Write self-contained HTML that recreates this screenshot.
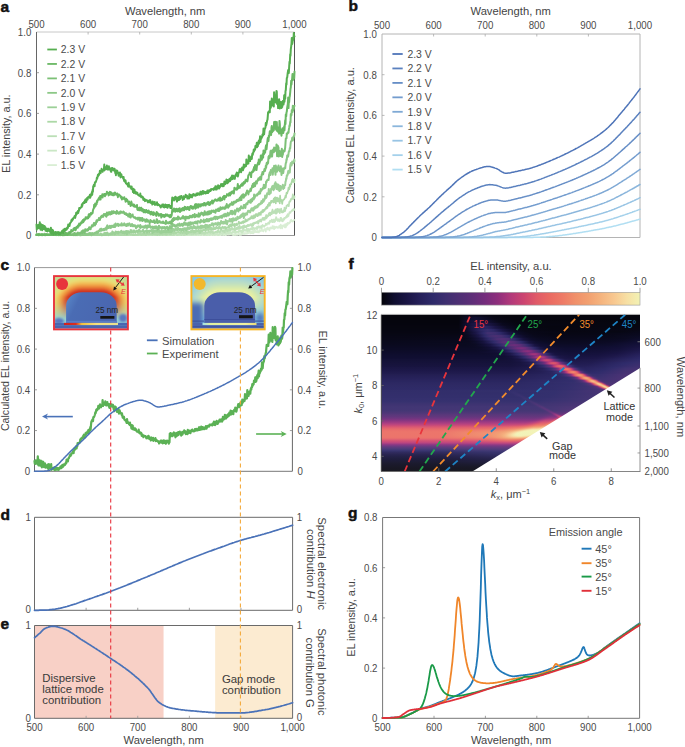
<!DOCTYPE html>
<html><head><meta charset="utf-8"><style>
html,body{margin:0;padding:0;background:#fff;}
svg{display:block;font-family:"Liberation Sans", sans-serif;}
</style></head><body>
<svg width="685" height="747" viewBox="0 0 685 747">
<rect width="685" height="747" fill="#fff"/>
<line x1="36.50" y1="32.00" x2="294.50" y2="32.00" stroke="#c8c8c8" stroke-width="1" />
<line x1="36.50" y1="235.50" x2="294.50" y2="235.50" stroke="#9a9a9a" stroke-width="1" />
<line x1="36.50" y1="32.00" x2="36.50" y2="235.50" stroke="#666" stroke-width="1" />
<line x1="294.50" y1="32.00" x2="294.50" y2="235.50" stroke="#555" stroke-width="1" />
<line x1="36.50" y1="194.80" x2="39.00" y2="194.80" stroke="#888" stroke-width="0.8" />
<line x1="36.50" y1="154.10" x2="39.00" y2="154.10" stroke="#888" stroke-width="0.8" />
<line x1="36.50" y1="113.40" x2="39.00" y2="113.40" stroke="#888" stroke-width="0.8" />
<line x1="36.50" y1="72.70" x2="39.00" y2="72.70" stroke="#888" stroke-width="0.8" />
<text x="31.30" y="238.99" font-size="9.7" text-anchor="end" fill="#4a4a4a" font-weight="normal" transform="translate(0 -23.55) scale(1 1.1)" >0</text>
<text x="31.30" y="198.29" font-size="9.7" text-anchor="end" fill="#4a4a4a" font-weight="normal" transform="translate(0 -19.48) scale(1 1.1)" >0.2</text>
<text x="31.30" y="157.59" font-size="9.7" text-anchor="end" fill="#4a4a4a" font-weight="normal" transform="translate(0 -15.41) scale(1 1.1)" >0.4</text>
<text x="31.30" y="116.89" font-size="9.7" text-anchor="end" fill="#4a4a4a" font-weight="normal" transform="translate(0 -11.34) scale(1 1.1)" >0.6</text>
<text x="31.30" y="76.19" font-size="9.7" text-anchor="end" fill="#4a4a4a" font-weight="normal" transform="translate(0 -7.27) scale(1 1.1)" >0.8</text>
<text x="31.30" y="35.49" font-size="9.7" text-anchor="end" fill="#4a4a4a" font-weight="normal" transform="translate(0 -3.20) scale(1 1.1)" >1.0</text>
<text x="36.50" y="27.49" font-size="9.7" text-anchor="middle" fill="#4a4a4a" font-weight="normal" transform="translate(0 -2.40) scale(1 1.1)" >500</text>
<text x="88.10" y="27.49" font-size="9.7" text-anchor="middle" fill="#4a4a4a" font-weight="normal" transform="translate(0 -2.40) scale(1 1.1)" >600</text>
<line x1="88.10" y1="32.00" x2="88.10" y2="34.50" stroke="#aaa" stroke-width="0.8" />
<text x="139.70" y="27.49" font-size="9.7" text-anchor="middle" fill="#4a4a4a" font-weight="normal" transform="translate(0 -2.40) scale(1 1.1)" >700</text>
<line x1="139.70" y1="32.00" x2="139.70" y2="34.50" stroke="#aaa" stroke-width="0.8" />
<text x="191.30" y="27.49" font-size="9.7" text-anchor="middle" fill="#4a4a4a" font-weight="normal" transform="translate(0 -2.40) scale(1 1.1)" >800</text>
<line x1="191.30" y1="32.00" x2="191.30" y2="34.50" stroke="#aaa" stroke-width="0.8" />
<text x="242.90" y="27.49" font-size="9.7" text-anchor="middle" fill="#4a4a4a" font-weight="normal" transform="translate(0 -2.40) scale(1 1.1)" >900</text>
<line x1="242.90" y1="32.00" x2="242.90" y2="34.50" stroke="#aaa" stroke-width="0.8" />
<text x="294.50" y="27.49" font-size="9.7" text-anchor="middle" fill="#4a4a4a" font-weight="normal" transform="translate(0 -2.40) scale(1 1.1)" >1,000</text>
<text x="165.20" y="15.03" font-size="11.2" text-anchor="middle" fill="#444444" font-weight="normal" >Wavelength, nm</text>
<text x="6.00" y="137.59" font-size="10.8" text-anchor="middle" fill="#444444" font-weight="normal" transform="rotate(-90 6.00 133.70)" >EL intensity, a.u.</text>
<text x="0.5" y="11.5" font-size="15.5" font-weight="bold" fill="#111" stroke="#111" stroke-width="0.5">a</text>
<path d="M36.5,233.4 36.8,235.1 37.2,234.1 37.5,235.1 37.8,235.0 38.2,234.7 38.5,235.1 38.8,235.1 39.2,235.0 39.5,233.7 39.8,235.1 40.2,234.8 40.5,235.1 40.8,234.8 41.2,233.7 41.5,234.4 41.8,235.1 42.2,235.1 42.5,235.1 42.8,235.1 43.2,235.1 43.5,234.0 43.8,235.1 44.2,233.7 44.5,235.1 44.8,235.1 45.2,235.1 45.5,235.1 45.8,235.1 46.2,235.1 46.5,235.1 46.8,235.1 47.2,235.1 47.5,234.7 47.8,235.0 48.2,235.1 48.5,234.7 48.8,235.1 49.2,235.1 49.5,235.1 49.9,235.1 50.2,234.5 50.5,235.1 50.9,235.1 51.2,235.1 51.5,235.1 51.9,235.1 52.2,235.1 52.5,234.0 52.9,235.1 53.2,235.1 53.5,235.1 53.9,235.1 54.2,235.1 54.5,235.0 54.9,235.1 55.2,234.4 55.5,235.1 55.9,235.1 56.2,235.1 56.5,235.1 56.9,234.9 57.2,233.5 57.5,235.1 57.9,234.3 58.2,234.8 58.5,235.1 58.9,235.1 59.2,235.1 59.5,235.1 59.9,235.1 60.2,235.1 60.5,235.1 60.9,234.8 61.2,235.1 61.5,235.1 61.9,233.5 62.2,234.8 62.5,235.1 62.9,235.0 63.2,235.1 63.5,235.1 63.9,234.9 64.2,235.1 64.5,235.1 64.9,235.1 65.2,234.5 65.5,235.1 65.9,235.1 66.2,235.1 66.5,235.1 66.9,235.1 67.2,235.1 67.5,235.1 67.9,235.1 68.2,235.1 68.5,235.1 68.9,234.1 69.2,235.1 69.5,235.1 69.9,235.1 70.2,234.4 70.5,235.1 70.9,235.1 71.2,235.1 71.5,234.7 71.9,235.1 72.2,235.1 72.5,235.1 72.9,235.1 73.2,235.1 73.5,235.1 73.9,235.1 74.2,235.1 74.5,235.1 74.9,235.1 75.2,234.4 75.6,233.9 75.9,235.1 76.2,235.1 76.6,234.8 76.9,235.1 77.2,235.1 77.6,235.1 77.9,234.9 78.2,235.1 78.6,235.1 78.9,235.0 79.2,235.1 79.6,235.1 79.9,235.1 80.2,235.1 80.6,235.1 80.9,235.1 81.2,235.1 81.6,235.1 81.9,235.1 82.2,234.5 82.6,235.1 82.9,235.1 83.2,234.7 83.6,235.1 83.9,235.1 84.2,234.4 84.6,235.1 84.9,235.1 85.2,235.0 85.6,235.1 85.9,235.0 86.2,235.1 86.6,235.1 86.9,234.9 87.2,235.1 87.6,235.0 87.9,235.1 88.2,235.1 88.6,235.1 88.9,235.1 89.2,234.8 89.6,235.1 89.9,235.1 90.2,235.1 90.6,234.9 90.9,235.1 91.2,235.1 91.6,235.1 91.9,235.1 92.2,234.3 92.6,234.1 92.9,235.0 93.2,235.1 93.6,235.1 93.9,234.8 94.2,235.1 94.6,235.1 94.9,234.1 95.2,235.1 95.6,235.1 95.9,235.1 96.2,235.1 96.6,235.1 96.9,235.1 97.2,235.1 97.6,235.1 97.9,235.1 98.2,234.9 98.6,235.1 98.9,235.1 99.2,235.1 99.6,235.1 99.9,235.1 100.2,234.1 100.6,234.5 100.9,235.0 101.3,235.1 101.6,235.1 101.9,233.7 102.3,235.1 102.6,235.1 102.9,234.5 103.3,234.2 103.6,234.8 103.9,234.2 104.3,235.1 104.6,234.2 104.9,235.1 105.3,234.9 105.6,235.1 105.9,235.0 106.3,235.1 106.6,235.0 106.9,235.1 107.3,235.1 107.6,235.1 107.9,234.9 108.3,235.1 108.6,235.1 108.9,235.1 109.3,234.4 109.6,235.1 109.9,235.1 110.3,234.4 110.6,235.1 110.9,235.1 111.3,235.1 111.6,235.1 111.9,235.1 112.3,234.7 112.6,234.9 112.9,234.4 113.3,235.1 113.6,235.1 113.9,235.1 114.3,234.3 114.6,235.0 114.9,233.5 115.3,233.9 115.6,235.1 115.9,234.7 116.3,234.7 116.6,234.6 116.9,235.1 117.3,235.1 117.6,235.1 117.9,234.5 118.3,235.1 118.6,235.1 118.9,235.1 119.3,235.1 119.6,235.1 119.9,235.1 120.3,235.1 120.6,234.7 120.9,235.1 121.3,235.1 121.6,235.1 121.9,235.1 122.3,235.1 122.6,235.1 122.9,235.1 123.3,235.1 123.6,233.7 123.9,235.1 124.3,234.4 124.6,235.1 124.9,235.0 125.3,235.1 125.6,235.1 125.9,234.8 126.3,235.1 126.6,234.4 127.0,235.1 127.3,235.1 127.6,235.1 128.0,234.7 128.3,235.0 128.6,235.1 129.0,235.1 129.3,235.1 129.6,235.1 130.0,235.1 130.3,235.1 130.6,234.7 131.0,235.1 131.3,235.1 131.6,235.1 132.0,235.1 132.3,235.1 132.6,235.0 133.0,235.1 133.3,235.1 133.6,235.1 134.0,234.4 134.3,235.1 134.6,234.3 135.0,235.0 135.3,235.1 135.6,234.4 136.0,235.1 136.3,234.8 136.6,235.1 137.0,235.1 137.3,235.1 137.6,235.1 138.0,234.7 138.3,235.0 138.6,235.1 139.0,235.1 139.3,235.1 139.6,235.1 140.0,235.1 140.3,235.1 140.6,235.1 141.0,235.1 141.3,235.1 141.6,234.5 142.0,235.1 142.3,235.1 142.6,234.4 143.0,234.6 143.3,235.1 143.6,235.1 144.0,235.1 144.3,235.1 144.6,235.1 145.0,235.1 145.3,235.1 145.6,235.1 146.0,234.3 146.3,234.8 146.6,235.1 147.0,235.1 147.3,234.9 147.6,235.1 148.0,235.1 148.3,235.1 148.6,235.1 149.0,235.1 149.3,235.1 149.6,234.0 150.0,235.1 150.3,235.1 150.6,235.1 151.0,235.1 151.3,235.0 151.6,234.5 152.0,235.1 152.3,234.8 152.7,234.8 153.0,235.1 153.3,235.1 153.7,235.1 154.0,235.1 154.3,235.1 154.7,235.1 155.0,234.5 155.3,235.1 155.7,235.1 156.0,235.1 156.3,235.1 156.7,235.1 157.0,235.1 157.3,235.1 157.7,235.1 158.0,235.1 158.3,235.1 158.7,235.1 159.0,235.1 159.3,235.1 159.7,235.1 160.0,235.1 160.3,235.1 160.7,235.1 161.0,235.1 161.3,235.1 161.7,235.1 162.0,235.1 162.3,234.9 162.7,235.1 163.0,235.1 163.3,235.1 163.7,235.1 164.0,233.9 164.3,235.1 164.7,235.1 165.0,235.1 165.3,235.0 165.7,234.9 166.0,234.9 166.3,234.9 166.7,235.1 167.0,235.1 167.3,235.1 167.7,235.1 168.0,235.1 168.3,234.1 168.7,235.1 169.0,234.3 169.3,235.1 169.7,235.0 170.0,235.1 170.3,234.4 170.7,234.8 171.0,235.1 171.3,234.3 171.7,235.1 172.0,235.1 172.3,235.1 172.7,235.1 173.0,235.1 173.3,235.1 173.7,235.1 174.0,235.1 174.3,235.1 174.7,234.1 175.0,235.1 175.3,235.1 175.7,235.1 176.0,233.7 176.3,235.1 176.7,235.1 177.0,235.1 177.3,235.1 177.7,235.1 178.0,234.8 178.3,235.1 178.7,235.1 179.0,235.1 179.4,235.1 179.7,235.1 180.0,235.1 180.4,235.1 180.7,234.7 181.0,234.3 181.4,234.8 181.7,235.1 182.0,235.1 182.4,234.7 182.7,235.1 183.0,235.1 183.4,235.1 183.7,235.1 184.0,235.1 184.4,235.1 184.7,235.1 185.0,235.1 185.4,235.1 185.7,235.1 186.0,233.5 186.4,235.1 186.7,234.6 187.0,235.1 187.4,234.5 187.7,235.1 188.0,235.1 188.4,235.1 188.7,235.1 189.0,235.1 189.4,235.1 189.7,235.1 190.0,234.3 190.4,234.6 190.7,234.8 191.0,235.1 191.4,235.1 191.7,235.1 192.0,235.1 192.4,235.1 192.7,235.1 193.0,234.6 193.4,234.7 193.7,235.1 194.0,235.1 194.4,234.5 194.7,235.1 195.0,235.1 195.4,235.1 195.7,235.1 196.0,235.1 196.4,235.1 196.7,235.1 197.0,235.1 197.4,235.1 197.7,235.1 198.0,234.9 198.4,234.8 198.7,234.8 199.0,235.1 199.4,235.1 199.7,235.1 200.0,235.1 200.4,234.1 200.7,235.1 201.0,235.1 201.4,235.1 201.7,235.1 202.0,235.1 202.4,235.1 202.7,235.1 203.0,234.0 203.4,234.8 203.7,234.2 204.0,235.1 204.4,234.9 204.7,233.9 205.1,234.4 205.4,235.1 205.7,235.1 206.1,235.1 206.4,234.8 206.7,235.1 207.1,235.1 207.4,234.8 207.7,235.1 208.1,235.1 208.4,235.1 208.7,234.3 209.1,235.1 209.4,234.9 209.7,235.1 210.1,234.9 210.4,234.8 210.7,235.1 211.1,235.1 211.4,235.1 211.7,235.1 212.1,235.1 212.4,234.9 212.7,235.1 213.1,235.0 213.4,235.1 213.7,235.1 214.1,235.1 214.4,234.8 214.7,234.6 215.1,234.1 215.4,235.1 215.7,235.1 216.1,235.1 216.4,234.3 216.7,234.7 217.1,235.1 217.4,234.7 217.7,234.9 218.1,234.8 218.4,234.9 218.7,235.1 219.1,235.1 219.4,233.7 219.7,235.1 220.1,234.5 220.4,235.1 220.7,235.1 221.1,235.1 221.4,234.5 221.7,234.6 222.1,234.4 222.4,234.2 222.7,235.0 223.1,235.1 223.4,235.1 223.7,234.9 224.1,234.5 224.4,234.4 224.7,234.2 225.1,235.1 225.4,234.8 225.7,235.1 226.1,234.9 226.4,233.8 226.7,235.0 227.1,233.9 227.4,233.2 227.7,233.1 228.1,234.4 228.4,234.6 228.7,234.1 229.1,234.2 229.4,234.4 229.7,234.5 230.1,234.1 230.4,233.9 230.8,234.1 231.1,234.3 231.4,233.9 231.8,233.8 232.1,234.0 232.4,234.6 232.8,235.0 233.1,234.3 233.4,235.1 233.8,234.8 234.1,234.7 234.4,233.8 234.8,235.0 235.1,235.1 235.4,233.8 235.8,233.8 236.1,235.0 236.4,234.0 236.8,234.2 237.1,234.7 237.4,234.8 237.8,234.5 238.1,233.9 238.4,233.8 238.8,233.1 239.1,233.8 239.4,234.5 239.8,235.0 240.1,234.5 240.4,234.0 240.8,234.1 241.1,235.0 241.4,232.4 241.8,232.7 242.1,233.4 242.4,234.0 242.8,234.2 243.1,232.8 243.4,233.6 243.8,232.8 244.1,233.1 244.4,234.0 244.8,233.2 245.1,233.1 245.4,233.3 245.8,233.1 246.1,233.8 246.4,233.1 246.8,233.1 247.1,232.7 247.4,233.5 247.8,231.9 248.1,232.2 248.4,233.2 248.8,232.3 249.1,232.6 249.4,232.5 249.8,231.5 250.1,232.5 250.4,233.4 250.8,231.3 251.1,232.7 251.4,232.1 251.8,233.2 252.1,231.5 252.4,232.7 252.8,233.1 253.1,233.4 253.4,232.4 253.8,230.8 254.1,232.6 254.4,231.6 254.8,231.8 255.1,230.5 255.4,230.9 255.8,232.1 256.1,232.2 256.5,232.2 256.8,232.0 257.1,230.9 257.5,231.1 257.8,232.3 258.1,231.7 258.5,231.3 258.8,232.5 259.1,230.9 259.5,230.1 259.8,231.7 260.1,230.2 260.5,230.9 260.8,231.0 261.1,230.6 261.5,230.7 261.8,229.4 262.1,230.9 262.5,230.0 262.8,230.3 263.1,230.5 263.5,231.4 263.8,229.8 264.1,230.0 264.5,229.1 264.8,229.6 265.1,229.4 265.5,229.5 265.8,231.6 266.1,228.6 266.5,228.6 266.8,229.0 267.1,228.7 267.5,227.5 267.8,229.6 268.1,228.1 268.5,228.7 268.8,228.3 269.1,228.4 269.5,230.3 269.8,228.3 270.1,227.6 270.5,227.9 270.8,227.4 271.1,228.5 271.5,228.2 271.8,228.3 272.1,228.5 272.5,226.1 272.8,227.2 273.1,227.5 273.5,226.4 273.8,228.4 274.1,229.1 274.5,226.6 274.8,228.3 275.1,226.9 275.5,227.3 275.8,227.9 276.1,227.4 276.5,226.9 276.8,226.7 277.1,227.0 277.5,227.2 277.8,228.0 278.1,227.9 278.5,227.6 278.8,227.4 279.1,226.2 279.5,226.7 279.8,227.6 280.1,225.3 280.5,228.3 280.8,224.6 281.1,227.0 281.5,227.3 281.8,227.2 282.2,228.4 282.5,225.7 282.8,226.8 283.2,226.2 283.5,225.2 283.8,225.9 284.2,225.5 284.5,225.9 284.8,227.3 285.2,224.2 285.5,225.9 285.8,227.4 286.2,225.2 286.5,225.9 286.8,223.7 287.2,225.1 287.5,222.8 287.8,224.4 288.2,223.1 288.5,223.4 288.8,223.4 289.2,223.5 289.5,222.3 289.8,222.8 290.2,222.6 290.5,220.3 290.8,220.3 291.2,219.7 291.5,220.8 291.8,221.0 292.2,221.7 292.5,221.4 292.8,221.0 293.2,221.3 293.5,220.0 293.8,220.1 294.2,220.1 294.5,219.9" fill="none" stroke="#d9eed4" stroke-width="1.7" stroke-linejoin="round" stroke-linecap="round" />
<path d="M36.5,235.1 36.8,235.1 37.2,235.1 37.5,234.2 37.8,235.1 38.2,235.1 38.5,235.1 38.8,234.4 39.2,235.1 39.5,235.1 39.8,234.3 40.2,234.6 40.5,235.1 40.8,235.1 41.2,235.1 41.5,235.1 41.8,235.1 42.2,235.1 42.5,234.6 42.8,235.1 43.2,235.1 43.5,235.1 43.8,235.1 44.2,235.1 44.5,235.0 44.8,235.1 45.2,235.1 45.5,234.8 45.8,235.1 46.2,235.1 46.5,235.1 46.8,235.1 47.2,235.1 47.5,235.1 47.8,235.1 48.2,234.8 48.5,234.2 48.8,235.1 49.2,235.1 49.5,235.1 49.9,235.1 50.2,235.1 50.5,235.1 50.9,235.1 51.2,235.1 51.5,234.9 51.9,233.3 52.2,235.1 52.5,235.1 52.9,235.0 53.2,234.2 53.5,235.1 53.9,235.1 54.2,235.1 54.5,235.1 54.9,235.1 55.2,235.1 55.5,235.1 55.9,233.7 56.2,235.0 56.5,235.1 56.9,235.1 57.2,235.1 57.5,235.1 57.9,235.1 58.2,235.1 58.5,234.3 58.9,234.5 59.2,235.1 59.5,235.1 59.9,235.1 60.2,235.1 60.5,235.1 60.9,235.1 61.2,235.1 61.5,234.8 61.9,235.1 62.2,235.0 62.5,235.1 62.9,235.1 63.2,235.1 63.5,234.4 63.9,235.1 64.2,234.9 64.5,235.1 64.9,234.8 65.2,235.1 65.5,235.1 65.9,235.1 66.2,235.1 66.5,235.1 66.9,234.6 67.2,235.1 67.5,235.1 67.9,235.1 68.2,234.8 68.5,235.1 68.9,235.1 69.2,235.1 69.5,234.5 69.9,234.7 70.2,235.1 70.5,235.1 70.9,235.1 71.2,235.1 71.5,235.1 71.9,235.1 72.2,235.1 72.5,235.1 72.9,234.8 73.2,235.1 73.5,235.1 73.9,235.1 74.2,235.1 74.5,235.0 74.9,234.9 75.2,234.6 75.6,235.1 75.9,235.1 76.2,234.8 76.6,235.1 76.9,235.1 77.2,235.1 77.6,235.1 77.9,235.1 78.2,235.1 78.6,235.1 78.9,235.1 79.2,235.1 79.6,235.1 79.9,235.1 80.2,234.9 80.6,235.1 80.9,235.1 81.2,234.4 81.6,235.1 81.9,234.8 82.2,235.1 82.6,235.1 82.9,235.1 83.2,234.8 83.6,235.1 83.9,235.1 84.2,235.1 84.6,234.8 84.9,234.4 85.2,235.1 85.6,235.1 85.9,235.1 86.2,234.9 86.6,235.1 86.9,234.0 87.2,235.1 87.6,235.1 87.9,235.1 88.2,235.1 88.6,235.0 88.9,235.1 89.2,235.1 89.6,235.1 89.9,234.8 90.2,234.7 90.6,235.0 90.9,235.1 91.2,235.1 91.6,234.7 91.9,234.5 92.2,235.1 92.6,235.1 92.9,234.2 93.2,235.1 93.6,235.1 93.9,233.9 94.2,235.1 94.6,235.1 94.9,235.1 95.2,235.1 95.6,235.1 95.9,234.1 96.2,235.1 96.6,233.8 96.9,235.1 97.2,235.1 97.6,235.1 97.9,235.1 98.2,235.1 98.6,234.2 98.9,235.1 99.2,235.1 99.6,235.1 99.9,235.1 100.2,235.1 100.6,234.1 100.9,235.1 101.3,234.6 101.6,235.1 101.9,235.1 102.3,235.1 102.6,235.0 102.9,235.1 103.3,234.7 103.6,234.9 103.9,235.1 104.3,235.1 104.6,235.1 104.9,235.1 105.3,235.1 105.6,235.1 105.9,235.1 106.3,235.1 106.6,235.1 106.9,235.1 107.3,235.1 107.6,233.9 107.9,235.1 108.3,234.4 108.6,235.1 108.9,235.1 109.3,235.1 109.6,235.1 109.9,235.1 110.3,235.1 110.6,235.1 110.9,235.1 111.3,235.1 111.6,235.1 111.9,235.1 112.3,235.1 112.6,235.1 112.9,235.1 113.3,235.1 113.6,234.6 113.9,235.1 114.3,234.3 114.6,235.1 114.9,235.1 115.3,235.1 115.6,235.1 115.9,235.1 116.3,235.1 116.6,235.1 116.9,234.6 117.3,235.1 117.6,235.1 117.9,235.1 118.3,234.6 118.6,235.1 118.9,235.1 119.3,234.5 119.6,235.1 119.9,235.1 120.3,235.1 120.6,234.7 120.9,233.9 121.3,234.4 121.6,235.1 121.9,235.1 122.3,235.1 122.6,235.1 122.9,234.4 123.3,235.1 123.6,235.1 123.9,235.1 124.3,235.1 124.6,235.1 124.9,235.1 125.3,235.1 125.6,235.1 125.9,235.1 126.3,235.1 126.6,235.1 127.0,234.8 127.3,233.9 127.6,234.7 128.0,235.1 128.3,235.1 128.6,234.7 129.0,235.1 129.3,235.1 129.6,234.7 130.0,235.1 130.3,234.8 130.6,235.1 131.0,234.9 131.3,235.1 131.6,235.1 132.0,235.1 132.3,235.0 132.6,235.1 133.0,235.1 133.3,235.1 133.6,234.5 134.0,235.1 134.3,235.1 134.6,234.9 135.0,235.1 135.3,235.1 135.6,235.1 136.0,235.1 136.3,235.1 136.6,234.8 137.0,235.1 137.3,235.1 137.6,234.7 138.0,234.0 138.3,235.1 138.6,235.1 139.0,235.1 139.3,235.0 139.6,235.1 140.0,235.1 140.3,235.1 140.6,235.1 141.0,235.1 141.3,235.1 141.6,235.1 142.0,235.1 142.3,235.1 142.6,235.1 143.0,235.1 143.3,235.1 143.6,235.1 144.0,235.0 144.3,234.5 144.6,235.1 145.0,235.1 145.3,234.5 145.6,234.9 146.0,235.1 146.3,235.1 146.6,235.1 147.0,234.2 147.3,235.1 147.6,235.1 148.0,235.1 148.3,234.5 148.6,234.7 149.0,234.7 149.3,234.7 149.6,235.1 150.0,235.1 150.3,235.1 150.6,235.1 151.0,235.1 151.3,235.1 151.6,235.1 152.0,234.7 152.3,235.1 152.7,235.1 153.0,234.3 153.3,235.1 153.7,235.1 154.0,235.1 154.3,235.1 154.7,234.2 155.0,235.1 155.3,235.1 155.7,234.6 156.0,234.0 156.3,235.1 156.7,235.1 157.0,235.1 157.3,235.1 157.7,234.9 158.0,235.1 158.3,235.1 158.7,235.1 159.0,235.1 159.3,234.9 159.7,235.1 160.0,235.1 160.3,234.9 160.7,235.1 161.0,235.1 161.3,235.1 161.7,235.0 162.0,235.1 162.3,235.1 162.7,235.1 163.0,235.1 163.3,235.1 163.7,235.1 164.0,234.5 164.3,235.1 164.7,235.1 165.0,235.1 165.3,234.2 165.7,235.1 166.0,235.1 166.3,235.1 166.7,234.8 167.0,235.1 167.3,234.6 167.7,235.1 168.0,235.1 168.3,235.1 168.7,235.1 169.0,235.1 169.3,235.1 169.7,235.1 170.0,234.4 170.3,235.1 170.7,234.9 171.0,235.1 171.3,234.8 171.7,234.6 172.0,235.1 172.3,234.8 172.7,235.1 173.0,234.3 173.3,235.1 173.7,235.1 174.0,235.1 174.3,235.1 174.7,235.0 175.0,234.9 175.3,235.0 175.7,233.3 176.0,234.7 176.3,235.1 176.7,235.1 177.0,234.7 177.3,235.1 177.7,235.1 178.0,234.3 178.3,235.1 178.7,235.1 179.0,235.1 179.4,235.0 179.7,234.9 180.0,235.0 180.4,235.0 180.7,235.1 181.0,235.1 181.4,234.9 181.7,235.1 182.0,234.4 182.4,235.1 182.7,235.1 183.0,234.8 183.4,234.9 183.7,235.0 184.0,235.1 184.4,235.1 184.7,235.1 185.0,235.1 185.4,234.8 185.7,234.0 186.0,235.1 186.4,235.1 186.7,233.4 187.0,235.1 187.4,234.0 187.7,234.4 188.0,234.3 188.4,235.1 188.7,234.9 189.0,234.7 189.4,235.1 189.7,234.0 190.0,235.1 190.4,235.1 190.7,235.1 191.0,235.1 191.4,234.4 191.7,235.1 192.0,234.6 192.4,235.1 192.7,233.7 193.0,235.1 193.4,234.2 193.7,234.8 194.0,234.9 194.4,234.5 194.7,234.8 195.0,234.3 195.4,233.5 195.7,235.1 196.0,235.1 196.4,234.1 196.7,235.1 197.0,233.6 197.4,233.9 197.7,233.8 198.0,233.9 198.4,234.8 198.7,234.5 199.0,234.9 199.4,233.8 199.7,232.6 200.0,234.3 200.4,234.8 200.7,234.3 201.0,235.1 201.4,234.6 201.7,233.7 202.0,234.4 202.4,234.2 202.7,233.7 203.0,233.8 203.4,234.1 203.7,234.4 204.0,233.5 204.4,234.9 204.7,234.5 205.1,233.8 205.4,233.8 205.7,233.5 206.1,235.1 206.4,235.0 206.7,234.0 207.1,235.1 207.4,233.6 207.7,233.8 208.1,233.7 208.4,234.7 208.7,234.1 209.1,234.4 209.4,235.1 209.7,234.6 210.1,233.5 210.4,234.2 210.7,234.5 211.1,234.1 211.4,233.0 211.7,234.2 212.1,233.9 212.4,233.6 212.7,235.1 213.1,234.5 213.4,234.3 213.7,233.5 214.1,234.1 214.4,234.0 214.7,234.7 215.1,234.8 215.4,232.9 215.7,233.7 216.1,232.8 216.4,234.4 216.7,233.6 217.1,233.1 217.4,233.9 217.7,233.7 218.1,234.7 218.4,235.1 218.7,234.4 219.1,234.8 219.4,234.6 219.7,233.6 220.1,233.8 220.4,232.8 220.7,232.6 221.1,232.9 221.4,233.2 221.7,233.6 222.1,232.9 222.4,234.3 222.7,234.0 223.1,232.6 223.4,233.5 223.7,232.6 224.1,232.9 224.4,233.0 224.7,232.6 225.1,233.1 225.4,233.6 225.7,233.3 226.1,232.5 226.4,233.8 226.7,231.9 227.1,233.0 227.4,232.6 227.7,232.3 228.1,232.0 228.4,233.5 228.7,232.7 229.1,233.5 229.4,232.5 229.7,232.4 230.1,232.4 230.4,232.6 230.8,232.9 231.1,232.6 231.4,234.0 231.8,232.4 232.1,232.3 232.4,231.9 232.8,231.7 233.1,232.3 233.4,232.1 233.8,232.1 234.1,231.7 234.4,232.2 234.8,230.9 235.1,231.1 235.4,232.7 235.8,232.4 236.1,232.6 236.4,232.0 236.8,232.2 237.1,231.6 237.4,231.6 237.8,231.9 238.1,232.2 238.4,232.1 238.8,230.6 239.1,231.7 239.4,231.1 239.8,231.7 240.1,230.2 240.4,231.6 240.8,231.8 241.1,231.7 241.4,230.9 241.8,231.9 242.1,232.6 242.4,230.1 242.8,229.6 243.1,229.6 243.4,231.2 243.8,230.2 244.1,230.1 244.4,229.8 244.8,230.6 245.1,230.7 245.4,230.1 245.8,230.7 246.1,231.1 246.4,229.8 246.8,228.5 247.1,230.4 247.4,230.1 247.8,231.3 248.1,228.8 248.4,229.0 248.8,230.4 249.1,229.8 249.4,230.9 249.8,229.0 250.1,229.5 250.4,228.5 250.8,228.9 251.1,228.6 251.4,229.5 251.8,229.1 252.1,227.6 252.4,229.7 252.8,229.8 253.1,227.5 253.4,228.6 253.8,227.9 254.1,228.1 254.4,228.0 254.8,229.2 255.1,228.6 255.4,228.3 255.8,228.4 256.1,227.7 256.5,227.8 256.8,229.1 257.1,226.7 257.5,228.8 257.8,226.9 258.1,227.5 258.5,226.8 258.8,226.1 259.1,227.7 259.5,227.0 259.8,226.9 260.1,228.0 260.5,227.9 260.8,226.4 261.1,226.0 261.5,226.6 261.8,228.1 262.1,226.0 262.5,225.0 262.8,226.0 263.1,226.0 263.5,225.9 263.8,225.6 264.1,226.9 264.5,225.8 264.8,225.7 265.1,225.7 265.5,225.1 265.8,223.7 266.1,224.2 266.5,224.1 266.8,224.9 267.1,223.5 267.5,223.5 267.8,223.7 268.1,222.8 268.5,223.0 268.8,222.3 269.1,224.0 269.5,222.9 269.8,221.5 270.1,220.5 270.5,221.7 270.8,221.9 271.1,221.8 271.5,221.2 271.8,219.6 272.1,221.1 272.5,222.1 272.8,221.9 273.1,221.2 273.5,219.6 273.8,221.3 274.1,222.2 274.5,220.2 274.8,221.1 275.1,221.6 275.5,218.6 275.8,219.3 276.1,217.2 276.5,218.0 276.8,219.0 277.1,220.3 277.5,219.5 277.8,221.0 278.1,219.3 278.5,219.2 278.8,220.5 279.1,220.4 279.5,221.3 279.8,220.1 280.1,220.2 280.5,217.9 280.8,220.6 281.1,217.9 281.5,220.8 281.8,220.6 282.2,220.6 282.5,219.8 282.8,221.4 283.2,218.7 283.5,218.7 283.8,219.9 284.2,219.4 284.5,217.9 284.8,218.8 285.2,217.7 285.5,217.9 285.8,217.2 286.2,217.6 286.5,216.6 286.8,215.4 287.2,215.5 287.5,216.8 287.8,214.1 288.2,215.5 288.5,216.1 288.8,214.3 289.2,213.8 289.5,212.1 289.8,212.5 290.2,212.9 290.5,212.7 290.8,211.7 291.2,211.2 291.5,210.8 291.8,210.5 292.2,210.5 292.5,209.6 292.8,210.8 293.2,210.6 293.5,209.6 293.8,208.7 294.2,210.0 294.5,209.8" fill="none" stroke="#cae7c5" stroke-width="1.7" stroke-linejoin="round" stroke-linecap="round" />
<path d="M36.5,234.9 36.8,235.1 37.2,235.1 37.5,235.1 37.8,234.8 38.2,235.1 38.5,234.7 38.8,235.1 39.2,235.1 39.5,235.1 39.8,235.1 40.2,235.1 40.5,235.0 40.8,235.1 41.2,234.9 41.5,235.1 41.8,235.1 42.2,235.1 42.5,235.1 42.8,235.1 43.2,235.1 43.5,234.9 43.8,235.1 44.2,235.1 44.5,235.1 44.8,234.9 45.2,235.1 45.5,235.1 45.8,235.1 46.2,234.8 46.5,235.1 46.8,235.1 47.2,233.5 47.5,235.1 47.8,235.1 48.2,235.1 48.5,235.1 48.8,235.1 49.2,235.1 49.5,235.1 49.9,235.1 50.2,235.1 50.5,234.9 50.9,235.1 51.2,235.1 51.5,235.1 51.9,235.1 52.2,235.1 52.5,235.1 52.9,235.1 53.2,235.1 53.5,235.1 53.9,234.8 54.2,235.0 54.5,235.1 54.9,234.3 55.2,235.0 55.5,235.1 55.9,235.1 56.2,234.9 56.5,235.1 56.9,235.1 57.2,235.1 57.5,234.5 57.9,235.1 58.2,234.8 58.5,235.1 58.9,235.1 59.2,235.1 59.5,234.8 59.9,235.1 60.2,234.8 60.5,234.7 60.9,235.1 61.2,235.1 61.5,235.1 61.9,235.1 62.2,233.8 62.5,235.1 62.9,235.1 63.2,235.1 63.5,235.1 63.9,235.1 64.2,235.1 64.5,234.8 64.9,235.1 65.2,235.1 65.5,234.3 65.9,235.1 66.2,235.1 66.5,234.4 66.9,235.1 67.2,235.1 67.5,235.1 67.9,235.1 68.2,235.1 68.5,235.1 68.9,235.1 69.2,235.1 69.5,235.1 69.9,235.0 70.2,234.8 70.5,235.1 70.9,234.5 71.2,235.1 71.5,235.1 71.9,235.1 72.2,234.3 72.5,235.1 72.9,235.1 73.2,235.1 73.5,235.1 73.9,235.1 74.2,235.1 74.5,235.0 74.9,235.1 75.2,234.3 75.6,235.1 75.9,234.9 76.2,235.1 76.6,234.8 76.9,235.1 77.2,234.5 77.6,234.9 77.9,234.9 78.2,234.6 78.6,235.1 78.9,235.1 79.2,235.1 79.6,235.1 79.9,235.1 80.2,235.1 80.6,234.5 80.9,235.1 81.2,235.1 81.6,235.1 81.9,235.1 82.2,235.1 82.6,235.1 82.9,235.1 83.2,235.1 83.6,235.1 83.9,234.7 84.2,235.1 84.6,235.1 84.9,235.1 85.2,235.1 85.6,234.9 85.9,235.1 86.2,235.1 86.6,235.1 86.9,234.4 87.2,235.1 87.6,235.1 87.9,235.1 88.2,235.1 88.6,235.1 88.9,235.1 89.2,235.1 89.6,235.1 89.9,234.0 90.2,235.1 90.6,235.0 90.9,235.1 91.2,235.1 91.6,235.1 91.9,234.5 92.2,235.1 92.6,234.9 92.9,235.1 93.2,235.0 93.6,234.9 93.9,235.1 94.2,235.1 94.6,235.1 94.9,235.1 95.2,235.1 95.6,235.1 95.9,234.8 96.2,235.1 96.6,235.1 96.9,235.1 97.2,234.7 97.6,234.2 97.9,233.5 98.2,235.1 98.6,234.2 98.9,235.1 99.2,235.1 99.6,235.1 99.9,235.1 100.2,235.1 100.6,235.1 100.9,235.1 101.3,235.1 101.6,235.1 101.9,234.9 102.3,234.7 102.6,235.1 102.9,235.1 103.3,235.1 103.6,235.1 103.9,235.1 104.3,234.6 104.6,235.1 104.9,235.1 105.3,235.1 105.6,234.6 105.9,233.5 106.3,235.1 106.6,235.1 106.9,235.1 107.3,235.0 107.6,235.1 107.9,235.1 108.3,234.7 108.6,235.1 108.9,235.1 109.3,235.1 109.6,234.6 109.9,234.6 110.3,235.1 110.6,235.1 110.9,235.1 111.3,235.1 111.6,235.1 111.9,235.1 112.3,235.1 112.6,233.9 112.9,235.1 113.3,235.1 113.6,235.1 113.9,234.4 114.3,235.1 114.6,234.8 114.9,234.9 115.3,235.1 115.6,234.3 115.9,235.1 116.3,234.6 116.6,234.4 116.9,235.1 117.3,235.1 117.6,235.1 117.9,233.8 118.3,235.1 118.6,235.1 118.9,234.3 119.3,235.1 119.6,234.0 119.9,235.1 120.3,235.1 120.6,235.1 120.9,235.1 121.3,234.7 121.6,234.8 121.9,235.1 122.3,235.1 122.6,235.1 122.9,234.8 123.3,235.1 123.6,235.1 123.9,235.1 124.3,235.0 124.6,235.1 124.9,235.1 125.3,235.1 125.6,234.3 125.9,235.1 126.3,235.1 126.6,234.9 127.0,235.1 127.3,235.1 127.6,235.1 128.0,235.1 128.3,235.1 128.6,235.1 129.0,235.1 129.3,235.1 129.6,234.9 130.0,234.8 130.3,235.1 130.6,235.1 131.0,235.1 131.3,234.7 131.6,235.1 132.0,235.1 132.3,234.7 132.6,235.1 133.0,235.1 133.3,234.9 133.6,235.1 134.0,234.8 134.3,235.1 134.6,235.1 135.0,235.1 135.3,234.7 135.6,235.1 136.0,234.8 136.3,235.1 136.6,235.1 137.0,235.1 137.3,235.1 137.6,235.1 138.0,235.1 138.3,234.8 138.6,235.1 139.0,234.4 139.3,233.8 139.6,235.1 140.0,234.5 140.3,235.1 140.6,234.8 141.0,235.1 141.3,235.1 141.6,234.8 142.0,235.1 142.3,235.0 142.6,235.1 143.0,235.1 143.3,234.6 143.6,235.1 144.0,235.0 144.3,235.1 144.6,234.6 145.0,233.6 145.3,235.1 145.6,235.1 146.0,234.8 146.3,235.1 146.6,234.5 147.0,235.0 147.3,235.1 147.6,234.4 148.0,235.1 148.3,233.3 148.6,234.4 149.0,235.0 149.3,234.9 149.6,235.1 150.0,235.1 150.3,235.1 150.6,234.9 151.0,235.0 151.3,235.1 151.6,235.1 152.0,235.1 152.3,235.1 152.7,234.9 153.0,235.1 153.3,235.1 153.7,235.1 154.0,235.1 154.3,235.1 154.7,235.1 155.0,235.1 155.3,234.8 155.7,235.1 156.0,235.1 156.3,235.1 156.7,234.6 157.0,235.1 157.3,235.1 157.7,234.7 158.0,235.1 158.3,235.1 158.7,235.1 159.0,234.8 159.3,235.0 159.7,235.1 160.0,235.1 160.3,235.1 160.7,235.1 161.0,234.9 161.3,234.8 161.7,235.1 162.0,234.6 162.3,235.1 162.7,235.1 163.0,235.1 163.3,235.1 163.7,234.6 164.0,235.1 164.3,235.1 164.7,233.5 165.0,234.4 165.3,234.7 165.7,234.1 166.0,235.1 166.3,235.1 166.7,235.1 167.0,235.0 167.3,232.8 167.7,233.8 168.0,235.1 168.3,233.9 168.7,234.2 169.0,233.9 169.3,235.1 169.7,234.8 170.0,235.1 170.3,234.8 170.7,234.2 171.0,235.0 171.3,234.9 171.7,234.2 172.0,234.9 172.3,235.1 172.7,234.1 173.0,235.1 173.3,233.7 173.7,235.1 174.0,235.0 174.3,235.1 174.7,233.6 175.0,233.6 175.3,234.3 175.7,234.2 176.0,233.5 176.3,234.4 176.7,235.1 177.0,235.1 177.3,234.9 177.7,235.1 178.0,234.7 178.3,234.8 178.7,234.1 179.0,234.5 179.4,233.5 179.7,234.9 180.0,234.3 180.4,233.8 180.7,234.5 181.0,234.2 181.4,235.1 181.7,234.2 182.0,234.5 182.4,233.5 182.7,234.3 183.0,234.0 183.4,233.0 183.7,235.1 184.0,234.0 184.4,235.0 184.7,234.4 185.0,234.2 185.4,234.7 185.7,233.5 186.0,234.5 186.4,234.2 186.7,233.9 187.0,234.0 187.4,233.7 187.7,234.4 188.0,233.0 188.4,233.5 188.7,233.4 189.0,233.5 189.4,233.9 189.7,233.7 190.0,233.4 190.4,232.9 190.7,233.2 191.0,233.9 191.4,233.3 191.7,234.4 192.0,233.4 192.4,233.8 192.7,233.6 193.0,233.6 193.4,234.2 193.7,233.9 194.0,233.7 194.4,233.4 194.7,233.2 195.0,233.6 195.4,233.9 195.7,232.6 196.0,234.2 196.4,231.7 196.7,232.4 197.0,233.0 197.4,233.5 197.7,233.3 198.0,233.6 198.4,232.3 198.7,232.6 199.0,233.4 199.4,233.1 199.7,233.1 200.0,233.3 200.4,232.8 200.7,233.2 201.0,232.3 201.4,232.7 201.7,233.6 202.0,232.7 202.4,231.8 202.7,232.7 203.0,233.0 203.4,233.6 203.7,233.1 204.0,232.3 204.4,232.5 204.7,233.8 205.1,232.3 205.4,233.6 205.7,232.6 206.1,232.6 206.4,232.5 206.7,232.6 207.1,233.0 207.4,232.9 207.7,232.2 208.1,232.5 208.4,231.6 208.7,232.4 209.1,231.7 209.4,232.2 209.7,232.5 210.1,231.1 210.4,233.0 210.7,232.7 211.1,231.6 211.4,231.3 211.7,231.9 212.1,232.3 212.4,232.2 212.7,231.2 213.1,233.3 213.4,233.3 213.7,232.4 214.1,232.8 214.4,232.3 214.7,232.1 215.1,232.3 215.4,231.8 215.7,231.9 216.1,232.1 216.4,231.9 216.7,231.8 217.1,232.1 217.4,230.7 217.7,231.2 218.1,232.2 218.4,230.3 218.7,231.0 219.1,231.8 219.4,231.4 219.7,232.3 220.1,231.8 220.4,231.8 220.7,230.8 221.1,229.6 221.4,230.6 221.7,230.8 222.1,231.0 222.4,230.4 222.7,230.4 223.1,231.6 223.4,231.5 223.7,231.1 224.1,230.2 224.4,230.8 224.7,232.5 225.1,230.3 225.4,229.4 225.7,230.2 226.1,230.9 226.4,230.0 226.7,229.7 227.1,230.1 227.4,230.4 227.7,231.3 228.1,229.2 228.4,230.7 228.7,229.3 229.1,230.6 229.4,230.8 229.7,228.1 230.1,231.0 230.4,229.4 230.8,230.1 231.1,228.5 231.4,229.7 231.8,229.4 232.1,227.9 232.4,229.7 232.8,229.4 233.1,228.9 233.4,230.0 233.8,228.8 234.1,229.6 234.4,228.2 234.8,228.9 235.1,230.2 235.4,229.4 235.8,229.6 236.1,227.8 236.4,229.4 236.8,227.8 237.1,229.1 237.4,228.4 237.8,228.3 238.1,226.9 238.4,228.9 238.8,228.3 239.1,228.9 239.4,225.2 239.8,227.9 240.1,227.4 240.4,228.2 240.8,227.2 241.1,227.2 241.4,227.9 241.8,226.9 242.1,227.6 242.4,228.1 242.8,226.0 243.1,226.4 243.4,227.0 243.8,228.2 244.1,225.3 244.4,227.0 244.8,227.2 245.1,226.7 245.4,226.1 245.8,226.9 246.1,227.4 246.4,226.0 246.8,225.7 247.1,226.5 247.4,225.8 247.8,224.9 248.1,225.4 248.4,226.0 248.8,225.0 249.1,226.0 249.4,225.1 249.8,224.9 250.1,224.8 250.4,224.2 250.8,225.2 251.1,224.2 251.4,225.8 251.8,224.2 252.1,226.2 252.4,224.4 252.8,223.3 253.1,225.6 253.4,223.9 253.8,223.0 254.1,223.6 254.4,223.8 254.8,222.5 255.1,223.1 255.4,222.9 255.8,223.2 256.1,222.1 256.5,222.0 256.8,222.5 257.1,221.6 257.5,222.1 257.8,221.1 258.1,223.6 258.5,222.9 258.8,221.9 259.1,220.4 259.5,220.2 259.8,221.1 260.1,221.2 260.5,219.6 260.8,220.7 261.1,221.6 261.5,220.6 261.8,219.4 262.1,219.6 262.5,218.2 262.8,219.6 263.1,217.9 263.5,219.9 263.8,218.7 264.1,218.9 264.5,217.6 264.8,219.9 265.1,217.4 265.5,217.9 265.8,217.0 266.1,215.2 266.5,218.4 266.8,215.4 267.1,216.5 267.5,216.9 267.8,215.4 268.1,216.3 268.5,215.8 268.8,213.4 269.1,213.8 269.5,213.9 269.8,212.7 270.1,215.5 270.5,213.5 270.8,214.4 271.1,212.4 271.5,212.2 271.8,214.1 272.1,211.1 272.5,209.6 272.8,213.0 273.1,211.1 273.5,211.4 273.8,213.1 274.1,211.4 274.5,211.9 274.8,212.8 275.1,210.4 275.5,209.5 275.8,213.7 276.1,213.5 276.5,211.3 276.8,213.3 277.1,208.9 277.5,211.7 277.8,209.2 278.1,211.9 278.5,211.4 278.8,210.8 279.1,209.1 279.5,210.1 279.8,213.2 280.1,211.6 280.5,211.6 280.8,211.2 281.1,208.5 281.5,210.5 281.8,212.3 282.2,212.0 282.5,211.4 282.8,212.4 283.2,211.5 283.5,211.8 283.8,210.0 284.2,211.4 284.5,207.6 284.8,210.0 285.2,211.0 285.5,208.6 285.8,208.2 286.2,208.3 286.5,205.6 286.8,206.4 287.2,205.1 287.5,204.9 287.8,204.6 288.2,205.2 288.5,204.9 288.8,206.2 289.2,202.2 289.5,201.5 289.8,202.0 290.2,200.7 290.5,201.1 290.8,199.1 291.2,199.4 291.5,199.5 291.8,198.6 292.2,197.8 292.5,197.4 292.8,194.3 293.2,199.3 293.5,195.9 293.8,196.0 294.2,198.4 294.5,196.3" fill="none" stroke="#bbdfb6" stroke-width="1.7" stroke-linejoin="round" stroke-linecap="round" />
<path d="M36.5,235.1 36.8,234.6 37.2,234.1 37.5,235.1 37.8,235.1 38.2,234.7 38.5,235.1 38.8,234.9 39.2,234.4 39.5,235.1 39.8,234.7 40.2,235.1 40.5,234.8 40.8,235.1 41.2,235.1 41.5,235.1 41.8,235.1 42.2,235.1 42.5,235.1 42.8,235.1 43.2,235.1 43.5,235.1 43.8,234.9 44.2,235.1 44.5,235.1 44.8,235.1 45.2,234.8 45.5,235.1 45.8,235.1 46.2,235.1 46.5,235.1 46.8,234.8 47.2,235.1 47.5,235.1 47.8,235.1 48.2,235.1 48.5,234.5 48.8,235.1 49.2,235.1 49.5,235.1 49.9,234.9 50.2,235.0 50.5,235.1 50.9,235.1 51.2,234.0 51.5,235.1 51.9,235.1 52.2,235.1 52.5,235.1 52.9,235.1 53.2,235.1 53.5,235.1 53.9,235.1 54.2,235.1 54.5,233.8 54.9,235.1 55.2,234.8 55.5,235.1 55.9,235.1 56.2,235.1 56.5,235.1 56.9,235.1 57.2,235.1 57.5,235.1 57.9,235.1 58.2,234.8 58.5,235.1 58.9,235.1 59.2,235.1 59.5,235.1 59.9,234.8 60.2,234.4 60.5,235.1 60.9,234.9 61.2,234.1 61.5,235.0 61.9,235.1 62.2,234.6 62.5,235.1 62.9,235.1 63.2,235.1 63.5,235.1 63.9,235.1 64.2,235.1 64.5,235.1 64.9,235.1 65.2,234.4 65.5,234.2 65.9,235.1 66.2,235.1 66.5,235.1 66.9,235.1 67.2,235.1 67.5,235.1 67.9,235.1 68.2,235.1 68.5,235.1 68.9,235.1 69.2,233.8 69.5,234.5 69.9,235.1 70.2,235.1 70.5,235.1 70.9,234.9 71.2,235.1 71.5,235.1 71.9,235.1 72.2,235.1 72.5,235.1 72.9,235.0 73.2,234.9 73.5,235.1 73.9,235.1 74.2,235.1 74.5,235.1 74.9,235.1 75.2,234.9 75.6,235.1 75.9,235.1 76.2,234.7 76.6,235.1 76.9,235.1 77.2,234.0 77.6,234.7 77.9,235.1 78.2,234.5 78.6,235.1 78.9,235.1 79.2,235.1 79.6,234.7 79.9,235.1 80.2,235.1 80.6,234.0 80.9,235.0 81.2,235.1 81.6,235.1 81.9,235.1 82.2,234.9 82.6,235.1 82.9,235.1 83.2,234.7 83.6,235.1 83.9,234.8 84.2,235.1 84.6,235.1 84.9,235.1 85.2,234.6 85.6,235.1 85.9,235.1 86.2,235.1 86.6,235.1 86.9,235.1 87.2,235.1 87.6,235.1 87.9,235.1 88.2,235.1 88.6,234.2 88.9,235.1 89.2,235.1 89.6,233.4 89.9,234.8 90.2,235.1 90.6,235.1 90.9,235.1 91.2,234.9 91.6,235.1 91.9,235.1 92.2,234.2 92.6,235.1 92.9,235.1 93.2,235.1 93.6,234.7 93.9,234.7 94.2,234.3 94.6,235.1 94.9,235.1 95.2,235.1 95.6,235.1 95.9,235.1 96.2,234.2 96.6,235.1 96.9,235.1 97.2,235.1 97.6,235.1 97.9,235.1 98.2,235.1 98.6,235.1 98.9,235.1 99.2,235.1 99.6,234.7 99.9,235.1 100.2,235.1 100.6,235.1 100.9,234.0 101.3,234.2 101.6,235.1 101.9,235.1 102.3,235.1 102.6,234.7 102.9,235.1 103.3,235.1 103.6,235.1 103.9,235.1 104.3,235.1 104.6,235.1 104.9,235.0 105.3,235.1 105.6,235.1 105.9,235.1 106.3,235.1 106.6,234.9 106.9,235.1 107.3,235.1 107.6,234.1 107.9,234.3 108.3,235.1 108.6,234.5 108.9,235.1 109.3,235.1 109.6,235.0 109.9,235.0 110.3,234.9 110.6,235.1 110.9,234.6 111.3,235.1 111.6,235.1 111.9,233.3 112.3,234.5 112.6,235.1 112.9,235.0 113.3,235.1 113.6,235.1 113.9,235.1 114.3,235.1 114.6,235.1 114.9,234.7 115.3,233.5 115.6,234.8 115.9,234.9 116.3,235.1 116.6,234.1 116.9,235.0 117.3,233.9 117.6,235.0 117.9,233.8 118.3,235.1 118.6,235.1 118.9,235.1 119.3,235.1 119.6,234.8 119.9,234.9 120.3,235.1 120.6,235.1 120.9,235.1 121.3,234.6 121.6,235.1 121.9,234.5 122.3,234.5 122.6,234.8 122.9,235.1 123.3,233.5 123.6,234.6 123.9,235.1 124.3,234.6 124.6,235.1 124.9,234.7 125.3,235.1 125.6,233.2 125.9,234.9 126.3,234.4 126.6,235.1 127.0,234.1 127.3,233.6 127.6,234.4 128.0,235.1 128.3,234.4 128.6,234.7 129.0,233.9 129.3,234.3 129.6,234.3 130.0,234.6 130.3,234.7 130.6,234.5 131.0,233.5 131.3,234.5 131.6,234.0 132.0,234.8 132.3,234.7 132.6,235.1 133.0,234.6 133.3,235.0 133.6,235.1 134.0,235.1 134.3,235.1 134.6,234.8 135.0,234.8 135.3,233.6 135.6,234.4 136.0,234.9 136.3,234.8 136.6,234.8 137.0,234.8 137.3,234.1 137.6,234.9 138.0,234.3 138.3,233.7 138.6,234.8 139.0,234.4 139.3,233.2 139.6,234.0 140.0,234.6 140.3,233.9 140.6,234.5 141.0,234.9 141.3,233.7 141.6,235.0 142.0,234.8 142.3,234.4 142.6,233.7 143.0,233.8 143.3,234.7 143.6,234.3 144.0,234.5 144.3,233.6 144.6,234.0 145.0,234.7 145.3,233.6 145.6,235.1 146.0,234.5 146.3,235.1 146.6,233.5 147.0,234.3 147.3,233.7 147.6,232.2 148.0,233.9 148.3,233.9 148.6,234.5 149.0,233.9 149.3,234.4 149.6,233.7 150.0,233.7 150.3,233.9 150.6,234.2 151.0,234.2 151.3,234.1 151.6,234.2 152.0,233.7 152.3,234.6 152.7,234.3 153.0,233.8 153.3,232.8 153.7,233.8 154.0,234.2 154.3,234.2 154.7,233.0 155.0,234.5 155.3,234.5 155.7,234.1 156.0,234.6 156.3,234.3 156.7,233.7 157.0,234.2 157.3,235.1 157.7,233.7 158.0,233.3 158.3,234.3 158.7,232.6 159.0,233.7 159.3,233.7 159.7,234.8 160.0,232.1 160.3,232.4 160.7,232.9 161.0,232.6 161.3,234.3 161.7,234.2 162.0,233.5 162.3,233.8 162.7,234.6 163.0,233.6 163.3,233.1 163.7,233.9 164.0,232.7 164.3,233.5 164.7,234.0 165.0,234.3 165.3,234.5 165.7,233.1 166.0,234.7 166.3,233.2 166.7,233.2 167.0,234.6 167.3,233.2 167.7,233.5 168.0,232.3 168.3,233.2 168.7,233.6 169.0,233.1 169.3,232.5 169.7,234.1 170.0,234.0 170.3,232.8 170.7,231.9 171.0,234.4 171.3,232.3 171.7,233.0 172.0,232.2 172.3,232.3 172.7,233.1 173.0,233.2 173.3,231.1 173.7,233.7 174.0,232.6 174.3,231.6 174.7,232.7 175.0,232.1 175.3,232.6 175.7,233.1 176.0,232.1 176.3,232.5 176.7,233.0 177.0,232.0 177.3,232.7 177.7,232.3 178.0,232.8 178.3,231.3 178.7,231.7 179.0,232.2 179.4,232.5 179.7,232.5 180.0,232.5 180.4,233.0 180.7,231.2 181.0,232.9 181.4,231.6 181.7,231.6 182.0,232.4 182.4,232.3 182.7,233.1 183.0,232.3 183.4,232.6 183.7,231.4 184.0,232.6 184.4,232.5 184.7,231.5 185.0,233.3 185.4,232.5 185.7,231.1 186.0,232.1 186.4,231.3 186.7,234.1 187.0,232.4 187.4,232.0 187.7,232.9 188.0,231.1 188.4,232.9 188.7,232.2 189.0,231.5 189.4,231.6 189.7,231.9 190.0,232.4 190.4,231.5 190.7,232.2 191.0,230.5 191.4,231.8 191.7,232.3 192.0,230.7 192.4,230.1 192.7,231.1 193.0,231.8 193.4,232.5 193.7,231.8 194.0,230.6 194.4,230.8 194.7,232.6 195.0,231.0 195.4,232.4 195.7,230.7 196.0,229.8 196.4,231.3 196.7,230.2 197.0,231.4 197.4,231.1 197.7,230.3 198.0,230.2 198.4,231.2 198.7,229.8 199.0,230.8 199.4,233.1 199.7,230.3 200.0,230.2 200.4,232.8 200.7,230.7 201.0,229.9 201.4,230.3 201.7,231.0 202.0,231.1 202.4,230.3 202.7,230.5 203.0,229.7 203.4,230.0 203.7,229.0 204.0,230.5 204.4,229.7 204.7,229.6 205.1,229.9 205.4,229.3 205.7,231.1 206.1,230.1 206.4,228.3 206.7,229.3 207.1,229.6 207.4,228.8 207.7,229.7 208.1,230.4 208.4,229.4 208.7,228.8 209.1,229.7 209.4,228.2 209.7,229.2 210.1,229.3 210.4,229.7 210.7,227.6 211.1,227.4 211.4,230.0 211.7,229.1 212.1,229.6 212.4,228.1 212.7,229.0 213.1,228.1 213.4,228.9 213.7,229.5 214.1,227.5 214.4,228.6 214.7,228.8 215.1,229.3 215.4,228.3 215.7,227.6 216.1,228.7 216.4,226.6 216.7,227.0 217.1,228.1 217.4,227.7 217.7,228.4 218.1,227.7 218.4,228.9 218.7,228.8 219.1,226.1 219.4,227.7 219.7,227.2 220.1,228.4 220.4,227.4 220.7,227.8 221.1,229.3 221.4,227.8 221.7,227.5 222.1,227.6 222.4,226.5 222.7,226.9 223.1,228.4 223.4,227.8 223.7,227.3 224.1,227.1 224.4,227.1 224.7,228.1 225.1,226.8 225.4,227.2 225.7,228.6 226.1,228.6 226.4,228.0 226.7,227.4 227.1,227.7 227.4,227.3 227.7,227.6 228.1,226.8 228.4,225.9 228.7,225.9 229.1,227.5 229.4,225.4 229.7,224.8 230.1,226.5 230.4,224.3 230.8,225.7 231.1,226.6 231.4,224.3 231.8,225.6 232.1,225.8 232.4,223.7 232.8,224.0 233.1,225.4 233.4,225.6 233.8,224.9 234.1,224.7 234.4,224.0 234.8,226.8 235.1,224.3 235.4,224.3 235.8,224.7 236.1,224.1 236.4,223.6 236.8,225.4 237.1,225.1 237.4,224.0 237.8,224.0 238.1,223.8 238.4,223.3 238.8,221.7 239.1,223.7 239.4,223.1 239.8,222.4 240.1,223.4 240.4,223.3 240.8,222.6 241.1,222.4 241.4,223.3 241.8,222.0 242.1,222.0 242.4,222.0 242.8,221.3 243.1,223.2 243.4,221.2 243.8,222.2 244.1,221.7 244.4,221.8 244.8,222.3 245.1,220.9 245.4,219.4 245.8,220.8 246.1,219.7 246.4,221.3 246.8,221.1 247.1,220.4 247.4,220.7 247.8,220.7 248.1,219.2 248.4,219.3 248.8,218.8 249.1,219.3 249.4,219.4 249.8,219.4 250.1,217.9 250.4,218.8 250.8,217.4 251.1,217.4 251.4,216.2 251.8,218.3 252.1,216.5 252.4,218.5 252.8,216.1 253.1,216.5 253.4,215.8 253.8,218.4 254.1,215.1 254.4,216.6 254.8,216.4 255.1,217.5 255.4,216.6 255.8,214.5 256.1,213.9 256.5,214.8 256.8,215.7 257.1,214.3 257.5,216.2 257.8,214.8 258.1,215.0 258.5,213.1 258.8,215.5 259.1,214.2 259.5,213.2 259.8,212.8 260.1,214.4 260.5,213.5 260.8,214.8 261.1,211.7 261.5,212.8 261.8,212.5 262.1,212.4 262.5,210.1 262.8,211.4 263.1,212.0 263.5,209.8 263.8,209.9 264.1,210.3 264.5,210.9 264.8,209.6 265.1,208.8 265.5,209.1 265.8,208.7 266.1,207.3 266.5,208.7 266.8,206.6 267.1,207.3 267.5,207.8 267.8,205.0 268.1,204.6 268.5,205.9 268.8,205.5 269.1,202.8 269.5,203.6 269.8,205.6 270.1,204.1 270.5,202.2 270.8,203.1 271.1,200.8 271.5,202.4 271.8,200.8 272.1,201.3 272.5,200.6 272.8,200.7 273.1,200.7 273.5,202.5 273.8,198.6 274.1,201.1 274.5,202.0 274.8,197.5 275.1,201.0 275.5,197.4 275.8,203.4 276.1,199.1 276.5,199.6 276.8,200.9 277.1,197.7 277.5,201.4 277.8,199.5 278.1,200.6 278.5,198.4 278.8,201.6 279.1,199.6 279.5,199.9 279.8,203.4 280.1,195.7 280.5,200.3 280.8,200.1 281.1,199.7 281.5,201.4 281.8,201.6 282.2,203.8 282.5,201.4 282.8,200.6 283.2,199.6 283.5,199.9 283.8,199.5 284.2,199.3 284.5,198.7 284.8,198.0 285.2,197.4 285.5,195.6 285.8,197.5 286.2,195.2 286.5,192.9 286.8,193.1 287.2,193.5 287.5,192.1 287.8,191.4 288.2,190.5 288.5,187.6 288.8,187.7 289.2,189.4 289.5,187.8 289.8,184.7 290.2,186.7 290.5,184.1 290.8,184.4 291.2,184.3 291.5,182.5 291.8,181.6 292.2,179.7 292.5,182.0 292.8,178.9 293.2,180.6 293.5,180.3 293.8,181.2 294.2,182.5 294.5,179.6" fill="none" stroke="#acd8a6" stroke-width="1.7" stroke-linejoin="round" stroke-linecap="round" />
<path d="M36.5,235.1 36.8,235.1 37.2,235.1 37.5,235.1 37.8,235.1 38.2,235.1 38.5,233.9 38.8,235.1 39.2,235.1 39.5,235.1 39.8,234.8 40.2,235.1 40.5,235.1 40.8,234.9 41.2,235.0 41.5,235.1 41.8,234.2 42.2,235.1 42.5,234.8 42.8,235.1 43.2,234.3 43.5,235.1 43.8,235.1 44.2,235.1 44.5,234.5 44.8,235.1 45.2,234.9 45.5,234.4 45.8,235.1 46.2,234.5 46.5,234.7 46.8,235.1 47.2,235.1 47.5,235.1 47.8,234.9 48.2,235.1 48.5,235.0 48.8,234.5 49.2,235.1 49.5,235.1 49.9,235.1 50.2,235.1 50.5,235.1 50.9,235.1 51.2,235.1 51.5,235.1 51.9,235.1 52.2,235.1 52.5,235.1 52.9,233.7 53.2,234.5 53.5,234.6 53.9,235.1 54.2,235.1 54.5,235.1 54.9,235.1 55.2,235.1 55.5,235.1 55.9,235.1 56.2,234.0 56.5,235.1 56.9,235.1 57.2,235.1 57.5,234.4 57.9,235.1 58.2,235.1 58.5,235.1 58.9,235.1 59.2,235.1 59.5,233.9 59.9,235.1 60.2,235.0 60.5,235.1 60.9,235.1 61.2,235.1 61.5,234.3 61.9,235.1 62.2,235.0 62.5,235.1 62.9,234.3 63.2,234.9 63.5,234.9 63.9,235.1 64.2,235.1 64.5,235.1 64.9,235.1 65.2,235.1 65.5,234.8 65.9,235.1 66.2,235.1 66.5,235.1 66.9,235.1 67.2,235.1 67.5,234.7 67.9,235.1 68.2,235.0 68.5,235.1 68.9,235.1 69.2,235.1 69.5,235.1 69.9,235.0 70.2,235.1 70.5,235.1 70.9,235.1 71.2,235.1 71.5,235.1 71.9,235.1 72.2,235.1 72.5,235.1 72.9,235.1 73.2,234.8 73.5,235.1 73.9,235.1 74.2,235.1 74.5,235.1 74.9,235.1 75.2,235.1 75.6,234.3 75.9,235.1 76.2,234.5 76.6,234.6 76.9,235.1 77.2,235.1 77.6,235.0 77.9,235.1 78.2,235.1 78.6,234.9 78.9,235.1 79.2,235.1 79.6,235.0 79.9,235.1 80.2,235.1 80.6,234.4 80.9,234.5 81.2,235.1 81.6,234.7 81.9,235.1 82.2,235.1 82.6,234.8 82.9,234.1 83.2,234.8 83.6,235.1 83.9,235.0 84.2,235.1 84.6,235.0 84.9,235.1 85.2,235.1 85.6,235.1 85.9,235.1 86.2,235.1 86.6,235.0 86.9,235.1 87.2,235.1 87.6,235.1 87.9,234.5 88.2,235.1 88.6,235.1 88.9,233.8 89.2,235.1 89.6,235.0 89.9,234.7 90.2,235.1 90.6,235.1 90.9,234.4 91.2,235.1 91.6,234.8 91.9,235.1 92.2,234.1 92.6,235.1 92.9,235.1 93.2,235.1 93.6,235.1 93.9,235.1 94.2,235.1 94.6,235.1 94.9,234.8 95.2,235.1 95.6,235.1 95.9,235.1 96.2,235.1 96.6,235.1 96.9,235.1 97.2,235.1 97.6,234.8 97.9,234.5 98.2,234.1 98.6,234.8 98.9,235.1 99.2,235.1 99.6,235.1 99.9,235.1 100.2,234.4 100.6,233.5 100.9,234.8 101.3,234.5 101.6,235.1 101.9,234.7 102.3,235.1 102.6,234.5 102.9,235.1 103.3,235.1 103.6,235.1 103.9,234.9 104.3,233.0 104.6,233.9 104.9,235.1 105.3,234.5 105.6,234.6 105.9,232.8 106.3,235.1 106.6,233.7 106.9,233.6 107.3,232.6 107.6,232.8 107.9,234.1 108.3,235.1 108.6,234.7 108.9,234.4 109.3,234.0 109.6,234.3 109.9,234.7 110.3,233.3 110.6,233.6 110.9,233.9 111.3,234.0 111.6,234.0 111.9,234.3 112.3,231.6 112.6,233.7 112.9,233.8 113.3,232.2 113.6,233.5 113.9,233.0 114.3,233.9 114.6,233.4 114.9,234.4 115.3,232.7 115.6,231.5 115.9,232.8 116.3,232.6 116.6,232.0 116.9,231.9 117.3,233.4 117.6,233.3 117.9,232.9 118.3,231.7 118.6,233.4 118.9,232.9 119.3,232.7 119.6,232.4 119.9,232.2 120.3,232.6 120.6,231.4 120.9,232.8 121.3,230.7 121.6,232.0 121.9,231.6 122.3,233.0 122.6,231.8 122.9,233.0 123.3,233.1 123.6,231.4 123.9,232.0 124.3,232.8 124.6,233.4 124.9,231.4 125.3,231.9 125.6,231.3 125.9,231.1 126.3,231.0 126.6,233.5 127.0,234.2 127.3,231.3 127.6,233.2 128.0,230.9 128.3,231.4 128.6,231.7 129.0,231.7 129.3,232.9 129.6,231.7 130.0,231.8 130.3,231.3 130.6,230.1 131.0,232.0 131.3,231.1 131.6,230.2 132.0,232.1 132.3,232.2 132.6,232.1 133.0,232.4 133.3,232.8 133.6,231.0 134.0,230.4 134.3,231.0 134.6,231.9 135.0,231.9 135.3,231.3 135.6,232.0 136.0,231.6 136.3,231.8 136.6,230.7 137.0,230.9 137.3,231.3 137.6,232.3 138.0,231.8 138.3,230.8 138.6,230.0 139.0,231.8 139.3,229.4 139.6,231.7 140.0,231.7 140.3,231.1 140.6,231.9 141.0,231.3 141.3,231.3 141.6,231.7 142.0,231.6 142.3,230.9 142.6,230.4 143.0,229.6 143.3,231.2 143.6,232.4 144.0,231.7 144.3,232.6 144.6,231.3 145.0,231.9 145.3,231.1 145.6,231.5 146.0,231.3 146.3,231.6 146.6,230.2 147.0,232.7 147.3,230.5 147.6,230.5 148.0,230.9 148.3,231.1 148.6,231.0 149.0,231.7 149.3,232.2 149.6,230.7 150.0,230.8 150.3,230.6 150.6,231.4 151.0,230.5 151.3,230.9 151.6,229.9 152.0,231.3 152.3,233.0 152.7,232.2 153.0,231.1 153.3,232.4 153.7,230.8 154.0,231.9 154.3,231.3 154.7,231.1 155.0,232.0 155.3,231.1 155.7,230.5 156.0,231.8 156.3,231.6 156.7,231.9 157.0,230.9 157.3,230.7 157.7,231.9 158.0,231.7 158.3,230.8 158.7,231.4 159.0,230.1 159.3,231.5 159.7,231.9 160.0,232.4 160.3,232.0 160.7,232.8 161.0,231.3 161.3,230.2 161.7,232.7 162.0,232.5 162.3,232.4 162.7,231.6 163.0,232.2 163.3,230.8 163.7,230.7 164.0,232.0 164.3,231.6 164.7,232.0 165.0,230.9 165.3,230.0 165.7,232.2 166.0,231.8 166.3,232.2 166.7,231.0 167.0,231.0 167.3,232.0 167.7,231.5 168.0,229.6 168.3,229.7 168.7,232.0 169.0,231.3 169.3,231.6 169.7,230.9 170.0,232.1 170.3,230.8 170.7,230.4 171.0,230.2 171.3,232.3 171.7,229.7 172.0,230.7 172.3,231.0 172.7,229.0 173.0,229.1 173.3,229.8 173.7,229.1 174.0,229.2 174.3,229.5 174.7,230.6 175.0,230.0 175.3,229.7 175.7,228.7 176.0,228.4 176.3,229.7 176.7,230.0 177.0,230.1 177.3,228.8 177.7,230.0 178.0,227.7 178.3,229.2 178.7,229.2 179.0,228.8 179.4,229.3 179.7,230.0 180.0,229.2 180.4,228.9 180.7,229.6 181.0,229.3 181.4,229.1 181.7,230.5 182.0,229.7 182.4,229.1 182.7,229.9 183.0,228.5 183.4,228.5 183.7,230.6 184.0,229.3 184.4,228.4 184.7,229.0 185.0,228.3 185.4,228.2 185.7,229.9 186.0,228.4 186.4,229.3 186.7,230.4 187.0,228.1 187.4,229.1 187.7,228.5 188.0,227.9 188.4,227.6 188.7,228.5 189.0,229.0 189.4,228.8 189.7,227.3 190.0,228.4 190.4,226.7 190.7,226.8 191.0,228.6 191.4,226.5 191.7,228.4 192.0,228.0 192.4,227.9 192.7,228.6 193.0,227.7 193.4,227.2 193.7,225.8 194.0,226.5 194.4,228.0 194.7,227.3 195.0,226.6 195.4,227.6 195.7,228.1 196.0,227.5 196.4,228.2 196.7,227.2 197.0,227.7 197.4,226.2 197.7,227.3 198.0,228.1 198.4,226.5 198.7,227.2 199.0,227.7 199.4,226.7 199.7,227.5 200.0,228.2 200.4,227.8 200.7,225.9 201.0,225.5 201.4,227.0 201.7,226.3 202.0,228.0 202.4,225.8 202.7,226.6 203.0,226.0 203.4,226.6 203.7,226.4 204.0,227.6 204.4,225.9 204.7,226.6 205.1,225.9 205.4,224.7 205.7,228.1 206.1,225.1 206.4,225.6 206.7,225.6 207.1,225.1 207.4,226.1 207.7,227.3 208.1,226.2 208.4,225.9 208.7,227.5 209.1,225.1 209.4,225.0 209.7,226.4 210.1,225.3 210.4,225.3 210.7,225.2 211.1,225.2 211.4,224.3 211.7,224.9 212.1,223.3 212.4,224.7 212.7,223.8 213.1,223.6 213.4,226.0 213.7,224.4 214.1,224.2 214.4,224.0 214.7,224.0 215.1,223.3 215.4,223.5 215.7,224.4 216.1,223.1 216.4,224.2 216.7,223.7 217.1,224.4 217.4,225.0 217.7,224.8 218.1,222.5 218.4,223.0 218.7,224.2 219.1,222.9 219.4,224.3 219.7,224.1 220.1,224.8 220.4,223.6 220.7,222.7 221.1,221.0 221.4,223.3 221.7,222.7 222.1,222.5 222.4,222.0 222.7,223.3 223.1,223.6 223.4,221.8 223.7,223.5 224.1,221.9 224.4,222.7 224.7,222.1 225.1,221.7 225.4,223.5 225.7,220.0 226.1,223.0 226.4,222.7 226.7,221.1 227.1,224.3 227.4,222.2 227.7,221.1 228.1,221.5 228.4,221.2 228.7,221.3 229.1,221.2 229.4,221.2 229.7,219.0 230.1,220.1 230.4,221.5 230.8,220.7 231.1,219.6 231.4,219.0 231.8,221.3 232.1,220.1 232.4,222.1 232.8,220.4 233.1,218.2 233.4,219.0 233.8,219.8 234.1,220.4 234.4,219.3 234.8,219.1 235.1,218.8 235.4,218.2 235.8,218.6 236.1,220.3 236.4,219.1 236.8,218.8 237.1,219.3 237.4,216.8 237.8,219.0 238.1,217.4 238.4,217.3 238.8,217.3 239.1,217.4 239.4,218.0 239.8,216.9 240.1,216.1 240.4,217.7 240.8,215.3 241.1,217.0 241.4,215.4 241.8,216.3 242.1,214.3 242.4,214.2 242.8,214.0 243.1,213.4 243.4,215.5 243.8,218.1 244.1,216.4 244.4,215.9 244.8,213.7 245.1,213.5 245.4,215.2 245.8,213.4 246.1,214.3 246.4,214.2 246.8,213.2 247.1,214.6 247.4,212.3 247.8,212.2 248.1,210.8 248.4,211.4 248.8,211.7 249.1,210.7 249.4,211.8 249.8,211.2 250.1,212.4 250.4,211.6 250.8,210.7 251.1,209.4 251.4,208.6 251.8,208.3 252.1,210.2 252.4,209.5 252.8,210.2 253.1,210.7 253.4,207.8 253.8,210.0 254.1,207.5 254.4,208.6 254.8,208.0 255.1,206.4 255.4,208.2 255.8,206.4 256.1,207.7 256.5,206.6 256.8,206.4 257.1,205.9 257.5,207.2 257.8,205.8 258.1,204.9 258.5,205.9 258.8,204.1 259.1,204.0 259.5,204.3 259.8,204.5 260.1,203.5 260.5,204.2 260.8,202.7 261.1,202.7 261.5,201.1 261.8,202.3 262.1,203.1 262.5,201.2 262.8,201.7 263.1,199.2 263.5,201.7 263.8,201.0 264.1,200.1 264.5,199.7 264.8,198.8 265.1,195.6 265.5,198.3 265.8,196.0 266.1,197.9 266.5,197.3 266.8,196.1 267.1,193.3 267.5,194.4 267.8,193.5 268.1,194.2 268.5,193.0 268.8,189.0 269.1,193.5 269.5,194.3 269.8,191.1 270.1,191.9 270.5,192.1 270.8,193.0 271.1,188.5 271.5,188.9 271.8,189.1 272.1,186.7 272.5,186.0 272.8,187.5 273.1,185.8 273.5,190.2 273.8,186.4 274.1,189.2 274.5,187.1 274.8,183.6 275.1,186.8 275.5,182.3 275.8,183.6 276.1,184.5 276.5,188.9 276.8,186.1 277.1,185.2 277.5,184.3 277.8,186.4 278.1,189.6 278.5,184.7 278.8,190.0 279.1,188.4 279.5,191.1 279.8,187.2 280.1,185.9 280.5,186.0 280.8,189.9 281.1,187.2 281.5,187.7 281.8,187.2 282.2,186.5 282.5,187.1 282.8,184.8 283.2,189.0 283.5,186.2 283.8,186.2 284.2,188.1 284.5,185.4 284.8,185.1 285.2,185.1 285.5,181.6 285.8,181.2 286.2,178.2 286.5,178.9 286.8,175.3 287.2,175.9 287.5,175.2 287.8,173.4 288.2,171.1 288.5,173.5 288.8,172.4 289.2,171.8 289.5,170.3 289.8,172.4 290.2,165.9 290.5,164.2 290.8,163.1 291.2,163.9 291.5,165.5 291.8,163.8 292.2,161.5 292.5,162.0 292.8,163.4 293.2,161.5 293.5,162.9 293.8,162.2 294.2,159.5 294.5,161.1" fill="none" stroke="#9cd097" stroke-width="2.0" stroke-linejoin="round" stroke-linecap="round" />
<path d="M36.5,234.7 36.8,235.1 37.2,235.0 37.5,235.1 37.8,234.7 38.2,235.1 38.5,235.1 38.8,235.1 39.2,235.1 39.5,234.9 39.8,235.1 40.2,235.1 40.5,235.1 40.8,235.0 41.2,235.1 41.5,234.1 41.8,235.1 42.2,235.1 42.5,235.1 42.8,235.1 43.2,235.1 43.5,235.1 43.8,235.1 44.2,234.4 44.5,235.1 44.8,235.1 45.2,235.1 45.5,235.1 45.8,235.1 46.2,234.2 46.5,234.4 46.8,235.1 47.2,235.1 47.5,235.1 47.8,235.1 48.2,235.1 48.5,235.1 48.8,235.1 49.2,235.0 49.5,235.1 49.9,234.7 50.2,235.1 50.5,235.1 50.9,235.1 51.2,235.1 51.5,235.1 51.9,235.0 52.2,234.3 52.5,235.1 52.9,235.1 53.2,235.0 53.5,235.1 53.9,235.1 54.2,235.1 54.5,235.1 54.9,235.0 55.2,235.1 55.5,235.1 55.9,234.5 56.2,235.1 56.5,234.8 56.9,235.1 57.2,235.1 57.5,234.0 57.9,235.1 58.2,235.1 58.5,235.1 58.9,234.8 59.2,235.1 59.5,235.1 59.9,235.1 60.2,233.7 60.5,234.7 60.9,235.1 61.2,235.1 61.5,235.1 61.9,235.1 62.2,235.1 62.5,234.2 62.9,235.1 63.2,235.1 63.5,235.1 63.9,234.4 64.2,235.1 64.5,235.1 64.9,235.1 65.2,235.1 65.5,235.1 65.9,235.1 66.2,235.1 66.5,235.1 66.9,234.3 67.2,235.1 67.5,235.1 67.9,235.1 68.2,235.1 68.5,235.1 68.9,234.9 69.2,235.1 69.5,235.1 69.9,235.1 70.2,235.0 70.5,235.1 70.9,235.1 71.2,234.6 71.5,235.1 71.9,235.1 72.2,235.1 72.5,234.6 72.9,235.1 73.2,235.1 73.5,235.1 73.9,234.2 74.2,235.1 74.5,234.3 74.9,234.5 75.2,235.1 75.6,235.1 75.9,235.1 76.2,235.1 76.6,234.4 76.9,234.3 77.2,234.7 77.6,234.4 77.9,235.1 78.2,234.6 78.6,235.1 78.9,235.1 79.2,235.1 79.6,234.3 79.9,235.1 80.2,234.6 80.6,235.1 80.9,234.9 81.2,234.5 81.6,235.0 81.9,234.9 82.2,234.9 82.6,235.0 82.9,235.1 83.2,235.1 83.6,234.1 83.9,234.9 84.2,234.8 84.6,234.6 84.9,235.1 85.2,235.1 85.6,235.1 85.9,233.4 86.2,234.8 86.6,234.1 86.9,235.1 87.2,234.8 87.6,234.4 87.9,234.8 88.2,233.6 88.6,234.6 88.9,234.4 89.2,233.4 89.6,233.0 89.9,233.9 90.2,234.4 90.6,234.2 90.9,233.1 91.2,234.7 91.6,234.6 91.9,234.5 92.2,233.0 92.6,233.3 92.9,234.2 93.2,233.8 93.6,233.2 93.9,233.5 94.2,233.8 94.6,233.5 94.9,232.9 95.2,233.1 95.6,232.5 95.9,232.7 96.2,232.8 96.6,231.8 96.9,231.6 97.2,233.3 97.6,231.5 97.9,231.9 98.2,232.2 98.6,230.7 98.9,230.9 99.2,230.5 99.6,231.2 99.9,229.3 100.2,230.1 100.6,230.8 100.9,228.8 101.3,230.8 101.6,228.8 101.9,230.1 102.3,230.2 102.6,230.2 102.9,230.3 103.3,230.1 103.6,228.9 103.9,229.2 104.3,230.3 104.6,228.7 104.9,229.9 105.3,228.2 105.6,228.8 105.9,228.5 106.3,227.3 106.6,229.7 106.9,226.2 107.3,225.4 107.6,226.9 107.9,227.2 108.3,228.0 108.6,226.5 108.9,227.4 109.3,227.4 109.6,227.7 109.9,225.8 110.3,226.1 110.6,227.9 110.9,226.7 111.3,227.6 111.6,225.7 111.9,227.1 112.3,226.3 112.6,225.7 112.9,226.2 113.3,227.0 113.6,226.3 113.9,226.9 114.3,224.6 114.6,224.9 114.9,227.1 115.3,226.5 115.6,223.6 115.9,224.8 116.3,225.6 116.6,224.5 116.9,224.9 117.3,224.5 117.6,225.4 117.9,223.7 118.3,224.8 118.6,226.0 118.9,224.9 119.3,225.1 119.6,224.5 119.9,224.5 120.3,224.7 120.6,225.4 120.9,224.5 121.3,225.2 121.6,223.3 121.9,225.6 122.3,224.9 122.6,225.1 122.9,225.5 123.3,224.3 123.6,224.4 123.9,224.5 124.3,223.4 124.6,225.2 124.9,224.4 125.3,224.7 125.6,224.6 125.9,225.9 126.3,225.9 126.6,224.2 127.0,225.9 127.3,224.0 127.6,223.7 128.0,225.5 128.3,224.8 128.6,224.9 129.0,223.8 129.3,223.3 129.6,224.5 130.0,224.5 130.3,224.2 130.6,226.0 131.0,225.3 131.3,224.6 131.6,225.7 132.0,224.0 132.3,226.2 132.6,225.6 133.0,225.4 133.3,225.0 133.6,226.3 134.0,225.9 134.3,225.3 134.6,225.6 135.0,225.2 135.3,226.4 135.6,226.7 136.0,228.2 136.3,227.0 136.6,226.4 137.0,227.3 137.3,226.4 137.6,225.4 138.0,226.6 138.3,225.4 138.6,225.6 139.0,226.2 139.3,225.7 139.6,225.6 140.0,227.5 140.3,225.1 140.6,227.9 141.0,226.2 141.3,227.0 141.6,226.9 142.0,226.3 142.3,226.9 142.6,226.7 143.0,226.6 143.3,227.4 143.6,226.5 144.0,227.6 144.3,226.2 144.6,227.7 145.0,226.5 145.3,227.2 145.6,225.6 146.0,227.6 146.3,225.8 146.6,227.1 147.0,228.1 147.3,225.7 147.6,226.1 148.0,225.5 148.3,227.3 148.6,226.2 149.0,225.7 149.3,226.8 149.6,224.6 150.0,227.1 150.3,226.1 150.6,227.7 151.0,227.6 151.3,227.3 151.6,227.1 152.0,226.8 152.3,226.6 152.7,228.8 153.0,227.0 153.3,227.5 153.7,228.6 154.0,227.7 154.3,226.6 154.7,226.8 155.0,228.5 155.3,227.8 155.7,227.7 156.0,226.3 156.3,227.6 156.7,228.1 157.0,227.5 157.3,229.5 157.7,227.5 158.0,226.8 158.3,227.3 158.7,229.1 159.0,225.7 159.3,227.2 159.7,227.8 160.0,227.8 160.3,227.1 160.7,227.8 161.0,227.9 161.3,227.3 161.7,228.6 162.0,227.2 162.3,228.6 162.7,227.5 163.0,227.0 163.3,227.4 163.7,227.2 164.0,228.1 164.3,228.5 164.7,227.0 165.0,228.0 165.3,228.5 165.7,228.3 166.0,228.4 166.3,227.3 166.7,227.4 167.0,226.7 167.3,228.7 167.7,227.8 168.0,227.9 168.3,229.5 168.7,227.9 169.0,227.3 169.3,228.5 169.7,228.8 170.0,225.9 170.3,228.8 170.7,226.5 171.0,227.5 171.3,227.4 171.7,228.1 172.0,226.4 172.3,224.3 172.7,223.9 173.0,226.1 173.3,224.4 173.7,225.4 174.0,224.7 174.3,225.5 174.7,225.9 175.0,226.6 175.3,226.7 175.7,225.3 176.0,225.4 176.3,226.1 176.7,226.5 177.0,225.8 177.3,224.7 177.7,224.3 178.0,224.2 178.3,224.9 178.7,224.3 179.0,225.9 179.4,223.6 179.7,224.8 180.0,225.5 180.4,225.6 180.7,225.7 181.0,225.0 181.4,224.0 181.7,225.2 182.0,223.8 182.4,224.4 182.7,225.9 183.0,225.4 183.4,225.2 183.7,224.8 184.0,222.8 184.4,222.3 184.7,224.0 185.0,224.0 185.4,224.8 185.7,223.2 186.0,224.8 186.4,224.5 186.7,223.9 187.0,223.2 187.4,223.7 187.7,225.8 188.0,223.5 188.4,224.1 188.7,223.4 189.0,222.5 189.4,224.9 189.7,223.4 190.0,222.7 190.4,224.7 190.7,222.3 191.0,222.8 191.4,223.0 191.7,223.9 192.0,222.8 192.4,222.5 192.7,223.7 193.0,223.5 193.4,223.7 193.7,222.7 194.0,222.6 194.4,222.0 194.7,222.4 195.0,223.0 195.4,222.6 195.7,223.3 196.0,221.6 196.4,223.2 196.7,223.1 197.0,222.2 197.4,223.8 197.7,221.8 198.0,221.0 198.4,221.5 198.7,221.4 199.0,221.5 199.4,221.8 199.7,221.8 200.0,222.7 200.4,221.3 200.7,220.8 201.0,219.9 201.4,221.8 201.7,221.0 202.0,220.9 202.4,221.5 202.7,221.5 203.0,221.4 203.4,221.2 203.7,219.6 204.0,222.3 204.4,221.8 204.7,222.0 205.1,220.4 205.4,220.1 205.7,221.4 206.1,219.7 206.4,221.3 206.7,219.0 207.1,220.2 207.4,219.3 207.7,221.3 208.1,219.2 208.4,219.8 208.7,220.4 209.1,221.2 209.4,219.0 209.7,219.0 210.1,219.9 210.4,218.6 210.7,218.5 211.1,218.3 211.4,220.1 211.7,218.5 212.1,218.9 212.4,219.6 212.7,218.8 213.1,219.3 213.4,217.7 213.7,218.8 214.1,218.2 214.4,217.7 214.7,216.7 215.1,217.7 215.4,219.3 215.7,216.8 216.1,217.8 216.4,216.9 216.7,217.8 217.1,218.1 217.4,219.0 217.7,217.5 218.1,216.8 218.4,218.0 218.7,217.9 219.1,217.9 219.4,217.3 219.7,217.0 220.1,216.3 220.4,217.2 220.7,216.6 221.1,217.7 221.4,215.7 221.7,216.5 222.1,217.7 222.4,217.2 222.7,216.4 223.1,215.1 223.4,215.9 223.7,214.4 224.1,215.4 224.4,216.5 224.7,216.2 225.1,213.8 225.4,216.0 225.7,215.9 226.1,215.9 226.4,216.2 226.7,214.1 227.1,213.9 227.4,215.6 227.7,212.8 228.1,213.4 228.4,214.5 228.7,215.4 229.1,214.3 229.4,214.2 229.7,213.0 230.1,213.9 230.4,212.5 230.8,210.9 231.1,213.8 231.4,213.5 231.8,211.6 232.1,210.9 232.4,214.3 232.8,212.9 233.1,213.8 233.4,211.7 233.8,211.8 234.1,212.5 234.4,211.4 234.8,210.3 235.1,214.4 235.4,212.7 235.8,211.8 236.1,210.8 236.4,210.2 236.8,210.2 237.1,208.5 237.4,210.0 237.8,210.7 238.1,210.5 238.4,211.6 238.8,209.5 239.1,208.6 239.4,210.1 239.8,207.9 240.1,209.9 240.4,207.7 240.8,208.4 241.1,206.2 241.4,207.5 241.8,207.3 242.1,207.8 242.4,208.3 242.8,207.6 243.1,207.7 243.4,208.1 243.8,205.0 244.1,205.0 244.4,205.2 244.8,205.0 245.1,206.8 245.4,208.0 245.8,204.3 246.1,204.0 246.4,203.7 246.8,203.2 247.1,203.1 247.4,204.3 247.8,202.5 248.1,202.3 248.4,201.0 248.8,201.7 249.1,201.8 249.4,201.6 249.8,202.4 250.1,201.6 250.4,199.9 250.8,202.8 251.1,201.3 251.4,199.2 251.8,200.5 252.1,201.3 252.4,198.6 252.8,198.1 253.1,198.0 253.4,197.8 253.8,199.5 254.1,194.5 254.4,198.1 254.8,197.7 255.1,195.8 255.4,195.5 255.8,195.8 256.1,195.3 256.5,194.5 256.8,194.5 257.1,195.5 257.5,194.1 257.8,193.5 258.1,193.2 258.5,193.3 258.8,194.1 259.1,192.0 259.5,191.4 259.8,191.5 260.1,193.5 260.5,190.8 260.8,189.0 261.1,189.9 261.5,190.6 261.8,189.3 262.1,189.4 262.5,189.3 262.8,187.7 263.1,187.6 263.5,188.4 263.8,184.7 264.1,185.2 264.5,188.2 264.8,185.6 265.1,184.9 265.5,187.7 265.8,185.3 266.1,181.6 266.5,182.4 266.8,180.9 267.1,180.4 267.5,179.8 267.8,179.8 268.1,180.1 268.5,180.1 268.8,177.9 269.1,174.6 269.5,173.6 269.8,172.3 270.1,174.3 270.5,175.0 270.8,170.1 271.1,170.4 271.5,171.0 271.8,170.7 272.1,172.2 272.5,168.2 272.8,174.7 273.1,171.2 273.5,168.6 273.8,169.8 274.1,165.7 274.5,168.4 274.8,171.1 275.1,171.2 275.5,174.7 275.8,165.6 276.1,168.4 276.5,166.9 276.8,171.8 277.1,171.4 277.5,167.4 277.8,170.3 278.1,169.3 278.5,165.4 278.8,168.4 279.1,168.6 279.5,169.3 279.8,171.3 280.1,168.9 280.5,170.5 280.8,166.2 281.1,170.1 281.5,175.0 281.8,172.2 282.2,173.2 282.5,168.6 282.8,171.3 283.2,173.0 283.5,171.0 283.8,168.2 284.2,168.2 284.5,168.6 284.8,167.4 285.2,168.3 285.5,165.2 285.8,163.1 286.2,162.5 286.5,159.2 286.8,160.0 287.2,155.4 287.5,157.2 287.8,156.7 288.2,156.1 288.5,153.8 288.8,151.6 289.2,150.7 289.5,151.1 289.8,148.1 290.2,148.4 290.5,144.9 290.8,142.0 291.2,141.0 291.5,140.8 291.8,140.3 292.2,137.8 292.5,137.8 292.8,140.5 293.2,138.6 293.5,137.0 293.8,135.9 294.2,136.1 294.5,133.4" fill="none" stroke="#8cc887" stroke-width="2.0" stroke-linejoin="round" stroke-linecap="round" />
<path d="M36.5,235.1 36.8,234.0 37.2,234.8 37.5,235.1 37.8,235.1 38.2,234.9 38.5,235.1 38.8,234.7 39.2,235.1 39.5,234.0 39.8,234.2 40.2,235.1 40.5,235.1 40.8,235.1 41.2,235.1 41.5,234.8 41.8,235.1 42.2,235.1 42.5,235.0 42.8,234.5 43.2,235.1 43.5,235.1 43.8,235.1 44.2,234.7 44.5,233.8 44.8,235.0 45.2,235.1 45.5,235.1 45.8,235.1 46.2,235.1 46.5,234.9 46.8,234.1 47.2,234.4 47.5,235.1 47.8,235.1 48.2,235.1 48.5,235.1 48.8,235.1 49.2,235.1 49.5,235.1 49.9,235.1 50.2,235.1 50.5,235.1 50.9,235.1 51.2,234.9 51.5,235.1 51.9,234.8 52.2,235.1 52.5,235.1 52.9,235.1 53.2,235.1 53.5,235.1 53.9,235.1 54.2,235.1 54.5,235.1 54.9,235.1 55.2,235.1 55.5,235.1 55.9,234.8 56.2,235.1 56.5,235.1 56.9,234.2 57.2,235.0 57.5,235.1 57.9,235.1 58.2,234.9 58.5,235.1 58.9,234.7 59.2,235.1 59.5,235.1 59.9,235.1 60.2,235.1 60.5,235.1 60.9,235.1 61.2,235.1 61.5,235.1 61.9,235.1 62.2,235.1 62.5,235.1 62.9,235.1 63.2,234.5 63.5,234.6 63.9,235.1 64.2,234.8 64.5,235.1 64.9,235.1 65.2,235.1 65.5,235.1 65.9,234.4 66.2,235.0 66.5,235.1 66.9,235.1 67.2,234.5 67.5,235.1 67.9,235.1 68.2,234.9 68.5,235.1 68.9,234.9 69.2,235.1 69.5,235.1 69.9,234.9 70.2,235.1 70.5,235.1 70.9,235.1 71.2,234.4 71.5,235.1 71.9,235.1 72.2,234.6 72.5,234.2 72.9,234.8 73.2,235.1 73.5,234.1 73.9,234.9 74.2,233.0 74.5,233.5 74.9,233.0 75.2,235.1 75.6,234.6 75.9,234.4 76.2,235.1 76.6,234.4 76.9,233.2 77.2,234.6 77.6,234.0 77.9,232.6 78.2,233.4 78.6,233.1 78.9,233.4 79.2,233.8 79.6,233.5 79.9,232.9 80.2,233.4 80.6,232.8 80.9,233.0 81.2,232.6 81.6,231.2 81.9,231.8 82.2,233.2 82.6,232.2 82.9,230.4 83.2,230.3 83.6,232.5 83.9,231.1 84.2,231.2 84.6,233.1 84.9,230.7 85.2,229.2 85.6,231.2 85.9,230.7 86.2,229.5 86.6,230.5 86.9,230.3 87.2,229.5 87.6,230.7 87.9,229.0 88.2,230.3 88.6,229.0 88.9,228.2 89.2,227.3 89.6,229.1 89.9,228.0 90.2,227.8 90.6,229.3 90.9,227.7 91.2,227.2 91.6,226.7 91.9,225.3 92.2,226.6 92.6,226.5 92.9,226.3 93.2,224.9 93.6,224.2 93.9,222.9 94.2,224.9 94.6,223.6 94.9,225.4 95.2,224.4 95.6,222.4 95.9,224.1 96.2,221.5 96.6,220.3 96.9,221.9 97.2,221.4 97.6,220.3 97.9,220.5 98.2,219.7 98.6,219.9 98.9,218.1 99.2,218.3 99.6,218.3 99.9,220.0 100.2,218.3 100.6,217.3 100.9,216.5 101.3,217.5 101.6,216.1 101.9,215.7 102.3,216.9 102.6,215.4 102.9,216.1 103.3,216.8 103.6,215.6 103.9,214.1 104.3,214.8 104.6,215.0 104.9,214.0 105.3,214.0 105.6,214.3 105.9,216.2 106.3,216.7 106.6,215.7 106.9,212.4 107.3,213.2 107.6,215.2 107.9,212.8 108.3,214.8 108.6,213.2 108.9,212.4 109.3,213.3 109.6,212.3 109.9,212.1 110.3,214.5 110.6,212.9 110.9,212.3 111.3,213.2 111.6,214.0 111.9,211.2 112.3,212.3 112.6,213.1 112.9,213.4 113.3,212.5 113.6,211.3 113.9,212.9 114.3,211.9 114.6,212.1 114.9,212.6 115.3,212.3 115.6,212.3 115.9,213.3 116.3,213.7 116.6,211.7 116.9,210.9 117.3,211.8 117.6,213.2 117.9,212.3 118.3,212.9 118.6,213.7 118.9,213.4 119.3,213.0 119.6,211.9 119.9,213.6 120.3,211.5 120.6,212.6 120.9,211.5 121.3,211.8 121.6,212.6 121.9,212.8 122.3,212.7 122.6,212.8 122.9,212.5 123.3,211.5 123.6,212.8 123.9,212.0 124.3,212.7 124.6,214.1 124.9,213.4 125.3,213.4 125.6,213.3 125.9,214.6 126.3,213.4 126.6,215.1 127.0,214.8 127.3,214.2 127.6,214.8 128.0,215.9 128.3,216.4 128.6,215.8 129.0,216.1 129.3,213.6 129.6,216.7 130.0,217.1 130.3,213.9 130.6,217.6 131.0,216.7 131.3,215.8 131.6,216.3 132.0,216.2 132.3,215.1 132.6,214.5 133.0,216.6 133.3,216.6 133.6,217.3 134.0,217.6 134.3,217.6 134.6,217.2 135.0,217.9 135.3,217.3 135.6,218.1 136.0,218.8 136.3,218.3 136.6,218.3 137.0,218.6 137.3,218.7 137.6,217.9 138.0,219.7 138.3,217.8 138.6,219.2 139.0,218.9 139.3,217.8 139.6,218.1 140.0,220.7 140.3,218.8 140.6,218.0 141.0,220.2 141.3,219.8 141.6,218.3 142.0,220.7 142.3,218.1 142.6,220.9 143.0,220.4 143.3,220.3 143.6,220.3 144.0,219.3 144.3,219.7 144.6,220.0 145.0,220.0 145.3,221.7 145.6,220.9 146.0,219.5 146.3,221.5 146.6,219.3 147.0,220.8 147.3,221.6 147.6,220.1 148.0,220.2 148.3,221.5 148.6,221.4 149.0,221.8 149.3,221.6 149.6,223.1 150.0,221.8 150.3,220.1 150.6,221.7 151.0,221.0 151.3,220.7 151.6,221.3 152.0,221.9 152.3,222.0 152.7,222.0 153.0,221.3 153.3,222.0 153.7,221.0 154.0,220.2 154.3,221.3 154.7,223.0 155.0,221.5 155.3,222.1 155.7,222.3 156.0,222.6 156.3,222.2 156.7,219.3 157.0,219.4 157.3,220.6 157.7,223.0 158.0,222.1 158.3,221.3 158.7,222.6 159.0,221.8 159.3,221.4 159.7,221.1 160.0,222.1 160.3,222.2 160.7,222.7 161.0,222.8 161.3,222.5 161.7,222.7 162.0,222.0 162.3,222.4 162.7,222.9 163.0,221.5 163.3,223.0 163.7,222.3 164.0,222.4 164.3,223.3 164.7,222.8 165.0,222.7 165.3,223.4 165.7,224.0 166.0,220.7 166.3,223.5 166.7,223.2 167.0,223.1 167.3,222.9 167.7,222.2 168.0,222.2 168.3,223.4 168.7,222.6 169.0,222.3 169.3,223.1 169.7,221.9 170.0,222.7 170.3,222.1 170.7,223.7 171.0,221.3 171.3,222.9 171.7,223.6 172.0,220.1 172.3,219.9 172.7,218.9 173.0,221.2 173.3,220.0 173.7,218.1 174.0,217.9 174.3,220.0 174.7,218.8 175.0,218.7 175.3,219.1 175.7,219.3 176.0,218.1 176.3,219.0 176.7,218.5 177.0,218.0 177.3,219.5 177.7,219.4 178.0,216.5 178.3,219.4 178.7,217.4 179.0,217.3 179.4,218.3 179.7,218.6 180.0,218.3 180.4,218.9 180.7,218.2 181.0,218.3 181.4,218.6 181.7,218.4 182.0,217.2 182.4,217.9 182.7,218.1 183.0,216.1 183.4,217.8 183.7,217.2 184.0,218.5 184.4,218.6 184.7,217.2 185.0,216.7 185.4,220.2 185.7,216.9 186.0,216.7 186.4,217.4 186.7,216.7 187.0,218.2 187.4,216.9 187.7,218.2 188.0,217.3 188.4,217.4 188.7,216.9 189.0,218.2 189.4,216.7 189.7,216.5 190.0,215.7 190.4,217.3 190.7,216.2 191.0,217.2 191.4,216.1 191.7,217.1 192.0,217.4 192.4,216.9 192.7,214.9 193.0,214.9 193.4,216.1 193.7,216.0 194.0,215.7 194.4,217.3 194.7,214.1 195.0,216.7 195.4,216.9 195.7,215.8 196.0,216.5 196.4,215.2 196.7,214.9 197.0,215.7 197.4,215.2 197.7,215.8 198.0,216.7 198.4,216.3 198.7,213.2 199.0,215.0 199.4,216.6 199.7,215.8 200.0,215.5 200.4,213.9 200.7,214.5 201.0,213.1 201.4,212.6 201.7,213.7 202.0,213.7 202.4,213.0 202.7,214.5 203.0,214.2 203.4,215.5 203.7,213.1 204.0,214.6 204.4,213.4 204.7,211.3 205.1,214.8 205.4,213.9 205.7,214.3 206.1,214.3 206.4,212.5 206.7,214.6 207.1,212.7 207.4,212.8 207.7,211.8 208.1,214.4 208.4,213.8 208.7,211.6 209.1,214.2 209.4,212.2 209.7,211.2 210.1,213.7 210.4,213.1 210.7,211.2 211.1,213.2 211.4,211.0 211.7,210.6 212.1,211.6 212.4,211.6 212.7,211.5 213.1,212.0 213.4,210.5 213.7,210.5 214.1,211.1 214.4,210.7 214.7,212.2 215.1,211.7 215.4,212.8 215.7,211.2 216.1,209.6 216.4,210.1 216.7,210.8 217.1,210.6 217.4,210.5 217.7,208.9 218.1,211.0 218.4,208.5 218.7,209.1 219.1,211.0 219.4,208.8 219.7,208.5 220.1,209.6 220.4,207.2 220.7,209.7 221.1,209.2 221.4,208.4 221.7,208.0 222.1,208.6 222.4,207.4 222.7,208.8 223.1,207.5 223.4,208.0 223.7,207.7 224.1,208.6 224.4,207.6 224.7,208.9 225.1,208.7 225.4,207.2 225.7,206.1 226.1,207.8 226.4,206.1 226.7,204.1 227.1,205.7 227.4,205.5 227.7,206.1 228.1,207.8 228.4,206.1 228.7,205.4 229.1,206.5 229.4,204.9 229.7,205.7 230.1,203.9 230.4,204.5 230.8,204.2 231.1,203.8 231.4,204.2 231.8,202.2 232.1,204.9 232.4,204.4 232.8,203.4 233.1,203.0 233.4,204.4 233.8,201.7 234.1,202.8 234.4,201.7 234.8,202.8 235.1,202.5 235.4,201.5 235.8,202.0 236.1,202.1 236.4,200.8 236.8,200.1 237.1,200.9 237.4,200.0 237.8,201.1 238.1,199.6 238.4,200.7 238.8,199.2 239.1,200.5 239.4,198.8 239.8,197.8 240.1,198.5 240.4,200.2 240.8,196.5 241.1,198.6 241.4,200.1 241.8,195.3 242.1,197.8 242.4,196.1 242.8,196.3 243.1,194.2 243.4,194.2 243.8,197.7 244.1,195.0 244.4,196.4 244.8,195.0 245.1,194.8 245.4,194.5 245.8,195.4 246.1,193.0 246.4,192.4 246.8,192.1 247.1,190.5 247.4,192.6 247.8,193.1 248.1,191.6 248.4,194.4 248.8,191.3 249.1,192.1 249.4,191.6 249.8,191.5 250.1,191.0 250.4,188.9 250.8,190.9 251.1,189.7 251.4,188.0 251.8,188.1 252.1,185.7 252.4,186.9 252.8,184.1 253.1,185.1 253.4,187.1 253.8,185.6 254.1,183.0 254.4,186.3 254.8,185.4 255.1,186.1 255.4,183.5 255.8,181.8 256.1,181.2 256.5,182.5 256.8,183.6 257.1,181.1 257.5,181.2 257.8,179.6 258.1,179.9 258.5,178.2 258.8,180.1 259.1,178.9 259.5,178.7 259.8,178.7 260.1,177.0 260.5,179.5 260.8,178.8 261.1,179.6 261.5,175.7 261.8,174.2 262.1,174.2 262.5,172.0 262.8,173.5 263.1,174.4 263.5,172.0 263.8,171.6 264.1,171.0 264.5,169.0 264.8,171.1 265.1,170.3 265.5,168.5 265.8,165.8 266.1,168.0 266.5,163.9 266.8,162.8 267.1,164.5 267.5,163.8 267.8,161.9 268.1,163.3 268.5,156.8 268.8,158.3 269.1,155.7 269.5,158.2 269.8,155.8 270.1,155.7 270.5,151.1 270.8,156.4 271.1,150.6 271.5,152.8 271.8,152.6 272.1,156.5 272.5,152.0 272.8,152.4 273.1,149.4 273.5,152.1 273.8,152.3 274.1,147.6 274.5,149.4 274.8,151.3 275.1,149.1 275.5,147.9 275.8,150.0 276.1,149.6 276.5,144.4 276.8,149.5 277.1,156.3 277.5,146.9 277.8,145.7 278.1,146.8 278.5,147.4 278.8,156.5 279.1,153.3 279.5,150.9 279.8,151.2 280.1,152.3 280.5,156.0 280.8,154.9 281.1,154.4 281.5,151.5 281.8,148.8 282.2,157.0 282.5,153.1 282.8,154.9 283.2,150.6 283.5,151.6 283.8,150.7 284.2,150.8 284.5,151.4 284.8,150.0 285.2,147.3 285.5,142.9 285.8,138.6 286.2,138.1 286.5,138.4 286.8,133.4 287.2,134.2 287.5,133.5 287.8,132.2 288.2,132.9 288.5,132.7 288.8,130.0 289.2,127.7 289.5,125.3 289.8,126.0 290.2,121.8 290.5,122.5 290.8,114.0 291.2,115.6 291.5,114.8 291.8,110.0 292.2,110.6 292.5,112.1 292.8,105.7 293.2,110.5 293.5,107.3 293.8,109.1 294.2,106.0 294.5,105.9" fill="none" stroke="#7cc076" stroke-width="2.0" stroke-linejoin="round" stroke-linecap="round" />
<path d="M36.5,235.1 36.8,235.1 37.2,235.1 37.5,235.0 37.8,235.1 38.2,235.1 38.5,234.3 38.8,234.7 39.2,235.0 39.5,235.0 39.8,235.1 40.2,234.8 40.5,235.1 40.8,235.1 41.2,235.1 41.5,235.1 41.8,235.1 42.2,234.3 42.5,235.1 42.8,235.1 43.2,235.1 43.5,234.9 43.8,235.1 44.2,235.1 44.5,235.1 44.8,235.1 45.2,235.1 45.5,234.5 45.8,234.4 46.2,235.0 46.5,235.1 46.8,235.1 47.2,235.1 47.5,235.1 47.8,235.1 48.2,234.6 48.5,235.1 48.8,235.1 49.2,235.0 49.5,235.1 49.9,235.1 50.2,233.8 50.5,234.5 50.9,234.4 51.2,235.1 51.5,235.1 51.9,235.1 52.2,235.1 52.5,234.9 52.9,234.9 53.2,234.5 53.5,234.0 53.9,235.1 54.2,235.1 54.5,235.1 54.9,235.1 55.2,235.1 55.5,235.1 55.9,235.1 56.2,235.1 56.5,235.1 56.9,235.1 57.2,234.5 57.5,235.1 57.9,235.1 58.2,235.1 58.5,235.1 58.9,235.1 59.2,235.1 59.5,235.1 59.9,235.0 60.2,234.4 60.5,235.1 60.9,234.2 61.2,235.1 61.5,235.1 61.9,235.1 62.2,235.1 62.5,234.5 62.9,235.1 63.2,234.3 63.5,234.8 63.9,234.6 64.2,233.7 64.5,234.6 64.9,235.1 65.2,235.1 65.5,233.6 65.9,232.8 66.2,234.2 66.5,234.5 66.9,234.9 67.2,233.3 67.5,234.9 67.9,234.4 68.2,233.2 68.5,233.1 68.9,233.2 69.2,232.0 69.5,233.5 69.9,233.3 70.2,232.5 70.5,232.0 70.9,232.1 71.2,230.1 71.5,231.8 71.9,230.7 72.2,231.4 72.5,230.4 72.9,230.8 73.2,230.5 73.5,228.7 73.9,229.9 74.2,228.1 74.5,229.7 74.9,229.3 75.2,227.7 75.6,230.3 75.9,229.4 76.2,227.8 76.6,227.1 76.9,226.7 77.2,227.2 77.6,227.8 77.9,225.6 78.2,225.6 78.6,226.6 78.9,225.2 79.2,223.5 79.6,224.5 79.9,225.3 80.2,224.3 80.6,223.9 80.9,223.0 81.2,222.2 81.6,223.4 81.9,222.8 82.2,221.0 82.6,220.9 82.9,220.0 83.2,222.2 83.6,221.4 83.9,219.3 84.2,220.7 84.6,219.3 84.9,219.3 85.2,219.6 85.6,217.3 85.9,218.3 86.2,218.5 86.6,217.8 86.9,217.2 87.2,218.6 87.6,217.6 87.9,217.7 88.2,218.2 88.6,215.0 88.9,214.3 89.2,214.2 89.6,216.7 89.9,214.3 90.2,213.7 90.6,214.6 90.9,212.9 91.2,214.5 91.6,214.1 91.9,213.5 92.2,213.1 92.6,213.0 92.9,210.7 93.2,209.6 93.6,208.5 93.9,208.2 94.2,204.7 94.6,207.4 94.9,205.4 95.2,203.4 95.6,206.0 95.9,205.1 96.2,204.0 96.6,204.4 96.9,201.1 97.2,202.3 97.6,200.1 97.9,200.1 98.2,200.1 98.6,198.5 98.9,199.4 99.2,197.4 99.6,199.6 99.9,198.6 100.2,195.9 100.6,199.4 100.9,196.1 101.3,196.9 101.6,196.8 101.9,196.8 102.3,194.3 102.6,197.4 102.9,194.5 103.3,194.7 103.6,195.6 103.9,195.1 104.3,194.0 104.6,195.3 104.9,196.3 105.3,194.0 105.6,195.2 105.9,194.6 106.3,193.9 106.6,193.0 106.9,191.7 107.3,193.3 107.6,193.5 107.9,192.6 108.3,193.1 108.6,195.4 108.9,194.1 109.3,194.8 109.6,192.5 109.9,191.8 110.3,192.8 110.6,194.5 110.9,192.3 111.3,194.4 111.6,193.0 111.9,194.8 112.3,195.0 112.6,195.1 112.9,193.5 113.3,194.4 113.6,193.2 113.9,195.3 114.3,193.3 114.6,194.6 114.9,192.6 115.3,192.9 115.6,194.5 115.9,194.2 116.3,194.1 116.6,194.0 116.9,195.0 117.3,193.5 117.6,195.5 117.9,197.2 118.3,194.8 118.6,195.4 118.9,194.4 119.3,194.8 119.6,195.5 119.9,195.7 120.3,195.8 120.6,196.9 120.9,197.7 121.3,197.4 121.6,196.8 121.9,199.5 122.3,197.6 122.6,198.5 122.9,197.7 123.3,198.8 123.6,198.0 123.9,198.6 124.3,197.2 124.6,199.3 124.9,199.4 125.3,199.4 125.6,201.7 125.9,201.2 126.3,198.7 126.6,200.0 127.0,200.7 127.3,199.9 127.6,201.5 128.0,201.9 128.3,202.2 128.6,204.0 129.0,201.4 129.3,202.8 129.6,202.9 130.0,203.4 130.3,204.0 130.6,205.9 131.0,203.6 131.3,201.6 131.6,203.1 132.0,204.7 132.3,205.5 132.6,204.8 133.0,204.6 133.3,205.3 133.6,204.5 134.0,206.6 134.3,204.7 134.6,205.9 135.0,206.8 135.3,206.7 135.6,206.3 136.0,206.1 136.3,207.0 136.6,206.7 137.0,205.0 137.3,209.3 137.6,209.9 138.0,207.9 138.3,209.2 138.6,208.2 139.0,210.2 139.3,208.6 139.6,207.6 140.0,207.9 140.3,210.3 140.6,209.6 141.0,208.6 141.3,207.8 141.6,210.7 142.0,210.8 142.3,208.9 142.6,210.5 143.0,211.3 143.3,209.4 143.6,212.2 144.0,211.4 144.3,209.9 144.6,211.6 145.0,210.3 145.3,212.4 145.6,210.6 146.0,211.0 146.3,210.0 146.6,211.9 147.0,212.2 147.3,212.0 147.6,211.0 148.0,212.9 148.3,212.4 148.6,210.5 149.0,211.7 149.3,211.9 149.6,213.1 150.0,211.9 150.3,214.0 150.6,214.4 151.0,213.9 151.3,211.7 151.6,213.0 152.0,214.1 152.3,213.7 152.7,213.0 153.0,212.3 153.3,215.1 153.7,212.3 154.0,212.8 154.3,214.4 154.7,214.2 155.0,213.5 155.3,214.3 155.7,213.9 156.0,215.1 156.3,215.9 156.7,212.0 157.0,214.2 157.3,214.2 157.7,214.0 158.0,213.3 158.3,213.8 158.7,215.7 159.0,214.9 159.3,214.8 159.7,214.2 160.0,215.5 160.3,214.7 160.7,214.9 161.0,213.9 161.3,217.6 161.7,215.2 162.0,215.0 162.3,214.7 162.7,215.4 163.0,216.2 163.3,214.9 163.7,215.2 164.0,216.4 164.3,216.9 164.7,215.1 165.0,216.5 165.3,215.1 165.7,214.4 166.0,215.6 166.3,215.6 166.7,215.7 167.0,214.6 167.3,214.6 167.7,215.8 168.0,215.2 168.3,215.9 168.7,216.4 169.0,215.2 169.3,216.0 169.7,216.7 170.0,217.3 170.3,214.9 170.7,216.8 171.0,216.9 171.3,216.1 171.7,215.1 172.0,212.2 172.3,209.8 172.7,210.0 173.0,211.6 173.3,211.5 173.7,210.5 174.0,208.4 174.3,210.5 174.7,209.2 175.0,209.3 175.3,211.8 175.7,210.1 176.0,209.1 176.3,210.6 176.7,208.8 177.0,211.1 177.3,211.4 177.7,210.3 178.0,209.2 178.3,210.2 178.7,208.8 179.0,211.3 179.4,210.3 179.7,208.3 180.0,212.0 180.4,209.2 180.7,210.4 181.0,210.2 181.4,209.7 181.7,210.8 182.0,208.4 182.4,208.6 182.7,208.0 183.0,209.0 183.4,210.0 183.7,208.4 184.0,210.3 184.4,209.8 184.7,206.8 185.0,207.7 185.4,208.3 185.7,207.2 186.0,208.9 186.4,208.0 186.7,209.4 187.0,208.8 187.4,208.3 187.7,206.9 188.0,209.0 188.4,207.2 188.7,208.2 189.0,209.9 189.4,210.0 189.7,208.7 190.0,206.8 190.4,207.6 190.7,205.9 191.0,207.5 191.4,206.2 191.7,207.3 192.0,208.4 192.4,206.7 192.7,208.1 193.0,208.7 193.4,207.9 193.7,207.5 194.0,206.8 194.4,206.1 194.7,206.2 195.0,204.6 195.4,208.7 195.7,206.8 196.0,203.9 196.4,206.8 196.7,207.7 197.0,207.1 197.4,207.2 197.7,206.6 198.0,204.2 198.4,207.4 198.7,206.6 199.0,204.3 199.4,205.4 199.7,205.3 200.0,205.9 200.4,204.4 200.7,206.4 201.0,204.2 201.4,205.0 201.7,205.3 202.0,205.5 202.4,203.9 202.7,204.4 203.0,205.1 203.4,204.5 203.7,205.6 204.0,203.1 204.4,202.9 204.7,203.0 205.1,203.8 205.4,203.5 205.7,205.4 206.1,204.2 206.4,204.0 206.7,203.8 207.1,202.8 207.4,203.9 207.7,204.1 208.1,201.9 208.4,203.4 208.7,203.7 209.1,205.1 209.4,204.3 209.7,202.9 210.1,202.3 210.4,204.4 210.7,202.4 211.1,201.9 211.4,202.7 211.7,202.0 212.1,200.4 212.4,202.6 212.7,203.5 213.1,202.0 213.4,202.4 213.7,201.4 214.1,200.5 214.4,200.2 214.7,200.7 215.1,199.4 215.4,200.4 215.7,199.5 216.1,200.1 216.4,200.1 216.7,200.8 217.1,200.1 217.4,200.7 217.7,200.2 218.1,199.7 218.4,198.4 218.7,199.8 219.1,198.7 219.4,200.6 219.7,199.4 220.1,197.5 220.4,198.4 220.7,200.7 221.1,198.6 221.4,198.6 221.7,199.6 222.1,200.0 222.4,199.0 222.7,199.0 223.1,196.8 223.4,196.8 223.7,196.5 224.1,195.9 224.4,199.4 224.7,197.1 225.1,196.2 225.4,197.2 225.7,196.9 226.1,197.0 226.4,195.7 226.7,195.7 227.1,194.1 227.4,194.8 227.7,194.8 228.1,194.9 228.4,195.6 228.7,194.3 229.1,193.3 229.4,193.5 229.7,195.1 230.1,195.4 230.4,192.6 230.8,193.0 231.1,192.7 231.4,193.8 231.8,191.7 232.1,191.5 232.4,192.4 232.8,191.2 233.1,192.8 233.4,191.5 233.8,193.6 234.1,191.3 234.4,187.8 234.8,189.6 235.1,188.2 235.4,189.3 235.8,189.4 236.1,189.2 236.4,189.7 236.8,188.0 237.1,189.6 237.4,188.3 237.8,184.1 238.1,187.2 238.4,188.2 238.8,186.0 239.1,186.5 239.4,187.0 239.8,187.8 240.1,186.3 240.4,186.4 240.8,185.4 241.1,184.7 241.4,184.5 241.8,185.8 242.1,183.6 242.4,183.4 242.8,185.5 243.1,182.9 243.4,183.0 243.8,182.1 244.1,183.7 244.4,182.3 244.8,181.9 245.1,182.8 245.4,180.2 245.8,180.9 246.1,179.6 246.4,181.0 246.8,181.1 247.1,180.4 247.4,181.4 247.8,179.1 248.1,177.1 248.4,175.2 248.8,175.1 249.1,174.5 249.4,174.0 249.8,172.4 250.1,174.6 250.4,173.1 250.8,173.1 251.1,177.1 251.4,172.8 251.8,172.5 252.1,171.5 252.4,172.4 252.8,172.2 253.1,171.4 253.4,169.1 253.8,169.0 254.1,167.0 254.4,170.6 254.8,166.6 255.1,164.9 255.4,168.6 255.8,166.7 256.1,168.7 256.5,170.1 256.8,167.5 257.1,164.9 257.5,164.1 257.8,164.6 258.1,162.5 258.5,162.5 258.8,159.6 259.1,164.2 259.5,162.9 259.8,161.9 260.1,161.4 260.5,160.6 260.8,155.5 261.1,159.3 261.5,157.1 261.8,159.8 262.1,158.0 262.5,154.9 262.8,153.9 263.1,157.6 263.5,150.6 263.8,152.7 264.1,154.0 264.5,151.0 264.8,152.1 265.1,152.7 265.5,148.8 265.8,146.7 266.1,145.2 266.5,149.3 266.8,146.7 267.1,144.0 267.5,140.1 267.8,138.1 268.1,140.3 268.5,140.9 268.8,135.8 269.1,137.1 269.5,133.9 269.8,131.3 270.1,131.4 270.5,134.8 270.8,134.7 271.1,134.9 271.5,127.7 271.8,125.9 272.1,132.3 272.5,130.2 272.8,131.3 273.1,128.2 273.5,130.5 273.8,130.3 274.1,122.1 274.5,123.1 274.8,126.4 275.1,121.8 275.5,128.6 275.8,124.1 276.1,129.8 276.5,129.0 276.8,122.0 277.1,131.0 277.5,128.0 277.8,131.3 278.1,131.9 278.5,127.3 278.8,127.5 279.1,133.6 279.5,120.9 279.8,123.9 280.1,133.0 280.5,129.3 280.8,130.8 281.1,133.6 281.5,135.7 281.8,131.8 282.2,132.2 282.5,128.2 282.8,130.6 283.2,133.1 283.5,131.7 283.8,129.4 284.2,126.3 284.5,130.3 284.8,125.1 285.2,120.3 285.5,124.0 285.8,114.5 286.2,116.3 286.5,112.5 286.8,111.6 287.2,107.7 287.5,105.7 287.8,104.1 288.2,97.4 288.5,108.1 288.8,101.9 289.2,102.1 289.5,97.5 289.8,96.2 290.2,92.3 290.5,88.7 290.8,87.2 291.2,80.7 291.5,84.5 291.8,80.6 292.2,78.3 292.5,74.0 292.8,80.1 293.2,79.2 293.5,74.1 293.8,74.8 294.2,78.4 294.5,71.6" fill="none" stroke="#6ab864" stroke-width="2.0" stroke-linejoin="round" stroke-linecap="round" />
<path d="M36.5,224.5 36.8,229.7 37.2,226.7 37.5,226.2 37.8,226.9 38.2,225.0 38.5,226.9 38.8,228.3 39.2,227.6 39.5,224.6 39.8,222.3 40.2,227.5 40.5,229.7 40.8,224.7 41.2,224.4 41.5,228.1 41.8,227.4 42.2,230.2 42.5,229.3 42.8,224.9 43.2,226.5 43.5,227.8 43.8,229.1 44.2,228.3 44.5,225.9 44.8,229.1 45.2,226.9 45.5,230.6 45.8,230.6 46.2,230.9 46.5,230.5 46.8,228.4 47.2,230.4 47.5,231.4 47.8,230.7 48.2,230.1 48.5,228.8 48.8,230.8 49.2,230.9 49.5,229.6 49.9,230.6 50.2,232.1 50.5,232.4 50.9,227.7 51.2,232.0 51.5,233.7 51.9,232.0 52.2,230.3 52.5,229.8 52.9,230.3 53.2,231.3 53.5,234.6 53.9,232.9 54.2,233.1 54.5,232.6 54.9,232.6 55.2,232.0 55.5,233.0 55.9,234.1 56.2,232.4 56.5,232.2 56.9,233.2 57.2,232.6 57.5,233.3 57.9,232.3 58.2,232.0 58.5,232.2 58.9,234.3 59.2,232.4 59.5,232.4 59.9,232.9 60.2,233.9 60.5,233.5 60.9,232.6 61.2,232.8 61.5,232.8 61.9,231.9 62.2,230.7 62.5,230.9 62.9,232.4 63.2,232.9 63.5,229.5 63.9,229.8 64.2,231.0 64.5,231.8 64.9,228.7 65.2,230.4 65.5,230.2 65.9,229.2 66.2,228.5 66.5,229.8 66.9,229.0 67.2,227.5 67.5,227.3 67.9,227.9 68.2,224.5 68.5,224.9 68.9,224.8 69.2,224.4 69.5,226.1 69.9,223.8 70.2,223.0 70.5,222.7 70.9,222.1 71.2,221.3 71.5,220.0 71.9,219.9 72.2,220.7 72.5,218.8 72.9,219.6 73.2,218.5 73.5,217.9 73.9,217.7 74.2,217.3 74.5,216.4 74.9,215.8 75.2,217.9 75.6,215.2 75.9,215.4 76.2,212.7 76.6,213.5 76.9,213.9 77.2,212.2 77.6,212.0 77.9,211.0 78.2,213.1 78.6,210.9 78.9,211.0 79.2,208.0 79.6,208.2 79.9,208.7 80.2,208.0 80.6,207.5 80.9,207.4 81.2,207.4 81.6,207.2 81.9,204.2 82.2,206.0 82.6,204.0 82.9,203.1 83.2,202.9 83.6,203.1 83.9,202.0 84.2,202.9 84.6,202.9 84.9,200.4 85.2,200.3 85.6,199.4 85.9,200.3 86.2,202.1 86.6,200.1 86.9,200.0 87.2,197.8 87.6,199.5 87.9,197.2 88.2,197.6 88.6,197.2 88.9,196.9 89.2,196.2 89.6,197.8 89.9,194.8 90.2,197.7 90.6,196.3 90.9,195.9 91.2,193.9 91.6,195.3 91.9,191.9 92.2,194.6 92.6,189.9 92.9,191.8 93.2,186.2 93.6,186.2 93.9,184.8 94.2,186.2 94.6,186.3 94.9,182.6 95.2,182.1 95.6,182.4 95.9,181.7 96.2,180.7 96.6,179.5 96.9,177.7 97.2,178.5 97.6,176.8 97.9,174.8 98.2,176.0 98.6,174.1 98.9,175.1 99.2,173.6 99.6,173.4 99.9,170.8 100.2,172.5 100.6,173.2 100.9,170.8 101.3,171.7 101.6,168.8 101.9,169.9 102.3,171.0 102.6,171.8 102.9,170.0 103.3,170.2 103.6,169.9 103.9,169.4 104.3,164.5 104.6,170.4 104.9,168.8 105.3,167.8 105.6,167.2 105.9,169.0 106.3,168.3 106.6,169.0 106.9,165.6 107.3,169.4 107.6,168.1 107.9,169.6 108.3,167.4 108.6,169.5 108.9,166.3 109.3,169.4 109.6,168.8 109.9,168.8 110.3,168.4 110.6,169.8 110.9,171.6 111.3,171.8 111.6,169.6 111.9,167.9 112.3,168.0 112.6,169.1 112.9,168.5 113.3,170.1 113.6,170.5 113.9,169.7 114.3,168.7 114.6,168.9 114.9,170.5 115.3,173.2 115.6,172.4 115.9,175.2 116.3,170.5 116.6,172.3 116.9,170.6 117.3,170.8 117.6,173.2 117.9,172.3 118.3,173.5 118.6,175.7 118.9,173.3 119.3,173.9 119.6,174.1 119.9,172.4 120.3,176.3 120.6,177.4 120.9,174.4 121.3,174.3 121.6,175.5 121.9,176.5 122.3,176.7 122.6,177.1 122.9,177.7 123.3,178.7 123.6,177.1 123.9,179.9 124.3,181.3 124.6,180.0 124.9,181.4 125.3,182.1 125.6,180.6 125.9,183.3 126.3,183.5 126.6,183.5 127.0,184.3 127.3,184.1 127.6,184.4 128.0,186.0 128.3,186.6 128.6,182.7 129.0,185.4 129.3,186.5 129.6,185.8 130.0,186.5 130.3,187.0 130.6,187.9 131.0,188.1 131.3,188.7 131.6,186.5 132.0,189.2 132.3,188.6 132.6,188.9 133.0,192.1 133.3,188.8 133.6,190.2 134.0,193.0 134.3,189.4 134.6,190.4 135.0,191.5 135.3,192.9 135.6,193.5 136.0,193.0 136.3,193.6 136.6,192.2 137.0,193.0 137.3,192.7 137.6,194.0 138.0,194.7 138.3,195.1 138.6,195.4 139.0,195.6 139.3,195.3 139.6,195.7 140.0,196.2 140.3,193.6 140.6,196.5 141.0,196.5 141.3,197.3 141.6,196.2 142.0,196.5 142.3,197.6 142.6,196.8 143.0,197.4 143.3,199.8 143.6,199.9 144.0,199.8 144.3,198.8 144.6,200.0 145.0,201.1 145.3,200.2 145.6,199.7 146.0,200.0 146.3,199.9 146.6,200.4 147.0,200.2 147.3,200.8 147.6,201.6 148.0,202.4 148.3,201.1 148.6,200.7 149.0,202.0 149.3,202.1 149.6,200.8 150.0,200.0 150.3,200.4 150.6,202.7 151.0,203.0 151.3,202.6 151.6,202.3 152.0,202.2 152.3,204.6 152.7,201.4 153.0,202.0 153.3,203.5 153.7,202.5 154.0,203.9 154.3,203.4 154.7,201.9 155.0,204.9 155.3,204.2 155.7,204.3 156.0,204.2 156.3,203.7 156.7,204.2 157.0,202.3 157.3,205.2 157.7,203.6 158.0,204.9 158.3,204.2 158.7,204.8 159.0,205.1 159.3,205.5 159.7,205.3 160.0,206.2 160.3,205.8 160.7,207.6 161.0,205.7 161.3,206.4 161.7,205.8 162.0,206.5 162.3,204.6 162.7,206.0 163.0,206.0 163.3,204.6 163.7,207.0 164.0,205.9 164.3,207.5 164.7,207.0 165.0,207.0 165.3,204.4 165.7,207.0 166.0,205.6 166.3,205.8 166.7,205.0 167.0,206.7 167.3,207.8 167.7,207.7 168.0,205.0 168.3,205.9 168.7,205.0 169.0,204.9 169.3,206.2 169.7,206.6 170.0,206.0 170.3,207.9 170.7,206.9 171.0,206.6 171.3,205.7 171.7,208.3 172.0,200.7 172.3,197.4 172.7,198.0 173.0,199.1 173.3,199.2 173.7,198.6 174.0,200.4 174.3,199.5 174.7,197.4 175.0,197.4 175.3,196.7 175.7,197.9 176.0,197.1 176.3,200.0 176.7,199.9 177.0,201.6 177.3,199.9 177.7,200.3 178.0,197.5 178.3,197.3 178.7,199.7 179.0,199.9 179.4,196.9 179.7,196.5 180.0,199.3 180.4,197.6 180.7,196.2 181.0,197.4 181.4,196.0 181.7,197.6 182.0,197.4 182.4,198.0 182.7,199.9 183.0,198.1 183.4,198.6 183.7,196.2 184.0,198.9 184.4,197.4 184.7,197.2 185.0,196.5 185.4,197.0 185.7,194.7 186.0,196.4 186.4,196.7 186.7,196.7 187.0,195.7 187.4,198.5 187.7,197.6 188.0,196.6 188.4,197.5 188.7,196.4 189.0,198.6 189.4,194.2 189.7,196.0 190.0,196.1 190.4,197.3 190.7,195.2 191.0,194.9 191.4,196.5 191.7,195.9 192.0,197.4 192.4,195.4 192.7,195.5 193.0,194.3 193.4,194.9 193.7,194.0 194.0,195.5 194.4,195.0 194.7,195.3 195.0,195.0 195.4,195.7 195.7,195.0 196.0,195.5 196.4,193.5 196.7,194.2 197.0,194.3 197.4,194.9 197.7,193.2 198.0,194.1 198.4,193.6 198.7,194.6 199.0,193.6 199.4,194.7 199.7,194.6 200.0,194.4 200.4,191.7 200.7,193.4 201.0,191.7 201.4,194.4 201.7,192.8 202.0,193.8 202.4,192.7 202.7,191.1 203.0,191.1 203.4,193.7 203.7,191.8 204.0,191.5 204.4,192.6 204.7,192.8 205.1,193.3 205.4,191.9 205.7,193.6 206.1,192.2 206.4,191.7 206.7,192.6 207.1,193.0 207.4,190.6 207.7,191.6 208.1,193.1 208.4,191.4 208.7,190.6 209.1,191.7 209.4,190.3 209.7,190.5 210.1,190.1 210.4,190.9 210.7,190.9 211.1,189.0 211.4,189.8 211.7,189.4 212.1,189.1 212.4,189.3 212.7,189.1 213.1,189.0 213.4,189.2 213.7,189.9 214.1,188.1 214.4,188.6 214.7,189.1 215.1,187.6 215.4,186.2 215.7,189.4 216.1,187.9 216.4,186.5 216.7,189.5 217.1,187.7 217.4,187.7 217.7,188.1 218.1,185.3 218.4,186.1 218.7,187.1 219.1,188.5 219.4,186.5 219.7,187.5 220.1,185.7 220.4,186.5 220.7,185.6 221.1,184.0 221.4,184.7 221.7,185.8 222.1,185.4 222.4,186.2 222.7,184.0 223.1,185.8 223.4,185.2 223.7,186.1 224.1,184.0 224.4,181.6 224.7,184.3 225.1,184.1 225.4,184.0 225.7,183.0 226.1,182.4 226.4,179.6 226.7,180.9 227.1,181.9 227.4,183.3 227.7,180.1 228.1,180.9 228.4,182.2 228.7,180.6 229.1,180.7 229.4,179.0 229.7,179.7 230.1,181.0 230.4,179.3 230.8,177.5 231.1,178.7 231.4,179.5 231.8,179.4 232.1,175.4 232.4,176.6 232.8,179.1 233.1,176.9 233.4,175.7 233.8,176.0 234.1,177.5 234.4,176.7 234.8,178.9 235.1,176.3 235.4,176.0 235.8,174.3 236.1,175.5 236.4,175.6 236.8,172.4 237.1,172.9 237.4,174.7 237.8,176.5 238.1,175.7 238.4,173.2 238.8,172.7 239.1,172.5 239.4,170.7 239.8,169.1 240.1,170.1 240.4,170.5 240.8,170.1 241.1,172.2 241.4,168.4 241.8,169.7 242.1,167.6 242.4,170.3 242.8,168.6 243.1,170.2 243.4,167.9 243.8,164.5 244.1,167.7 244.4,166.9 244.8,166.5 245.1,164.9 245.4,166.4 245.8,165.2 246.1,166.0 246.4,159.4 246.8,164.0 247.1,162.9 247.4,163.9 247.8,161.5 248.1,161.5 248.4,163.5 248.8,155.5 249.1,160.1 249.4,159.6 249.8,157.2 250.1,161.1 250.4,157.6 250.8,158.8 251.1,157.3 251.4,156.4 251.8,159.0 252.1,155.4 252.4,153.5 252.8,154.9 253.1,152.5 253.4,152.6 253.8,149.4 254.1,151.3 254.4,149.9 254.8,149.7 255.1,149.7 255.4,145.9 255.8,147.4 256.1,146.9 256.5,145.7 256.8,142.8 257.1,147.2 257.5,142.8 257.8,146.3 258.1,144.2 258.5,142.2 258.8,140.7 259.1,143.6 259.5,139.5 259.8,139.8 260.1,136.2 260.5,141.9 260.8,138.0 261.1,139.1 261.5,138.2 261.8,136.8 262.1,137.0 262.5,134.4 262.8,134.3 263.1,135.5 263.5,128.5 263.8,131.8 264.1,134.3 264.5,130.4 264.8,128.8 265.1,128.4 265.5,127.2 265.8,123.0 266.1,125.5 266.5,123.9 266.8,122.6 267.1,120.7 267.5,119.7 267.8,116.2 268.1,112.2 268.5,112.9 268.8,111.4 269.1,111.8 269.5,110.7 269.8,112.2 270.1,101.4 270.5,106.6 270.8,107.8 271.1,103.8 271.5,104.0 271.8,98.5 272.1,100.6 272.5,105.6 272.8,103.0 273.1,104.1 273.5,100.9 273.8,106.5 274.1,92.3 274.5,97.7 274.8,98.3 275.1,97.7 275.5,95.9 275.8,102.5 276.1,97.9 276.5,90.9 276.8,91.9 277.1,103.9 277.5,101.3 277.8,100.8 278.1,108.1 278.5,103.0 278.8,100.9 279.1,99.2 279.5,102.6 279.8,108.4 280.1,104.6 280.5,107.4 280.8,101.9 281.1,102.9 281.5,107.9 281.8,102.0 282.2,107.0 282.5,104.7 282.8,101.0 283.2,102.7 283.5,104.6 283.8,102.7 284.2,95.2 284.5,101.6 284.8,97.8 285.2,98.6 285.5,91.1 285.8,90.1 286.2,83.3 286.5,84.6 286.8,78.1 287.2,77.5 287.5,74.8 287.8,72.5 288.2,69.9 288.5,72.3 288.8,73.0 289.2,66.3 289.5,61.7 289.8,63.5 290.2,54.2 290.5,55.8 290.8,49.3 291.2,46.3 291.5,43.5 291.8,37.9 292.2,44.0 292.5,42.4 292.8,40.1 293.2,37.3 293.5,39.8 293.8,33.0 294.2,36.4 294.5,36.5" fill="none" stroke="#56ae50" stroke-width="2.0" stroke-linejoin="round" stroke-linecap="round" />
<line x1="47.30" y1="49.50" x2="56.90" y2="49.50" stroke="#56ae50" stroke-width="1.8" />
<text x="60.80" y="53.24" font-size="10.4" text-anchor="start" fill="#4a4a4a" font-weight="normal" >2.3 V</text>
<line x1="47.30" y1="63.95" x2="56.90" y2="63.95" stroke="#6ab864" stroke-width="1.8" />
<text x="60.80" y="67.69" font-size="10.4" text-anchor="start" fill="#4a4a4a" font-weight="normal" >2.2 V</text>
<line x1="47.30" y1="78.40" x2="56.90" y2="78.40" stroke="#7cc076" stroke-width="1.8" />
<text x="60.80" y="82.14" font-size="10.4" text-anchor="start" fill="#4a4a4a" font-weight="normal" >2.1 V</text>
<line x1="47.30" y1="92.85" x2="56.90" y2="92.85" stroke="#8cc887" stroke-width="1.8" />
<text x="60.80" y="96.59" font-size="10.4" text-anchor="start" fill="#4a4a4a" font-weight="normal" >2.0 V</text>
<line x1="47.30" y1="107.30" x2="56.90" y2="107.30" stroke="#9cd097" stroke-width="1.8" />
<text x="60.80" y="111.04" font-size="10.4" text-anchor="start" fill="#4a4a4a" font-weight="normal" >1.9 V</text>
<line x1="47.30" y1="121.75" x2="56.90" y2="121.75" stroke="#acd8a6" stroke-width="1.8" />
<text x="60.80" y="125.49" font-size="10.4" text-anchor="start" fill="#4a4a4a" font-weight="normal" >1.8 V</text>
<line x1="47.30" y1="136.20" x2="56.90" y2="136.20" stroke="#bbdfb6" stroke-width="1.8" />
<text x="60.80" y="139.94" font-size="10.4" text-anchor="start" fill="#4a4a4a" font-weight="normal" >1.7 V</text>
<line x1="47.30" y1="150.65" x2="56.90" y2="150.65" stroke="#cae7c5" stroke-width="1.8" />
<text x="60.80" y="154.39" font-size="10.4" text-anchor="start" fill="#4a4a4a" font-weight="normal" >1.6 V</text>
<line x1="47.30" y1="165.10" x2="56.90" y2="165.10" stroke="#d9eed4" stroke-width="1.8" />
<text x="60.80" y="168.84" font-size="10.4" text-anchor="start" fill="#4a4a4a" font-weight="normal" >1.5 V</text>
<line x1="382.00" y1="34.00" x2="640.00" y2="34.00" stroke="#b4b4b4" stroke-width="1" />
<line x1="382.00" y1="237.50" x2="640.00" y2="237.50" stroke="#b4b4b4" stroke-width="1" />
<line x1="382.00" y1="34.00" x2="382.00" y2="237.50" stroke="#b4b4b4" stroke-width="1" />
<line x1="640.00" y1="34.00" x2="640.00" y2="237.50" stroke="#b4b4b4" stroke-width="1" />
<line x1="382.00" y1="196.80" x2="384.50" y2="196.80" stroke="#aaa" stroke-width="0.8" />
<line x1="382.00" y1="156.10" x2="384.50" y2="156.10" stroke="#aaa" stroke-width="0.8" />
<line x1="382.00" y1="115.40" x2="384.50" y2="115.40" stroke="#aaa" stroke-width="0.8" />
<line x1="382.00" y1="74.70" x2="384.50" y2="74.70" stroke="#aaa" stroke-width="0.8" />
<text x="376.80" y="240.99" font-size="9.7" text-anchor="end" fill="#4a4a4a" font-weight="normal" transform="translate(0 -23.75) scale(1 1.1)" >0</text>
<text x="376.80" y="200.29" font-size="9.7" text-anchor="end" fill="#4a4a4a" font-weight="normal" transform="translate(0 -19.68) scale(1 1.1)" >0.2</text>
<text x="376.80" y="159.59" font-size="9.7" text-anchor="end" fill="#4a4a4a" font-weight="normal" transform="translate(0 -15.61) scale(1 1.1)" >0.4</text>
<text x="376.80" y="118.89" font-size="9.7" text-anchor="end" fill="#4a4a4a" font-weight="normal" transform="translate(0 -11.54) scale(1 1.1)" >0.6</text>
<text x="376.80" y="78.19" font-size="9.7" text-anchor="end" fill="#4a4a4a" font-weight="normal" transform="translate(0 -7.47) scale(1 1.1)" >0.8</text>
<text x="376.80" y="37.49" font-size="9.7" text-anchor="end" fill="#4a4a4a" font-weight="normal" transform="translate(0 -3.40) scale(1 1.1)" >1.0</text>
<text x="382.00" y="28.99" font-size="9.7" text-anchor="middle" fill="#4a4a4a" font-weight="normal" transform="translate(0 -2.55) scale(1 1.1)" >500</text>
<text x="433.60" y="28.99" font-size="9.7" text-anchor="middle" fill="#4a4a4a" font-weight="normal" transform="translate(0 -2.55) scale(1 1.1)" >600</text>
<line x1="433.60" y1="34.00" x2="433.60" y2="36.50" stroke="#aaa" stroke-width="0.8" />
<text x="485.20" y="28.99" font-size="9.7" text-anchor="middle" fill="#4a4a4a" font-weight="normal" transform="translate(0 -2.55) scale(1 1.1)" >700</text>
<line x1="485.20" y1="34.00" x2="485.20" y2="36.50" stroke="#aaa" stroke-width="0.8" />
<text x="536.80" y="28.99" font-size="9.7" text-anchor="middle" fill="#4a4a4a" font-weight="normal" transform="translate(0 -2.55) scale(1 1.1)" >800</text>
<line x1="536.80" y1="34.00" x2="536.80" y2="36.50" stroke="#aaa" stroke-width="0.8" />
<text x="588.40" y="28.99" font-size="9.7" text-anchor="middle" fill="#4a4a4a" font-weight="normal" transform="translate(0 -2.55) scale(1 1.1)" >900</text>
<line x1="588.40" y1="34.00" x2="588.40" y2="36.50" stroke="#aaa" stroke-width="0.8" />
<text x="640.00" y="28.99" font-size="9.7" text-anchor="middle" fill="#4a4a4a" font-weight="normal" transform="translate(0 -2.55) scale(1 1.1)" >1,000</text>
<text x="510.70" y="15.03" font-size="11.2" text-anchor="middle" fill="#444444" font-weight="normal" >Wavelength, nm</text>
<text x="349.60" y="139.20" font-size="11.1" text-anchor="middle" fill="#444444" font-weight="normal" transform="rotate(-90 349.60 135.20)" >Calculated EL intensity, a.u.</text>
<text x="348.5" y="10.8" font-size="15.5" font-weight="bold" fill="#111" stroke="#111" stroke-width="0.5">b</text>
<path d="M382.0,237.5 382.9,237.5 383.7,237.5 384.6,237.5 385.5,237.5 386.3,237.5 387.2,237.5 388.0,237.5 388.9,237.5 389.8,237.5 390.6,237.5 391.5,237.5 392.4,237.5 393.2,237.5 394.1,237.5 394.9,237.5 395.8,237.5 396.7,237.5 397.5,237.5 398.4,237.5 399.3,237.5 400.1,237.5 401.0,237.5 401.8,237.5 402.7,237.5 403.6,237.5 404.4,237.5 405.3,237.5 406.2,237.5 407.0,237.5 407.9,237.5 408.7,237.5 409.6,237.5 410.5,237.5 411.3,237.5 412.2,237.5 413.1,237.5 413.9,237.5 414.8,237.5 415.7,237.5 416.5,237.5 417.4,237.5 418.2,237.5 419.1,237.5 420.0,237.5 420.8,237.5 421.7,237.5 422.6,237.5 423.4,237.5 424.3,237.5 425.1,237.5 426.0,237.5 426.9,237.5 427.7,237.5 428.6,237.5 429.5,237.5 430.3,237.5 431.2,237.5 432.0,237.5 432.9,237.5 433.8,237.5 434.6,237.5 435.5,237.5 436.4,237.5 437.2,237.5 438.1,237.5 438.9,237.5 439.8,237.5 440.7,237.5 441.5,237.5 442.4,237.5 443.3,237.5 444.1,237.5 445.0,237.5 445.9,237.5 446.7,237.5 447.6,237.5 448.4,237.5 449.3,237.5 450.2,237.5 451.0,237.5 451.9,237.5 452.8,237.5 453.6,237.5 454.5,237.5 455.3,237.5 456.2,237.5 457.1,237.5 457.9,237.5 458.8,237.5 459.7,237.5 460.5,237.5 461.4,237.5 462.2,237.5 463.1,237.5 464.0,237.5 464.8,237.5 465.7,237.5 466.6,237.5 467.4,237.5 468.3,237.5 469.2,237.5 470.0,237.5 470.9,237.5 471.7,237.5 472.6,237.5 473.5,237.5 474.3,237.5 475.2,237.5 476.1,237.5 476.9,237.5 477.8,237.5 478.6,237.5 479.5,237.5 480.4,237.5 481.2,237.5 482.1,237.5 483.0,237.5 483.8,237.5 484.7,237.5 485.5,237.5 486.4,237.5 487.3,237.5 488.1,237.5 489.0,237.5 489.9,237.5 490.7,237.5 491.6,237.5 492.4,237.5 493.3,237.5 494.2,237.5 495.0,237.5 495.9,237.5 496.8,237.5 497.6,237.5 498.5,237.5 499.4,237.5 500.2,237.5 501.1,237.5 501.9,237.5 502.8,237.5 503.7,237.5 504.5,237.5 505.4,237.5 506.3,237.5 507.1,237.5 508.0,237.5 508.8,237.5 509.7,237.5 510.6,237.5 511.4,237.5 512.3,237.5 513.2,237.5 514.0,237.5 514.9,237.5 515.7,237.5 516.6,237.5 517.5,237.5 518.3,237.5 519.2,237.5 520.1,237.5 520.9,237.5 521.8,237.5 522.6,237.5 523.5,237.5 524.4,237.5 525.2,237.4 526.1,237.4 527.0,237.4 527.8,237.4 528.7,237.4 529.6,237.4 530.4,237.4 531.3,237.4 532.1,237.4 533.0,237.4 533.9,237.3 534.7,237.3 535.6,237.3 536.5,237.3 537.3,237.3 538.2,237.2 539.0,237.2 539.9,237.2 540.8,237.1 541.6,237.1 542.5,237.1 543.4,237.0 544.2,237.0 545.1,236.9 545.9,236.9 546.8,236.8 547.7,236.8 548.5,236.7 549.4,236.6 550.3,236.6 551.1,236.5 552.0,236.4 552.8,236.3 553.7,236.3 554.6,236.2 555.4,236.1 556.3,236.0 557.2,235.9 558.0,235.8 558.9,235.7 559.8,235.6 560.6,235.5 561.5,235.4 562.3,235.3 563.2,235.1 564.1,235.0 564.9,234.9 565.8,234.8 566.7,234.7 567.5,234.5 568.4,234.4 569.2,234.3 570.1,234.2 571.0,234.0 571.8,233.9 572.7,233.8 573.6,233.6 574.4,233.5 575.3,233.4 576.1,233.2 577.0,233.1 577.9,233.0 578.7,232.8 579.6,232.7 580.5,232.5 581.3,232.4 582.2,232.2 583.1,232.1 583.9,232.0 584.8,231.8 585.6,231.7 586.5,231.5 587.4,231.4 588.2,231.2 589.1,231.1 590.0,230.9 590.8,230.8 591.7,230.6 592.5,230.5 593.4,230.3 594.3,230.1 595.1,230.0 596.0,229.8 596.9,229.7 597.7,229.5 598.6,229.4 599.4,229.2 600.3,229.0 601.2,228.9 602.0,228.7 602.9,228.5 603.8,228.4 604.6,228.2 605.5,228.0 606.3,227.8 607.2,227.6 608.1,227.5 608.9,227.3 609.8,227.1 610.7,226.9 611.5,226.7 612.4,226.5 613.3,226.3 614.1,226.1 615.0,225.9 615.8,225.7 616.7,225.4 617.6,225.2 618.4,225.0 619.3,224.8 620.2,224.6 621.0,224.3 621.9,224.1 622.7,223.9 623.6,223.7 624.5,223.4 625.3,223.2 626.2,223.0 627.1,222.8 627.9,222.5 628.8,222.3 629.6,222.1 630.5,221.8 631.4,221.6 632.2,221.3 633.1,221.1 634.0,220.9 634.8,220.6 635.7,220.4 636.5,220.1 637.4,219.9 638.3,219.6 639.1,219.4 640.0,219.1" fill="none" stroke="#b0def2" stroke-width="1.5" stroke-linejoin="round" stroke-linecap="round" />
<path d="M382.0,237.5 382.9,237.5 383.7,237.5 384.6,237.5 385.5,237.5 386.3,237.5 387.2,237.5 388.0,237.5 388.9,237.5 389.8,237.5 390.6,237.5 391.5,237.5 392.4,237.5 393.2,237.5 394.1,237.5 394.9,237.5 395.8,237.5 396.7,237.5 397.5,237.5 398.4,237.5 399.3,237.5 400.1,237.5 401.0,237.5 401.8,237.5 402.7,237.5 403.6,237.5 404.4,237.5 405.3,237.5 406.2,237.5 407.0,237.5 407.9,237.5 408.7,237.5 409.6,237.5 410.5,237.5 411.3,237.5 412.2,237.5 413.1,237.5 413.9,237.5 414.8,237.5 415.7,237.5 416.5,237.5 417.4,237.5 418.2,237.5 419.1,237.5 420.0,237.5 420.8,237.5 421.7,237.5 422.6,237.5 423.4,237.5 424.3,237.5 425.1,237.5 426.0,237.5 426.9,237.5 427.7,237.5 428.6,237.5 429.5,237.5 430.3,237.5 431.2,237.5 432.0,237.5 432.9,237.5 433.8,237.5 434.6,237.5 435.5,237.5 436.4,237.5 437.2,237.5 438.1,237.5 438.9,237.5 439.8,237.5 440.7,237.5 441.5,237.5 442.4,237.5 443.3,237.5 444.1,237.5 445.0,237.5 445.9,237.5 446.7,237.5 447.6,237.5 448.4,237.5 449.3,237.5 450.2,237.5 451.0,237.5 451.9,237.5 452.8,237.5 453.6,237.5 454.5,237.5 455.3,237.5 456.2,237.5 457.1,237.5 457.9,237.5 458.8,237.5 459.7,237.5 460.5,237.5 461.4,237.5 462.2,237.5 463.1,237.5 464.0,237.5 464.8,237.5 465.7,237.5 466.6,237.5 467.4,237.5 468.3,237.5 469.2,237.5 470.0,237.5 470.9,237.5 471.7,237.5 472.6,237.5 473.5,237.5 474.3,237.5 475.2,237.5 476.1,237.5 476.9,237.5 477.8,237.5 478.6,237.5 479.5,237.5 480.4,237.5 481.2,237.5 482.1,237.5 483.0,237.5 483.8,237.5 484.7,237.5 485.5,237.5 486.4,237.5 487.3,237.5 488.1,237.5 489.0,237.5 489.9,237.5 490.7,237.5 491.6,237.5 492.4,237.5 493.3,237.5 494.2,237.5 495.0,237.5 495.9,237.5 496.8,237.5 497.6,237.5 498.5,237.5 499.4,237.5 500.2,237.4 501.1,237.4 501.9,237.4 502.8,237.4 503.7,237.4 504.5,237.4 505.4,237.4 506.3,237.4 507.1,237.4 508.0,237.3 508.8,237.3 509.7,237.3 510.6,237.3 511.4,237.3 512.3,237.2 513.2,237.2 514.0,237.2 514.9,237.1 515.7,237.1 516.6,237.0 517.5,237.0 518.3,236.9 519.2,236.9 520.1,236.8 520.9,236.8 521.8,236.7 522.6,236.6 523.5,236.5 524.4,236.4 525.2,236.4 526.1,236.3 527.0,236.2 527.8,236.1 528.7,236.0 529.6,235.9 530.4,235.7 531.3,235.6 532.1,235.5 533.0,235.4 533.9,235.3 534.7,235.1 535.6,235.0 536.5,234.8 537.3,234.7 538.2,234.6 539.0,234.4 539.9,234.3 540.8,234.1 541.6,234.0 542.5,233.8 543.4,233.7 544.2,233.5 545.1,233.4 545.9,233.2 546.8,233.0 547.7,232.9 548.5,232.7 549.4,232.6 550.3,232.4 551.1,232.2 552.0,232.1 552.8,231.9 553.7,231.7 554.6,231.6 555.4,231.4 556.3,231.3 557.2,231.1 558.0,230.9 558.9,230.8 559.8,230.6 560.6,230.4 561.5,230.3 562.3,230.1 563.2,229.9 564.1,229.8 564.9,229.6 565.8,229.4 566.7,229.2 567.5,229.1 568.4,228.9 569.2,228.7 570.1,228.6 571.0,228.4 571.8,228.2 572.7,228.1 573.6,227.9 574.4,227.7 575.3,227.5 576.1,227.4 577.0,227.2 577.9,227.0 578.7,226.8 579.6,226.6 580.5,226.5 581.3,226.3 582.2,226.1 583.1,225.9 583.9,225.7 584.8,225.6 585.6,225.4 586.5,225.2 587.4,225.0 588.2,224.8 589.1,224.6 590.0,224.5 590.8,224.3 591.7,224.1 592.5,223.9 593.4,223.7 594.3,223.5 595.1,223.3 596.0,223.1 596.9,222.9 597.7,222.7 598.6,222.5 599.4,222.3 600.3,222.1 601.2,221.9 602.0,221.7 602.9,221.5 603.8,221.3 604.6,221.0 605.5,220.8 606.3,220.6 607.2,220.4 608.1,220.1 608.9,219.9 609.8,219.6 610.7,219.4 611.5,219.1 612.4,218.9 613.3,218.6 614.1,218.3 615.0,218.0 615.8,217.8 616.7,217.5 617.6,217.2 618.4,216.9 619.3,216.6 620.2,216.3 621.0,216.0 621.9,215.8 622.7,215.5 623.6,215.2 624.5,214.9 625.3,214.6 626.2,214.3 627.1,214.0 627.9,213.7 628.8,213.4 629.6,213.1 630.5,212.8 631.4,212.5 632.2,212.2 633.1,211.8 634.0,211.5 634.8,211.2 635.7,210.9 636.5,210.6 637.4,210.2 638.3,209.9 639.1,209.6 640.0,209.3" fill="none" stroke="#a4d1eb" stroke-width="1.5" stroke-linejoin="round" stroke-linecap="round" />
<path d="M382.0,237.5 382.9,237.5 383.7,237.5 384.6,237.5 385.5,237.5 386.3,237.5 387.2,237.5 388.0,237.5 388.9,237.5 389.8,237.5 390.6,237.5 391.5,237.5 392.4,237.5 393.2,237.5 394.1,237.5 394.9,237.5 395.8,237.5 396.7,237.5 397.5,237.5 398.4,237.5 399.3,237.5 400.1,237.5 401.0,237.5 401.8,237.5 402.7,237.5 403.6,237.5 404.4,237.5 405.3,237.5 406.2,237.5 407.0,237.5 407.9,237.5 408.7,237.5 409.6,237.5 410.5,237.5 411.3,237.5 412.2,237.5 413.1,237.5 413.9,237.5 414.8,237.5 415.7,237.5 416.5,237.5 417.4,237.5 418.2,237.5 419.1,237.5 420.0,237.5 420.8,237.5 421.7,237.5 422.6,237.5 423.4,237.5 424.3,237.5 425.1,237.5 426.0,237.5 426.9,237.5 427.7,237.5 428.6,237.5 429.5,237.5 430.3,237.5 431.2,237.5 432.0,237.5 432.9,237.5 433.8,237.5 434.6,237.5 435.5,237.5 436.4,237.5 437.2,237.5 438.1,237.5 438.9,237.5 439.8,237.5 440.7,237.5 441.5,237.5 442.4,237.5 443.3,237.5 444.1,237.5 445.0,237.5 445.9,237.5 446.7,237.5 447.6,237.5 448.4,237.5 449.3,237.5 450.2,237.5 451.0,237.5 451.9,237.5 452.8,237.5 453.6,237.5 454.5,237.5 455.3,237.5 456.2,237.5 457.1,237.5 457.9,237.5 458.8,237.5 459.7,237.5 460.5,237.5 461.4,237.5 462.2,237.5 463.1,237.5 464.0,237.5 464.8,237.5 465.7,237.5 466.6,237.5 467.4,237.5 468.3,237.5 469.2,237.5 470.0,237.5 470.9,237.5 471.7,237.5 472.6,237.5 473.5,237.5 474.3,237.5 475.2,237.5 476.1,237.5 476.9,237.4 477.8,237.4 478.6,237.4 479.5,237.4 480.4,237.4 481.2,237.4 482.1,237.4 483.0,237.4 483.8,237.3 484.7,237.3 485.5,237.3 486.4,237.3 487.3,237.2 488.1,237.2 489.0,237.2 489.9,237.1 490.7,237.1 491.6,237.0 492.4,237.0 493.3,236.9 494.2,236.9 495.0,236.8 495.9,236.7 496.8,236.6 497.6,236.5 498.5,236.5 499.4,236.4 500.2,236.3 501.1,236.2 501.9,236.1 502.8,236.0 503.7,235.8 504.5,235.7 505.4,235.6 506.3,235.5 507.1,235.3 508.0,235.2 508.8,235.0 509.7,234.9 510.6,234.7 511.4,234.5 512.3,234.4 513.2,234.2 514.0,234.0 514.9,233.9 515.7,233.7 516.6,233.5 517.5,233.3 518.3,233.2 519.2,233.0 520.1,232.8 520.9,232.6 521.8,232.5 522.6,232.3 523.5,232.1 524.4,231.9 525.2,231.8 526.1,231.6 527.0,231.4 527.8,231.2 528.7,231.0 529.6,230.8 530.4,230.7 531.3,230.5 532.1,230.3 533.0,230.1 533.9,229.9 534.7,229.7 535.6,229.5 536.5,229.4 537.3,229.2 538.2,229.0 539.0,228.8 539.9,228.6 540.8,228.4 541.6,228.2 542.5,228.0 543.4,227.8 544.2,227.6 545.1,227.4 545.9,227.2 546.8,227.0 547.7,226.8 548.5,226.6 549.4,226.4 550.3,226.2 551.1,226.0 552.0,225.8 552.8,225.6 553.7,225.4 554.6,225.2 555.4,225.0 556.3,224.8 557.2,224.6 558.0,224.4 558.9,224.3 559.8,224.1 560.6,223.9 561.5,223.7 562.3,223.5 563.2,223.3 564.1,223.1 564.9,222.9 565.8,222.7 566.7,222.5 567.5,222.3 568.4,222.1 569.2,221.9 570.1,221.7 571.0,221.5 571.8,221.3 572.7,221.0 573.6,220.8 574.4,220.6 575.3,220.4 576.1,220.2 577.0,220.0 577.9,219.8 578.7,219.6 579.6,219.4 580.5,219.2 581.3,218.9 582.2,218.7 583.1,218.5 583.9,218.3 584.8,218.1 585.6,217.8 586.5,217.6 587.4,217.4 588.2,217.2 589.1,217.0 590.0,216.7 590.8,216.5 591.7,216.3 592.5,216.1 593.4,215.8 594.3,215.6 595.1,215.4 596.0,215.1 596.9,214.9 597.7,214.6 598.6,214.4 599.4,214.1 600.3,213.9 601.2,213.6 602.0,213.4 602.9,213.1 603.8,212.8 604.6,212.6 605.5,212.3 606.3,212.0 607.2,211.7 608.1,211.4 608.9,211.1 609.8,210.8 610.7,210.5 611.5,210.2 612.4,209.8 613.3,209.5 614.1,209.2 615.0,208.8 615.8,208.5 616.7,208.1 617.6,207.7 618.4,207.4 619.3,207.0 620.2,206.7 621.0,206.3 621.9,205.9 622.7,205.6 623.6,205.2 624.5,204.8 625.3,204.4 626.2,204.1 627.1,203.7 627.9,203.3 628.8,202.9 629.6,202.6 630.5,202.2 631.4,201.8 632.2,201.4 633.1,201.0 634.0,200.6 634.8,200.2 635.7,199.8 636.5,199.4 637.4,199.0 638.3,198.6 639.1,198.2 640.0,197.7" fill="none" stroke="#98c4e4" stroke-width="1.5" stroke-linejoin="round" stroke-linecap="round" />
<path d="M382.0,237.5 382.9,237.5 383.7,237.5 384.6,237.5 385.5,237.5 386.3,237.5 387.2,237.5 388.0,237.5 388.9,237.5 389.8,237.5 390.6,237.5 391.5,237.5 392.4,237.5 393.2,237.5 394.1,237.5 394.9,237.5 395.8,237.5 396.7,237.5 397.5,237.5 398.4,237.5 399.3,237.5 400.1,237.5 401.0,237.5 401.8,237.5 402.7,237.5 403.6,237.5 404.4,237.5 405.3,237.5 406.2,237.5 407.0,237.5 407.9,237.5 408.7,237.5 409.6,237.5 410.5,237.5 411.3,237.5 412.2,237.5 413.1,237.5 413.9,237.5 414.8,237.5 415.7,237.5 416.5,237.5 417.4,237.5 418.2,237.5 419.1,237.5 420.0,237.5 420.8,237.5 421.7,237.5 422.6,237.5 423.4,237.5 424.3,237.5 425.1,237.5 426.0,237.5 426.9,237.5 427.7,237.5 428.6,237.5 429.5,237.5 430.3,237.5 431.2,237.5 432.0,237.5 432.9,237.5 433.8,237.5 434.6,237.5 435.5,237.5 436.4,237.5 437.2,237.5 438.1,237.5 438.9,237.5 439.8,237.5 440.7,237.5 441.5,237.5 442.4,237.5 443.3,237.5 444.1,237.5 445.0,237.5 445.9,237.5 446.7,237.5 447.6,237.5 448.4,237.5 449.3,237.5 450.2,237.5 451.0,237.5 451.9,237.5 452.8,237.5 453.6,237.5 454.5,237.5 455.3,237.5 456.2,237.5 457.1,237.5 457.9,237.4 458.8,237.4 459.7,237.4 460.5,237.4 461.4,237.4 462.2,237.4 463.1,237.4 464.0,237.3 464.8,237.3 465.7,237.3 466.6,237.2 467.4,237.2 468.3,237.2 469.2,237.1 470.0,237.0 470.9,237.0 471.7,236.9 472.6,236.8 473.5,236.7 474.3,236.6 475.2,236.5 476.1,236.4 476.9,236.3 477.8,236.1 478.6,236.0 479.5,235.8 480.4,235.6 481.2,235.4 482.1,235.2 483.0,235.0 483.8,234.8 484.7,234.6 485.5,234.4 486.4,234.1 487.3,233.9 488.1,233.6 489.0,233.4 489.9,233.2 490.7,232.9 491.6,232.7 492.4,232.5 493.3,232.3 494.2,232.1 495.0,231.8 495.9,231.6 496.8,231.4 497.6,231.2 498.5,231.1 499.4,230.9 500.2,230.7 501.1,230.6 501.9,230.4 502.8,230.3 503.7,230.1 504.5,229.9 505.4,229.8 506.3,229.6 507.1,229.4 508.0,229.2 508.8,229.0 509.7,228.8 510.6,228.6 511.4,228.4 512.3,228.2 513.2,227.9 514.0,227.7 514.9,227.5 515.7,227.3 516.6,227.1 517.5,226.9 518.3,226.7 519.2,226.5 520.1,226.3 520.9,226.1 521.8,225.9 522.6,225.7 523.5,225.5 524.4,225.3 525.2,225.1 526.1,224.9 527.0,224.7 527.8,224.5 528.7,224.3 529.6,224.1 530.4,223.9 531.3,223.7 532.1,223.5 533.0,223.3 533.9,223.1 534.7,222.8 535.6,222.6 536.5,222.4 537.3,222.2 538.2,222.0 539.0,221.7 539.9,221.5 540.8,221.3 541.6,221.1 542.5,220.9 543.4,220.6 544.2,220.4 545.1,220.2 545.9,219.9 546.8,219.7 547.7,219.5 548.5,219.3 549.4,219.0 550.3,218.8 551.1,218.6 552.0,218.3 552.8,218.1 553.7,217.9 554.6,217.7 555.4,217.4 556.3,217.2 557.2,217.0 558.0,216.7 558.9,216.5 559.8,216.3 560.6,216.1 561.5,215.8 562.3,215.6 563.2,215.4 564.1,215.1 564.9,214.9 565.8,214.7 566.7,214.4 567.5,214.2 568.4,214.0 569.2,213.7 570.1,213.5 571.0,213.3 571.8,213.0 572.7,212.8 573.6,212.5 574.4,212.3 575.3,212.1 576.1,211.8 577.0,211.6 577.9,211.3 578.7,211.1 579.6,210.8 580.5,210.6 581.3,210.3 582.2,210.1 583.1,209.8 583.9,209.5 584.8,209.3 585.6,209.0 586.5,208.8 587.4,208.5 588.2,208.2 589.1,208.0 590.0,207.7 590.8,207.4 591.7,207.2 592.5,206.9 593.4,206.6 594.3,206.4 595.1,206.1 596.0,205.8 596.9,205.5 597.7,205.2 598.6,204.9 599.4,204.6 600.3,204.3 601.2,204.0 602.0,203.7 602.9,203.4 603.8,203.1 604.6,202.7 605.5,202.4 606.3,202.1 607.2,201.7 608.1,201.3 608.9,201.0 609.8,200.6 610.7,200.2 611.5,199.8 612.4,199.4 613.3,199.0 614.1,198.6 615.0,198.1 615.8,197.7 616.7,197.2 617.6,196.8 618.4,196.4 619.3,195.9 620.2,195.5 621.0,195.0 621.9,194.5 622.7,194.1 623.6,193.6 624.5,193.2 625.3,192.7 626.2,192.3 627.1,191.8 627.9,191.3 628.8,190.9 629.6,190.4 630.5,189.9 631.4,189.4 632.2,189.0 633.1,188.5 634.0,188.0 634.8,187.5 635.7,187.0 636.5,186.5 637.4,186.0 638.3,185.5 639.1,185.0 640.0,184.5" fill="none" stroke="#8bb6dc" stroke-width="1.5" stroke-linejoin="round" stroke-linecap="round" />
<path d="M382.0,237.5 382.9,237.5 383.7,237.5 384.6,237.5 385.5,237.5 386.3,237.5 387.2,237.5 388.0,237.5 388.9,237.5 389.8,237.5 390.6,237.5 391.5,237.5 392.4,237.5 393.2,237.5 394.1,237.5 394.9,237.5 395.8,237.5 396.7,237.5 397.5,237.5 398.4,237.5 399.3,237.5 400.1,237.5 401.0,237.5 401.8,237.5 402.7,237.5 403.6,237.5 404.4,237.5 405.3,237.5 406.2,237.5 407.0,237.5 407.9,237.5 408.7,237.5 409.6,237.5 410.5,237.5 411.3,237.5 412.2,237.5 413.1,237.5 413.9,237.5 414.8,237.5 415.7,237.5 416.5,237.5 417.4,237.5 418.2,237.5 419.1,237.5 420.0,237.5 420.8,237.5 421.7,237.5 422.6,237.5 423.4,237.5 424.3,237.5 425.1,237.5 426.0,237.5 426.9,237.5 427.7,237.5 428.6,237.5 429.5,237.5 430.3,237.5 431.2,237.5 432.0,237.5 432.9,237.5 433.8,237.5 434.6,237.5 435.5,237.5 436.4,237.5 437.2,237.5 438.1,237.5 438.9,237.5 439.8,237.5 440.7,237.4 441.5,237.4 442.4,237.4 443.3,237.4 444.1,237.4 445.0,237.4 445.9,237.3 446.7,237.3 447.6,237.3 448.4,237.2 449.3,237.2 450.2,237.1 451.0,237.1 451.9,237.0 452.8,236.9 453.6,236.8 454.5,236.7 455.3,236.6 456.2,236.5 457.1,236.3 457.9,236.1 458.8,235.9 459.7,235.7 460.5,235.5 461.4,235.3 462.2,235.0 463.1,234.8 464.0,234.5 464.8,234.2 465.7,233.8 466.6,233.5 467.4,233.2 468.3,232.8 469.2,232.5 470.0,232.1 470.9,231.8 471.7,231.4 472.6,231.1 473.5,230.7 474.3,230.3 475.2,230.0 476.1,229.6 476.9,229.3 477.8,228.9 478.6,228.6 479.5,228.2 480.4,227.8 481.2,227.5 482.1,227.2 483.0,226.8 483.8,226.5 484.7,226.2 485.5,225.9 486.4,225.6 487.3,225.3 488.1,225.0 489.0,224.7 489.9,224.5 490.7,224.2 491.6,224.0 492.4,223.8 493.3,223.6 494.2,223.4 495.0,223.3 495.9,223.1 496.8,222.9 497.6,222.8 498.5,222.7 499.4,222.6 500.2,222.5 501.1,222.4 501.9,222.3 502.8,222.3 503.7,222.2 504.5,222.0 505.4,221.9 506.3,221.7 507.1,221.5 508.0,221.3 508.8,221.1 509.7,220.9 510.6,220.7 511.4,220.5 512.3,220.3 513.2,220.1 514.0,219.8 514.9,219.6 515.7,219.4 516.6,219.2 517.5,219.0 518.3,218.8 519.2,218.6 520.1,218.4 520.9,218.1 521.8,217.9 522.6,217.7 523.5,217.5 524.4,217.3 525.2,217.1 526.1,216.9 527.0,216.7 527.8,216.4 528.7,216.2 529.6,216.0 530.4,215.8 531.3,215.5 532.1,215.3 533.0,215.1 533.9,214.9 534.7,214.6 535.6,214.4 536.5,214.1 537.3,213.9 538.2,213.6 539.0,213.4 539.9,213.1 540.8,212.9 541.6,212.6 542.5,212.4 543.4,212.1 544.2,211.9 545.1,211.6 545.9,211.4 546.8,211.1 547.7,210.8 548.5,210.6 549.4,210.3 550.3,210.1 551.1,209.8 552.0,209.6 552.8,209.3 553.7,209.0 554.6,208.8 555.4,208.5 556.3,208.3 557.2,208.0 558.0,207.7 558.9,207.5 559.8,207.2 560.6,207.0 561.5,206.7 562.3,206.4 563.2,206.2 564.1,205.9 564.9,205.6 565.8,205.4 566.7,205.1 567.5,204.8 568.4,204.6 569.2,204.3 570.1,204.0 571.0,203.8 571.8,203.5 572.7,203.2 573.6,202.9 574.4,202.6 575.3,202.4 576.1,202.1 577.0,201.8 577.9,201.5 578.7,201.2 579.6,200.9 580.5,200.6 581.3,200.3 582.2,200.0 583.1,199.7 583.9,199.4 584.8,199.1 585.6,198.8 586.5,198.5 587.4,198.2 588.2,197.9 589.1,197.6 590.0,197.3 590.8,197.0 591.7,196.7 592.5,196.4 593.4,196.0 594.3,195.7 595.1,195.4 596.0,195.1 596.9,194.7 597.7,194.4 598.6,194.0 599.4,193.7 600.3,193.3 601.2,193.0 602.0,192.6 602.9,192.2 603.8,191.8 604.6,191.4 605.5,191.0 606.3,190.6 607.2,190.2 608.1,189.8 608.9,189.3 609.8,188.9 610.7,188.4 611.5,187.9 612.4,187.4 613.3,186.9 614.1,186.4 615.0,185.9 615.8,185.4 616.7,184.8 617.6,184.3 618.4,183.7 619.3,183.2 620.2,182.6 621.0,182.1 621.9,181.5 622.7,181.0 623.6,180.4 624.5,179.9 625.3,179.3 626.2,178.8 627.1,178.2 627.9,177.7 628.8,177.1 629.6,176.5 630.5,176.0 631.4,175.4 632.2,174.8 633.1,174.2 634.0,173.6 634.8,173.0 635.7,172.4 636.5,171.8 637.4,171.2 638.3,170.6 639.1,170.0 640.0,169.4" fill="none" stroke="#7fa9d5" stroke-width="1.5" stroke-linejoin="round" stroke-linecap="round" />
<path d="M382.0,237.5 382.9,237.5 383.7,237.5 384.6,237.5 385.5,237.5 386.3,237.5 387.2,237.5 388.0,237.5 388.9,237.5 389.8,237.5 390.6,237.5 391.5,237.5 392.4,237.5 393.2,237.5 394.1,237.5 394.9,237.5 395.8,237.5 396.7,237.5 397.5,237.5 398.4,237.5 399.3,237.5 400.1,237.5 401.0,237.5 401.8,237.5 402.7,237.5 403.6,237.5 404.4,237.5 405.3,237.5 406.2,237.5 407.0,237.5 407.9,237.5 408.7,237.5 409.6,237.5 410.5,237.5 411.3,237.5 412.2,237.5 413.1,237.5 413.9,237.5 414.8,237.5 415.7,237.5 416.5,237.5 417.4,237.5 418.2,237.5 419.1,237.5 420.0,237.5 420.8,237.5 421.7,237.5 422.6,237.5 423.4,237.5 424.3,237.5 425.1,237.4 426.0,237.4 426.9,237.4 427.7,237.4 428.6,237.4 429.5,237.4 430.3,237.3 431.2,237.3 432.0,237.3 432.9,237.2 433.8,237.1 434.6,237.1 435.5,237.0 436.4,236.9 437.2,236.8 438.1,236.7 438.9,236.5 439.8,236.3 440.7,236.2 441.5,235.9 442.4,235.7 443.3,235.4 444.1,235.1 445.0,234.8 445.9,234.5 446.7,234.1 447.6,233.8 448.4,233.4 449.3,232.9 450.2,232.5 451.0,232.1 451.9,231.6 452.8,231.1 453.6,230.6 454.5,230.1 455.3,229.6 456.2,229.1 457.1,228.6 457.9,228.1 458.8,227.6 459.7,227.1 460.5,226.6 461.4,226.1 462.2,225.6 463.1,225.1 464.0,224.6 464.8,224.1 465.7,223.6 466.6,223.1 467.4,222.7 468.3,222.2 469.2,221.8 470.0,221.3 470.9,220.9 471.7,220.5 472.6,220.1 473.5,219.6 474.3,219.3 475.2,218.9 476.1,218.5 476.9,218.1 477.8,217.7 478.6,217.3 479.5,217.0 480.4,216.6 481.2,216.3 482.1,215.9 483.0,215.6 483.8,215.3 484.7,214.9 485.5,214.7 486.4,214.4 487.3,214.1 488.1,213.8 489.0,213.6 489.9,213.4 490.7,213.2 491.6,213.1 492.4,213.0 493.3,212.8 494.2,212.7 495.0,212.6 495.9,212.5 496.8,212.5 497.6,212.4 498.5,212.4 499.4,212.5 500.2,212.5 501.1,212.5 501.9,212.5 502.8,212.6 503.7,212.5 504.5,212.5 505.4,212.4 506.3,212.2 507.1,212.1 508.0,211.9 508.8,211.7 509.7,211.5 510.6,211.3 511.4,211.1 512.3,210.9 513.2,210.6 514.0,210.4 514.9,210.2 515.7,210.0 516.6,209.8 517.5,209.5 518.3,209.3 519.2,209.1 520.1,208.9 520.9,208.7 521.8,208.5 522.6,208.3 523.5,208.0 524.4,207.8 525.2,207.6 526.1,207.4 527.0,207.2 527.8,206.9 528.7,206.7 529.6,206.5 530.4,206.2 531.3,206.0 532.1,205.7 533.0,205.5 533.9,205.2 534.7,205.0 535.6,204.7 536.5,204.5 537.3,204.2 538.2,203.9 539.0,203.7 539.9,203.4 540.8,203.1 541.6,202.8 542.5,202.6 543.4,202.3 544.2,202.0 545.1,201.7 545.9,201.4 546.8,201.1 547.7,200.8 548.5,200.6 549.4,200.3 550.3,200.0 551.1,199.7 552.0,199.4 552.8,199.1 553.7,198.8 554.6,198.5 555.4,198.3 556.3,198.0 557.2,197.7 558.0,197.4 558.9,197.1 559.8,196.8 560.6,196.5 561.5,196.2 562.3,195.9 563.2,195.6 564.1,195.3 564.9,195.0 565.8,194.7 566.7,194.4 567.5,194.1 568.4,193.8 569.2,193.5 570.1,193.2 571.0,192.9 571.8,192.6 572.7,192.2 573.6,191.9 574.4,191.6 575.3,191.3 576.1,190.9 577.0,190.6 577.9,190.3 578.7,190.0 579.6,189.6 580.5,189.3 581.3,189.0 582.2,188.6 583.1,188.3 583.9,187.9 584.8,187.6 585.6,187.2 586.5,186.9 587.4,186.5 588.2,186.2 589.1,185.8 590.0,185.5 590.8,185.1 591.7,184.8 592.5,184.4 593.4,184.0 594.3,183.6 595.1,183.3 596.0,182.9 596.9,182.5 597.7,182.1 598.6,181.7 599.4,181.3 600.3,180.8 601.2,180.4 602.0,180.0 602.9,179.5 603.8,179.1 604.6,178.6 605.5,178.2 606.3,177.7 607.2,177.2 608.1,176.7 608.9,176.2 609.8,175.6 610.7,175.0 611.5,174.5 612.4,173.9 613.3,173.3 614.1,172.7 615.0,172.0 615.8,171.4 616.7,170.8 617.6,170.1 618.4,169.5 619.3,168.8 620.2,168.2 621.0,167.5 621.9,166.9 622.7,166.2 623.6,165.5 624.5,164.9 625.3,164.2 626.2,163.6 627.1,162.9 627.9,162.2 628.8,161.6 629.6,160.9 630.5,160.2 631.4,159.5 632.2,158.8 633.1,158.1 634.0,157.4 634.8,156.7 635.7,156.0 636.5,155.3 637.4,154.5 638.3,153.8 639.1,153.1 640.0,152.3" fill="none" stroke="#739cce" stroke-width="1.5" stroke-linejoin="round" stroke-linecap="round" />
<path d="M382.0,237.5 382.9,237.5 383.7,237.5 384.6,237.5 385.5,237.5 386.3,237.5 387.2,237.5 388.0,237.5 388.9,237.5 389.8,237.5 390.6,237.5 391.5,237.5 392.4,237.5 393.2,237.5 394.1,237.5 394.9,237.5 395.8,237.5 396.7,237.5 397.5,237.5 398.4,237.5 399.3,237.5 400.1,237.5 401.0,237.5 401.8,237.5 402.7,237.5 403.6,237.5 404.4,237.5 405.3,237.5 406.2,237.5 407.0,237.5 407.9,237.5 408.7,237.5 409.6,237.5 410.5,237.4 411.3,237.4 412.2,237.4 413.1,237.4 413.9,237.4 414.8,237.4 415.7,237.3 416.5,237.3 417.4,237.2 418.2,237.2 419.1,237.1 420.0,237.0 420.8,236.9 421.7,236.8 422.6,236.7 423.4,236.5 424.3,236.4 425.1,236.1 426.0,235.9 426.9,235.6 427.7,235.3 428.6,235.0 429.5,234.6 430.3,234.2 431.2,233.8 432.0,233.3 432.9,232.8 433.8,232.3 434.6,231.8 435.5,231.2 436.4,230.6 437.2,230.0 438.1,229.4 438.9,228.8 439.8,228.2 440.7,227.6 441.5,226.9 442.4,226.3 443.3,225.7 444.1,225.0 445.0,224.4 445.9,223.8 446.7,223.2 447.6,222.5 448.4,221.9 449.3,221.3 450.2,220.7 451.0,220.0 451.9,219.4 452.8,218.8 453.6,218.1 454.5,217.5 455.3,216.8 456.2,216.2 457.1,215.6 457.9,215.0 458.8,214.4 459.7,213.8 460.5,213.3 461.4,212.7 462.2,212.2 463.1,211.6 464.0,211.1 464.8,210.6 465.7,210.0 466.6,209.5 467.4,209.0 468.3,208.6 469.2,208.1 470.0,207.6 470.9,207.2 471.7,206.8 472.6,206.3 473.5,205.9 474.3,205.6 475.2,205.2 476.1,204.8 476.9,204.4 477.8,204.1 478.6,203.7 479.5,203.3 480.4,203.0 481.2,202.6 482.1,202.3 483.0,202.0 483.8,201.7 484.7,201.4 485.5,201.2 486.4,200.9 487.3,200.7 488.1,200.5 489.0,200.3 489.9,200.2 490.7,200.1 491.6,200.1 492.4,200.0 493.3,200.0 494.2,200.0 495.0,200.0 495.9,200.0 496.8,200.1 497.6,200.1 498.5,200.3 499.4,200.4 500.2,200.6 501.1,200.8 501.9,200.9 502.8,201.1 503.7,201.2 504.5,201.2 505.4,201.2 506.3,201.1 507.1,200.9 508.0,200.8 508.8,200.6 509.7,200.4 510.6,200.2 511.4,200.0 512.3,199.8 513.2,199.6 514.0,199.4 514.9,199.1 515.7,198.9 516.6,198.7 517.5,198.5 518.3,198.3 519.2,198.1 520.1,197.9 520.9,197.7 521.8,197.5 522.6,197.2 523.5,197.0 524.4,196.8 525.2,196.6 526.1,196.4 527.0,196.1 527.8,195.9 528.7,195.7 529.6,195.4 530.4,195.2 531.3,194.9 532.1,194.7 533.0,194.4 533.9,194.1 534.7,193.9 535.6,193.6 536.5,193.3 537.3,193.0 538.2,192.7 539.0,192.5 539.9,192.2 540.8,191.9 541.6,191.6 542.5,191.3 543.4,191.0 544.2,190.6 545.1,190.3 545.9,190.0 546.8,189.7 547.7,189.4 548.5,189.1 549.4,188.8 550.3,188.5 551.1,188.1 552.0,187.8 552.8,187.5 553.7,187.2 554.6,186.9 555.4,186.6 556.3,186.2 557.2,185.9 558.0,185.6 558.9,185.3 559.8,184.9 560.6,184.6 561.5,184.3 562.3,183.9 563.2,183.6 564.1,183.3 564.9,182.9 565.8,182.6 566.7,182.3 567.5,181.9 568.4,181.6 569.2,181.2 570.1,180.9 571.0,180.5 571.8,180.2 572.7,179.8 573.6,179.5 574.4,179.1 575.3,178.7 576.1,178.4 577.0,178.0 577.9,177.6 578.7,177.2 579.6,176.9 580.5,176.5 581.3,176.1 582.2,175.7 583.1,175.3 583.9,174.9 584.8,174.5 585.6,174.1 586.5,173.7 587.4,173.4 588.2,172.9 589.1,172.5 590.0,172.1 590.8,171.7 591.7,171.3 592.5,170.9 593.4,170.5 594.3,170.0 595.1,169.6 596.0,169.1 596.9,168.7 597.7,168.2 598.6,167.8 599.4,167.3 600.3,166.8 601.2,166.3 602.0,165.8 602.9,165.3 603.8,164.8 604.6,164.3 605.5,163.7 606.3,163.2 607.2,162.6 608.1,162.0 608.9,161.4 609.8,160.7 610.7,160.1 611.5,159.4 612.4,158.7 613.3,158.0 614.1,157.3 615.0,156.5 615.8,155.8 616.7,155.0 617.6,154.3 618.4,153.5 619.3,152.7 620.2,152.0 621.0,151.2 621.9,150.4 622.7,149.6 623.6,148.9 624.5,148.1 625.3,147.3 626.2,146.5 627.1,145.8 627.9,145.0 628.8,144.2 629.6,143.4 630.5,142.6 631.4,141.8 632.2,140.9 633.1,140.1 634.0,139.3 634.8,138.4 635.7,137.6 636.5,136.7 637.4,135.9 638.3,135.0 639.1,134.2 640.0,133.3" fill="none" stroke="#668ec6" stroke-width="1.5" stroke-linejoin="round" stroke-linecap="round" />
<path d="M382.0,237.5 382.9,237.5 383.7,237.5 384.6,237.5 385.5,237.5 386.3,237.5 387.2,237.5 388.0,237.5 388.9,237.5 389.8,237.5 390.6,237.5 391.5,237.5 392.4,237.5 393.2,237.5 394.1,237.5 394.9,237.5 395.8,237.5 396.7,237.5 397.5,237.5 398.4,237.4 399.3,237.4 400.1,237.4 401.0,237.4 401.8,237.3 402.7,237.3 403.6,237.2 404.4,237.2 405.3,237.1 406.2,237.0 407.0,236.9 407.9,236.7 408.7,236.6 409.6,236.4 410.5,236.1 411.3,235.9 412.2,235.6 413.1,235.2 413.9,234.8 414.8,234.4 415.7,233.9 416.5,233.4 417.4,232.9 418.2,232.3 419.1,231.6 420.0,231.0 420.8,230.3 421.7,229.7 422.6,229.0 423.4,228.3 424.3,227.6 425.1,226.9 426.0,226.2 426.9,225.4 427.7,224.7 428.6,224.0 429.5,223.3 430.3,222.5 431.2,221.8 432.0,221.0 432.9,220.2 433.8,219.4 434.6,218.7 435.5,217.9 436.4,217.1 437.2,216.4 438.1,215.6 438.9,214.8 439.8,214.1 440.7,213.3 441.5,212.6 442.4,211.8 443.3,211.1 444.1,210.4 445.0,209.6 445.9,208.9 446.7,208.2 447.6,207.6 448.4,206.9 449.3,206.2 450.2,205.5 451.0,204.8 451.9,204.0 452.8,203.3 453.6,202.6 454.5,201.8 455.3,201.1 456.2,200.4 457.1,199.7 457.9,199.0 458.8,198.3 459.7,197.7 460.5,197.2 461.4,196.6 462.2,196.0 463.1,195.4 464.0,194.8 464.8,194.3 465.7,193.7 466.6,193.2 467.4,192.7 468.3,192.2 469.2,191.7 470.0,191.3 470.9,190.8 471.7,190.4 472.6,190.0 473.5,189.6 474.3,189.3 475.2,188.9 476.1,188.5 476.9,188.2 477.8,187.8 478.6,187.5 479.5,187.2 480.4,186.8 481.2,186.5 482.1,186.2 483.0,185.9 483.8,185.7 484.7,185.4 485.5,185.2 486.4,185.0 487.3,184.9 488.1,184.8 489.0,184.7 489.9,184.6 490.7,184.7 491.6,184.7 492.4,184.8 493.3,184.9 494.2,185.1 495.0,185.2 495.9,185.3 496.8,185.5 497.6,185.8 498.5,186.1 499.4,186.4 500.2,186.8 501.1,187.1 501.9,187.4 502.8,187.7 503.7,187.9 504.5,188.1 505.4,188.2 506.3,188.1 507.1,188.0 508.0,187.9 508.8,187.8 509.7,187.6 510.6,187.4 511.4,187.2 512.3,187.0 513.2,186.8 514.0,186.6 514.9,186.4 515.7,186.2 516.6,185.9 517.5,185.7 518.3,185.6 519.2,185.4 520.1,185.2 520.9,185.0 521.8,184.8 522.6,184.6 523.5,184.4 524.4,184.1 525.2,183.9 526.1,183.7 527.0,183.5 527.8,183.3 528.7,183.0 529.6,182.8 530.4,182.5 531.3,182.3 532.1,182.0 533.0,181.7 533.9,181.5 534.7,181.2 535.6,180.9 536.5,180.6 537.3,180.3 538.2,180.0 539.0,179.7 539.9,179.4 540.8,179.1 541.6,178.8 542.5,178.4 543.4,178.1 544.2,177.8 545.1,177.4 545.9,177.1 546.8,176.8 547.7,176.4 548.5,176.1 549.4,175.8 550.3,175.4 551.1,175.1 552.0,174.7 552.8,174.4 553.7,174.1 554.6,173.7 555.4,173.4 556.3,173.0 557.2,172.7 558.0,172.3 558.9,171.9 559.8,171.6 560.6,171.2 561.5,170.9 562.3,170.5 563.2,170.1 564.1,169.7 564.9,169.4 565.8,169.0 566.7,168.6 567.5,168.2 568.4,167.9 569.2,167.5 570.1,167.1 571.0,166.7 571.8,166.3 572.7,165.9 573.6,165.5 574.4,165.1 575.3,164.7 576.1,164.2 577.0,163.8 577.9,163.4 578.7,163.0 579.6,162.6 580.5,162.1 581.3,161.7 582.2,161.3 583.1,160.8 583.9,160.4 584.8,159.9 585.6,159.5 586.5,159.1 587.4,158.6 588.2,158.1 589.1,157.7 590.0,157.2 590.8,156.8 591.7,156.3 592.5,155.8 593.4,155.3 594.3,154.8 595.1,154.3 596.0,153.8 596.9,153.3 597.7,152.8 598.6,152.3 599.4,151.7 600.3,151.2 601.2,150.6 602.0,150.0 602.9,149.5 603.8,148.9 604.6,148.2 605.5,147.6 606.3,147.0 607.2,146.3 608.1,145.6 608.9,144.9 609.8,144.2 610.7,143.4 611.5,142.6 612.4,141.8 613.3,141.0 614.1,140.1 615.0,139.3 615.8,138.4 616.7,137.5 617.6,136.6 618.4,135.7 619.3,134.9 620.2,133.9 621.0,133.0 621.9,132.1 622.7,131.2 623.6,130.3 624.5,129.4 625.3,128.5 626.2,127.6 627.1,126.7 627.9,125.8 628.8,124.9 629.6,123.9 630.5,123.0 631.4,122.1 632.2,121.1 633.1,120.1 634.0,119.2 634.8,118.2 635.7,117.2 636.5,116.2 637.4,115.2 638.3,114.2 639.1,113.2 640.0,112.2" fill="none" stroke="#5a81bf" stroke-width="1.5" stroke-linejoin="round" stroke-linecap="round" />
<path d="M382.0,237.5 382.9,237.5 383.7,237.5 384.6,237.5 385.5,237.5 386.3,237.5 387.2,237.5 388.0,237.5 388.9,237.5 389.8,237.5 390.6,237.5 391.5,237.4 392.4,237.3 393.2,237.2 394.1,237.1 394.9,237.0 395.8,236.8 396.7,236.6 397.5,236.2 398.4,235.8 399.3,235.3 400.1,234.7 401.0,234.2 401.8,233.5 402.7,232.9 403.6,232.3 404.4,231.6 405.3,230.8 406.2,230.0 407.0,229.1 407.9,228.2 408.7,227.3 409.6,226.3 410.5,225.4 411.3,224.5 412.2,223.6 413.1,222.7 413.9,221.9 414.8,221.0 415.7,220.1 416.5,219.2 417.4,218.4 418.2,217.5 419.1,216.7 420.0,215.8 420.8,215.0 421.7,214.2 422.6,213.4 423.4,212.6 424.3,211.9 425.1,211.1 426.0,210.3 426.9,209.6 427.7,208.8 428.6,208.0 429.5,207.2 430.3,206.4 431.2,205.5 432.0,204.7 432.9,203.8 433.8,202.9 434.6,202.0 435.5,201.2 436.4,200.3 437.2,199.4 438.1,198.6 438.9,197.7 439.8,196.9 440.7,196.1 441.5,195.2 442.4,194.4 443.3,193.6 444.1,192.8 445.0,192.0 445.9,191.2 446.7,190.4 447.6,189.7 448.4,188.9 449.3,188.2 450.2,187.4 451.0,186.6 451.9,185.8 452.8,184.9 453.6,184.1 454.5,183.2 455.3,182.4 456.2,181.6 457.1,180.8 457.9,180.1 458.8,179.4 459.7,178.8 460.5,178.1 461.4,177.5 462.2,176.9 463.1,176.3 464.0,175.7 464.8,175.1 465.7,174.5 466.6,174.0 467.4,173.5 468.3,173.0 469.2,172.5 470.0,172.0 470.9,171.6 471.7,171.2 472.6,170.8 473.5,170.5 474.3,170.1 475.2,169.8 476.1,169.5 476.9,169.2 477.8,168.9 478.6,168.6 479.5,168.3 480.4,168.0 481.2,167.7 482.1,167.5 483.0,167.2 483.8,167.0 484.7,166.8 485.5,166.7 486.4,166.6 487.3,166.5 488.1,166.5 489.0,166.5 489.9,166.6 490.7,166.8 491.6,167.0 492.4,167.2 493.3,167.5 494.2,167.8 495.0,168.1 495.9,168.4 496.8,168.7 497.6,169.2 498.5,169.7 499.4,170.2 500.2,170.8 501.1,171.3 501.9,171.9 502.8,172.3 503.7,172.7 504.5,173.0 505.4,173.2 506.3,173.2 507.1,173.2 508.0,173.1 508.8,173.0 509.7,172.9 510.6,172.7 511.4,172.5 512.3,172.3 513.2,172.2 514.0,172.0 514.9,171.8 515.7,171.6 516.6,171.4 517.5,171.2 518.3,171.0 519.2,170.8 520.1,170.7 520.9,170.5 521.8,170.3 522.6,170.1 523.5,169.9 524.4,169.7 525.2,169.5 526.1,169.3 527.0,169.1 527.8,168.9 528.7,168.7 529.6,168.4 530.4,168.2 531.3,167.9 532.1,167.7 533.0,167.4 533.9,167.1 534.7,166.9 535.6,166.6 536.5,166.3 537.3,166.0 538.2,165.6 539.0,165.3 539.9,165.0 540.8,164.7 541.6,164.3 542.5,164.0 543.4,163.7 544.2,163.3 545.1,163.0 545.9,162.6 546.8,162.2 547.7,161.9 548.5,161.5 549.4,161.2 550.3,160.8 551.1,160.4 552.0,160.1 552.8,159.7 553.7,159.3 554.6,159.0 555.4,158.6 556.3,158.2 557.2,157.8 558.0,157.4 558.9,157.1 559.8,156.7 560.6,156.3 561.5,155.9 562.3,155.5 563.2,155.1 564.1,154.7 564.9,154.2 565.8,153.8 566.7,153.4 567.5,153.0 568.4,152.6 569.2,152.1 570.1,151.7 571.0,151.2 571.8,150.8 572.7,150.4 573.6,149.9 574.4,149.5 575.3,149.0 576.1,148.5 577.0,148.1 577.9,147.6 578.7,147.1 579.6,146.7 580.5,146.2 581.3,145.7 582.2,145.2 583.1,144.7 583.9,144.2 584.8,143.7 585.6,143.2 586.5,142.7 587.4,142.2 588.2,141.7 589.1,141.2 590.0,140.7 590.8,140.2 591.7,139.6 592.5,139.1 593.4,138.6 594.3,138.0 595.1,137.4 596.0,136.9 596.9,136.3 597.7,135.7 598.6,135.1 599.4,134.5 600.3,133.9 601.2,133.2 602.0,132.6 602.9,131.9 603.8,131.2 604.6,130.5 605.5,129.8 606.3,129.1 607.2,128.3 608.1,127.5 608.9,126.7 609.8,125.8 610.7,124.9 611.5,124.0 612.4,123.1 613.3,122.2 614.1,121.2 615.0,120.2 615.8,119.2 616.7,118.2 617.6,117.2 618.4,116.1 619.3,115.1 620.2,114.1 621.0,113.0 621.9,112.0 622.7,110.9 623.6,109.9 624.5,108.9 625.3,107.8 626.2,106.8 627.1,105.7 627.9,104.7 628.8,103.6 629.6,102.5 630.5,101.4 631.4,100.3 632.2,99.2 633.1,98.1 634.0,97.0 634.8,95.9 635.7,94.7 636.5,93.6 637.4,92.4 638.3,91.3 639.1,90.1 640.0,88.9" fill="none" stroke="#4e74b8" stroke-width="1.5" stroke-linejoin="round" stroke-linecap="round" />
<line x1="392.40" y1="54.00" x2="402.70" y2="54.00" stroke="#4e74b8" stroke-width="1.8" />
<text x="407.40" y="57.74" font-size="10.4" text-anchor="start" fill="#4a4a4a" font-weight="normal" >2.3 V</text>
<line x1="392.40" y1="68.45" x2="402.70" y2="68.45" stroke="#5a81bf" stroke-width="1.8" />
<text x="407.40" y="72.19" font-size="10.4" text-anchor="start" fill="#4a4a4a" font-weight="normal" >2.2 V</text>
<line x1="392.40" y1="82.90" x2="402.70" y2="82.90" stroke="#668ec6" stroke-width="1.8" />
<text x="407.40" y="86.64" font-size="10.4" text-anchor="start" fill="#4a4a4a" font-weight="normal" >2.1 V</text>
<line x1="392.40" y1="97.35" x2="402.70" y2="97.35" stroke="#739cce" stroke-width="1.8" />
<text x="407.40" y="101.09" font-size="10.4" text-anchor="start" fill="#4a4a4a" font-weight="normal" >2.0 V</text>
<line x1="392.40" y1="111.80" x2="402.70" y2="111.80" stroke="#7fa9d5" stroke-width="1.8" />
<text x="407.40" y="115.54" font-size="10.4" text-anchor="start" fill="#4a4a4a" font-weight="normal" >1.9 V</text>
<line x1="392.40" y1="126.25" x2="402.70" y2="126.25" stroke="#8bb6dc" stroke-width="1.8" />
<text x="407.40" y="129.99" font-size="10.4" text-anchor="start" fill="#4a4a4a" font-weight="normal" >1.8 V</text>
<line x1="392.40" y1="140.70" x2="402.70" y2="140.70" stroke="#98c4e4" stroke-width="1.8" />
<text x="407.40" y="144.44" font-size="10.4" text-anchor="start" fill="#4a4a4a" font-weight="normal" >1.7 V</text>
<line x1="392.40" y1="155.15" x2="402.70" y2="155.15" stroke="#a4d1eb" stroke-width="1.8" />
<text x="407.40" y="158.89" font-size="10.4" text-anchor="start" fill="#4a4a4a" font-weight="normal" >1.6 V</text>
<line x1="392.40" y1="169.60" x2="402.70" y2="169.60" stroke="#b0def2" stroke-width="1.8" />
<text x="407.40" y="173.34" font-size="10.4" text-anchor="start" fill="#4a4a4a" font-weight="normal" >1.5 V</text>
<rect x="34.5" y="625.5" width="129.05" height="92.80" fill="#f8d0c6"/>
<rect x="215.17" y="625.5" width="77.43" height="92.80" fill="#fcebd1"/>
<line x1="34.50" y1="625.50" x2="292.60" y2="625.50" stroke="#6a6a6a" stroke-width="1" />
<line x1="34.50" y1="718.30" x2="292.60" y2="718.30" stroke="#6a6a6a" stroke-width="1" />
<line x1="34.50" y1="625.50" x2="34.50" y2="718.30" stroke="#6a6a6a" stroke-width="1" />
<line x1="292.60" y1="625.50" x2="292.60" y2="718.30" stroke="#6a6a6a" stroke-width="1" />
<line x1="86.12" y1="718.30" x2="86.12" y2="715.80" stroke="#999" stroke-width="0.8" />
<line x1="137.74" y1="718.30" x2="137.74" y2="715.80" stroke="#999" stroke-width="0.8" />
<line x1="189.36" y1="718.30" x2="189.36" y2="715.80" stroke="#999" stroke-width="0.8" />
<line x1="240.98" y1="718.30" x2="240.98" y2="715.80" stroke="#999" stroke-width="0.8" />
<text x="34.50" y="730.79" font-size="9.7" text-anchor="middle" fill="#4a4a4a" font-weight="normal" transform="translate(0 -72.73) scale(1 1.1)" >500</text>
<text x="86.12" y="730.79" font-size="9.7" text-anchor="middle" fill="#4a4a4a" font-weight="normal" transform="translate(0 -72.73) scale(1 1.1)" >600</text>
<text x="137.74" y="730.79" font-size="9.7" text-anchor="middle" fill="#4a4a4a" font-weight="normal" transform="translate(0 -72.73) scale(1 1.1)" >700</text>
<text x="189.36" y="730.79" font-size="9.7" text-anchor="middle" fill="#4a4a4a" font-weight="normal" transform="translate(0 -72.73) scale(1 1.1)" >800</text>
<text x="240.98" y="730.79" font-size="9.7" text-anchor="middle" fill="#4a4a4a" font-weight="normal" transform="translate(0 -72.73) scale(1 1.1)" >900</text>
<text x="292.60" y="730.79" font-size="9.7" text-anchor="middle" fill="#4a4a4a" font-weight="normal" transform="translate(0 -72.73) scale(1 1.1)" >1,000</text>
<text x="163.70" y="744.33" font-size="11.2" text-anchor="middle" fill="#444444" font-weight="normal" >Wavelength, nm</text>
<text x="31.00" y="628.99" font-size="9.7" text-anchor="end" fill="#4a4a4a" font-weight="normal" transform="translate(0 -62.55) scale(1 1.1)" >1</text>
<text x="31.00" y="721.79" font-size="9.7" text-anchor="end" fill="#4a4a4a" font-weight="normal" transform="translate(0 -71.83) scale(1 1.1)" >0</text>
<text x="296.80" y="628.99" font-size="9.7" text-anchor="start" fill="#4a4a4a" font-weight="normal" transform="translate(0 -62.55) scale(1 1.1)" >1</text>
<text x="296.80" y="720.79" font-size="9.7" text-anchor="start" fill="#4a4a4a" font-weight="normal" transform="translate(0 -71.73) scale(1 1.1)" >0</text>
<text x="322.40" y="675.97" font-size="11.3" text-anchor="middle" fill="#444444" font-weight="normal" transform="rotate(90 322.40 671.90)" >Spectral photonic</text>
<text x="310.00" y="676.77" font-size="11.3" text-anchor="middle" fill="#444444" font-weight="normal" transform="rotate(90 310.00 672.70)" >contribution G</text>
<text x="0.5" y="628.6999999999999" font-size="15.5" font-weight="bold" fill="#111" stroke="#111" stroke-width="0.5">e</text>
<text x="42.30" y="681.70" font-size="11.4" text-anchor="start" fill="#3a3a3a" font-weight="normal" >Dispersive</text>
<text x="42.30" y="692.90" font-size="11.4" text-anchor="start" fill="#3a3a3a" font-weight="normal" >lattice mode</text>
<text x="42.30" y="704.10" font-size="11.4" text-anchor="start" fill="#3a3a3a" font-weight="normal" >contribution</text>
<text x="221.90" y="682.90" font-size="11.4" text-anchor="start" fill="#3a3a3a" font-weight="normal" >Gap mode</text>
<text x="221.90" y="693.50" font-size="11.4" text-anchor="start" fill="#3a3a3a" font-weight="normal" >contribution</text>
<path d="M34.5,637.8 35.5,636.9 36.6,636.0 37.6,635.1 38.6,634.2 39.7,633.3 40.7,632.3 41.8,631.2 42.8,630.2 43.8,629.2 44.9,628.5 45.9,628.1 46.9,627.6 48.0,627.3 49.0,626.9 50.0,626.6 51.1,626.4 52.1,626.3 53.2,626.2 54.2,626.3 55.2,626.4 56.3,626.6 57.3,626.8 58.3,627.1 59.4,627.4 60.4,627.7 61.5,628.0 62.5,628.3 63.5,628.7 64.6,629.1 65.6,629.5 66.6,630.0 67.7,630.5 68.7,631.1 69.7,631.7 70.8,632.4 71.8,633.0 72.9,633.7 73.9,634.4 74.9,635.1 76.0,635.8 77.0,636.5 78.0,637.2 79.1,638.0 80.1,638.7 81.1,639.4 82.2,640.0 83.2,640.7 84.3,641.3 85.3,642.0 86.3,642.6 87.4,643.3 88.4,643.9 89.4,644.6 90.5,645.2 91.5,645.9 92.5,646.6 93.6,647.2 94.6,647.9 95.7,648.6 96.7,649.2 97.7,649.9 98.8,650.6 99.8,651.2 100.8,651.9 101.9,652.6 102.9,653.3 103.9,654.0 105.0,654.6 106.0,655.3 107.1,656.0 108.1,656.7 109.1,657.4 110.2,658.1 111.2,658.8 112.2,659.5 113.3,660.2 114.3,660.8 115.4,661.5 116.4,662.2 117.4,662.9 118.5,663.6 119.5,664.3 120.5,665.0 121.6,665.7 122.6,666.5 123.6,667.2 124.7,667.9 125.7,668.7 126.8,669.5 127.8,670.2 128.8,671.0 129.9,671.9 130.9,672.7 131.9,673.5 133.0,674.4 134.0,675.2 135.0,676.1 136.1,677.0 137.1,677.8 138.2,678.7 139.2,679.7 140.2,680.6 141.3,681.6 142.3,682.5 143.3,683.5 144.4,684.5 145.4,685.6 146.4,686.6 147.5,687.7 148.5,688.8 149.6,690.1 150.6,691.5 151.6,693.0 152.7,694.5 153.7,696.0 154.7,697.5 155.8,698.9 156.8,700.2 157.8,701.4 158.9,702.3 159.9,703.0 161.0,703.7 162.0,704.4 163.0,704.9 164.1,705.5 165.1,706.0 166.1,706.5 167.2,706.9 168.2,707.3 169.3,707.6 170.3,707.9 171.3,708.1 172.4,708.3 173.4,708.5 174.4,708.7 175.5,708.9 176.5,709.1 177.5,709.2 178.6,709.4 179.6,709.5 180.7,709.7 181.7,709.8 182.7,709.9 183.8,710.0 184.8,710.2 185.8,710.3 186.9,710.4 187.9,710.5 188.9,710.6 190.0,710.7 191.0,710.8 192.1,710.8 193.1,710.9 194.1,711.0 195.2,711.1 196.2,711.2 197.2,711.3 198.3,711.4 199.3,711.5 200.3,711.6 201.4,711.7 202.4,711.8 203.5,711.9 204.5,711.9 205.5,712.0 206.6,712.1 207.6,712.2 208.6,712.3 209.7,712.3 210.7,712.4 211.7,712.5 212.8,712.6 213.8,712.6 214.9,712.7 215.9,712.7 216.9,712.8 218.0,712.8 219.0,712.8 220.0,712.9 221.1,712.9 222.1,712.9 223.2,712.9 224.2,712.9 225.2,712.9 226.3,712.9 227.3,712.9 228.3,712.9 229.4,712.9 230.4,712.9 231.4,712.9 232.5,712.9 233.5,712.9 234.6,712.9 235.6,712.9 236.6,712.9 237.7,712.9 238.7,712.9 239.7,712.9 240.8,712.9 241.8,712.9 242.8,712.9 243.9,712.8 244.9,712.8 246.0,712.7 247.0,712.6 248.0,712.5 249.1,712.4 250.1,712.2 251.1,712.1 252.2,711.9 253.2,711.8 254.2,711.6 255.3,711.4 256.3,711.3 257.4,711.1 258.4,710.9 259.4,710.7 260.5,710.6 261.5,710.4 262.5,710.2 263.6,710.0 264.6,709.9 265.6,709.7 266.7,709.5 267.7,709.3 268.8,709.1 269.8,708.8 270.8,708.6 271.9,708.4 272.9,708.2 273.9,707.9 275.0,707.7 276.0,707.4 277.1,707.2 278.1,706.9 279.1,706.6 280.2,706.4 281.2,706.1 282.2,705.8 283.3,705.5 284.3,705.2 285.3,704.9 286.4,704.6 287.4,704.3 288.5,704.0 289.5,703.7 290.5,703.4 291.6,703.0 292.6,702.7" fill="none" stroke="#4a72b8" stroke-width="1.7" stroke-linejoin="round" stroke-linecap="round" />
<line x1="34.50" y1="267.60" x2="292.40" y2="267.60" stroke="#999" stroke-width="1" />
<line x1="34.50" y1="471.30" x2="292.40" y2="471.30" stroke="#777" stroke-width="1" />
<line x1="34.50" y1="267.60" x2="34.50" y2="471.30" stroke="#666" stroke-width="1" />
<line x1="292.40" y1="267.60" x2="292.40" y2="471.30" stroke="#666" stroke-width="1" />
<line x1="34.50" y1="430.56" x2="37.00" y2="430.56" stroke="#888" stroke-width="0.8" />
<line x1="289.90" y1="430.56" x2="292.40" y2="430.56" stroke="#888" stroke-width="0.8" />
<line x1="34.50" y1="389.82" x2="37.00" y2="389.82" stroke="#888" stroke-width="0.8" />
<line x1="289.90" y1="389.82" x2="292.40" y2="389.82" stroke="#888" stroke-width="0.8" />
<line x1="34.50" y1="349.08" x2="37.00" y2="349.08" stroke="#888" stroke-width="0.8" />
<line x1="289.90" y1="349.08" x2="292.40" y2="349.08" stroke="#888" stroke-width="0.8" />
<line x1="34.50" y1="308.34" x2="37.00" y2="308.34" stroke="#888" stroke-width="0.8" />
<line x1="289.90" y1="308.34" x2="292.40" y2="308.34" stroke="#888" stroke-width="0.8" />
<text x="30.20" y="474.79" font-size="9.7" text-anchor="end" fill="#4a4a4a" font-weight="normal" transform="translate(0 -47.13) scale(1 1.1)" >0</text>
<text x="297.60" y="474.79" font-size="9.7" text-anchor="start" fill="#4a4a4a" font-weight="normal" transform="translate(0 -47.13) scale(1 1.1)" >0</text>
<text x="30.20" y="434.05" font-size="9.7" text-anchor="end" fill="#4a4a4a" font-weight="normal" transform="translate(0 -43.06) scale(1 1.1)" >0.2</text>
<text x="297.60" y="434.05" font-size="9.7" text-anchor="start" fill="#4a4a4a" font-weight="normal" transform="translate(0 -43.06) scale(1 1.1)" >0.2</text>
<text x="30.20" y="393.31" font-size="9.7" text-anchor="end" fill="#4a4a4a" font-weight="normal" transform="translate(0 -38.98) scale(1 1.1)" >0.4</text>
<text x="297.60" y="393.31" font-size="9.7" text-anchor="start" fill="#4a4a4a" font-weight="normal" transform="translate(0 -38.98) scale(1 1.1)" >0.4</text>
<text x="30.20" y="352.57" font-size="9.7" text-anchor="end" fill="#4a4a4a" font-weight="normal" transform="translate(0 -34.91) scale(1 1.1)" >0.6</text>
<text x="297.60" y="352.57" font-size="9.7" text-anchor="start" fill="#4a4a4a" font-weight="normal" transform="translate(0 -34.91) scale(1 1.1)" >0.6</text>
<text x="30.20" y="311.83" font-size="9.7" text-anchor="end" fill="#4a4a4a" font-weight="normal" transform="translate(0 -30.83) scale(1 1.1)" >0.8</text>
<text x="297.60" y="311.83" font-size="9.7" text-anchor="start" fill="#4a4a4a" font-weight="normal" transform="translate(0 -30.83) scale(1 1.1)" >0.8</text>
<text x="30.20" y="271.09" font-size="9.7" text-anchor="end" fill="#4a4a4a" font-weight="normal" transform="translate(0 -26.76) scale(1 1.1)" >1.0</text>
<text x="297.60" y="271.09" font-size="9.7" text-anchor="start" fill="#4a4a4a" font-weight="normal" transform="translate(0 -26.76) scale(1 1.1)" >1.0</text>
<text x="5.00" y="369.82" font-size="10.6" text-anchor="middle" fill="#444444" font-weight="normal" transform="rotate(-90 5.00 366.00)" >Calculated EL intensity, a.u.</text>
<text x="323.00" y="373.69" font-size="10.8" text-anchor="middle" fill="#444444" font-weight="normal" transform="rotate(90 323.00 369.80)" >EL intensity, a.u.</text>
<text x="0.5" y="269.5" font-size="15.5" font-weight="bold" fill="#111" stroke="#111" stroke-width="0.5">c</text>
<path d="M34.5,461.2 34.8,463.5 35.2,463.8 35.5,463.3 35.8,460.4 36.2,462.3 36.5,462.1 36.8,462.8 37.2,464.0 37.5,462.2 37.8,456.3 38.2,463.9 38.5,465.4 38.8,459.6 39.2,462.1 39.5,463.8 39.8,462.8 40.2,465.6 40.5,464.6 40.8,460.6 41.2,463.8 41.5,461.1 41.8,467.3 42.2,463.6 42.5,461.8 42.9,464.6 43.2,461.8 43.5,466.6 43.9,467.0 44.2,467.2 44.5,466.9 44.9,463.4 45.2,466.4 45.5,466.2 45.9,467.7 46.2,465.7 46.5,465.6 46.9,466.0 47.2,465.9 47.5,464.5 47.9,468.4 48.2,466.0 48.5,469.1 48.9,464.1 49.2,467.6 49.5,468.1 49.9,467.9 50.2,467.7 50.5,465.3 50.9,467.9 51.2,464.2 51.5,469.8 51.9,469.0 52.2,469.1 52.5,468.7 52.9,468.9 53.2,467.8 53.5,468.3 53.9,469.5 54.2,468.9 54.5,467.4 54.9,470.1 55.2,467.5 55.5,468.9 55.9,469.5 56.2,467.8 56.5,468.3 56.9,468.2 57.2,469.7 57.6,468.5 57.9,467.9 58.2,468.8 58.6,469.9 58.9,469.0 59.2,468.2 59.6,468.6 59.9,468.3 60.2,467.2 60.6,466.3 60.9,466.3 61.2,468.1 61.6,467.8 61.9,465.3 62.2,465.6 62.6,466.4 62.9,466.9 63.2,464.6 63.6,465.8 63.9,465.4 64.2,464.5 64.6,464.2 64.9,465.0 65.2,464.3 65.6,463.1 65.9,462.4 66.2,463.4 66.6,459.7 66.9,460.0 67.2,460.2 67.6,459.6 67.9,461.4 68.2,459.1 68.6,458.1 68.9,458.0 69.2,457.2 69.6,456.5 69.9,455.2 70.2,455.0 70.6,455.9 70.9,454.0 71.2,454.8 71.6,453.7 71.9,453.1 72.2,452.9 72.6,452.5 72.9,451.6 73.3,451.0 73.6,453.1 73.9,450.4 74.3,450.6 74.6,447.9 74.9,448.7 75.3,449.0 75.6,447.4 75.9,447.1 76.3,446.2 76.6,448.3 76.9,446.1 77.3,446.2 77.6,443.2 77.9,443.4 78.3,443.8 78.6,443.2 78.9,442.7 79.3,442.6 79.6,442.6 79.9,442.4 80.3,439.4 80.6,441.2 80.9,439.2 81.3,438.3 81.6,438.2 81.9,438.4 82.3,437.3 82.6,438.2 82.9,438.2 83.3,435.7 83.6,435.7 83.9,434.7 84.3,435.6 84.6,437.5 84.9,435.5 85.3,435.4 85.6,433.1 85.9,434.9 86.3,432.5 86.6,433.0 86.9,432.6 87.3,432.3 87.6,431.5 88.0,433.1 88.3,430.1 88.6,433.0 89.0,431.6 89.3,431.2 89.6,429.1 90.0,430.5 90.3,427.1 90.6,429.9 91.0,425.1 91.3,422.1 91.6,421.1 92.0,421.1 92.3,419.7 92.6,421.0 93.0,421.1 93.3,417.4 93.6,416.9 94.0,417.1 94.3,416.4 94.6,415.5 95.0,414.2 95.3,412.4 95.6,413.3 96.0,411.6 96.3,409.6 96.6,410.8 97.0,409.0 97.3,410.1 97.6,408.5 98.0,408.5 98.3,405.9 98.6,407.7 99.0,408.5 99.3,406.2 99.6,407.1 100.0,404.3 100.3,405.4 100.6,406.5 101.0,407.3 101.3,405.5 101.6,405.7 102.0,405.4 102.3,405.0 102.6,400.1 103.0,406.0 103.3,404.4 103.7,403.4 104.0,402.8 104.3,404.6 104.7,404.0 105.0,404.7 105.3,401.3 105.7,405.1 106.0,403.8 106.3,405.3 106.7,403.2 107.0,405.3 107.3,402.0 107.7,405.2 108.0,404.6 108.3,404.7 108.7,404.2 109.0,405.7 109.3,407.5 109.7,407.8 110.0,405.6 110.3,403.8 110.7,404.0 111.0,405.1 111.3,404.5 111.7,406.1 112.0,406.5 112.3,405.7 112.7,404.7 113.0,404.9 113.3,406.5 113.7,409.3 114.0,408.4 114.3,411.2 114.7,406.6 115.0,408.4 115.3,406.7 115.7,406.9 116.0,409.3 116.3,408.3 116.7,409.6 117.0,411.8 117.3,409.4 117.7,410.0 118.0,410.2 118.4,408.6 118.7,412.4 119.0,413.6 119.4,410.6 119.7,410.5 120.0,411.7 120.4,412.8 120.7,412.9 121.0,413.4 121.4,414.0 121.7,415.0 122.0,413.4 122.4,416.2 122.7,417.6 123.0,416.3 123.4,417.7 123.7,418.4 124.0,416.9 124.4,419.6 124.7,419.8 125.0,419.8 125.4,420.6 125.7,420.4 126.0,420.8 126.4,422.3 126.7,422.9 127.0,419.0 127.4,421.7 127.7,422.8 128.0,422.0 128.4,422.8 128.7,423.2 129.0,424.1 129.4,424.4 129.7,424.9 130.0,422.7 130.4,425.4 130.7,424.8 131.0,425.1 131.4,428.3 131.7,425.0 132.0,426.4 132.4,429.2 132.7,425.6 133.0,426.6 133.4,427.7 133.7,429.1 134.1,429.7 134.4,429.1 134.7,429.8 135.1,428.4 135.4,429.1 135.7,428.9 136.1,430.2 136.4,430.9 136.7,431.3 137.1,431.6 137.4,431.7 137.7,431.4 138.1,431.8 138.4,432.3 138.7,429.7 139.1,432.6 139.4,432.5 139.7,433.4 140.1,432.2 140.4,432.6 140.7,433.7 141.1,432.8 141.4,433.5 141.7,435.8 142.1,436.0 142.4,435.8 142.7,434.8 143.1,436.0 143.4,437.1 143.7,436.2 144.1,435.8 144.4,436.0 144.7,435.9 145.1,436.4 145.4,436.2 145.7,436.8 146.1,437.6 146.4,438.3 146.7,437.1 147.1,436.6 147.4,438.0 147.7,438.1 148.1,436.8 148.4,435.9 148.8,436.3 149.1,438.6 149.4,438.9 149.8,438.5 150.1,438.2 150.4,438.1 150.8,440.5 151.1,437.4 151.4,437.9 151.8,439.4 152.1,438.5 152.4,439.8 152.8,439.3 153.1,437.8 153.4,440.8 153.8,440.1 154.1,440.2 154.4,440.1 154.8,439.6 155.1,440.1 155.4,438.2 155.8,441.2 156.1,439.5 156.4,440.8 156.8,440.1 157.1,440.8 157.4,441.0 157.8,441.4 158.1,441.2 158.4,442.1 158.8,441.7 159.1,443.5 159.4,441.6 159.8,442.3 160.1,441.7 160.4,442.4 160.8,440.5 161.1,441.8 161.4,441.9 161.8,440.5 162.1,442.9 162.4,441.8 162.8,443.3 163.1,442.9 163.4,442.9 163.8,440.3 164.1,442.9 164.5,441.4 164.8,441.7 165.1,440.8 165.5,442.5 165.8,443.6 166.1,443.5 166.5,440.8 166.8,441.7 167.1,440.8 167.5,440.7 167.8,442.0 168.1,442.3 168.5,441.7 168.8,443.6 169.1,442.6 169.5,442.3 169.8,433.6 170.1,436.4 170.5,436.5 170.8,433.1 171.1,433.8 171.5,434.9 171.8,434.9 172.1,434.4 172.5,436.1 172.8,435.2 173.1,433.2 173.5,433.1 173.8,432.4 174.1,433.6 174.5,432.8 174.8,435.7 175.1,435.6 175.5,437.3 175.8,435.6 176.1,436.0 176.5,433.2 176.8,433.0 177.1,435.4 177.5,435.6 177.8,432.6 178.1,432.2 178.5,435.0 178.8,433.3 179.2,431.9 179.5,433.1 179.8,431.6 180.2,433.3 180.5,433.0 180.8,433.7 181.2,435.6 181.5,433.8 181.8,434.2 182.2,431.9 182.5,434.6 182.8,433.1 183.2,432.8 183.5,432.2 183.8,432.7 184.2,430.4 184.5,432.1 184.8,432.4 185.2,432.3 185.5,431.4 185.8,434.2 186.2,433.2 186.5,432.3 186.8,433.1 187.2,432.0 187.5,434.2 187.8,429.8 188.2,431.6 188.5,431.8 188.8,433.0 189.2,430.8 189.5,430.6 189.8,432.1 190.2,431.6 190.5,433.1 190.8,431.1 191.2,431.2 191.5,430.0 191.8,430.5 192.2,429.6 192.5,431.1 192.8,430.6 193.2,431.0 193.5,430.7 193.9,431.3 194.2,430.6 194.5,431.1 194.9,429.1 195.2,429.8 195.5,430.0 195.9,430.5 196.2,428.8 196.5,429.8 196.9,429.2 197.2,430.3 197.5,429.2 197.9,430.3 198.2,430.2 198.5,430.0 198.9,427.3 199.2,429.0 199.5,427.3 199.9,430.0 200.2,428.4 200.5,429.4 200.9,428.3 201.2,426.6 201.5,426.7 201.9,429.3 202.2,427.3 202.5,427.1 202.9,428.2 203.2,428.4 203.5,428.8 203.9,427.5 204.2,429.2 204.5,427.8 204.9,427.3 205.2,428.1 205.5,428.6 205.9,426.2 206.2,427.2 206.5,428.7 206.9,427.0 207.2,426.2 207.5,427.2 207.9,425.9 208.2,426.0 208.5,425.7 208.9,426.4 209.2,426.5 209.6,424.5 209.9,425.3 210.2,425.0 210.6,424.6 210.9,424.8 211.2,424.6 211.6,424.6 211.9,424.8 212.2,425.4 212.6,423.6 212.9,424.1 213.2,424.6 213.6,423.1 213.9,421.7 214.2,425.0 214.6,423.4 214.9,422.0 215.2,425.1 215.6,423.2 215.9,423.2 216.2,423.6 216.6,420.8 216.9,421.6 217.2,422.5 217.6,424.0 217.9,421.9 218.2,423.0 218.6,421.2 218.9,422.0 219.2,421.1 219.6,419.5 219.9,420.1 220.2,421.2 220.6,420.9 220.9,421.6 221.2,419.4 221.6,421.3 221.9,420.6 222.2,421.5 222.6,419.4 222.9,416.9 223.2,419.7 223.6,419.5 223.9,419.3 224.3,418.3 224.6,417.8 224.9,414.9 225.3,416.2 225.6,417.3 225.9,418.6 226.3,415.4 226.6,416.2 226.9,417.5 227.3,416.0 227.6,416.0 227.9,414.4 228.3,415.0 228.6,416.3 228.9,414.6 229.3,412.7 229.6,414.0 229.9,414.8 230.3,414.7 230.6,410.6 230.9,411.8 231.3,414.4 231.6,412.2 231.9,411.0 232.3,411.3 232.6,412.7 232.9,412.0 233.3,414.1 233.6,411.6 233.9,411.2 234.3,409.5 234.6,410.7 234.9,410.8 235.3,407.5 235.6,408.1 235.9,409.9 236.3,411.7 236.6,410.9 236.9,408.3 237.3,407.8 237.6,407.6 237.9,405.8 238.3,404.1 238.6,405.2 238.9,405.5 239.3,405.2 239.6,407.2 240.0,403.4 240.3,404.7 240.6,402.6 241.0,405.3 241.3,403.6 241.6,405.2 242.0,402.9 242.3,399.5 242.6,402.7 243.0,401.8 243.3,401.4 243.6,399.8 244.0,401.3 244.3,400.1 244.6,400.9 245.0,394.2 245.3,398.8 245.6,397.7 246.0,398.7 246.3,396.3 246.6,396.3 247.0,398.3 247.3,390.2 247.6,394.9 248.0,394.3 248.3,391.9 248.6,395.8 249.0,392.3 249.3,393.5 249.6,392.0 250.0,391.1 250.3,393.7 250.6,390.0 251.0,388.2 251.3,389.6 251.6,387.1 252.0,387.3 252.3,384.0 252.6,385.9 253.0,384.6 253.3,384.3 253.6,384.4 254.0,380.6 254.3,382.0 254.7,381.6 255.0,380.3 255.3,377.4 255.7,381.9 256.0,377.4 256.3,381.0 256.7,378.8 257.0,376.7 257.3,375.2 257.7,378.2 258.0,374.0 258.3,374.2 258.7,370.6 259.0,376.3 259.3,372.4 259.7,373.4 260.0,372.5 260.3,371.1 260.7,371.2 261.0,368.6 261.3,368.4 261.7,369.6 262.0,362.3 262.3,365.6 262.7,368.2 263.0,364.1 263.3,362.4 263.7,361.9 264.0,360.7 264.3,356.2 264.7,358.5 265.0,356.7 265.3,355.2 265.7,353.2 266.0,352.3 266.3,348.8 266.7,344.8 267.0,346.0 267.3,344.6 267.7,345.2 268.0,344.2 268.3,346.0 268.7,334.7 269.0,340.6 269.3,342.3 269.7,338.2 270.0,338.5 270.4,332.8 270.7,335.1 271.0,340.6 271.4,338.0 271.7,339.3 272.0,336.1 272.4,341.9 272.7,327.2 273.0,332.9 273.4,333.6 273.7,333.0 274.0,331.3 274.4,338.1 274.7,333.7 275.0,326.9 275.4,328.1 275.7,340.1 276.0,337.6 276.4,337.3 276.7,344.3 277.0,339.5 277.4,337.7 277.7,336.4 278.0,339.9 278.4,345.5 278.7,341.8 279.0,344.3 279.4,338.7 279.7,339.1 280.0,343.3 280.4,337.4 280.7,341.9 281.0,339.5 281.4,335.6 281.7,337.0 282.0,338.7 282.4,336.4 282.7,327.6 283.0,332.2 283.4,327.3 283.7,327.5 284.0,319.9 284.4,319.3 284.7,313.3 285.1,315.5 285.4,309.7 285.7,309.3 286.1,306.8 286.4,304.5 286.7,301.8 287.1,303.9 287.4,304.1 287.7,296.5 288.1,290.8 288.4,292.1 288.7,282.4 289.1,284.6 289.4,278.9 289.7,277.3 290.1,276.1 290.4,271.3 290.7,277.7 291.1,276.3 291.4,274.3 291.7,271.7 292.1,274.6 292.4,268.1" fill="none" stroke="#5bb155" stroke-width="2.2" stroke-linejoin="round" stroke-linecap="round" />
<path d="M34.5,471.3 35.4,471.3 36.2,471.3 37.1,471.3 38.0,471.3 38.8,471.3 39.7,471.3 40.5,471.3 41.4,471.3 42.3,471.3 43.1,471.3 44.0,471.2 44.9,471.1 45.7,471.0 46.6,470.9 47.4,470.8 48.3,470.6 49.2,470.4 50.0,470.0 50.9,469.6 51.8,469.1 52.6,468.5 53.5,468.0 54.3,467.3 55.2,466.7 56.1,466.1 56.9,465.4 57.8,464.6 58.7,463.8 59.5,462.9 60.4,462.0 61.2,461.0 62.1,460.1 63.0,459.2 63.8,458.3 64.7,457.4 65.6,456.5 66.4,455.6 67.3,454.8 68.1,453.9 69.0,453.0 69.9,452.1 70.7,451.3 71.6,450.4 72.5,449.6 73.3,448.8 74.2,448.0 75.0,447.2 75.9,446.4 76.8,445.6 77.6,444.9 78.5,444.1 79.4,443.3 80.2,442.6 81.1,441.8 81.9,441.0 82.8,440.1 83.7,439.3 84.5,438.4 85.4,437.6 86.3,436.7 87.1,435.8 88.0,434.9 88.8,434.1 89.7,433.2 90.6,432.3 91.4,431.5 92.3,430.7 93.2,429.8 94.0,429.0 94.9,428.1 95.7,427.3 96.6,426.5 97.5,425.7 98.3,424.9 99.2,424.2 100.1,423.4 100.9,422.7 101.8,421.9 102.6,421.1 103.5,420.3 104.4,419.5 105.2,418.7 106.1,417.8 107.0,417.0 107.8,416.2 108.7,415.4 109.5,414.6 110.4,413.8 111.3,413.1 112.1,412.5 113.0,411.9 113.9,411.2 114.7,410.6 115.6,410.0 116.4,409.4 117.3,408.8 118.2,408.3 119.0,407.7 119.9,407.2 120.8,406.7 121.6,406.2 122.5,405.8 123.3,405.3 124.2,404.9 125.1,404.5 125.9,404.2 126.8,403.9 127.7,403.6 128.5,403.2 129.4,402.9 130.2,402.6 131.1,402.3 132.0,402.0 132.8,401.7 133.7,401.4 134.6,401.2 135.4,401.0 136.3,400.7 137.1,400.6 138.0,400.4 138.9,400.3 139.7,400.2 140.6,400.2 141.5,400.2 142.3,400.3 143.2,400.5 144.0,400.7 144.9,400.9 145.8,401.2 146.6,401.5 147.5,401.8 148.4,402.1 149.2,402.5 150.1,402.9 150.9,403.4 151.8,403.9 152.7,404.5 153.5,405.1 154.4,405.6 155.3,406.1 156.1,406.5 157.0,406.7 157.8,406.9 158.7,406.9 159.6,406.9 160.4,406.8 161.3,406.7 162.2,406.6 163.0,406.4 163.9,406.3 164.7,406.1 165.6,405.9 166.5,405.7 167.3,405.5 168.2,405.3 169.1,405.1 169.9,404.9 170.8,404.7 171.6,404.6 172.5,404.4 173.4,404.2 174.2,404.0 175.1,403.8 176.0,403.7 176.8,403.5 177.7,403.3 178.5,403.1 179.4,402.8 180.3,402.6 181.1,402.4 182.0,402.2 182.9,401.9 183.7,401.7 184.6,401.4 185.4,401.1 186.3,400.9 187.2,400.6 188.0,400.3 188.9,400.0 189.8,399.7 190.6,399.4 191.5,399.1 192.3,398.7 193.2,398.4 194.1,398.1 194.9,397.7 195.8,397.4 196.7,397.0 197.5,396.7 198.4,396.3 199.2,396.0 200.1,395.6 201.0,395.3 201.8,394.9 202.7,394.5 203.6,394.2 204.4,393.8 205.3,393.4 206.1,393.1 207.0,392.7 207.9,392.3 208.7,391.9 209.6,391.6 210.5,391.2 211.3,390.8 212.2,390.4 213.0,390.0 213.9,389.6 214.8,389.2 215.6,388.8 216.5,388.4 217.4,388.0 218.2,387.5 219.1,387.1 219.9,386.7 220.8,386.3 221.7,385.8 222.5,385.4 223.4,385.0 224.3,384.5 225.1,384.1 226.0,383.6 226.8,383.2 227.7,382.7 228.6,382.3 229.4,381.8 230.3,381.3 231.2,380.9 232.0,380.4 232.9,379.9 233.7,379.4 234.6,378.9 235.5,378.4 236.3,377.9 237.2,377.4 238.1,376.9 238.9,376.4 239.8,375.9 240.6,375.4 241.5,374.9 242.4,374.4 243.2,373.9 244.1,373.3 245.0,372.8 245.8,372.3 246.7,371.7 247.5,371.1 248.4,370.6 249.3,370.0 250.1,369.4 251.0,368.8 251.9,368.2 252.7,367.6 253.6,366.9 254.4,366.3 255.3,365.6 256.2,364.9 257.0,364.2 257.9,363.5 258.8,362.8 259.6,362.0 260.5,361.2 261.3,360.4 262.2,359.5 263.1,358.6 263.9,357.7 264.8,356.8 265.7,355.8 266.5,354.9 267.4,353.9 268.2,352.9 269.1,351.9 270.0,350.9 270.8,349.8 271.7,348.8 272.6,347.7 273.4,346.7 274.3,345.6 275.1,344.6 276.0,343.6 276.9,342.5 277.7,341.5 278.6,340.4 279.5,339.4 280.3,338.3 281.2,337.3 282.0,336.2 282.9,335.1 283.8,334.0 284.6,332.9 285.5,331.8 286.4,330.7 287.2,329.5 288.1,328.4 288.9,327.2 289.8,326.1 290.7,324.9 291.5,323.8 292.4,322.6" fill="none" stroke="#4a72b8" stroke-width="1.5" stroke-linejoin="round" stroke-linecap="round" />
<line x1="146.90" y1="340.30" x2="157.60" y2="340.30" stroke="#4a72b8" stroke-width="1.8" />
<text x="162.10" y="344.63" font-size="11.2" text-anchor="start" fill="#4a4a4a" font-weight="normal" >Simulation</text>
<line x1="146.90" y1="353.50" x2="157.60" y2="353.50" stroke="#5bb155" stroke-width="1.8" />
<text x="162.10" y="357.83" font-size="11.2" text-anchor="start" fill="#4a4a4a" font-weight="normal" >Experiment</text>
<line x1="72.80" y1="416.60" x2="45.60" y2="416.60" stroke="#4a72b8" stroke-width="1.6" />
<path d="M42.0,416.6 L48.0,413.6 L46.2,416.6 L48.0,419.6 Z" fill="#4a72b8"/>
<line x1="256.10" y1="434.00" x2="283.10" y2="434.00" stroke="#5bb155" stroke-width="1.6" />
<path d="M286.7,434.0 L280.7,431.0 L282.5,434.0 L280.7,437.0 Z" fill="#5bb155"/>
<line x1="34.50" y1="517.30" x2="292.60" y2="517.30" stroke="#6a6a6a" stroke-width="1" />
<line x1="34.50" y1="610.30" x2="292.60" y2="610.30" stroke="#6a6a6a" stroke-width="1" />
<line x1="34.50" y1="517.30" x2="34.50" y2="610.30" stroke="#6a6a6a" stroke-width="1" />
<line x1="292.60" y1="517.30" x2="292.60" y2="610.30" stroke="#6a6a6a" stroke-width="1" />
<line x1="86.12" y1="610.30" x2="86.12" y2="607.80" stroke="#888" stroke-width="0.8" />
<line x1="137.74" y1="610.30" x2="137.74" y2="607.80" stroke="#888" stroke-width="0.8" />
<line x1="189.36" y1="610.30" x2="189.36" y2="607.80" stroke="#888" stroke-width="0.8" />
<line x1="240.98" y1="610.30" x2="240.98" y2="607.80" stroke="#888" stroke-width="0.8" />
<text x="31.00" y="520.79" font-size="9.7" text-anchor="end" fill="#4a4a4a" font-weight="normal" transform="translate(0 -51.73) scale(1 1.1)" >1</text>
<text x="31.00" y="612.79" font-size="9.7" text-anchor="end" fill="#4a4a4a" font-weight="normal" transform="translate(0 -60.93) scale(1 1.1)" >0</text>
<text x="296.80" y="520.79" font-size="9.7" text-anchor="start" fill="#4a4a4a" font-weight="normal" transform="translate(0 -51.73) scale(1 1.1)" >1</text>
<text x="296.80" y="612.79" font-size="9.7" text-anchor="start" fill="#4a4a4a" font-weight="normal" transform="translate(0 -60.93) scale(1 1.1)" >0</text>
<text x="322.30" y="567.87" font-size="11.3" text-anchor="middle" fill="#444444" font-weight="normal" transform="rotate(90 322.30 563.80)" >Spectral electronic</text>
<text x="310.60" y="567.87" font-size="11.3" text-anchor="middle" fill="#444444" font-weight="normal" transform="rotate(90 310.60 563.80)" >contribution <tspan font-style="italic">H</tspan></text>
<text x="0.5" y="520.0999999999999" font-size="15.5" font-weight="bold" fill="#111" stroke="#111" stroke-width="0.5">d</text>
<path d="M34.5,610.3 35.8,610.3 37.1,610.3 38.4,610.3 39.7,610.2 41.0,610.2 42.3,610.2 43.6,610.2 44.9,610.1 46.2,610.1 47.5,610.0 48.8,609.9 50.1,609.7 51.4,609.6 52.7,609.4 54.0,609.3 55.3,609.1 56.5,608.8 57.8,608.6 59.1,608.3 60.4,608.1 61.7,607.8 63.0,607.5 64.3,607.2 65.6,606.8 66.9,606.5 68.2,606.1 69.5,605.7 70.8,605.3 72.1,604.9 73.4,604.5 74.7,604.1 76.0,603.7 77.3,603.2 78.6,602.8 79.9,602.3 81.2,601.8 82.5,601.4 83.8,600.9 85.1,600.4 86.4,600.0 87.7,599.5 89.0,599.1 90.3,598.6 91.6,598.2 92.9,597.7 94.2,597.3 95.5,596.8 96.8,596.4 98.1,595.9 99.3,595.5 100.6,595.0 101.9,594.6 103.2,594.1 104.5,593.6 105.8,593.2 107.1,592.7 108.4,592.2 109.7,591.8 111.0,591.3 112.3,590.8 113.6,590.3 114.9,589.8 116.2,589.3 117.5,588.8 118.8,588.3 120.1,587.8 121.4,587.2 122.7,586.7 124.0,586.2 125.3,585.7 126.6,585.2 127.9,584.6 129.2,584.1 130.5,583.6 131.8,583.1 133.1,582.5 134.4,582.0 135.7,581.5 137.0,580.9 138.3,580.4 139.6,579.9 140.9,579.3 142.1,578.8 143.4,578.3 144.7,577.7 146.0,577.2 147.3,576.7 148.6,576.1 149.9,575.6 151.2,575.0 152.5,574.5 153.8,574.0 155.1,573.4 156.4,572.8 157.7,572.3 159.0,571.7 160.3,571.2 161.6,570.6 162.9,570.1 164.2,569.5 165.5,569.0 166.8,568.4 168.1,567.8 169.4,567.3 170.7,566.7 172.0,566.2 173.3,565.6 174.6,565.1 175.9,564.5 177.2,564.0 178.5,563.4 179.8,562.9 181.1,562.4 182.4,561.8 183.7,561.3 185.0,560.8 186.2,560.3 187.5,559.7 188.8,559.2 190.1,558.7 191.4,558.2 192.7,557.7 194.0,557.2 195.3,556.7 196.6,556.2 197.9,555.7 199.2,555.2 200.5,554.7 201.8,554.2 203.1,553.8 204.4,553.3 205.7,552.8 207.0,552.3 208.3,551.8 209.6,551.3 210.9,550.9 212.2,550.4 213.5,549.9 214.8,549.4 216.1,549.0 217.4,548.5 218.7,548.0 220.0,547.6 221.3,547.1 222.6,546.6 223.9,546.2 225.2,545.7 226.5,545.2 227.8,544.8 229.0,544.3 230.3,543.8 231.6,543.4 232.9,542.9 234.2,542.5 235.5,542.0 236.8,541.6 238.1,541.2 239.4,540.8 240.7,540.4 242.0,540.0 243.3,539.6 244.6,539.2 245.9,538.9 247.2,538.5 248.5,538.2 249.8,537.8 251.1,537.5 252.4,537.1 253.7,536.8 255.0,536.5 256.3,536.1 257.6,535.8 258.9,535.4 260.2,535.1 261.5,534.7 262.8,534.3 264.1,534.0 265.4,533.6 266.7,533.2 268.0,532.8 269.3,532.5 270.6,532.1 271.8,531.7 273.1,531.3 274.4,530.9 275.7,530.5 277.0,530.1 278.3,529.7 279.6,529.3 280.9,528.9 282.2,528.5 283.5,528.1 284.8,527.7 286.1,527.3 287.4,526.9 288.7,526.5 290.0,526.0 291.3,525.6 292.6,525.2" fill="none" stroke="#4a72b8" stroke-width="1.7" stroke-linejoin="round" stroke-linecap="round" />
<line x1="110.70" y1="267.60" x2="110.70" y2="718.30" stroke="#e8323c" stroke-width="1.1" stroke-dasharray="4 3"/>
<line x1="240.40" y1="267.60" x2="240.40" y2="718.30" stroke="#f4a93a" stroke-width="1.1" stroke-dasharray="4 3"/>
<defs><clipPath id="cr"><rect x="54.5" y="276.5" width="73" height="52"/></clipPath><linearGradient id="bgr" x1="0" y1="275" x2="0" y2="330" gradientUnits="userSpaceOnUse"><stop offset="0" stop-color="#c6dc92"/><stop offset="0.5" stop-color="#cadf92"/><stop offset="0.78" stop-color="#9cd4cc"/><stop offset="1" stop-color="#78c4e6"/></linearGradient><linearGradient id="fadem" x1="0" y1="275" x2="0" y2="330" gradientUnits="userSpaceOnUse"><stop offset="0" stop-color="#fff"/><stop offset="0.4" stop-color="#fff"/><stop offset="0.8" stop-color="#000"/></linearGradient><mask id="mfade" maskUnits="userSpaceOnUse" x="40" y="260" width="240" height="80"><rect x="40" y="260" width="240" height="80" fill="url(#fadem)"/></mask><filter id="bl3" filterUnits="userSpaceOnUse" x="40" y="260" width="240" height="80"><feGaussianBlur stdDeviation="2.6"/></filter><filter id="bl2" filterUnits="userSpaceOnUse" x="40" y="260" width="240" height="80"><feGaussianBlur stdDeviation="1.8"/></filter><filter id="bl12" filterUnits="userSpaceOnUse" x="40" y="260" width="240" height="80"><feGaussianBlur stdDeviation="1.3"/></filter><filter id="bl1" filterUnits="userSpaceOnUse" x="40" y="260" width="240" height="80"><feGaussianBlur stdDeviation="1.0"/></filter><linearGradient id="gapr" x1="0" y1="0" x2="1" y2="0"><stop offset="0" stop-color="#d02020"/><stop offset="0.22" stop-color="#d83020"/><stop offset="0.33" stop-color="#f0c040"/><stop offset="0.6" stop-color="#f4e080"/><stop offset="1" stop-color="#e8e090"/></linearGradient><linearGradient id="domer" x1="0" y1="0" x2="1" y2="0.3"><stop offset="0" stop-color="#5c8ccc"/><stop offset="0.3" stop-color="#4a6cb4"/><stop offset="1" stop-color="#4a66b0"/></linearGradient></defs>
<g clip-path="url(#cr)">
<rect x="53" y="275" width="76" height="55" fill="url(#bgr)"/>
<g mask="url(#mfade)"><g filter="url(#bl2)"><path d="M66.10,322.90 V306.00 A16.0,13.7 0 0 1 82.10,292.30 H100.70 A16.0,13.7 0 0 1 116.70,306.00 V322.90" fill="none" stroke="#cce090" stroke-width="40.0" stroke-linejoin="round"/><path d="M66.10,322.90 V306.00 A16.0,13.7 0 0 1 82.10,292.30 H100.70 A16.0,13.7 0 0 1 116.70,306.00 V322.90" fill="none" stroke="#d6e288" stroke-width="35.0" stroke-linejoin="round"/><path d="M66.10,322.90 V306.00 A16.0,13.7 0 0 1 82.10,292.30 H100.70 A16.0,13.7 0 0 1 116.70,306.00 V322.90" fill="none" stroke="#e2e27e" stroke-width="30.0" stroke-linejoin="round"/><path d="M66.10,322.90 V306.00 A16.0,13.7 0 0 1 82.10,292.30 H100.70 A16.0,13.7 0 0 1 116.70,306.00 V322.90" fill="none" stroke="#ecd870" stroke-width="25.0" stroke-linejoin="round"/><path d="M66.10,322.90 V306.00 A16.0,13.7 0 0 1 82.10,292.30 H100.70 A16.0,13.7 0 0 1 116.70,306.00 V322.90" fill="none" stroke="#f2c45c" stroke-width="21.0" stroke-linejoin="round"/><path d="M66.10,322.90 V306.00 A16.0,13.7 0 0 1 82.10,292.30 H100.70 A16.0,13.7 0 0 1 116.70,306.00 V322.90" fill="none" stroke="#f2a848" stroke-width="17.0" stroke-linejoin="round"/><path d="M66.10,322.90 V306.00 A16.0,13.7 0 0 1 82.10,292.30 H100.70 A16.0,13.7 0 0 1 116.70,306.00 V322.90" fill="none" stroke="#ec8a3a" stroke-width="13.0" stroke-linejoin="round"/><path d="M66.10,322.90 V306.00 A16.0,13.7 0 0 1 82.10,292.30 H100.70 A16.0,13.7 0 0 1 116.70,306.00 V322.90" fill="none" stroke="#e4622e" stroke-width="9.0" stroke-linejoin="round"/><path d="M66.10,322.90 V306.00 A16.0,13.7 0 0 1 82.10,292.30 H100.70 A16.0,13.7 0 0 1 116.70,306.00 V322.90" fill="none" stroke="#d83c26" stroke-width="5.6" stroke-linejoin="round"/><path d="M66.10,322.90 V306.00 A16.0,13.7 0 0 1 82.10,292.30 H100.70 A16.0,13.7 0 0 1 116.70,306.00 V322.90" fill="none" stroke="#c82a20" stroke-width="3.0" stroke-linejoin="round"/></g></g>
<g filter="url(#bl1)"><ellipse cx="59" cy="321" rx="5" ry="3" fill="#5a78c0"/><ellipse cx="123" cy="318" rx="4" ry="4" fill="#5a78c0"/></g>
<path d="M66.10,322.90 V306.00 A16.0,13.7 0 0 1 82.10,292.30 H100.70 A16.0,13.7 0 0 1 116.70,306.00 V322.90 Z" fill="url(#domer)"/>
<rect x="66" y="320.8" width="51" height="2.1" fill="#5a7cc4"/>
<rect x="53" y="322.9" width="76" height="2.3" fill="#4a66b0"/>
<rect x="64" y="322.9" width="54" height="2.3" fill="url(#gapr)"/>
<rect x="53" y="325.2" width="76" height="5" fill="#4a64ae"/>
</g>
<rect x="54.0" y="276.09999999999997" width="73.90" height="53.30" fill="none" stroke="#e8343c" stroke-width="1.9"/>
<circle cx="62.1" cy="283.9" r="6.0" fill="#e8343c"/>
<line x1="123.60" y1="277.00" x2="115.49" y2="287.55" stroke="#111" stroke-width="0.95"/>
<path d="M113.30,290.40 L113.99,286.39 L117.00,288.70 Z" fill="#111"/>
<line x1="118.37" y1="281.28" x2="121.93" y2="283.82" stroke="#e8343c" stroke-width="1.2"/>
<path d="M115.60,279.30 L117.09,283.07 L119.65,279.49 Z" fill="#e8343c"/>
<path d="M124.70,285.80 L120.65,285.61 L123.21,282.03 Z" fill="#e8343c"/>
<text x="121.0" y="293.6" font-size="7.2" fill="#e8343c" font-style="italic">E</text>
<text x="106.8" y="313.4" font-size="8.2" fill="#222" text-anchor="middle">25 nm</text>
<rect x="100.3" y="316.0" width="14.1" height="2.7" fill="#151515"/>
<defs><clipPath id="co"><rect x="192" y="276.5" width="72.2" height="52"/></clipPath><linearGradient id="bgo" x1="0" y1="275" x2="0" y2="330" gradientUnits="userSpaceOnUse"><stop offset="0" stop-color="#86c8e6"/><stop offset="1" stop-color="#7cc4e8"/></linearGradient><linearGradient id="gapo" x1="0" y1="0" x2="1" y2="0"><stop offset="0" stop-color="#a0e0e8"/><stop offset="0.15" stop-color="#e0f0a0"/><stop offset="0.8" stop-color="#f0f0a0"/><stop offset="1" stop-color="#e8d878"/></linearGradient></defs>
<g clip-path="url(#co)">
<rect x="190" y="275" width="77" height="55" fill="url(#bgo)"/>
<g mask="url(#mfade)"><g filter="url(#bl2)"><path d="M204.30,322.90 V306.00 A16.0,13.7 0 0 1 220.30,292.30 H239.10 A16.0,13.7 0 0 1 255.10,306.00 V322.90" fill="none" stroke="#88c8e4" stroke-width="44.0" stroke-linejoin="round"/><path d="M204.30,322.90 V306.00 A16.0,13.7 0 0 1 220.30,292.30 H239.10 A16.0,13.7 0 0 1 255.10,306.00 V322.90" fill="none" stroke="#94cede" stroke-width="38.0" stroke-linejoin="round"/><path d="M204.30,322.90 V306.00 A16.0,13.7 0 0 1 220.30,292.30 H239.10 A16.0,13.7 0 0 1 255.10,306.00 V322.90" fill="none" stroke="#a2d4d6" stroke-width="32.0" stroke-linejoin="round"/><path d="M204.30,322.90 V306.00 A16.0,13.7 0 0 1 220.30,292.30 H239.10 A16.0,13.7 0 0 1 255.10,306.00 V322.90" fill="none" stroke="#b2dacc" stroke-width="26.0" stroke-linejoin="round"/><path d="M204.30,322.90 V306.00 A16.0,13.7 0 0 1 220.30,292.30 H239.10 A16.0,13.7 0 0 1 255.10,306.00 V322.90" fill="none" stroke="#c0e0c0" stroke-width="20.0" stroke-linejoin="round"/><path d="M204.30,322.90 V306.00 A16.0,13.7 0 0 1 220.30,292.30 H239.10 A16.0,13.7 0 0 1 255.10,306.00 V322.90" fill="none" stroke="#d0e6b0" stroke-width="14.0" stroke-linejoin="round"/><path d="M204.30,322.90 V306.00 A16.0,13.7 0 0 1 220.30,292.30 H239.10 A16.0,13.7 0 0 1 255.10,306.00 V322.90" fill="none" stroke="#dcecaa" stroke-width="9.0" stroke-linejoin="round"/><path d="M204.30,322.90 V306.00 A16.0,13.7 0 0 1 220.30,292.30 H239.10 A16.0,13.7 0 0 1 255.10,306.00 V322.90" fill="none" stroke="#eaf0a2" stroke-width="5.0" stroke-linejoin="round"/></g></g>
<g filter="url(#bl3)"><rect x="186" y="303" width="17" height="26" fill="#4c6cb4"/><ellipse cx="260" cy="318" rx="4" ry="5" fill="#4c6cb4"/></g>
<path d="M204.30,322.90 V306.00 A16.0,13.7 0 0 1 220.30,292.30 H239.10 A16.0,13.7 0 0 1 255.10,306.00 V322.90 Z" fill="#4a5eaa"/>
<rect x="204.3" y="319.0" width="50.8" height="0.8" fill="#3a4c98"/>
<rect x="190" y="320.6" width="14" height="1" fill="#3a4c98"/><rect x="255" y="320.6" width="12" height="1" fill="#3a4c98"/>
<rect x="190" y="322.9" width="77" height="2.3" fill="#4a62ac"/>
<rect x="202.5" y="322.9" width="54" height="2.3" fill="url(#gapo)"/>
<rect x="190" y="325.2" width="77" height="5" fill="#4a60ac"/>
<rect x="190" y="326.4" width="77" height="0.7" fill="#3a4c98"/>
</g>
<rect x="191.4" y="276.09999999999997" width="73.30" height="53.30" fill="none" stroke="#f6b424" stroke-width="1.9"/>
<circle cx="199.7" cy="283.9" r="6.0" fill="#f2b82c"/>
<line x1="263.50" y1="277.40" x2="251.11" y2="286.39" stroke="#111" stroke-width="0.95"/>
<path d="M248.20,288.50 L250.00,284.85 L252.23,287.92 Z" fill="#111"/>
<line x1="255.42" y1="280.37" x2="258.58" y2="284.03" stroke="#e8343c" stroke-width="1.2"/>
<path d="M253.20,277.80 L253.76,281.81 L257.09,278.94 Z" fill="#e8343c"/>
<path d="M260.80,286.60 L256.91,285.46 L260.24,282.59 Z" fill="#e8343c"/>
<text x="259.8" y="294.2" font-size="7.2" fill="#e8343c" font-style="italic">E</text>
<text x="245.2" y="313.2" font-size="8.2" fill="#222" text-anchor="middle">25 nm</text>
<rect x="239.0" y="315.2" width="13.8" height="3.1" fill="#151515"/>
<line x1="382.60" y1="517.50" x2="639.60" y2="517.50" stroke="#777" stroke-width="1" />
<line x1="382.60" y1="718.30" x2="639.60" y2="718.30" stroke="#777" stroke-width="1" />
<line x1="382.60" y1="517.50" x2="382.60" y2="718.30" stroke="#777" stroke-width="1" />
<line x1="639.60" y1="517.50" x2="639.60" y2="718.30" stroke="#777" stroke-width="1" />
<line x1="382.60" y1="668.10" x2="385.10" y2="668.10" stroke="#888" stroke-width="0.8" />
<line x1="382.60" y1="617.90" x2="385.10" y2="617.90" stroke="#888" stroke-width="0.8" />
<line x1="382.60" y1="567.70" x2="385.10" y2="567.70" stroke="#888" stroke-width="0.8" />
<line x1="434.00" y1="718.30" x2="434.00" y2="715.80" stroke="#888" stroke-width="0.8" />
<line x1="485.40" y1="718.30" x2="485.40" y2="715.80" stroke="#888" stroke-width="0.8" />
<line x1="536.80" y1="718.30" x2="536.80" y2="715.80" stroke="#888" stroke-width="0.8" />
<line x1="588.20" y1="718.30" x2="588.20" y2="715.80" stroke="#888" stroke-width="0.8" />
<text x="377.50" y="721.79" font-size="9.7" text-anchor="end" fill="#4a4a4a" font-weight="normal" transform="translate(0 -71.83) scale(1 1.1)" >0</text>
<text x="377.50" y="671.59" font-size="9.7" text-anchor="end" fill="#4a4a4a" font-weight="normal" transform="translate(0 -66.81) scale(1 1.1)" >0.2</text>
<text x="377.50" y="621.39" font-size="9.7" text-anchor="end" fill="#4a4a4a" font-weight="normal" transform="translate(0 -61.79) scale(1 1.1)" >0.4</text>
<text x="377.50" y="571.19" font-size="9.7" text-anchor="end" fill="#4a4a4a" font-weight="normal" transform="translate(0 -56.77) scale(1 1.1)" >0.6</text>
<text x="377.50" y="520.99" font-size="9.7" text-anchor="end" fill="#4a4a4a" font-weight="normal" transform="translate(0 -51.75) scale(1 1.1)" >0.8</text>
<text x="382.60" y="730.89" font-size="9.7" text-anchor="middle" fill="#4a4a4a" font-weight="normal" transform="translate(0 -72.74) scale(1 1.1)" >500</text>
<text x="434.00" y="730.89" font-size="9.7" text-anchor="middle" fill="#4a4a4a" font-weight="normal" transform="translate(0 -72.74) scale(1 1.1)" >600</text>
<text x="485.40" y="730.89" font-size="9.7" text-anchor="middle" fill="#4a4a4a" font-weight="normal" transform="translate(0 -72.74) scale(1 1.1)" >700</text>
<text x="536.80" y="730.89" font-size="9.7" text-anchor="middle" fill="#4a4a4a" font-weight="normal" transform="translate(0 -72.74) scale(1 1.1)" >800</text>
<text x="588.20" y="730.89" font-size="9.7" text-anchor="middle" fill="#4a4a4a" font-weight="normal" transform="translate(0 -72.74) scale(1 1.1)" >900</text>
<text x="639.60" y="730.89" font-size="9.7" text-anchor="middle" fill="#4a4a4a" font-weight="normal" transform="translate(0 -72.74) scale(1 1.1)" >1,000</text>
<text x="511.10" y="743.53" font-size="11.2" text-anchor="middle" fill="#444444" font-weight="normal" >Wavelength, nm</text>
<text x="351.00" y="621.39" font-size="10.8" text-anchor="middle" fill="#444444" font-weight="normal" transform="rotate(-90 351.00 617.50)" >EL intensity, a.u.</text>
<text x="348.0" y="517.8" font-size="15.5" font-weight="bold" fill="#111" stroke="#111" stroke-width="0.5">g</text>
<path d="M382.6,717.9 383.0,717.9 383.3,717.9 383.7,717.9 384.1,717.9 384.4,717.9 384.8,717.9 385.2,717.9 385.5,717.9 385.9,717.9 386.3,717.9 386.6,717.8 387.0,717.8 387.4,717.8 387.7,717.8 388.1,717.8 388.5,717.8 388.9,717.8 389.2,717.8 389.6,717.8 390.0,717.8 390.3,717.7 390.7,717.7 391.1,717.7 391.4,717.7 391.8,717.7 392.2,717.7 392.5,717.7 392.9,717.7 393.3,717.7 393.6,717.6 394.0,717.6 394.4,717.6 394.7,717.6 395.1,717.6 395.5,717.6 395.8,717.6 396.2,717.6 396.6,717.6 396.9,717.6 397.3,717.5 397.7,717.5 398.0,717.5 398.4,717.5 398.8,717.5 399.1,717.5 399.5,717.5 399.9,717.4 400.2,717.4 400.6,717.4 401.0,717.4 401.4,717.3 401.7,717.3 402.1,717.2 402.5,717.1 402.8,717.0 403.2,716.9 403.6,716.8 403.9,716.7 404.3,716.5 404.7,716.4 405.0,716.3 405.4,716.1 405.8,716.0 406.1,715.8 406.5,715.6 406.9,715.5 407.2,715.3 407.6,715.1 408.0,714.9 408.3,714.8 408.7,714.6 409.1,714.4 409.4,714.2 409.8,714.0 410.2,713.9 410.5,713.7 410.9,713.5 411.3,713.4 411.6,713.2 412.0,713.0 412.4,712.9 412.7,712.7 413.1,712.5 413.5,712.3 413.9,712.1 414.2,711.9 414.6,711.7 415.0,711.5 415.3,711.3 415.7,711.1 416.1,710.9 416.4,710.7 416.8,710.5 417.2,710.4 417.5,710.2 417.9,710.0 418.3,709.8 418.6,709.6 419.0,709.5 419.4,709.3 419.7,709.1 420.1,709.0 420.5,708.9 420.8,708.7 421.2,708.6 421.6,708.5 421.9,708.4 422.3,708.2 422.7,708.1 423.0,708.0 423.4,707.9 423.8,707.8 424.1,707.7 424.5,707.6 424.9,707.5 425.2,707.4 425.6,707.3 426.0,707.2 426.4,707.1 426.7,707.0 427.1,706.9 427.5,706.8 427.8,706.7 428.2,706.6 428.6,706.5 428.9,706.4 429.3,706.2 429.7,706.1 430.0,706.0 430.4,705.9 430.8,705.7 431.1,705.6 431.5,705.5 431.9,705.3 432.2,705.2 432.6,705.1 433.0,704.9 433.3,704.8 433.7,704.6 434.1,704.5 434.4,704.3 434.8,704.2 435.2,704.0 435.5,703.9 435.9,703.7 436.3,703.5 436.6,703.4 437.0,703.2 437.4,703.1 437.8,702.9 438.1,702.8 438.5,702.6 438.9,702.5 439.2,702.3 439.6,702.2 440.0,702.1 440.3,701.9 440.7,701.8 441.1,701.6 441.4,701.5 441.8,701.4 442.2,701.2 442.5,701.1 442.9,700.9 443.3,700.8 443.6,700.7 444.0,700.5 444.4,700.4 444.7,700.3 445.1,700.1 445.5,700.0 445.8,699.9 446.2,699.7 446.6,699.6 446.9,699.4 447.3,699.3 447.7,699.2 448.0,699.0 448.4,698.9 448.8,698.7 449.1,698.6 449.5,698.5 449.9,698.3 450.3,698.2 450.6,698.0 451.0,697.9 451.4,697.7 451.7,697.6 452.1,697.5 452.5,697.3 452.8,697.2 453.2,697.0 453.6,696.8 453.9,696.7 454.3,696.5 454.7,696.4 455.0,696.2 455.4,696.1 455.8,695.9 456.1,695.7 456.5,695.6 456.9,695.4 457.2,695.2 457.6,695.0 458.0,694.9 458.3,694.7 458.7,694.5 459.1,694.3 459.4,694.1 459.8,693.9 460.2,693.7 460.5,693.5 460.9,693.3 461.3,693.1 461.6,692.9 462.0,692.7 462.4,692.4 462.8,692.2 463.1,692.0 463.5,691.7 463.9,691.5 464.2,691.2 464.6,691.0 465.0,690.7 465.3,690.4 465.7,690.1 466.1,689.8 466.4,689.5 466.8,689.2 467.2,688.9 467.5,688.5 467.9,688.1 468.3,687.8 468.6,687.4 469.0,687.0 469.4,686.5 469.7,686.1 470.1,685.6 470.5,685.0 470.8,684.5 471.2,683.9 471.6,683.2 471.9,682.5 472.3,681.8 472.7,680.9 473.0,680.0 473.4,679.0 473.8,677.9 474.1,676.7 474.5,675.3 474.9,673.8 475.3,672.1 475.6,670.2 476.0,668.1 476.4,665.7 476.7,663.0 477.1,659.9 477.5,656.4 477.8,652.4 478.2,647.7 478.6,642.3 478.9,636.0 479.3,628.8 479.7,620.4 480.0,610.8 480.4,599.9 480.8,588.1 481.1,575.7 481.5,563.7 481.9,553.5 482.2,546.6 482.6,544.2 483.0,545.2 483.3,548.6 483.7,553.8 484.1,560.5 484.4,568.1 484.8,576.1 485.2,584.1 485.5,591.9 485.9,599.2 486.3,606.0 486.7,612.3 487.0,617.9 487.4,623.0 487.8,627.5 488.1,631.6 488.5,635.3 488.9,638.6 489.2,641.6 489.6,644.2 490.0,646.7 490.3,648.9 490.7,650.9 491.1,652.8 491.4,654.4 491.8,655.9 492.2,657.3 492.5,658.5 492.9,659.6 493.3,660.7 493.6,661.6 494.0,662.5 494.4,663.3 494.7,664.1 495.1,664.8 495.5,665.5 495.8,666.1 496.2,666.6 496.6,667.2 496.9,667.6 497.3,668.1 497.7,668.5 498.0,669.0 498.4,669.3 498.8,669.7 499.2,670.0 499.5,670.4 499.9,670.7 500.3,671.0 500.6,671.2 501.0,671.5 501.4,671.8 501.7,672.0 502.1,672.2 502.5,672.4 502.8,672.6 503.2,672.8 503.6,673.0 503.9,673.2 504.3,673.4 504.7,673.6 505.0,673.8 505.4,674.0 505.8,674.1 506.1,674.3 506.5,674.5 506.9,674.6 507.2,674.8 507.6,675.0 508.0,675.1 508.3,675.3 508.7,675.4 509.1,675.5 509.4,675.6 509.8,675.7 510.2,675.9 510.5,675.9 510.9,676.0 511.3,676.1 511.7,676.2 512.0,676.2 512.4,676.3 512.8,676.3 513.1,676.3 513.5,676.3 513.9,676.3 514.2,676.3 514.6,676.3 515.0,676.2 515.3,676.2 515.7,676.2 516.1,676.1 516.4,676.1 516.8,676.0 517.2,676.0 517.5,675.9 517.9,675.9 518.3,675.8 518.6,675.8 519.0,675.7 519.4,675.7 519.7,675.6 520.1,675.6 520.5,675.5 520.8,675.5 521.2,675.5 521.6,675.4 521.9,675.4 522.3,675.3 522.7,675.3 523.0,675.3 523.4,675.2 523.8,675.2 524.2,675.1 524.5,675.1 524.9,675.0 525.3,675.0 525.6,674.9 526.0,674.9 526.4,674.9 526.7,674.8 527.1,674.8 527.5,674.7 527.8,674.7 528.2,674.6 528.6,674.6 528.9,674.5 529.3,674.5 529.7,674.4 530.0,674.3 530.4,674.3 530.8,674.2 531.1,674.2 531.5,674.1 531.9,674.1 532.2,674.0 532.6,673.9 533.0,673.9 533.3,673.8 533.7,673.7 534.1,673.7 534.4,673.6 534.8,673.5 535.2,673.5 535.5,673.4 535.9,673.3 536.3,673.2 536.7,673.1 537.0,673.1 537.4,673.0 537.8,672.9 538.1,672.8 538.5,672.7 538.9,672.6 539.2,672.5 539.6,672.4 540.0,672.3 540.3,672.2 540.7,672.1 541.1,672.0 541.4,671.9 541.8,671.8 542.2,671.7 542.5,671.6 542.9,671.5 543.3,671.3 543.6,671.2 544.0,671.1 544.4,671.0 544.7,670.8 545.1,670.7 545.5,670.6 545.8,670.5 546.2,670.3 546.6,670.2 546.9,670.1 547.3,670.0 547.7,669.8 548.1,669.7 548.4,669.6 548.8,669.4 549.2,669.3 549.5,669.1 549.9,669.0 550.3,668.9 550.6,668.7 551.0,668.6 551.4,668.4 551.7,668.3 552.1,668.2 552.5,668.0 552.8,667.9 553.2,667.7 553.6,667.6 553.9,667.5 554.3,667.3 554.7,667.2 555.0,667.0 555.4,666.9 555.8,666.8 556.1,666.6 556.5,666.5 556.9,666.3 557.2,666.2 557.6,666.1 558.0,665.9 558.3,665.8 558.7,665.6 559.1,665.5 559.4,665.4 559.8,665.2 560.2,665.1 560.6,665.0 560.9,664.8 561.3,664.7 561.7,664.6 562.0,664.4 562.4,664.3 562.8,664.2 563.1,664.0 563.5,663.9 563.9,663.7 564.2,663.6 564.6,663.5 565.0,663.3 565.3,663.2 565.7,663.0 566.1,662.9 566.4,662.7 566.8,662.6 567.2,662.5 567.5,662.3 567.9,662.2 568.3,662.0 568.6,661.9 569.0,661.7 569.4,661.5 569.7,661.4 570.1,661.2 570.5,661.1 570.8,660.9 571.2,660.8 571.6,660.6 571.9,660.4 572.3,660.3 572.7,660.1 573.1,659.9 573.4,659.7 573.8,659.6 574.2,659.4 574.5,659.2 574.9,659.0 575.3,658.8 575.6,658.6 576.0,658.3 576.4,658.1 576.7,657.8 577.1,657.6 577.5,657.3 577.8,656.9 578.2,656.6 578.6,656.2 578.9,655.7 579.3,655.3 579.7,654.7 580.0,654.1 580.4,653.4 580.8,652.6 581.1,651.8 581.5,650.9 581.9,649.9 582.2,649.0 582.6,648.2 583.0,647.5 583.3,647.1 583.7,647.0 584.1,647.5 584.4,648.5 584.8,649.7 585.2,650.9 585.6,652.0 585.9,652.8 586.3,653.5 586.7,654.1 587.0,654.5 587.4,654.8 587.8,655.1 588.1,655.2 588.5,655.3 588.9,655.4 589.2,655.5 589.6,655.5 590.0,655.5 590.3,655.5 590.7,655.4 591.1,655.4 591.4,655.3 591.8,655.2 592.2,655.1 592.5,655.0 592.9,654.9 593.3,654.8 593.6,654.7 594.0,654.5 594.4,654.4 594.7,654.2 595.1,654.1 595.5,653.9 595.8,653.8 596.2,653.6 596.6,653.4 597.0,653.3 597.3,653.1 597.7,652.9 598.1,652.7 598.4,652.5 598.8,652.3 599.2,652.1 599.5,651.9 599.9,651.6 600.3,651.4 600.6,651.1 601.0,650.8 601.4,650.5 601.7,650.2 602.1,649.9 602.5,649.6 602.8,649.2 603.2,648.9 603.6,648.6 603.9,648.3 604.3,648.0 604.7,647.8 605.0,647.5 605.4,647.2 605.8,646.9 606.1,646.7 606.5,646.4 606.9,646.1 607.2,645.9 607.6,645.6 608.0,645.3 608.3,645.1 608.7,644.8 609.1,644.5 609.5,644.3 609.8,644.0 610.2,643.7 610.6,643.5 610.9,643.2 611.3,642.9 611.7,642.7 612.0,642.4 612.4,642.2 612.8,641.9 613.1,641.7 613.5,641.4 613.9,641.1 614.2,640.9 614.6,640.6 615.0,640.4 615.3,640.1 615.7,639.9 616.1,639.6 616.4,639.3 616.8,639.1 617.2,638.8 617.5,638.6 617.9,638.3 618.3,638.1 618.6,637.8 619.0,637.6 619.4,637.3 619.7,637.1 620.1,636.8 620.5,636.5 620.8,636.3 621.2,636.0 621.6,635.8 622.0,635.5 622.3,635.3 622.7,635.0 623.1,634.8 623.4,634.5 623.8,634.2 624.2,634.0 624.5,633.7 624.9,633.5 625.3,633.2 625.6,633.0 626.0,632.7 626.4,632.4 626.7,632.2 627.1,631.9 627.5,631.7 627.8,631.4 628.2,631.2 628.6,630.9 628.9,630.7 629.3,630.4 629.7,630.1 630.0,629.9 630.4,629.6 630.8,629.4 631.1,629.1 631.5,628.9 631.9,628.6 632.2,628.4 632.6,628.1 633.0,627.9 633.3,627.6 633.7,627.4 634.1,627.1 634.5,626.8 634.8,626.6 635.2,626.3 635.6,626.1 635.9,625.8 636.3,625.6 636.7,625.3 637.0,625.1 637.4,624.8 637.8,624.6 638.1,624.3 638.5,624.1 638.9,623.8 639.2,623.6 639.6,623.3" fill="none" stroke="#1f78b8" stroke-width="1.8" stroke-linejoin="round" stroke-linecap="round" />
<path d="M382.6,718.0 383.0,718.0 383.3,718.0 383.7,718.0 384.1,718.0 384.4,718.0 384.8,718.0 385.2,718.0 385.5,718.0 385.9,718.0 386.3,718.0 386.6,718.0 387.0,718.0 387.4,717.9 387.7,717.9 388.1,717.9 388.5,717.9 388.9,717.9 389.2,717.9 389.6,717.9 390.0,717.9 390.3,717.9 390.7,717.9 391.1,717.8 391.4,717.8 391.8,717.8 392.2,717.8 392.5,717.8 392.9,717.8 393.3,717.8 393.6,717.8 394.0,717.8 394.4,717.8 394.7,717.7 395.1,717.7 395.5,717.7 395.8,717.7 396.2,717.7 396.6,717.7 396.9,717.7 397.3,717.7 397.7,717.7 398.0,717.7 398.4,717.6 398.8,717.6 399.1,717.6 399.5,717.6 399.9,717.6 400.2,717.6 400.6,717.5 401.0,717.5 401.4,717.5 401.7,717.4 402.1,717.3 402.5,717.3 402.8,717.2 403.2,717.1 403.6,717.0 403.9,716.8 404.3,716.7 404.7,716.6 405.0,716.4 405.4,716.3 405.8,716.1 406.1,716.0 406.5,715.8 406.9,715.6 407.2,715.5 407.6,715.3 408.0,715.1 408.3,714.9 408.7,714.8 409.1,714.6 409.4,714.4 409.8,714.2 410.2,714.1 410.5,713.9 410.9,713.7 411.3,713.6 411.6,713.4 412.0,713.3 412.4,713.1 412.7,712.9 413.1,712.7 413.5,712.5 413.9,712.3 414.2,712.1 414.6,711.9 415.0,711.7 415.3,711.5 415.7,711.3 416.1,711.1 416.4,711.0 416.8,710.8 417.2,710.6 417.5,710.4 417.9,710.2 418.3,710.0 418.6,709.9 419.0,709.7 419.4,709.5 419.7,709.4 420.1,709.3 420.5,709.1 420.8,709.0 421.2,708.9 421.6,708.8 421.9,708.7 422.3,708.6 422.7,708.5 423.0,708.4 423.4,708.3 423.8,708.2 424.1,708.1 424.5,708.0 424.9,707.9 425.2,707.8 425.6,707.7 426.0,707.7 426.4,707.6 426.7,707.5 427.1,707.4 427.5,707.3 427.8,707.2 428.2,707.1 428.6,707.0 428.9,706.9 429.3,706.8 429.7,706.7 430.0,706.6 430.4,706.5 430.8,706.4 431.1,706.3 431.5,706.2 431.9,706.0 432.2,705.9 432.6,705.8 433.0,705.7 433.3,705.5 433.7,705.4 434.1,705.3 434.4,705.1 434.8,705.0 435.2,704.9 435.5,704.7 435.9,704.6 436.3,704.5 436.6,704.3 437.0,704.2 437.4,704.1 437.8,703.9 438.1,703.8 438.5,703.7 438.9,703.5 439.2,703.4 439.6,703.3 440.0,703.1 440.3,703.0 440.7,702.9 441.1,702.7 441.4,702.6 441.8,702.5 442.2,702.3 442.5,702.2 442.9,702.0 443.3,701.8 443.6,701.6 444.0,701.4 444.4,701.2 444.7,700.9 445.1,700.6 445.5,700.1 445.8,699.6 446.2,699.0 446.6,698.2 446.9,697.2 447.3,696.0 447.7,694.5 448.0,692.9 448.4,691.0 448.8,688.9 449.1,686.6 449.5,684.2 449.9,681.6 450.3,679.0 450.6,676.3 451.0,673.5 451.4,670.5 451.7,667.5 452.1,664.3 452.5,660.8 452.8,657.2 453.2,653.3 453.6,649.2 453.9,644.8 454.3,640.1 454.7,635.1 455.0,630.0 455.4,624.7 455.8,619.4 456.1,614.2 456.5,609.4 456.9,605.1 457.2,601.5 457.6,599.0 458.0,597.6 458.3,597.4 458.7,598.1 459.1,599.5 459.4,601.7 459.8,604.5 460.2,607.8 460.5,611.5 460.9,615.4 461.3,619.4 461.6,623.4 462.0,627.4 462.4,631.3 462.8,635.1 463.1,638.7 463.5,642.1 463.9,645.2 464.2,648.2 464.6,651.0 465.0,653.5 465.3,655.9 465.7,658.1 466.1,660.1 466.4,662.0 466.8,663.7 467.2,665.3 467.5,666.7 467.9,668.0 468.3,669.3 468.6,670.4 469.0,671.4 469.4,672.4 469.7,673.3 470.1,674.1 470.5,674.8 470.8,675.5 471.2,676.1 471.6,676.7 471.9,677.3 472.3,677.8 472.7,678.2 473.0,678.6 473.4,679.0 473.8,679.4 474.1,679.7 474.5,680.0 474.9,680.3 475.3,680.5 475.6,680.8 476.0,681.0 476.4,681.2 476.7,681.4 477.1,681.6 477.5,681.7 477.8,681.9 478.2,682.0 478.6,682.1 478.9,682.2 479.3,682.3 479.7,682.4 480.0,682.5 480.4,682.6 480.8,682.7 481.1,682.8 481.5,682.8 481.9,682.9 482.2,682.9 482.6,683.0 483.0,683.0 483.3,683.1 483.7,683.1 484.1,683.2 484.4,683.2 484.8,683.2 485.2,683.2 485.5,683.2 485.9,683.3 486.3,683.3 486.7,683.3 487.0,683.3 487.4,683.3 487.8,683.3 488.1,683.3 488.5,683.3 488.9,683.3 489.2,683.3 489.6,683.3 490.0,683.2 490.3,683.2 490.7,683.2 491.1,683.2 491.4,683.2 491.8,683.1 492.2,683.1 492.5,683.1 492.9,683.0 493.3,683.0 493.6,683.0 494.0,682.9 494.4,682.9 494.7,682.8 495.1,682.8 495.5,682.7 495.8,682.7 496.2,682.6 496.6,682.6 496.9,682.5 497.3,682.4 497.7,682.4 498.0,682.3 498.4,682.2 498.8,682.2 499.2,682.1 499.5,682.0 499.9,681.9 500.3,681.9 500.6,681.8 501.0,681.7 501.4,681.6 501.7,681.5 502.1,681.4 502.5,681.4 502.8,681.3 503.2,681.2 503.6,681.1 503.9,681.0 504.3,680.9 504.7,680.8 505.0,680.7 505.4,680.7 505.8,680.6 506.1,680.5 506.5,680.4 506.9,680.3 507.2,680.2 507.6,680.1 508.0,680.1 508.3,680.0 508.7,679.9 509.1,679.8 509.4,679.7 509.8,679.6 510.2,679.6 510.5,679.5 510.9,679.4 511.3,679.3 511.7,679.3 512.0,679.2 512.4,679.1 512.8,679.1 513.1,679.0 513.5,678.9 513.9,678.9 514.2,678.8 514.6,678.7 515.0,678.7 515.3,678.6 515.7,678.6 516.1,678.5 516.4,678.4 516.8,678.4 517.2,678.3 517.5,678.3 517.9,678.2 518.3,678.2 518.6,678.1 519.0,678.1 519.4,678.0 519.7,677.9 520.1,677.9 520.5,677.8 520.8,677.8 521.2,677.7 521.6,677.7 521.9,677.6 522.3,677.6 522.7,677.5 523.0,677.5 523.4,677.4 523.8,677.4 524.2,677.3 524.5,677.2 524.9,677.2 525.3,677.1 525.6,677.1 526.0,677.0 526.4,677.0 526.7,676.9 527.1,676.9 527.5,676.8 527.8,676.7 528.2,676.7 528.6,676.6 528.9,676.6 529.3,676.5 529.7,676.4 530.0,676.4 530.4,676.3 530.8,676.3 531.1,676.2 531.5,676.1 531.9,676.1 532.2,676.0 532.6,675.9 533.0,675.8 533.3,675.8 533.7,675.7 534.1,675.6 534.4,675.5 534.8,675.5 535.2,675.4 535.5,675.3 535.9,675.2 536.3,675.1 536.7,675.1 537.0,675.0 537.4,674.9 537.8,674.8 538.1,674.7 538.5,674.6 538.9,674.5 539.2,674.4 539.6,674.3 540.0,674.2 540.3,674.0 540.7,673.9 541.1,673.8 541.4,673.7 541.8,673.6 542.2,673.4 542.5,673.3 542.9,673.2 543.3,673.1 543.6,672.9 544.0,672.8 544.4,672.7 544.7,672.5 545.1,672.4 545.5,672.2 545.8,672.1 546.2,671.9 546.6,671.8 546.9,671.7 547.3,671.5 547.7,671.3 548.1,671.2 548.4,671.0 548.8,670.8 549.2,670.7 549.5,670.5 549.9,670.3 550.3,670.1 550.6,669.9 551.0,669.6 551.4,669.4 551.7,669.1 552.1,668.7 552.5,668.4 552.8,668.0 553.2,667.5 553.6,667.0 553.9,666.4 554.3,665.8 554.7,665.2 555.0,664.6 555.4,664.2 555.8,663.9 556.1,663.9 556.5,664.0 556.9,664.2 557.2,664.5 557.6,664.8 558.0,665.1 558.3,665.4 558.7,665.7 559.1,665.9 559.4,666.1 559.8,666.2 560.2,666.3 560.6,666.4 560.9,666.5 561.3,666.5 561.7,666.5 562.0,666.5 562.4,666.5 562.8,666.5 563.1,666.4 563.5,666.4 563.9,666.3 564.2,666.3 564.6,666.2 565.0,666.1 565.3,666.1 565.7,666.0 566.1,665.9 566.4,665.8 566.8,665.8 567.2,665.7 567.5,665.6 567.9,665.5 568.3,665.4 568.6,665.3 569.0,665.2 569.4,665.1 569.7,665.0 570.1,664.9 570.5,664.9 570.8,664.8 571.2,664.7 571.6,664.6 571.9,664.5 572.3,664.4 572.7,664.3 573.1,664.2 573.4,664.0 573.8,663.9 574.2,663.8 574.5,663.7 574.9,663.6 575.3,663.5 575.6,663.4 576.0,663.3 576.4,663.2 576.7,663.1 577.1,663.0 577.5,662.8 577.8,662.7 578.2,662.6 578.6,662.5 578.9,662.4 579.3,662.3 579.7,662.1 580.0,662.0 580.4,661.9 580.8,661.8 581.1,661.6 581.5,661.5 581.9,661.4 582.2,661.2 582.6,661.1 583.0,661.0 583.3,660.8 583.7,660.7 584.1,660.5 584.4,660.4 584.8,660.3 585.2,660.1 585.6,660.0 585.9,659.8 586.3,659.7 586.7,659.5 587.0,659.3 587.4,659.2 587.8,659.0 588.1,658.9 588.5,658.7 588.9,658.5 589.2,658.3 589.6,658.2 590.0,658.0 590.3,657.8 590.7,657.6 591.1,657.4 591.4,657.1 591.8,656.9 592.2,656.7 592.5,656.5 592.9,656.3 593.3,656.0 593.6,655.8 594.0,655.6 594.4,655.3 594.7,655.1 595.1,654.8 595.5,654.6 595.8,654.3 596.2,654.1 596.6,653.8 597.0,653.6 597.3,653.3 597.7,653.0 598.1,652.8 598.4,652.5 598.8,652.2 599.2,652.0 599.5,651.7 599.9,651.5 600.3,651.2 600.6,650.9 601.0,650.7 601.4,650.4 601.7,650.1 602.1,649.9 602.5,649.6 602.8,649.4 603.2,649.1 603.6,648.8 603.9,648.6 604.3,648.3 604.7,648.1 605.0,647.8 605.4,647.6 605.8,647.3 606.1,647.1 606.5,646.8 606.9,646.6 607.2,646.3 607.6,646.1 608.0,645.8 608.3,645.6 608.7,645.3 609.1,645.1 609.5,644.8 609.8,644.5 610.2,644.3 610.6,644.0 610.9,643.8 611.3,643.5 611.7,643.3 612.0,643.0 612.4,642.7 612.8,642.5 613.1,642.2 613.5,642.0 613.9,641.7 614.2,641.4 614.6,641.2 615.0,640.9 615.3,640.7 615.7,640.4 616.1,640.2 616.4,639.9 616.8,639.6 617.2,639.4 617.5,639.1 617.9,638.9 618.3,638.6 618.6,638.3 619.0,638.1 619.4,637.8 619.7,637.6 620.1,637.3 620.5,637.0 620.8,636.8 621.2,636.5 621.6,636.3 622.0,636.0 622.3,635.8 622.7,635.5 623.1,635.3 623.4,635.0 623.8,634.8 624.2,634.5 624.5,634.3 624.9,634.0 625.3,633.7 625.6,633.5 626.0,633.2 626.4,633.0 626.7,632.7 627.1,632.5 627.5,632.2 627.8,632.0 628.2,631.7 628.6,631.5 628.9,631.2 629.3,631.0 629.7,630.7 630.0,630.5 630.4,630.2 630.8,630.0 631.1,629.7 631.5,629.5 631.9,629.2 632.2,629.0 632.6,628.8 633.0,628.5 633.3,628.3 633.7,628.0 634.1,627.8 634.5,627.5 634.8,627.3 635.2,627.0 635.6,626.8 635.9,626.5 636.3,626.3 636.7,626.0 637.0,625.8 637.4,625.5 637.8,625.3 638.1,625.1 638.5,624.8 638.9,624.6 639.2,624.3 639.6,624.1" fill="none" stroke="#f0862a" stroke-width="1.8" stroke-linejoin="round" stroke-linecap="round" />
<path d="M382.6,718.0 383.0,718.0 383.3,718.0 383.7,718.0 384.1,718.0 384.4,718.0 384.8,718.0 385.2,718.0 385.5,718.0 385.9,718.0 386.3,718.0 386.6,718.0 387.0,718.0 387.4,717.9 387.7,717.9 388.1,717.9 388.5,717.9 388.9,717.9 389.2,717.9 389.6,717.9 390.0,717.9 390.3,717.9 390.7,717.9 391.1,717.8 391.4,717.8 391.8,717.8 392.2,717.8 392.5,717.8 392.9,717.8 393.3,717.8 393.6,717.8 394.0,717.8 394.4,717.8 394.7,717.8 395.1,717.7 395.5,717.7 395.8,717.7 396.2,717.7 396.6,717.7 396.9,717.7 397.3,717.7 397.7,717.7 398.0,717.7 398.4,717.6 398.8,717.6 399.1,717.6 399.5,717.6 399.9,717.6 400.2,717.6 400.6,717.5 401.0,717.5 401.4,717.5 401.7,717.4 402.1,717.3 402.5,717.3 402.8,717.2 403.2,717.1 403.6,717.0 403.9,716.8 404.3,716.7 404.7,716.6 405.0,716.4 405.4,716.3 405.8,716.1 406.1,716.0 406.5,715.8 406.9,715.6 407.2,715.5 407.6,715.3 408.0,715.1 408.3,714.9 408.7,714.8 409.1,714.6 409.4,714.4 409.8,714.2 410.2,714.1 410.5,713.9 410.9,713.7 411.3,713.6 411.6,713.4 412.0,713.2 412.4,713.1 412.7,712.9 413.1,712.7 413.5,712.5 413.9,712.3 414.2,712.1 414.6,711.9 415.0,711.7 415.3,711.5 415.7,711.3 416.1,711.0 416.4,710.8 416.8,710.6 417.2,710.4 417.5,710.2 417.9,710.0 418.3,709.7 418.6,709.5 419.0,709.3 419.4,709.0 419.7,708.7 420.1,708.4 420.5,708.1 420.8,707.6 421.2,707.2 421.6,706.6 421.9,706.0 422.3,705.3 422.7,704.5 423.0,703.7 423.4,702.7 423.8,701.7 424.1,700.6 424.5,699.4 424.9,698.2 425.2,696.8 425.6,695.4 426.0,694.0 426.4,692.4 426.7,690.8 427.1,689.0 427.5,687.1 427.8,685.2 428.2,683.1 428.6,680.9 428.9,678.6 429.3,676.3 429.7,674.0 430.0,671.8 430.4,669.8 430.8,668.0 431.1,666.6 431.5,665.6 431.9,665.1 432.2,665.0 432.6,665.2 433.0,665.6 433.3,666.1 433.7,666.9 434.1,667.8 434.4,668.8 434.8,669.9 435.2,671.1 435.5,672.3 435.9,673.6 436.3,674.9 436.6,676.2 437.0,677.4 437.4,678.6 437.8,679.8 438.1,680.9 438.5,682.0 438.9,683.0 439.2,684.0 439.6,684.9 440.0,685.8 440.3,686.6 440.7,687.4 441.1,688.1 441.4,688.7 441.8,689.3 442.2,689.9 442.5,690.4 442.9,690.9 443.3,691.4 443.6,691.8 444.0,692.2 444.4,692.5 444.7,692.9 445.1,693.2 445.5,693.5 445.8,693.7 446.2,694.0 446.6,694.2 446.9,694.4 447.3,694.6 447.7,694.8 448.0,694.9 448.4,695.1 448.8,695.2 449.1,695.4 449.5,695.5 449.9,695.6 450.3,695.7 450.6,695.7 451.0,695.8 451.4,695.9 451.7,695.9 452.1,696.0 452.5,696.0 452.8,696.1 453.2,696.1 453.6,696.1 453.9,696.1 454.3,696.1 454.7,696.1 455.0,696.1 455.4,696.1 455.8,696.1 456.1,696.1 456.5,696.1 456.9,696.1 457.2,696.0 457.6,696.0 458.0,696.0 458.3,695.9 458.7,695.9 459.1,695.9 459.4,695.8 459.8,695.8 460.2,695.7 460.5,695.6 460.9,695.6 461.3,695.5 461.6,695.5 462.0,695.4 462.4,695.3 462.8,695.3 463.1,695.2 463.5,695.1 463.9,695.1 464.2,695.0 464.6,694.9 465.0,694.8 465.3,694.8 465.7,694.7 466.1,694.6 466.4,694.5 466.8,694.5 467.2,694.4 467.5,694.3 467.9,694.2 468.3,694.1 468.6,694.0 469.0,693.9 469.4,693.9 469.7,693.8 470.1,693.7 470.5,693.6 470.8,693.5 471.2,693.4 471.6,693.3 471.9,693.2 472.3,693.1 472.7,693.0 473.0,692.9 473.4,692.8 473.8,692.8 474.1,692.7 474.5,692.6 474.9,692.5 475.3,692.4 475.6,692.3 476.0,692.2 476.4,692.1 476.7,692.0 477.1,691.9 477.5,691.8 477.8,691.7 478.2,691.6 478.6,691.5 478.9,691.4 479.3,691.3 479.7,691.2 480.0,691.1 480.4,691.0 480.8,690.8 481.1,690.7 481.5,690.6 481.9,690.5 482.2,690.4 482.6,690.3 483.0,690.2 483.3,690.1 483.7,690.0 484.1,689.9 484.4,689.8 484.8,689.7 485.2,689.6 485.5,689.5 485.9,689.4 486.3,689.3 486.7,689.2 487.0,689.1 487.4,688.9 487.8,688.8 488.1,688.7 488.5,688.6 488.9,688.5 489.2,688.4 489.6,688.3 490.0,688.2 490.3,688.1 490.7,688.0 491.1,687.9 491.4,687.8 491.8,687.6 492.2,687.5 492.5,687.4 492.9,687.3 493.3,687.2 493.6,687.1 494.0,687.0 494.4,686.9 494.7,686.8 495.1,686.7 495.5,686.5 495.8,686.4 496.2,686.3 496.6,686.2 496.9,686.1 497.3,686.0 497.7,685.9 498.0,685.8 498.4,685.7 498.8,685.5 499.2,685.4 499.5,685.3 499.9,685.2 500.3,685.1 500.6,685.0 501.0,684.9 501.4,684.8 501.7,684.7 502.1,684.5 502.5,684.4 502.8,684.3 503.2,684.2 503.6,684.1 503.9,684.0 504.3,683.9 504.7,683.7 505.0,683.6 505.4,683.5 505.8,683.4 506.1,683.3 506.5,683.2 506.9,683.1 507.2,682.9 507.6,682.8 508.0,682.7 508.3,682.6 508.7,682.5 509.1,682.4 509.4,682.3 509.8,682.1 510.2,682.0 510.5,681.9 510.9,681.8 511.3,681.7 511.7,681.6 512.0,681.4 512.4,681.3 512.8,681.2 513.1,681.1 513.5,681.0 513.9,680.9 514.2,680.7 514.6,680.6 515.0,680.5 515.3,680.4 515.7,680.3 516.1,680.2 516.4,680.1 516.8,679.9 517.2,679.8 517.5,679.7 517.9,679.6 518.3,679.5 518.6,679.3 519.0,679.2 519.4,679.1 519.7,679.0 520.1,678.8 520.5,678.7 520.8,678.6 521.2,678.4 521.6,678.3 521.9,678.1 522.3,677.9 522.7,677.7 523.0,677.5 523.4,677.3 523.8,677.1 524.2,677.0 524.5,676.8 524.9,676.7 525.3,676.7 525.6,676.6 526.0,676.6 526.4,676.7 526.7,676.7 527.1,676.7 527.5,676.7 527.8,676.7 528.2,676.8 528.6,676.8 528.9,676.8 529.3,676.8 529.7,676.8 530.0,676.9 530.4,676.9 530.8,676.9 531.1,676.9 531.5,676.9 531.9,676.9 532.2,676.9 532.6,676.9 533.0,676.8 533.3,676.8 533.7,676.7 534.1,676.6 534.4,676.5 534.8,676.4 535.2,676.3 535.5,676.2 535.9,676.2 536.3,676.1 536.7,676.0 537.0,675.9 537.4,675.8 537.8,675.7 538.1,675.6 538.5,675.5 538.9,675.4 539.2,675.3 539.6,675.3 540.0,675.2 540.3,675.1 540.7,675.0 541.1,674.9 541.4,674.7 541.8,674.6 542.2,674.5 542.5,674.4 542.9,674.3 543.3,674.2 543.6,674.1 544.0,674.0 544.4,673.9 544.7,673.8 545.1,673.6 545.5,673.5 545.8,673.4 546.2,673.3 546.6,673.2 546.9,673.0 547.3,672.9 547.7,672.8 548.1,672.7 548.4,672.6 548.8,672.4 549.2,672.3 549.5,672.2 549.9,672.1 550.3,671.9 550.6,671.8 551.0,671.7 551.4,671.6 551.7,671.4 552.1,671.3 552.5,671.2 552.8,671.0 553.2,670.9 553.6,670.8 553.9,670.7 554.3,670.5 554.7,670.4 555.0,670.3 555.4,670.1 555.8,670.0 556.1,669.9 556.5,669.8 556.9,669.6 557.2,669.5 557.6,669.4 558.0,669.2 558.3,669.1 558.7,669.0 559.1,668.9 559.4,668.7 559.8,668.6 560.2,668.5 560.6,668.4 560.9,668.2 561.3,668.1 561.7,668.0 562.0,667.9 562.4,667.8 562.8,667.6 563.1,667.5 563.5,667.4 563.9,667.3 564.2,667.2 564.6,667.1 565.0,666.9 565.3,666.8 565.7,666.7 566.1,666.6 566.4,666.5 566.8,666.4 567.2,666.3 567.5,666.2 567.9,666.0 568.3,665.9 568.6,665.8 569.0,665.7 569.4,665.6 569.7,665.5 570.1,665.4 570.5,665.3 570.8,665.2 571.2,665.0 571.6,664.9 571.9,664.8 572.3,664.7 572.7,664.6 573.1,664.5 573.4,664.4 573.8,664.3 574.2,664.2 574.5,664.0 574.9,663.9 575.3,663.8 575.6,663.7 576.0,663.6 576.4,663.5 576.7,663.3 577.1,663.2 577.5,663.1 577.8,663.0 578.2,662.9 578.6,662.7 578.9,662.6 579.3,662.5 579.7,662.4 580.0,662.2 580.4,662.1 580.8,662.0 581.1,661.8 581.5,661.7 581.9,661.6 582.2,661.4 582.6,661.3 583.0,661.2 583.3,661.0 583.7,660.9 584.1,660.7 584.4,660.6 584.8,660.4 585.2,660.3 585.6,660.1 585.9,660.0 586.3,659.8 586.7,659.7 587.0,659.5 587.4,659.3 587.8,659.2 588.1,659.0 588.5,658.8 588.9,658.7 589.2,658.5 589.6,658.3 590.0,658.1 590.3,657.9 590.7,657.7 591.1,657.5 591.4,657.3 591.8,657.1 592.2,656.8 592.5,656.6 592.9,656.4 593.3,656.1 593.6,655.9 594.0,655.7 594.4,655.4 594.7,655.2 595.1,654.9 595.5,654.7 595.8,654.4 596.2,654.2 596.6,653.9 597.0,653.7 597.3,653.4 597.7,653.1 598.1,652.9 598.4,652.6 598.8,652.4 599.2,652.1 599.5,651.8 599.9,651.6 600.3,651.3 600.6,651.0 601.0,650.8 601.4,650.5 601.7,650.2 602.1,650.0 602.5,649.7 602.8,649.5 603.2,649.2 603.6,648.9 603.9,648.7 604.3,648.4 604.7,648.2 605.0,647.9 605.4,647.7 605.8,647.4 606.1,647.2 606.5,646.9 606.9,646.7 607.2,646.4 607.6,646.2 608.0,645.9 608.3,645.7 608.7,645.4 609.1,645.2 609.5,644.9 609.8,644.6 610.2,644.4 610.6,644.1 610.9,643.9 611.3,643.6 611.7,643.3 612.0,643.1 612.4,642.8 612.8,642.6 613.1,642.3 613.5,642.0 613.9,641.8 614.2,641.5 614.6,641.3 615.0,641.0 615.3,640.7 615.7,640.5 616.1,640.2 616.4,640.0 616.8,639.7 617.2,639.4 617.5,639.2 617.9,638.9 618.3,638.7 618.6,638.4 619.0,638.2 619.4,637.9 619.7,637.6 620.1,637.4 620.5,637.1 620.8,636.9 621.2,636.6 621.6,636.3 622.0,636.1 622.3,635.8 622.7,635.6 623.1,635.3 623.4,635.1 623.8,634.8 624.2,634.6 624.5,634.3 624.9,634.1 625.3,633.8 625.6,633.6 626.0,633.3 626.4,633.1 626.7,632.8 627.1,632.6 627.5,632.3 627.8,632.1 628.2,631.8 628.6,631.6 628.9,631.3 629.3,631.1 629.7,630.8 630.0,630.6 630.4,630.3 630.8,630.1 631.1,629.8 631.5,629.6 631.9,629.3 632.2,629.1 632.6,628.8 633.0,628.6 633.3,628.3 633.7,628.1 634.1,627.8 634.5,627.6 634.8,627.3 635.2,627.1 635.6,626.8 635.9,626.6 636.3,626.3 636.7,626.1 637.0,625.8 637.4,625.6 637.8,625.4 638.1,625.1 638.5,624.9 638.9,624.6 639.2,624.4 639.6,624.1" fill="none" stroke="#1a9a48" stroke-width="1.8" stroke-linejoin="round" stroke-linecap="round" />
<path d="M382.6,718.0 383.0,718.0 383.3,718.0 383.7,718.0 384.1,718.0 384.4,718.0 384.8,718.0 385.2,718.0 385.5,718.0 385.9,718.0 386.3,718.0 386.6,718.0 387.0,717.9 387.4,717.9 387.7,717.9 388.1,717.9 388.5,717.9 388.9,717.9 389.2,717.8 389.6,717.8 390.0,717.8 390.3,717.8 390.7,717.8 391.1,717.8 391.4,717.7 391.8,717.7 392.2,717.7 392.5,717.7 392.9,717.7 393.3,717.6 393.6,717.6 394.0,717.6 394.4,717.5 394.7,717.5 395.1,717.5 395.5,717.4 395.8,717.4 396.2,717.4 396.6,717.3 396.9,717.3 397.3,717.2 397.7,717.2 398.0,717.1 398.4,717.1 398.8,717.0 399.1,716.9 399.5,716.7 399.9,716.6 400.2,716.3 400.6,716.1 401.0,715.9 401.4,715.6 401.7,715.3 402.1,715.0 402.5,714.8 402.8,714.5 403.2,714.2 403.6,713.9 403.9,713.7 404.3,713.5 404.7,713.2 405.0,713.0 405.4,712.8 405.8,712.5 406.1,712.2 406.5,712.0 406.9,711.8 407.2,711.5 407.6,711.3 408.0,711.1 408.3,710.9 408.7,710.7 409.1,710.5 409.4,710.4 409.8,710.3 410.2,710.2 410.5,710.1 410.9,710.0 411.3,710.0 411.6,709.9 412.0,709.8 412.4,709.8 412.7,709.7 413.1,709.7 413.5,709.6 413.9,709.6 414.2,709.5 414.6,709.5 415.0,709.4 415.3,709.4 415.7,709.3 416.1,709.3 416.4,709.2 416.8,709.2 417.2,709.2 417.5,709.1 417.9,709.1 418.3,709.0 418.6,709.0 419.0,709.0 419.4,708.9 419.7,708.9 420.1,708.9 420.5,708.8 420.8,708.8 421.2,708.7 421.6,708.7 421.9,708.6 422.3,708.6 422.7,708.5 423.0,708.4 423.4,708.4 423.8,708.3 424.1,708.3 424.5,708.2 424.9,708.1 425.2,708.1 425.6,708.0 426.0,707.9 426.4,707.9 426.7,707.8 427.1,707.7 427.5,707.6 427.8,707.6 428.2,707.5 428.6,707.4 428.9,707.3 429.3,707.2 429.7,707.1 430.0,707.1 430.4,707.0 430.8,706.9 431.1,706.8 431.5,706.7 431.9,706.5 432.2,706.4 432.6,706.3 433.0,706.2 433.3,706.0 433.7,705.9 434.1,705.8 434.4,705.6 434.8,705.5 435.2,705.4 435.5,705.2 435.9,705.1 436.3,704.9 436.6,704.8 437.0,704.7 437.4,704.5 437.8,704.4 438.1,704.3 438.5,704.1 438.9,704.0 439.2,703.9 439.6,703.8 440.0,703.6 440.3,703.5 440.7,703.4 441.1,703.3 441.4,703.2 441.8,703.1 442.2,703.0 442.5,702.9 442.9,702.8 443.3,702.7 443.6,702.6 444.0,702.5 444.4,702.4 444.7,702.3 445.1,702.2 445.5,702.1 445.8,702.0 446.2,701.9 446.6,701.8 446.9,701.7 447.3,701.6 447.7,701.5 448.0,701.4 448.4,701.3 448.8,701.3 449.1,701.2 449.5,701.1 449.9,701.0 450.3,700.9 450.6,700.8 451.0,700.7 451.4,700.6 451.7,700.5 452.1,700.4 452.5,700.3 452.8,700.2 453.2,700.1 453.6,700.0 453.9,699.9 454.3,699.8 454.7,699.7 455.0,699.6 455.4,699.5 455.8,699.4 456.1,699.3 456.5,699.2 456.9,699.1 457.2,699.0 457.6,698.9 458.0,698.8 458.3,698.7 458.7,698.6 459.1,698.5 459.4,698.4 459.8,698.3 460.2,698.2 460.5,698.1 460.9,697.9 461.3,697.8 461.6,697.7 462.0,697.6 462.4,697.5 462.8,697.4 463.1,697.3 463.5,697.1 463.9,697.0 464.2,696.9 464.6,696.8 465.0,696.7 465.3,696.5 465.7,696.4 466.1,696.3 466.4,696.2 466.8,696.1 467.2,696.0 467.5,695.8 467.9,695.7 468.3,695.6 468.6,695.5 469.0,695.3 469.4,695.2 469.7,695.1 470.1,695.0 470.5,694.9 470.8,694.7 471.2,694.6 471.6,694.5 471.9,694.4 472.3,694.2 472.7,694.1 473.0,694.0 473.4,693.9 473.8,693.8 474.1,693.6 474.5,693.5 474.9,693.4 475.3,693.3 475.6,693.1 476.0,693.0 476.4,692.9 476.7,692.8 477.1,692.7 477.5,692.5 477.8,692.4 478.2,692.3 478.6,692.2 478.9,692.0 479.3,691.9 479.7,691.8 480.0,691.7 480.4,691.5 480.8,691.4 481.1,691.3 481.5,691.2 481.9,691.0 482.2,690.9 482.6,690.8 483.0,690.7 483.3,690.5 483.7,690.4 484.1,690.3 484.4,690.2 484.8,690.0 485.2,689.9 485.5,689.8 485.9,689.7 486.3,689.5 486.7,689.4 487.0,689.3 487.4,689.2 487.8,689.1 488.1,689.0 488.5,688.8 488.9,688.7 489.2,688.6 489.6,688.5 490.0,688.4 490.3,688.3 490.7,688.1 491.1,688.0 491.4,687.9 491.8,687.8 492.2,687.7 492.5,687.6 492.9,687.5 493.3,687.4 493.6,687.2 494.0,687.1 494.4,687.0 494.7,686.9 495.1,686.8 495.5,686.7 495.8,686.6 496.2,686.5 496.6,686.4 496.9,686.3 497.3,686.2 497.7,686.2 498.0,686.1 498.4,686.0 498.8,685.9 499.2,685.8 499.5,685.7 499.9,685.6 500.3,685.5 500.6,685.4 501.0,685.3 501.4,685.3 501.7,685.2 502.1,685.1 502.5,685.0 502.8,684.9 503.2,684.8 503.6,684.8 503.9,684.7 504.3,684.6 504.7,684.5 505.0,684.4 505.4,684.3 505.8,684.3 506.1,684.2 506.5,684.1 506.9,684.0 507.2,683.9 507.6,683.8 508.0,683.8 508.3,683.7 508.7,683.6 509.1,683.5 509.4,683.4 509.8,683.3 510.2,683.3 510.5,683.2 510.9,683.1 511.3,683.0 511.7,682.9 512.0,682.8 512.4,682.7 512.8,682.6 513.1,682.5 513.5,682.5 513.9,682.4 514.2,682.3 514.6,682.2 515.0,682.1 515.3,682.0 515.7,681.9 516.1,681.8 516.4,681.8 516.8,681.7 517.2,681.6 517.5,681.5 517.9,681.4 518.3,681.3 518.6,681.2 519.0,681.1 519.4,681.0 519.7,681.0 520.1,680.9 520.5,680.8 520.8,680.7 521.2,680.6 521.6,680.5 521.9,680.4 522.3,680.3 522.7,680.3 523.0,680.2 523.4,680.1 523.8,680.0 524.2,679.9 524.5,679.8 524.9,679.7 525.3,679.6 525.6,679.5 526.0,679.4 526.4,679.4 526.7,679.3 527.1,679.2 527.5,679.1 527.8,679.0 528.2,678.9 528.6,678.8 528.9,678.7 529.3,678.6 529.7,678.5 530.0,678.4 530.4,678.3 530.8,678.2 531.1,678.1 531.5,678.1 531.9,678.0 532.2,677.9 532.6,677.8 533.0,677.7 533.3,677.6 533.7,677.5 534.1,677.4 534.4,677.3 534.8,677.2 535.2,677.1 535.5,677.0 535.9,676.9 536.3,676.8 536.7,676.7 537.0,676.6 537.4,676.5 537.8,676.4 538.1,676.3 538.5,676.2 538.9,676.1 539.2,675.9 539.6,675.8 540.0,675.7 540.3,675.6 540.7,675.5 541.1,675.4 541.4,675.3 541.8,675.2 542.2,675.1 542.5,675.0 542.9,674.9 543.3,674.8 543.6,674.6 544.0,674.5 544.4,674.4 544.7,674.3 545.1,674.2 545.5,674.1 545.8,674.0 546.2,673.8 546.6,673.7 546.9,673.6 547.3,673.5 547.7,673.4 548.1,673.3 548.4,673.2 548.8,673.0 549.2,672.9 549.5,672.8 549.9,672.7 550.3,672.6 550.6,672.4 551.0,672.3 551.4,672.2 551.7,672.1 552.1,672.0 552.5,671.9 552.8,671.7 553.2,671.6 553.6,671.5 553.9,671.4 554.3,671.3 554.7,671.1 555.0,671.0 555.4,670.9 555.8,670.8 556.1,670.7 556.5,670.5 556.9,670.4 557.2,670.3 557.6,670.2 558.0,670.1 558.3,669.9 558.7,669.8 559.1,669.7 559.4,669.6 559.8,669.5 560.2,669.4 560.6,669.2 560.9,669.1 561.3,669.0 561.7,668.9 562.0,668.8 562.4,668.6 562.8,668.5 563.1,668.4 563.5,668.3 563.9,668.2 564.2,668.1 564.6,668.0 565.0,667.8 565.3,667.7 565.7,667.6 566.1,667.5 566.4,667.4 566.8,667.3 567.2,667.2 567.5,667.1 567.9,667.0 568.3,666.9 568.6,666.8 569.0,666.7 569.4,666.5 569.7,666.4 570.1,666.3 570.5,666.2 570.8,666.1 571.2,666.0 571.6,665.9 571.9,665.8 572.3,665.7 572.7,665.6 573.1,665.5 573.4,665.4 573.8,665.3 574.2,665.1 574.5,665.0 574.9,664.9 575.3,664.8 575.6,664.7 576.0,664.6 576.4,664.5 576.7,664.4 577.1,664.2 577.5,664.1 577.8,664.0 578.2,663.9 578.6,663.8 578.9,663.6 579.3,663.5 579.7,663.4 580.0,663.3 580.4,663.1 580.8,663.0 581.1,662.9 581.5,662.8 581.9,662.6 582.2,662.5 582.6,662.4 583.0,662.2 583.3,662.1 583.7,661.9 584.1,661.8 584.4,661.7 584.8,661.5 585.2,661.4 585.6,661.2 585.9,661.1 586.3,660.9 586.7,660.7 587.0,660.6 587.4,660.4 587.8,660.3 588.1,660.1 588.5,659.9 588.9,659.8 589.2,659.6 589.6,659.4 590.0,659.2 590.3,659.0 590.7,658.8 591.1,658.6 591.4,658.4 591.8,658.1 592.2,657.9 592.5,657.7 592.9,657.5 593.3,657.2 593.6,657.0 594.0,656.7 594.4,656.5 594.7,656.3 595.1,656.0 595.5,655.7 595.8,655.5 596.2,655.2 596.6,655.0 597.0,654.7 597.3,654.4 597.7,654.2 598.1,653.9 598.4,653.6 598.8,653.4 599.2,653.1 599.5,652.8 599.9,652.6 600.3,652.3 600.6,652.0 601.0,651.7 601.4,651.5 601.7,651.2 602.1,650.9 602.5,650.7 602.8,650.4 603.2,650.1 603.6,649.9 603.9,649.6 604.3,649.4 604.7,649.1 605.0,648.9 605.4,648.6 605.8,648.4 606.1,648.1 606.5,647.8 606.9,647.6 607.2,647.3 607.6,647.1 608.0,646.8 608.3,646.6 608.7,646.3 609.1,646.0 609.5,645.8 609.8,645.5 610.2,645.3 610.6,645.0 610.9,644.7 611.3,644.5 611.7,644.2 612.0,643.9 612.4,643.7 612.8,643.4 613.1,643.2 613.5,642.9 613.9,642.6 614.2,642.4 614.6,642.1 615.0,641.8 615.3,641.6 615.7,641.3 616.1,641.1 616.4,640.8 616.8,640.5 617.2,640.3 617.5,640.0 617.9,639.7 618.3,639.5 618.6,639.2 619.0,639.0 619.4,638.7 619.7,638.4 620.1,638.2 620.5,637.9 620.8,637.7 621.2,637.4 621.6,637.2 622.0,636.9 622.3,636.6 622.7,636.4 623.1,636.1 623.4,635.9 623.8,635.6 624.2,635.4 624.5,635.1 624.9,634.9 625.3,634.6 625.6,634.4 626.0,634.1 626.4,633.9 626.7,633.6 627.1,633.4 627.5,633.1 627.8,632.9 628.2,632.7 628.6,632.4 628.9,632.2 629.3,631.9 629.7,631.7 630.0,631.4 630.4,631.2 630.8,630.9 631.1,630.7 631.5,630.4 631.9,630.2 632.2,630.0 632.6,629.7 633.0,629.5 633.3,629.2 633.7,629.0 634.1,628.8 634.5,628.5 634.8,628.3 635.2,628.0 635.6,627.8 635.9,627.6 636.3,627.3 636.7,627.1 637.0,626.8 637.4,626.6 637.8,626.4 638.1,626.1 638.5,625.9 638.9,625.7 639.2,625.4 639.6,625.2" fill="none" stroke="#e0303a" stroke-width="1.8" stroke-linejoin="round" stroke-linecap="round" />
<text x="585.60" y="536.12" font-size="10.9" text-anchor="middle" fill="#4a4a4a" font-weight="normal" >Emission angle</text>
<line x1="581.60" y1="548.70" x2="591.50" y2="548.70" stroke="#1f78b8" stroke-width="1.9" />
<text x="595.30" y="552.62" font-size="10.9" text-anchor="start" fill="#4a4a4a" font-weight="normal" >45°</text>
<line x1="581.60" y1="563.20" x2="591.50" y2="563.20" stroke="#f0862a" stroke-width="1.9" />
<text x="595.30" y="567.12" font-size="10.9" text-anchor="start" fill="#4a4a4a" font-weight="normal" >35°</text>
<line x1="581.60" y1="576.60" x2="591.50" y2="576.60" stroke="#1a9a48" stroke-width="1.9" />
<text x="595.30" y="580.52" font-size="10.9" text-anchor="start" fill="#4a4a4a" font-weight="normal" >25°</text>
<line x1="581.60" y1="590.80" x2="591.50" y2="590.80" stroke="#e0303a" stroke-width="1.9" />
<text x="595.30" y="594.72" font-size="10.9" text-anchor="start" fill="#4a4a4a" font-weight="normal" >15°</text>
<defs><linearGradient id="h0"><stop offset="0.001" stop-color="#05050c"/><stop offset="0.299" stop-color="#05050c"/><stop offset="0.322" stop-color="#09081a"/><stop offset="0.353" stop-color="#0b0a21"/><stop offset="0.425" stop-color="#060612"/><stop offset="0.486" stop-color="#05050d"/><stop offset="0.999" stop-color="#05050c"/></linearGradient><linearGradient id="h1"><stop offset="0.001" stop-color="#05050c"/><stop offset="0.299" stop-color="#05050c"/><stop offset="0.322" stop-color="#080818"/><stop offset="0.355" stop-color="#0a0a1f"/><stop offset="0.430" stop-color="#060612"/><stop offset="0.506" stop-color="#05050d"/><stop offset="0.999" stop-color="#05050d"/></linearGradient><linearGradient id="h2"><stop offset="0.001" stop-color="#05050c"/><stop offset="0.299" stop-color="#05050c"/><stop offset="0.339" stop-color="#0d0c29"/><stop offset="0.361" stop-color="#0f0e2f"/><stop offset="0.380" stop-color="#0e0d2b"/><stop offset="0.432" stop-color="#070715"/><stop offset="0.486" stop-color="#05050e"/><stop offset="0.999" stop-color="#05050d"/></linearGradient><linearGradient id="h3"><stop offset="0.001" stop-color="#05050c"/><stop offset="0.299" stop-color="#05050c"/><stop offset="0.339" stop-color="#0e0d2c"/><stop offset="0.361" stop-color="#100e31"/><stop offset="0.378" stop-color="#0f0e2f"/><stop offset="0.434" stop-color="#080716"/><stop offset="0.492" stop-color="#06050f"/><stop offset="0.999" stop-color="#05050d"/></linearGradient><linearGradient id="h4"><stop offset="0.001" stop-color="#05050d"/><stop offset="0.299" stop-color="#05050d"/><stop offset="0.339" stop-color="#0d0c28"/><stop offset="0.363" stop-color="#0f0e2e"/><stop offset="0.438" stop-color="#080716"/><stop offset="0.512" stop-color="#05050e"/><stop offset="0.999" stop-color="#05050d"/></linearGradient><linearGradient id="h5"><stop offset="0.001" stop-color="#05050d"/><stop offset="0.299" stop-color="#05050d"/><stop offset="0.336" stop-color="#0f0e30"/><stop offset="0.372" stop-color="#15123b"/><stop offset="0.411" stop-color="#0f0e31"/><stop offset="0.432" stop-color="#0b0a20"/><stop offset="0.452" stop-color="#080818"/><stop offset="0.508" stop-color="#06060f"/><stop offset="0.999" stop-color="#05050e"/></linearGradient><linearGradient id="h6"><stop offset="0.001" stop-color="#05050d"/><stop offset="0.299" stop-color="#05050d"/><stop offset="0.332" stop-color="#0f0e30"/><stop offset="0.353" stop-color="#15123b"/><stop offset="0.372" stop-color="#16133e"/><stop offset="0.411" stop-color="#110f33"/><stop offset="0.454" stop-color="#080819"/><stop offset="0.514" stop-color="#060610"/><stop offset="0.999" stop-color="#06050e"/></linearGradient><linearGradient id="h7"><stop offset="0.001" stop-color="#05050d"/><stop offset="0.299" stop-color="#05050d"/><stop offset="0.338" stop-color="#0f0e30"/><stop offset="0.372" stop-color="#14113a"/><stop offset="0.411" stop-color="#100e31"/><stop offset="0.434" stop-color="#0b0a22"/><stop offset="0.456" stop-color="#090819"/><stop offset="0.525" stop-color="#060610"/><stop offset="0.999" stop-color="#06060f"/></linearGradient><linearGradient id="h8"><stop offset="0.001" stop-color="#05050e"/><stop offset="0.299" stop-color="#05050e"/><stop offset="0.332" stop-color="#0f0e30"/><stop offset="0.347" stop-color="#15123c"/><stop offset="0.368" stop-color="#1c1748"/><stop offset="0.386" stop-color="#1d184b"/><stop offset="0.411" stop-color="#191544"/><stop offset="0.469" stop-color="#09091c"/><stop offset="0.521" stop-color="#060611"/><stop offset="0.999" stop-color="#06060f"/></linearGradient><linearGradient id="h9"><stop offset="0.001" stop-color="#05050e"/><stop offset="0.299" stop-color="#05050e"/><stop offset="0.328" stop-color="#0f0e2f"/><stop offset="0.349" stop-color="#171340"/><stop offset="0.368" stop-color="#1d184c"/><stop offset="0.386" stop-color="#1f1a4f"/><stop offset="0.411" stop-color="#1b1647"/><stop offset="0.469" stop-color="#0a091e"/><stop offset="0.525" stop-color="#060612"/><stop offset="0.999" stop-color="#060610"/></linearGradient><linearGradient id="h10"><stop offset="0.001" stop-color="#06050f"/><stop offset="0.299" stop-color="#06050f"/><stop offset="0.332" stop-color="#0f0e2f"/><stop offset="0.347" stop-color="#14113a"/><stop offset="0.368" stop-color="#1b1646"/><stop offset="0.386" stop-color="#1c174a"/><stop offset="0.411" stop-color="#191443"/><stop offset="0.471" stop-color="#0a091e"/><stop offset="0.537" stop-color="#060612"/><stop offset="0.999" stop-color="#060611"/></linearGradient><linearGradient id="h11"><stop offset="0.001" stop-color="#06060f"/><stop offset="0.299" stop-color="#06060f"/><stop offset="0.332" stop-color="#0f0e2f"/><stop offset="0.372" stop-color="#211c53"/><stop offset="0.401" stop-color="#27225e"/><stop offset="0.415" stop-color="#25205a"/><stop offset="0.438" stop-color="#1a1545"/><stop offset="0.485" stop-color="#0b0a21"/><stop offset="0.533" stop-color="#070713"/><stop offset="0.635" stop-color="#06060f"/><stop offset="0.999" stop-color="#060612"/></linearGradient><linearGradient id="h12"><stop offset="0.001" stop-color="#06060f"/><stop offset="0.299" stop-color="#06060f"/><stop offset="0.332" stop-color="#100f32"/><stop offset="0.372" stop-color="#241f58"/><stop offset="0.401" stop-color="#2a2562"/><stop offset="0.419" stop-color="#26215b"/><stop offset="0.442" stop-color="#1a1545"/><stop offset="0.486" stop-color="#0b0b23"/><stop offset="0.537" stop-color="#070714"/><stop offset="0.643" stop-color="#060610"/><stop offset="0.999" stop-color="#070613"/></linearGradient><linearGradient id="h13"><stop offset="0.001" stop-color="#060610"/><stop offset="0.299" stop-color="#060610"/><stop offset="0.332" stop-color="#0f0e2e"/><stop offset="0.370" stop-color="#1f1a4f"/><stop offset="0.388" stop-color="#25205a"/><stop offset="0.401" stop-color="#26215c"/><stop offset="0.413" stop-color="#25205a"/><stop offset="0.438" stop-color="#1a1545"/><stop offset="0.488" stop-color="#0b0b23"/><stop offset="0.546" stop-color="#070714"/><stop offset="0.661" stop-color="#060610"/><stop offset="0.999" stop-color="#070714"/></linearGradient><linearGradient id="h14"><stop offset="0.001" stop-color="#060610"/><stop offset="0.301" stop-color="#060611"/><stop offset="0.320" stop-color="#0a091e"/><stop offset="0.336" stop-color="#0f0e2f"/><stop offset="0.382" stop-color="#27235e"/><stop offset="0.397" stop-color="#2e2a6a"/><stop offset="0.411" stop-color="#332c6c"/><stop offset="0.423" stop-color="#2e2a6a"/><stop offset="0.436" stop-color="#292561"/><stop offset="0.465" stop-color="#1a1545"/><stop offset="0.508" stop-color="#0b0b23"/><stop offset="0.548" stop-color="#080716"/><stop offset="0.662" stop-color="#060611"/><stop offset="0.999" stop-color="#070715"/></linearGradient><linearGradient id="h15"><stop offset="0.001" stop-color="#060611"/><stop offset="0.301" stop-color="#060611"/><stop offset="0.320" stop-color="#0a0a20"/><stop offset="0.355" stop-color="#1a1545"/><stop offset="0.386" stop-color="#2c2866"/><stop offset="0.411" stop-color="#392e6e"/><stop offset="0.432" stop-color="#2e2969"/><stop offset="0.469" stop-color="#1a1545"/><stop offset="0.488" stop-color="#110f34"/><stop offset="0.517" stop-color="#0b0a20"/><stop offset="0.552" stop-color="#080817"/><stop offset="0.672" stop-color="#060611"/><stop offset="0.999" stop-color="#080716"/></linearGradient><linearGradient id="h16"><stop offset="0.001" stop-color="#060612"/><stop offset="0.301" stop-color="#070612"/><stop offset="0.320" stop-color="#0a091e"/><stop offset="0.338" stop-color="#0f0e31"/><stop offset="0.380" stop-color="#25205a"/><stop offset="0.399" stop-color="#2d2968"/><stop offset="0.411" stop-color="#302b6b"/><stop offset="0.436" stop-color="#282460"/><stop offset="0.467" stop-color="#191544"/><stop offset="0.512" stop-color="#0c0b25"/><stop offset="0.560" stop-color="#080817"/><stop offset="0.693" stop-color="#070612"/><stop offset="0.914" stop-color="#070713"/><stop offset="0.999" stop-color="#080818"/></linearGradient><linearGradient id="h17"><stop offset="0.001" stop-color="#070612"/><stop offset="0.301" stop-color="#070612"/><stop offset="0.332" stop-color="#0b0b23"/><stop offset="0.365" stop-color="#1a1544"/><stop offset="0.396" stop-color="#2d2969"/><stop offset="0.411" stop-color="#3d2f6f"/><stop offset="0.421" stop-color="#3e2f70"/><stop offset="0.438" stop-color="#3a2e6f"/><stop offset="0.456" stop-color="#2f2a6a"/><stop offset="0.492" stop-color="#191544"/><stop offset="0.527" stop-color="#0c0c26"/><stop offset="0.568" stop-color="#080818"/><stop offset="0.744" stop-color="#070713"/><stop offset="0.920" stop-color="#070714"/><stop offset="0.999" stop-color="#09081a"/></linearGradient><linearGradient id="h18"><stop offset="0.001" stop-color="#070713"/><stop offset="0.301" stop-color="#070713"/><stop offset="0.330" stop-color="#0c0b24"/><stop offset="0.363" stop-color="#1a1546"/><stop offset="0.392" stop-color="#2e2a6a"/><stop offset="0.411" stop-color="#442f71"/><stop offset="0.421" stop-color="#452f72"/><stop offset="0.440" stop-color="#402f70"/><stop offset="0.461" stop-color="#2f2a6a"/><stop offset="0.494" stop-color="#1a1546"/><stop offset="0.529" stop-color="#0d0c28"/><stop offset="0.574" stop-color="#090819"/><stop offset="0.645" stop-color="#070714"/><stop offset="0.831" stop-color="#070714"/><stop offset="0.999" stop-color="#09091c"/></linearGradient><linearGradient id="h19"><stop offset="0.001" stop-color="#070714"/><stop offset="0.301" stop-color="#070714"/><stop offset="0.332" stop-color="#0c0b24"/><stop offset="0.367" stop-color="#1a1545"/><stop offset="0.399" stop-color="#2e2a6a"/><stop offset="0.411" stop-color="#392e6e"/><stop offset="0.421" stop-color="#3b2e6f"/><stop offset="0.436" stop-color="#382d6e"/><stop offset="0.456" stop-color="#2d2969"/><stop offset="0.492" stop-color="#1a1545"/><stop offset="0.515" stop-color="#110f33"/><stop offset="0.543" stop-color="#0b0b23"/><stop offset="0.581" stop-color="#09081a"/><stop offset="0.655" stop-color="#070715"/><stop offset="0.852" stop-color="#080716"/><stop offset="0.999" stop-color="#0a091e"/></linearGradient><linearGradient id="h20"><stop offset="0.001" stop-color="#070715"/><stop offset="0.309" stop-color="#080716"/><stop offset="0.341" stop-color="#0c0b25"/><stop offset="0.376" stop-color="#1b1646"/><stop offset="0.405" stop-color="#302b6b"/><stop offset="0.423" stop-color="#402f70"/><stop offset="0.444" stop-color="#472f72"/><stop offset="0.463" stop-color="#422f71"/><stop offset="0.485" stop-color="#2f2a6b"/><stop offset="0.515" stop-color="#1a1546"/><stop offset="0.548" stop-color="#0d0c29"/><stop offset="0.589" stop-color="#09091b"/><stop offset="0.662" stop-color="#080716"/><stop offset="0.862" stop-color="#080817"/><stop offset="0.999" stop-color="#0a0a20"/></linearGradient><linearGradient id="h21"><stop offset="0.001" stop-color="#080716"/><stop offset="0.307" stop-color="#080817"/><stop offset="0.332" stop-color="#0b0a20"/><stop offset="0.361" stop-color="#141139"/><stop offset="0.374" stop-color="#1b1647"/><stop offset="0.399" stop-color="#2e2a6a"/><stop offset="0.417" stop-color="#432f71"/><stop offset="0.444" stop-color="#4f2f74"/><stop offset="0.465" stop-color="#482f72"/><stop offset="0.490" stop-color="#2f2a6a"/><stop offset="0.529" stop-color="#15123b"/><stop offset="0.560" stop-color="#0c0b25"/><stop offset="0.593" stop-color="#09091c"/><stop offset="0.668" stop-color="#080817"/><stop offset="0.862" stop-color="#080819"/><stop offset="0.999" stop-color="#0b0b23"/></linearGradient><linearGradient id="h22"><stop offset="0.001" stop-color="#080717"/><stop offset="0.309" stop-color="#080818"/><stop offset="0.334" stop-color="#0b0a21"/><stop offset="0.365" stop-color="#141139"/><stop offset="0.378" stop-color="#1b1647"/><stop offset="0.407" stop-color="#302b6b"/><stop offset="0.425" stop-color="#3e2f70"/><stop offset="0.444" stop-color="#442f71"/><stop offset="0.463" stop-color="#3f2f70"/><stop offset="0.485" stop-color="#2e2a6a"/><stop offset="0.517" stop-color="#1a1545"/><stop offset="0.533" stop-color="#131037"/><stop offset="0.564" stop-color="#0c0b26"/><stop offset="0.601" stop-color="#0a091d"/><stop offset="0.676" stop-color="#080819"/><stop offset="0.868" stop-color="#09081a"/><stop offset="0.999" stop-color="#0c0b25"/></linearGradient><linearGradient id="h23"><stop offset="0.001" stop-color="#080817"/><stop offset="0.324" stop-color="#09081a"/><stop offset="0.347" stop-color="#0b0b23"/><stop offset="0.376" stop-color="#141139"/><stop offset="0.390" stop-color="#1b1647"/><stop offset="0.417" stop-color="#2e2a69"/><stop offset="0.446" stop-color="#472f72"/><stop offset="0.467" stop-color="#502f75"/><stop offset="0.488" stop-color="#492f73"/><stop offset="0.512" stop-color="#302b6b"/><stop offset="0.548" stop-color="#15123c"/><stop offset="0.577" stop-color="#0c0c27"/><stop offset="0.608" stop-color="#0a0a1f"/><stop offset="0.684" stop-color="#09081a"/><stop offset="0.871" stop-color="#09091c"/><stop offset="0.939" stop-color="#0a0a1f"/><stop offset="0.999" stop-color="#0d0c28"/></linearGradient><linearGradient id="h24"><stop offset="0.001" stop-color="#080818"/><stop offset="0.320" stop-color="#09091b"/><stop offset="0.345" stop-color="#0c0b24"/><stop offset="0.374" stop-color="#14113a"/><stop offset="0.388" stop-color="#1c1748"/><stop offset="0.413" stop-color="#2f2a6a"/><stop offset="0.446" stop-color="#502f74"/><stop offset="0.467" stop-color="#592e77"/><stop offset="0.490" stop-color="#502f74"/><stop offset="0.517" stop-color="#2e2a6a"/><stop offset="0.550" stop-color="#16123d"/><stop offset="0.581" stop-color="#0d0c28"/><stop offset="0.614" stop-color="#0a0a20"/><stop offset="0.691" stop-color="#09091b"/><stop offset="0.873" stop-color="#0a091e"/><stop offset="0.939" stop-color="#0b0a22"/><stop offset="0.999" stop-color="#0e0d2c"/></linearGradient><linearGradient id="h25"><stop offset="0.001" stop-color="#090819"/><stop offset="0.324" stop-color="#09091c"/><stop offset="0.347" stop-color="#0c0b24"/><stop offset="0.376" stop-color="#141139"/><stop offset="0.390" stop-color="#1a1546"/><stop offset="0.421" stop-color="#2f2a6a"/><stop offset="0.448" stop-color="#452f72"/><stop offset="0.467" stop-color="#4d2f74"/><stop offset="0.488" stop-color="#462f72"/><stop offset="0.512" stop-color="#2f2a6a"/><stop offset="0.541" stop-color="#1b1646"/><stop offset="0.552" stop-color="#15123b"/><stop offset="0.585" stop-color="#0d0c29"/><stop offset="0.622" stop-color="#0b0a21"/><stop offset="0.699" stop-color="#0a091d"/><stop offset="0.875" stop-color="#0a0a20"/><stop offset="0.939" stop-color="#0c0b24"/><stop offset="0.999" stop-color="#0f0e2f"/></linearGradient><linearGradient id="h26"><stop offset="0.001" stop-color="#09091b"/><stop offset="0.339" stop-color="#0a091e"/><stop offset="0.363" stop-color="#0c0b26"/><stop offset="0.390" stop-color="#131138"/><stop offset="0.438" stop-color="#2f2a6a"/><stop offset="0.469" stop-color="#4e2f74"/><stop offset="0.490" stop-color="#592e77"/><stop offset="0.512" stop-color="#512f75"/><stop offset="0.539" stop-color="#2e2a6a"/><stop offset="0.570" stop-color="#17133e"/><stop offset="0.599" stop-color="#0d0d2b"/><stop offset="0.630" stop-color="#0b0b23"/><stop offset="0.705" stop-color="#0a0a1f"/><stop offset="0.871" stop-color="#0b0a22"/><stop offset="0.931" stop-color="#0c0b26"/><stop offset="0.999" stop-color="#100f32"/></linearGradient><linearGradient id="h27"><stop offset="0.001" stop-color="#09091c"/><stop offset="0.309" stop-color="#09091c"/><stop offset="0.343" stop-color="#0b0a20"/><stop offset="0.367" stop-color="#0d0d2a"/><stop offset="0.396" stop-color="#17133f"/><stop offset="0.432" stop-color="#2e2a6a"/><stop offset="0.446" stop-color="#3e2f70"/><stop offset="0.469" stop-color="#582e76"/><stop offset="0.492" stop-color="#662d79"/><stop offset="0.502" stop-color="#632e79"/><stop offset="0.515" stop-color="#562e76"/><stop offset="0.533" stop-color="#3e2f70"/><stop offset="0.543" stop-color="#2e2a6a"/><stop offset="0.572" stop-color="#171340"/><stop offset="0.597" stop-color="#0f0e2f"/><stop offset="0.647" stop-color="#0b0b23"/><stop offset="0.742" stop-color="#0b0a21"/><stop offset="0.898" stop-color="#0c0b25"/><stop offset="0.999" stop-color="#110f34"/></linearGradient><linearGradient id="h28"><stop offset="0.001" stop-color="#0a091d"/><stop offset="0.339" stop-color="#0a0a20"/><stop offset="0.365" stop-color="#0d0c28"/><stop offset="0.399" stop-color="#171340"/><stop offset="0.440" stop-color="#2f2a6a"/><stop offset="0.471" stop-color="#4d2f74"/><stop offset="0.490" stop-color="#562f76"/><stop offset="0.512" stop-color="#4e2f74"/><stop offset="0.539" stop-color="#2e2a6a"/><stop offset="0.572" stop-color="#17133f"/><stop offset="0.593" stop-color="#100f32"/><stop offset="0.639" stop-color="#0c0c27"/><stop offset="0.713" stop-color="#0b0b22"/><stop offset="0.856" stop-color="#0c0b25"/><stop offset="0.999" stop-color="#121036"/></linearGradient><linearGradient id="h29"><stop offset="0.001" stop-color="#0a091e"/><stop offset="0.328" stop-color="#0a0a1f"/><stop offset="0.363" stop-color="#0b0b22"/><stop offset="0.386" stop-color="#0e0d2c"/><stop offset="0.423" stop-color="#191544"/><stop offset="0.459" stop-color="#2f2a6a"/><stop offset="0.473" stop-color="#3f2f70"/><stop offset="0.494" stop-color="#572e76"/><stop offset="0.515" stop-color="#632e79"/><stop offset="0.537" stop-color="#562e76"/><stop offset="0.554" stop-color="#3e2f70"/><stop offset="0.564" stop-color="#2f2a6a"/><stop offset="0.593" stop-color="#17133f"/><stop offset="0.616" stop-color="#0f0e31"/><stop offset="0.668" stop-color="#0c0c26"/><stop offset="0.765" stop-color="#0c0b25"/><stop offset="0.889" stop-color="#0d0d2a"/><stop offset="0.999" stop-color="#141139"/></linearGradient><linearGradient id="h30"><stop offset="0.001" stop-color="#0a0a1f"/><stop offset="0.328" stop-color="#0a0a20"/><stop offset="0.363" stop-color="#0c0b24"/><stop offset="0.388" stop-color="#0f0e2f"/><stop offset="0.421" stop-color="#1a1545"/><stop offset="0.454" stop-color="#2e2a69"/><stop offset="0.467" stop-color="#3f2f70"/><stop offset="0.500" stop-color="#6a2d7a"/><stop offset="0.515" stop-color="#732c7c"/><stop offset="0.523" stop-color="#712c7b"/><stop offset="0.533" stop-color="#682d7a"/><stop offset="0.558" stop-color="#402f70"/><stop offset="0.568" stop-color="#2f2a6a"/><stop offset="0.593" stop-color="#191443"/><stop offset="0.614" stop-color="#110f33"/><stop offset="0.670" stop-color="#0d0c29"/><stop offset="0.759" stop-color="#0d0c27"/><stop offset="0.881" stop-color="#0e0d2c"/><stop offset="0.999" stop-color="#15123c"/></linearGradient><linearGradient id="h31"><stop offset="0.001" stop-color="#0b0a21"/><stop offset="0.326" stop-color="#0b0a21"/><stop offset="0.361" stop-color="#0c0b24"/><stop offset="0.386" stop-color="#0e0d2d"/><stop offset="0.423" stop-color="#191443"/><stop offset="0.461" stop-color="#2f2a6a"/><stop offset="0.475" stop-color="#3f2f70"/><stop offset="0.496" stop-color="#552f76"/><stop offset="0.517" stop-color="#5f2e78"/><stop offset="0.537" stop-color="#552f76"/><stop offset="0.554" stop-color="#3f2f70"/><stop offset="0.564" stop-color="#302b6b"/><stop offset="0.593" stop-color="#191443"/><stop offset="0.618" stop-color="#110f33"/><stop offset="0.688" stop-color="#0d0d2a"/><stop offset="0.775" stop-color="#0d0c2a"/><stop offset="0.916" stop-color="#100f32"/><stop offset="0.999" stop-color="#17133e"/></linearGradient><linearGradient id="h32"><stop offset="0.001" stop-color="#0b0a22"/><stop offset="0.349" stop-color="#0b0b23"/><stop offset="0.386" stop-color="#0c0c27"/><stop offset="0.417" stop-color="#110f33"/><stop offset="0.448" stop-color="#1a1545"/><stop offset="0.481" stop-color="#2e2a69"/><stop offset="0.494" stop-color="#3f2f70"/><stop offset="0.525" stop-color="#662d79"/><stop offset="0.541" stop-color="#6f2c7b"/><stop offset="0.556" stop-color="#652d79"/><stop offset="0.579" stop-color="#402f71"/><stop offset="0.589" stop-color="#2f2a6a"/><stop offset="0.614" stop-color="#191443"/><stop offset="0.633" stop-color="#111035"/><stop offset="0.693" stop-color="#0e0d2d"/><stop offset="0.780" stop-color="#0e0d2d"/><stop offset="0.910" stop-color="#110f34"/><stop offset="0.999" stop-color="#181441"/></linearGradient><linearGradient id="h33"><stop offset="0.001" stop-color="#0b0b24"/><stop offset="0.349" stop-color="#0c0b24"/><stop offset="0.384" stop-color="#0d0c28"/><stop offset="0.419" stop-color="#121035"/><stop offset="0.446" stop-color="#1b1647"/><stop offset="0.477" stop-color="#2e2a6a"/><stop offset="0.488" stop-color="#3e2f70"/><stop offset="0.527" stop-color="#792c7c"/><stop offset="0.541" stop-color="#832d7c"/><stop offset="0.548" stop-color="#802d7c"/><stop offset="0.556" stop-color="#762c7c"/><stop offset="0.583" stop-color="#412f71"/><stop offset="0.593" stop-color="#2e2a6a"/><stop offset="0.614" stop-color="#1b1647"/><stop offset="0.633" stop-color="#131037"/><stop offset="0.713" stop-color="#0f0e2f"/><stop offset="0.838" stop-color="#100e31"/><stop offset="0.920" stop-color="#131037"/><stop offset="0.999" stop-color="#1a1545"/></linearGradient><linearGradient id="h34"><stop offset="0.001" stop-color="#0c0b25"/><stop offset="0.349" stop-color="#0c0b26"/><stop offset="0.384" stop-color="#0d0c29"/><stop offset="0.417" stop-color="#110f34"/><stop offset="0.448" stop-color="#1a1545"/><stop offset="0.483" stop-color="#2e2a6a"/><stop offset="0.496" stop-color="#3f2f70"/><stop offset="0.527" stop-color="#642d79"/><stop offset="0.541" stop-color="#6c2d7a"/><stop offset="0.556" stop-color="#632e79"/><stop offset="0.581" stop-color="#3e2f70"/><stop offset="0.589" stop-color="#312b6b"/><stop offset="0.616" stop-color="#1a1545"/><stop offset="0.635" stop-color="#131138"/><stop offset="0.709" stop-color="#100e31"/><stop offset="0.842" stop-color="#110f33"/><stop offset="0.920" stop-color="#141139"/><stop offset="0.999" stop-color="#1c1748"/></linearGradient><linearGradient id="h35"><stop offset="0.001" stop-color="#0c0c26"/><stop offset="0.370" stop-color="#0c0c27"/><stop offset="0.405" stop-color="#0d0d2a"/><stop offset="0.446" stop-color="#121036"/><stop offset="0.473" stop-color="#1b1646"/><stop offset="0.504" stop-color="#2d2969"/><stop offset="0.517" stop-color="#402f70"/><stop offset="0.550" stop-color="#722c7c"/><stop offset="0.566" stop-color="#7d2d7c"/><stop offset="0.574" stop-color="#792c7c"/><stop offset="0.581" stop-color="#6f2c7b"/><stop offset="0.606" stop-color="#3e2f70"/><stop offset="0.614" stop-color="#2f2a6a"/><stop offset="0.635" stop-color="#1b1647"/><stop offset="0.653" stop-color="#141139"/><stop offset="0.717" stop-color="#100f33"/><stop offset="0.848" stop-color="#121035"/><stop offset="0.920" stop-color="#15123c"/><stop offset="0.999" stop-color="#1d184b"/></linearGradient><linearGradient id="h36"><stop offset="0.001" stop-color="#0d0c28"/><stop offset="0.370" stop-color="#0d0c29"/><stop offset="0.403" stop-color="#0e0d2c"/><stop offset="0.448" stop-color="#131138"/><stop offset="0.471" stop-color="#1b1648"/><stop offset="0.500" stop-color="#2e2a69"/><stop offset="0.512" stop-color="#3e2f70"/><stop offset="0.531" stop-color="#5e2e78"/><stop offset="0.552" stop-color="#892e7c"/><stop offset="0.566" stop-color="#96317c"/><stop offset="0.572" stop-color="#93307c"/><stop offset="0.581" stop-color="#842d7c"/><stop offset="0.610" stop-color="#3e2f70"/><stop offset="0.618" stop-color="#2e2a6a"/><stop offset="0.637" stop-color="#1c1749"/><stop offset="0.653" stop-color="#15123b"/><stop offset="0.715" stop-color="#110f34"/><stop offset="0.842" stop-color="#131037"/><stop offset="0.916" stop-color="#16133e"/><stop offset="0.999" stop-color="#1f1a4f"/></linearGradient><linearGradient id="h37"><stop offset="0.001" stop-color="#0d0c2a"/><stop offset="0.368" stop-color="#0d0c2a"/><stop offset="0.446" stop-color="#121037"/><stop offset="0.475" stop-color="#1b1648"/><stop offset="0.506" stop-color="#2e2a6a"/><stop offset="0.517" stop-color="#3e2f70"/><stop offset="0.550" stop-color="#6e2d7b"/><stop offset="0.566" stop-color="#7a2c7c"/><stop offset="0.581" stop-color="#6e2d7b"/><stop offset="0.606" stop-color="#412f71"/><stop offset="0.616" stop-color="#2e2a6a"/><stop offset="0.637" stop-color="#1c1749"/><stop offset="0.655" stop-color="#15123c"/><stop offset="0.724" stop-color="#121036"/><stop offset="0.844" stop-color="#141139"/><stop offset="0.916" stop-color="#181441"/><stop offset="0.999" stop-color="#211c52"/></linearGradient><linearGradient id="h38"><stop offset="0.001" stop-color="#0e0d2b"/><stop offset="0.392" stop-color="#0e0d2c"/><stop offset="0.448" stop-color="#100e31"/><stop offset="0.475" stop-color="#131138"/><stop offset="0.500" stop-color="#1c1749"/><stop offset="0.529" stop-color="#2f2a6a"/><stop offset="0.541" stop-color="#402f70"/><stop offset="0.558" stop-color="#5d2e78"/><stop offset="0.577" stop-color="#832d7c"/><stop offset="0.589" stop-color="#8d2e7c"/><stop offset="0.597" stop-color="#8a2e7c"/><stop offset="0.603" stop-color="#822d7c"/><stop offset="0.632" stop-color="#3e2f70"/><stop offset="0.639" stop-color="#2e2a6a"/><stop offset="0.657" stop-color="#1d184b"/><stop offset="0.672" stop-color="#16133e"/><stop offset="0.730" stop-color="#131138"/><stop offset="0.848" stop-color="#15123c"/><stop offset="0.914" stop-color="#191443"/><stop offset="0.999" stop-color="#231e56"/></linearGradient><linearGradient id="h39"><stop offset="0.001" stop-color="#0e0d2d"/><stop offset="0.394" stop-color="#0e0d2d"/><stop offset="0.448" stop-color="#100f32"/><stop offset="0.479" stop-color="#15123c"/><stop offset="0.500" stop-color="#1e194c"/><stop offset="0.525" stop-color="#2f2a6a"/><stop offset="0.535" stop-color="#3e2f70"/><stop offset="0.552" stop-color="#5d2e78"/><stop offset="0.570" stop-color="#8a2e7c"/><stop offset="0.579" stop-color="#a3347b"/><stop offset="0.585" stop-color="#ad377a"/><stop offset="0.591" stop-color="#af387a"/><stop offset="0.597" stop-color="#ab377a"/><stop offset="0.603" stop-color="#9f337b"/><stop offset="0.616" stop-color="#742c7c"/><stop offset="0.624" stop-color="#5c2e77"/><stop offset="0.641" stop-color="#312b6b"/><stop offset="0.659" stop-color="#1e194e"/><stop offset="0.670" stop-color="#181442"/><stop offset="0.686" stop-color="#15123c"/><stop offset="0.717" stop-color="#14113a"/><stop offset="0.838" stop-color="#16123d"/><stop offset="0.910" stop-color="#1a1546"/><stop offset="0.999" stop-color="#25205a"/></linearGradient><linearGradient id="h40"><stop offset="0.001" stop-color="#0f0e2f"/><stop offset="0.392" stop-color="#0f0e2f"/><stop offset="0.446" stop-color="#100f32"/><stop offset="0.477" stop-color="#14113a"/><stop offset="0.500" stop-color="#1c1749"/><stop offset="0.529" stop-color="#2e2a6a"/><stop offset="0.541" stop-color="#3e2f70"/><stop offset="0.560" stop-color="#5e2e78"/><stop offset="0.577" stop-color="#802d7c"/><stop offset="0.591" stop-color="#8c2e7c"/><stop offset="0.597" stop-color="#8a2e7c"/><stop offset="0.604" stop-color="#802d7c"/><stop offset="0.633" stop-color="#3f2f70"/><stop offset="0.641" stop-color="#2f2a6a"/><stop offset="0.661" stop-color="#1e194c"/><stop offset="0.674" stop-color="#181442"/><stop offset="0.736" stop-color="#15123c"/><stop offset="0.842" stop-color="#171340"/><stop offset="0.906" stop-color="#1c1748"/><stop offset="0.999" stop-color="#27225d"/></linearGradient><linearGradient id="h41"><stop offset="0.001" stop-color="#0f0e30"/><stop offset="0.430" stop-color="#0f0e31"/><stop offset="0.475" stop-color="#110f34"/><stop offset="0.504" stop-color="#15123c"/><stop offset="0.527" stop-color="#1d184c"/><stop offset="0.554" stop-color="#302b6b"/><stop offset="0.564" stop-color="#3f2f70"/><stop offset="0.579" stop-color="#5b2e77"/><stop offset="0.589" stop-color="#732c7c"/><stop offset="0.604" stop-color="#99327b"/><stop offset="0.614" stop-color="#a5357b"/><stop offset="0.620" stop-color="#a2347b"/><stop offset="0.626" stop-color="#97317c"/><stop offset="0.637" stop-color="#742c7c"/><stop offset="0.657" stop-color="#3e2f70"/><stop offset="0.662" stop-color="#312b6b"/><stop offset="0.678" stop-color="#201b51"/><stop offset="0.690" stop-color="#1a1545"/><stop offset="0.728" stop-color="#16133e"/><stop offset="0.838" stop-color="#181442"/><stop offset="0.900" stop-color="#1d184a"/><stop offset="0.999" stop-color="#282460"/></linearGradient><linearGradient id="h42"><stop offset="0.001" stop-color="#100e31"/><stop offset="0.434" stop-color="#100f32"/><stop offset="0.479" stop-color="#121036"/><stop offset="0.506" stop-color="#17133e"/><stop offset="0.533" stop-color="#231e56"/><stop offset="0.548" stop-color="#2d2969"/><stop offset="0.554" stop-color="#362c6d"/><stop offset="0.575" stop-color="#5e2e78"/><stop offset="0.591" stop-color="#8d2e7c"/><stop offset="0.601" stop-color="#b1397a"/><stop offset="0.608" stop-color="#bf3f75"/><stop offset="0.616" stop-color="#c34073"/><stop offset="0.624" stop-color="#bd3d76"/><stop offset="0.630" stop-color="#af387a"/><stop offset="0.637" stop-color="#8d2e7c"/><stop offset="0.649" stop-color="#5e2e78"/><stop offset="0.661" stop-color="#3e2f70"/><stop offset="0.666" stop-color="#302b6b"/><stop offset="0.680" stop-color="#211c53"/><stop offset="0.690" stop-color="#1c1748"/><stop offset="0.721" stop-color="#181441"/><stop offset="0.831" stop-color="#191544"/><stop offset="0.893" stop-color="#1e194c"/><stop offset="0.999" stop-color="#2a2563"/></linearGradient><linearGradient id="h43"><stop offset="0.001" stop-color="#100f32"/><stop offset="0.432" stop-color="#110f33"/><stop offset="0.477" stop-color="#121036"/><stop offset="0.504" stop-color="#16123d"/><stop offset="0.527" stop-color="#1e194c"/><stop offset="0.554" stop-color="#2f2a6a"/><stop offset="0.564" stop-color="#3e2f70"/><stop offset="0.581" stop-color="#5d2e78"/><stop offset="0.591" stop-color="#752c7c"/><stop offset="0.606" stop-color="#9a327b"/><stop offset="0.616" stop-color="#a4357b"/><stop offset="0.622" stop-color="#a1347b"/><stop offset="0.628" stop-color="#96317c"/><stop offset="0.647" stop-color="#5d2e78"/><stop offset="0.659" stop-color="#412f71"/><stop offset="0.666" stop-color="#2f2a6b"/><stop offset="0.682" stop-color="#211c52"/><stop offset="0.691" stop-color="#1c1749"/><stop offset="0.724" stop-color="#191443"/><stop offset="0.831" stop-color="#1b1646"/><stop offset="0.999" stop-color="#2c2766"/></linearGradient><linearGradient id="h44"><stop offset="0.001" stop-color="#110f34"/><stop offset="0.463" stop-color="#110f34"/><stop offset="0.502" stop-color="#131037"/><stop offset="0.535" stop-color="#181441"/><stop offset="0.560" stop-color="#221d55"/><stop offset="0.581" stop-color="#342c6c"/><stop offset="0.604" stop-color="#612e79"/><stop offset="0.618" stop-color="#8b2e7c"/><stop offset="0.630" stop-color="#b2397a"/><stop offset="0.639" stop-color="#bb3d77"/><stop offset="0.649" stop-color="#b2397a"/><stop offset="0.659" stop-color="#8c2e7c"/><stop offset="0.670" stop-color="#5e2e78"/><stop offset="0.682" stop-color="#3d2f70"/><stop offset="0.688" stop-color="#2f2a6a"/><stop offset="0.701" stop-color="#221d53"/><stop offset="0.709" stop-color="#1d184b"/><stop offset="0.736" stop-color="#1a1545"/><stop offset="0.831" stop-color="#1c1749"/><stop offset="0.999" stop-color="#2d2968"/></linearGradient><linearGradient id="h45"><stop offset="0.001" stop-color="#121035"/><stop offset="0.467" stop-color="#121035"/><stop offset="0.506" stop-color="#141139"/><stop offset="0.537" stop-color="#1a1544"/><stop offset="0.552" stop-color="#201b50"/><stop offset="0.572" stop-color="#2c2867"/><stop offset="0.583" stop-color="#3d2f70"/><stop offset="0.601" stop-color="#632e79"/><stop offset="0.612" stop-color="#8c2e7c"/><stop offset="0.620" stop-color="#b1397a"/><stop offset="0.626" stop-color="#c34074"/><stop offset="0.632" stop-color="#cf476f"/><stop offset="0.639" stop-color="#d54e6c"/><stop offset="0.647" stop-color="#d14a6e"/><stop offset="0.655" stop-color="#c03f75"/><stop offset="0.659" stop-color="#b2397a"/><stop offset="0.664" stop-color="#902e7c"/><stop offset="0.674" stop-color="#612e79"/><stop offset="0.688" stop-color="#382d6e"/><stop offset="0.693" stop-color="#2c2867"/><stop offset="0.709" stop-color="#201b50"/><stop offset="0.732" stop-color="#1b1647"/><stop offset="0.821" stop-color="#1d184a"/><stop offset="0.999" stop-color="#2f2a6a"/></linearGradient><linearGradient id="h46"><stop offset="0.001" stop-color="#121036"/><stop offset="0.469" stop-color="#131037"/><stop offset="0.506" stop-color="#14113a"/><stop offset="0.537" stop-color="#191544"/><stop offset="0.570" stop-color="#292460"/><stop offset="0.583" stop-color="#372d6d"/><stop offset="0.604" stop-color="#5e2e78"/><stop offset="0.620" stop-color="#8d2e7c"/><stop offset="0.632" stop-color="#b33a7a"/><stop offset="0.641" stop-color="#bc3d76"/><stop offset="0.647" stop-color="#ba3c77"/><stop offset="0.653" stop-color="#b0387a"/><stop offset="0.662" stop-color="#892e7c"/><stop offset="0.674" stop-color="#5d2e78"/><stop offset="0.690" stop-color="#342c6c"/><stop offset="0.697" stop-color="#292561"/><stop offset="0.713" stop-color="#1f1a4f"/><stop offset="0.738" stop-color="#1c174a"/><stop offset="0.821" stop-color="#1e194d"/><stop offset="0.999" stop-color="#322b6b"/></linearGradient><linearGradient id="h47"><stop offset="0.001" stop-color="#131138"/><stop offset="0.496" stop-color="#131138"/><stop offset="0.539" stop-color="#16133e"/><stop offset="0.566" stop-color="#1b1648"/><stop offset="0.581" stop-color="#211c53"/><stop offset="0.601" stop-color="#2d2969"/><stop offset="0.612" stop-color="#3f2f70"/><stop offset="0.628" stop-color="#612e79"/><stop offset="0.639" stop-color="#8b2e7c"/><stop offset="0.647" stop-color="#af387a"/><stop offset="0.651" stop-color="#bb3d76"/><stop offset="0.659" stop-color="#cb4470"/><stop offset="0.664" stop-color="#ce476f"/><stop offset="0.670" stop-color="#cb4370"/><stop offset="0.678" stop-color="#b83c78"/><stop offset="0.680" stop-color="#b1397a"/><stop offset="0.686" stop-color="#8e2e7c"/><stop offset="0.695" stop-color="#602e78"/><stop offset="0.707" stop-color="#3c2e6f"/><stop offset="0.713" stop-color="#2e2a69"/><stop offset="0.728" stop-color="#211c53"/><stop offset="0.748" stop-color="#1e194c"/><stop offset="0.815" stop-color="#1f1a4f"/><stop offset="0.958" stop-color="#2e2a6a"/><stop offset="0.999" stop-color="#352c6c"/></linearGradient><linearGradient id="h48"><stop offset="0.001" stop-color="#141139"/><stop offset="0.498" stop-color="#14113a"/><stop offset="0.539" stop-color="#17133f"/><stop offset="0.566" stop-color="#1d184a"/><stop offset="0.599" stop-color="#2e2a6a"/><stop offset="0.612" stop-color="#452f72"/><stop offset="0.622" stop-color="#5b2e77"/><stop offset="0.630" stop-color="#752c7c"/><stop offset="0.635" stop-color="#8e2e7c"/><stop offset="0.641" stop-color="#b0387a"/><stop offset="0.649" stop-color="#ce466f"/><stop offset="0.657" stop-color="#de5869"/><stop offset="0.664" stop-color="#e35e66"/><stop offset="0.674" stop-color="#de5769"/><stop offset="0.682" stop-color="#c94371"/><stop offset="0.686" stop-color="#b73b78"/><stop offset="0.691" stop-color="#8d2e7c"/><stop offset="0.697" stop-color="#6c2d7b"/><stop offset="0.701" stop-color="#5a2e77"/><stop offset="0.709" stop-color="#412f71"/><stop offset="0.717" stop-color="#2e2a6a"/><stop offset="0.730" stop-color="#231e56"/><stop offset="0.750" stop-color="#1f1a4f"/><stop offset="0.809" stop-color="#201b51"/><stop offset="0.945" stop-color="#2e2a6a"/><stop offset="0.999" stop-color="#372d6d"/></linearGradient><linearGradient id="h49"><stop offset="0.001" stop-color="#15123b"/><stop offset="0.500" stop-color="#15123b"/><stop offset="0.541" stop-color="#181441"/><stop offset="0.566" stop-color="#1c174a"/><stop offset="0.601" stop-color="#2d2969"/><stop offset="0.614" stop-color="#422f71"/><stop offset="0.630" stop-color="#642d79"/><stop offset="0.641" stop-color="#8d2e7c"/><stop offset="0.649" stop-color="#b2397a"/><stop offset="0.653" stop-color="#bd3e76"/><stop offset="0.659" stop-color="#ca4371"/><stop offset="0.666" stop-color="#d1496e"/><stop offset="0.674" stop-color="#cc4470"/><stop offset="0.682" stop-color="#b93c77"/><stop offset="0.684" stop-color="#b2397a"/><stop offset="0.690" stop-color="#8f2e7c"/><stop offset="0.699" stop-color="#622e79"/><stop offset="0.711" stop-color="#3e2f70"/><stop offset="0.719" stop-color="#2d2969"/><stop offset="0.732" stop-color="#241f58"/><stop offset="0.751" stop-color="#201b51"/><stop offset="0.806" stop-color="#211c53"/><stop offset="0.933" stop-color="#2e2a6a"/><stop offset="0.999" stop-color="#3a2e6e"/></linearGradient><linearGradient id="h50"><stop offset="0.001" stop-color="#15123c"/><stop offset="0.500" stop-color="#16123c"/><stop offset="0.562" stop-color="#191443"/><stop offset="0.595" stop-color="#1f1a4e"/><stop offset="0.626" stop-color="#2e2a6a"/><stop offset="0.639" stop-color="#442f72"/><stop offset="0.651" stop-color="#5f2e78"/><stop offset="0.657" stop-color="#742c7c"/><stop offset="0.662" stop-color="#8e2e7c"/><stop offset="0.668" stop-color="#b1397a"/><stop offset="0.676" stop-color="#cd456f"/><stop offset="0.684" stop-color="#db556a"/><stop offset="0.690" stop-color="#df5869"/><stop offset="0.697" stop-color="#d7506c"/><stop offset="0.703" stop-color="#c64272"/><stop offset="0.707" stop-color="#b53a79"/><stop offset="0.713" stop-color="#8a2e7c"/><stop offset="0.721" stop-color="#5f2e78"/><stop offset="0.726" stop-color="#4a2f73"/><stop offset="0.736" stop-color="#302b6b"/><stop offset="0.746" stop-color="#27225d"/><stop offset="0.761" stop-color="#221d54"/><stop offset="0.796" stop-color="#221d55"/><stop offset="0.924" stop-color="#2e2a6a"/><stop offset="0.999" stop-color="#3c2e6f"/></linearGradient><linearGradient id="h51"><stop offset="0.001" stop-color="#16133e"/><stop offset="0.500" stop-color="#16133e"/><stop offset="0.562" stop-color="#1a1545"/><stop offset="0.595" stop-color="#201b50"/><stop offset="0.624" stop-color="#2f2a6a"/><stop offset="0.639" stop-color="#4a2f73"/><stop offset="0.649" stop-color="#622e79"/><stop offset="0.659" stop-color="#8c2e7c"/><stop offset="0.664" stop-color="#b2397a"/><stop offset="0.672" stop-color="#d44c6d"/><stop offset="0.676" stop-color="#e05968"/><stop offset="0.680" stop-color="#e56265"/><stop offset="0.690" stop-color="#ea6c62"/><stop offset="0.697" stop-color="#e86763"/><stop offset="0.705" stop-color="#dc556a"/><stop offset="0.709" stop-color="#cc4570"/><stop offset="0.713" stop-color="#b63a79"/><stop offset="0.717" stop-color="#94307c"/><stop offset="0.721" stop-color="#782c7c"/><stop offset="0.726" stop-color="#592e77"/><stop offset="0.740" stop-color="#302b6b"/><stop offset="0.750" stop-color="#27225e"/><stop offset="0.763" stop-color="#231e57"/><stop offset="0.792" stop-color="#241f57"/><stop offset="0.897" stop-color="#2c2867"/><stop offset="0.999" stop-color="#3e2f70"/></linearGradient><linearGradient id="h52"><stop offset="0.001" stop-color="#171340"/><stop offset="0.500" stop-color="#171340"/><stop offset="0.564" stop-color="#1b1647"/><stop offset="0.597" stop-color="#201b51"/><stop offset="0.626" stop-color="#2e2a69"/><stop offset="0.643" stop-color="#4a2f73"/><stop offset="0.651" stop-color="#5b2e77"/><stop offset="0.659" stop-color="#752c7c"/><stop offset="0.664" stop-color="#8f2e7c"/><stop offset="0.670" stop-color="#b1397a"/><stop offset="0.678" stop-color="#ce466f"/><stop offset="0.686" stop-color="#dd5769"/><stop offset="0.691" stop-color="#e15c67"/><stop offset="0.699" stop-color="#de5769"/><stop offset="0.707" stop-color="#cc4470"/><stop offset="0.713" stop-color="#b0387a"/><stop offset="0.717" stop-color="#932f7c"/><stop offset="0.726" stop-color="#5d2e78"/><stop offset="0.740" stop-color="#352c6d"/><stop offset="0.744" stop-color="#2e2a6a"/><stop offset="0.751" stop-color="#282460"/><stop offset="0.775" stop-color="#241f59"/><stop offset="0.858" stop-color="#292461"/><stop offset="0.902" stop-color="#2e2a6a"/><stop offset="0.999" stop-color="#402f70"/></linearGradient><linearGradient id="h53"><stop offset="0.001" stop-color="#181442"/><stop offset="0.500" stop-color="#181442"/><stop offset="0.587" stop-color="#1d184a"/><stop offset="0.624" stop-color="#221d54"/><stop offset="0.651" stop-color="#2f2a6a"/><stop offset="0.666" stop-color="#492f73"/><stop offset="0.674" stop-color="#5c2e78"/><stop offset="0.680" stop-color="#722c7c"/><stop offset="0.686" stop-color="#8e2e7c"/><stop offset="0.691" stop-color="#b53a79"/><stop offset="0.697" stop-color="#d0486f"/><stop offset="0.703" stop-color="#e05b68"/><stop offset="0.713" stop-color="#e86663"/><stop offset="0.721" stop-color="#e56165"/><stop offset="0.726" stop-color="#d9526b"/><stop offset="0.732" stop-color="#bd3e76"/><stop offset="0.734" stop-color="#b0387a"/><stop offset="0.738" stop-color="#8c2e7c"/><stop offset="0.746" stop-color="#5c2e78"/><stop offset="0.757" stop-color="#362d6d"/><stop offset="0.761" stop-color="#2e2a6a"/><stop offset="0.767" stop-color="#2a2562"/><stop offset="0.788" stop-color="#26215c"/><stop offset="0.864" stop-color="#2b2764"/><stop offset="0.891" stop-color="#2e2a6a"/><stop offset="0.945" stop-color="#3b2e6f"/><stop offset="0.999" stop-color="#422f71"/></linearGradient><linearGradient id="h54"><stop offset="0.001" stop-color="#191544"/><stop offset="0.500" stop-color="#191544"/><stop offset="0.587" stop-color="#1e194c"/><stop offset="0.624" stop-color="#231e57"/><stop offset="0.649" stop-color="#2f2a6a"/><stop offset="0.664" stop-color="#492f73"/><stop offset="0.674" stop-color="#622e79"/><stop offset="0.684" stop-color="#902f7c"/><stop offset="0.690" stop-color="#ba3c77"/><stop offset="0.693" stop-color="#ce466f"/><stop offset="0.697" stop-color="#de5769"/><stop offset="0.703" stop-color="#e96963"/><stop offset="0.707" stop-color="#ec7164"/><stop offset="0.715" stop-color="#ee7a66"/><stop offset="0.722" stop-color="#ed7465"/><stop offset="0.726" stop-color="#ea6c62"/><stop offset="0.732" stop-color="#de5869"/><stop offset="0.736" stop-color="#ca4371"/><stop offset="0.738" stop-color="#bc3d76"/><stop offset="0.742" stop-color="#97317b"/><stop offset="0.746" stop-color="#772c7c"/><stop offset="0.750" stop-color="#5f2e78"/><stop offset="0.761" stop-color="#382d6e"/><stop offset="0.771" stop-color="#2a2664"/><stop offset="0.792" stop-color="#27225e"/><stop offset="0.866" stop-color="#2c2867"/><stop offset="0.945" stop-color="#3e2f70"/><stop offset="0.999" stop-color="#432f71"/></linearGradient><linearGradient id="h55"><stop offset="0.001" stop-color="#1a1546"/><stop offset="0.500" stop-color="#1a1546"/><stop offset="0.593" stop-color="#1f1a4e"/><stop offset="0.632" stop-color="#26215b"/><stop offset="0.651" stop-color="#2e2a6a"/><stop offset="0.662" stop-color="#3f2f70"/><stop offset="0.672" stop-color="#522f75"/><stop offset="0.678" stop-color="#612e79"/><stop offset="0.688" stop-color="#8b2e7c"/><stop offset="0.693" stop-color="#b1397a"/><stop offset="0.701" stop-color="#d44c6d"/><stop offset="0.705" stop-color="#e05a68"/><stop offset="0.709" stop-color="#e56265"/><stop offset="0.719" stop-color="#ea6b62"/><stop offset="0.726" stop-color="#e66464"/><stop offset="0.732" stop-color="#db556a"/><stop offset="0.736" stop-color="#cb4470"/><stop offset="0.740" stop-color="#b33a79"/><stop offset="0.744" stop-color="#902f7c"/><stop offset="0.751" stop-color="#602e78"/><stop offset="0.763" stop-color="#3a2e6f"/><stop offset="0.773" stop-color="#2c2866"/><stop offset="0.792" stop-color="#282460"/><stop offset="0.864" stop-color="#2d2969"/><stop offset="0.945" stop-color="#402f70"/><stop offset="0.999" stop-color="#452f72"/></linearGradient><linearGradient id="h56"><stop offset="0.001" stop-color="#1b1648"/><stop offset="0.500" stop-color="#1b1648"/><stop offset="0.616" stop-color="#211c52"/><stop offset="0.659" stop-color="#27225e"/><stop offset="0.676" stop-color="#302b6b"/><stop offset="0.686" stop-color="#3e2f70"/><stop offset="0.695" stop-color="#532f75"/><stop offset="0.701" stop-color="#642d79"/><stop offset="0.709" stop-color="#8a2e7c"/><stop offset="0.715" stop-color="#b53a79"/><stop offset="0.719" stop-color="#cc4470"/><stop offset="0.722" stop-color="#dc566a"/><stop offset="0.730" stop-color="#ea6c62"/><stop offset="0.738" stop-color="#ed7565"/><stop offset="0.744" stop-color="#ec7164"/><stop offset="0.751" stop-color="#e15c67"/><stop offset="0.757" stop-color="#c24074"/><stop offset="0.759" stop-color="#b3397a"/><stop offset="0.761" stop-color="#9e337b"/><stop offset="0.765" stop-color="#7a2c7c"/><stop offset="0.769" stop-color="#602e78"/><stop offset="0.777" stop-color="#422f71"/><stop offset="0.786" stop-color="#2e2a6a"/><stop offset="0.802" stop-color="#2a2663"/><stop offset="0.856" stop-color="#2e2a6a"/><stop offset="0.945" stop-color="#422f71"/><stop offset="0.999" stop-color="#462f72"/></linearGradient><linearGradient id="h57"><stop offset="0.001" stop-color="#1d184a"/><stop offset="0.500" stop-color="#1d184a"/><stop offset="0.616" stop-color="#221d54"/><stop offset="0.659" stop-color="#28235f"/><stop offset="0.674" stop-color="#2f2a6a"/><stop offset="0.690" stop-color="#472f72"/><stop offset="0.699" stop-color="#602e78"/><stop offset="0.705" stop-color="#7a2c7c"/><stop offset="0.709" stop-color="#902f7c"/><stop offset="0.713" stop-color="#b1397a"/><stop offset="0.717" stop-color="#c94371"/><stop offset="0.722" stop-color="#e35e66"/><stop offset="0.726" stop-color="#ea6c62"/><stop offset="0.734" stop-color="#ef8368"/><stop offset="0.740" stop-color="#f08c69"/><stop offset="0.744" stop-color="#f08b69"/><stop offset="0.748" stop-color="#ef8368"/><stop offset="0.755" stop-color="#e96863"/><stop offset="0.757" stop-color="#e35f66"/><stop offset="0.761" stop-color="#cf476f"/><stop offset="0.765" stop-color="#ad377a"/><stop offset="0.767" stop-color="#96307c"/><stop offset="0.771" stop-color="#732c7c"/><stop offset="0.775" stop-color="#5b2e77"/><stop offset="0.782" stop-color="#3f2f70"/><stop offset="0.792" stop-color="#2e2a6a"/><stop offset="0.806" stop-color="#2b2765"/><stop offset="0.844" stop-color="#2e2a6a"/><stop offset="0.945" stop-color="#442f71"/><stop offset="0.999" stop-color="#472f72"/></linearGradient><linearGradient id="h58"><stop offset="0.001" stop-color="#1e194c"/><stop offset="0.500" stop-color="#1e194c"/><stop offset="0.618" stop-color="#231e56"/><stop offset="0.662" stop-color="#292461"/><stop offset="0.680" stop-color="#332c6c"/><stop offset="0.690" stop-color="#412f71"/><stop offset="0.699" stop-color="#552f76"/><stop offset="0.705" stop-color="#672d7a"/><stop offset="0.713" stop-color="#8b2e7c"/><stop offset="0.719" stop-color="#b63b78"/><stop offset="0.722" stop-color="#cc4470"/><stop offset="0.726" stop-color="#dc5669"/><stop offset="0.732" stop-color="#e96863"/><stop offset="0.736" stop-color="#ec7264"/><stop offset="0.744" stop-color="#ee7a66"/><stop offset="0.751" stop-color="#ec7364"/><stop offset="0.755" stop-color="#ea6a62"/><stop offset="0.759" stop-color="#e15c67"/><stop offset="0.765" stop-color="#c03f74"/><stop offset="0.769" stop-color="#9c327b"/><stop offset="0.773" stop-color="#7a2c7c"/><stop offset="0.777" stop-color="#612e79"/><stop offset="0.786" stop-color="#3f2f70"/><stop offset="0.798" stop-color="#2e2a6a"/><stop offset="0.833" stop-color="#2e2a6a"/><stop offset="0.945" stop-color="#452f72"/><stop offset="0.999" stop-color="#482f72"/></linearGradient><linearGradient id="h59"><stop offset="0.001" stop-color="#1f1a4e"/><stop offset="0.500" stop-color="#1f1a4e"/><stop offset="0.653" stop-color="#25215b"/><stop offset="0.688" stop-color="#2a2663"/><stop offset="0.701" stop-color="#312b6b"/><stop offset="0.717" stop-color="#492f73"/><stop offset="0.726" stop-color="#642d79"/><stop offset="0.734" stop-color="#8e2e7c"/><stop offset="0.738" stop-color="#b0387a"/><stop offset="0.742" stop-color="#cb4470"/><stop offset="0.746" stop-color="#df5968"/><stop offset="0.750" stop-color="#e96863"/><stop offset="0.757" stop-color="#ef8067"/><stop offset="0.763" stop-color="#ef8869"/><stop offset="0.769" stop-color="#ee7f67"/><stop offset="0.775" stop-color="#ea6b62"/><stop offset="0.779" stop-color="#de5869"/><stop offset="0.782" stop-color="#c13f74"/><stop offset="0.786" stop-color="#95307c"/><stop offset="0.790" stop-color="#712c7b"/><stop offset="0.794" stop-color="#592e77"/><stop offset="0.802" stop-color="#3e2f70"/><stop offset="0.811" stop-color="#312b6b"/><stop offset="0.840" stop-color="#312b6b"/><stop offset="0.945" stop-color="#472f72"/><stop offset="0.999" stop-color="#482f73"/></linearGradient><linearGradient id="h60"><stop offset="0.001" stop-color="#201b51"/><stop offset="0.500" stop-color="#201b51"/><stop offset="0.653" stop-color="#26215c"/><stop offset="0.688" stop-color="#2b2664"/><stop offset="0.701" stop-color="#312b6b"/><stop offset="0.717" stop-color="#482f73"/><stop offset="0.726" stop-color="#622e79"/><stop offset="0.734" stop-color="#8b2e7c"/><stop offset="0.738" stop-color="#ad387a"/><stop offset="0.742" stop-color="#ca4371"/><stop offset="0.746" stop-color="#e05a68"/><stop offset="0.750" stop-color="#ea6b62"/><stop offset="0.757" stop-color="#f08c69"/><stop offset="0.765" stop-color="#f19b6e"/><stop offset="0.773" stop-color="#f0936b"/><stop offset="0.779" stop-color="#ee7866"/><stop offset="0.782" stop-color="#e66464"/><stop offset="0.784" stop-color="#df5968"/><stop offset="0.786" stop-color="#d0496e"/><stop offset="0.790" stop-color="#a9367b"/><stop offset="0.792" stop-color="#8e2e7c"/><stop offset="0.798" stop-color="#5f2e78"/><stop offset="0.806" stop-color="#422f71"/><stop offset="0.815" stop-color="#332c6c"/><stop offset="0.837" stop-color="#332b6c"/><stop offset="0.945" stop-color="#482f72"/><stop offset="0.999" stop-color="#492f73"/></linearGradient><linearGradient id="h61"><stop offset="0.001" stop-color="#211c53"/><stop offset="0.500" stop-color="#211c53"/><stop offset="0.655" stop-color="#27225d"/><stop offset="0.691" stop-color="#2b2765"/><stop offset="0.707" stop-color="#342c6c"/><stop offset="0.722" stop-color="#4c2f74"/><stop offset="0.730" stop-color="#612e78"/><stop offset="0.736" stop-color="#7b2d7c"/><stop offset="0.740" stop-color="#93307c"/><stop offset="0.744" stop-color="#b43a79"/><stop offset="0.748" stop-color="#ce466f"/><stop offset="0.751" stop-color="#e15b68"/><stop offset="0.755" stop-color="#ea6a62"/><stop offset="0.763" stop-color="#ef8568"/><stop offset="0.769" stop-color="#f0906a"/><stop offset="0.773" stop-color="#f0906a"/><stop offset="0.777" stop-color="#ef8868"/><stop offset="0.784" stop-color="#e96962"/><stop offset="0.786" stop-color="#e35f66"/><stop offset="0.790" stop-color="#cd4570"/><stop offset="0.792" stop-color="#bb3d76"/><stop offset="0.796" stop-color="#8e2e7c"/><stop offset="0.802" stop-color="#622e79"/><stop offset="0.809" stop-color="#452f72"/><stop offset="0.819" stop-color="#362d6d"/><stop offset="0.837" stop-color="#342c6c"/><stop offset="0.945" stop-color="#492f73"/><stop offset="0.999" stop-color="#492f73"/></linearGradient><linearGradient id="h62"><stop offset="0.001" stop-color="#221d55"/><stop offset="0.500" stop-color="#221d55"/><stop offset="0.676" stop-color="#282460"/><stop offset="0.717" stop-color="#2d2868"/><stop offset="0.732" stop-color="#372d6e"/><stop offset="0.744" stop-color="#4b2f73"/><stop offset="0.751" stop-color="#622e79"/><stop offset="0.755" stop-color="#752c7c"/><stop offset="0.759" stop-color="#8f2e7c"/><stop offset="0.765" stop-color="#c44173"/><stop offset="0.769" stop-color="#dd5769"/><stop offset="0.771" stop-color="#e56165"/><stop offset="0.773" stop-color="#ea6b62"/><stop offset="0.780" stop-color="#f08f6a"/><stop offset="0.786" stop-color="#f19a6e"/><stop offset="0.790" stop-color="#f1986d"/><stop offset="0.794" stop-color="#f0906a"/><stop offset="0.802" stop-color="#e66464"/><stop offset="0.804" stop-color="#dd5769"/><stop offset="0.806" stop-color="#cd4570"/><stop offset="0.809" stop-color="#9e337b"/><stop offset="0.811" stop-color="#852d7c"/><stop offset="0.815" stop-color="#642d79"/><stop offset="0.819" stop-color="#512f75"/><stop offset="0.823" stop-color="#442f72"/><stop offset="0.831" stop-color="#392d6e"/><stop offset="0.844" stop-color="#372d6d"/><stop offset="0.945" stop-color="#4a2f73"/><stop offset="0.999" stop-color="#492f73"/></linearGradient><linearGradient id="h63"><stop offset="0.001" stop-color="#231e57"/><stop offset="0.500" stop-color="#231e57"/><stop offset="0.676" stop-color="#292461"/><stop offset="0.719" stop-color="#2d2969"/><stop offset="0.734" stop-color="#392d6e"/><stop offset="0.746" stop-color="#4c2f74"/><stop offset="0.753" stop-color="#632e79"/><stop offset="0.757" stop-color="#762c7c"/><stop offset="0.761" stop-color="#902f7c"/><stop offset="0.767" stop-color="#c64172"/><stop offset="0.771" stop-color="#e05a68"/><stop offset="0.773" stop-color="#e66464"/><stop offset="0.775" stop-color="#eb6e63"/><stop offset="0.782" stop-color="#f1976d"/><stop offset="0.788" stop-color="#f3a976"/><stop offset="0.792" stop-color="#f4ac79"/><stop offset="0.796" stop-color="#f3a775"/><stop offset="0.800" stop-color="#f1996d"/><stop offset="0.802" stop-color="#f0906a"/><stop offset="0.808" stop-color="#e86763"/><stop offset="0.809" stop-color="#df5968"/><stop offset="0.811" stop-color="#ce466f"/><stop offset="0.815" stop-color="#9d337b"/><stop offset="0.817" stop-color="#852d7c"/><stop offset="0.821" stop-color="#642d79"/><stop offset="0.827" stop-color="#4b2f73"/><stop offset="0.835" stop-color="#3c2e6f"/><stop offset="0.848" stop-color="#3a2e6e"/><stop offset="0.945" stop-color="#4a2f73"/><stop offset="0.999" stop-color="#482f73"/></linearGradient><linearGradient id="h64"><stop offset="0.001" stop-color="#241f59"/><stop offset="0.500" stop-color="#241f59"/><stop offset="0.676" stop-color="#2a2562"/><stop offset="0.721" stop-color="#2e2a69"/><stop offset="0.736" stop-color="#372d6e"/><stop offset="0.750" stop-color="#4b2f73"/><stop offset="0.757" stop-color="#5f2e78"/><stop offset="0.765" stop-color="#882e7c"/><stop offset="0.769" stop-color="#aa377a"/><stop offset="0.773" stop-color="#c94371"/><stop offset="0.777" stop-color="#e15b68"/><stop offset="0.780" stop-color="#eb6d63"/><stop offset="0.788" stop-color="#f0936b"/><stop offset="0.796" stop-color="#f2a372"/><stop offset="0.802" stop-color="#f29c6f"/><stop offset="0.806" stop-color="#f0906a"/><stop offset="0.811" stop-color="#ea6b62"/><stop offset="0.813" stop-color="#e35f66"/><stop offset="0.817" stop-color="#c54173"/><stop offset="0.819" stop-color="#af387a"/><stop offset="0.821" stop-color="#93307c"/><stop offset="0.823" stop-color="#7f2d7c"/><stop offset="0.827" stop-color="#612e79"/><stop offset="0.833" stop-color="#4b2f73"/><stop offset="0.840" stop-color="#3e2f70"/><stop offset="0.852" stop-color="#3c2e6f"/><stop offset="0.945" stop-color="#4b2f73"/><stop offset="0.999" stop-color="#482f73"/></linearGradient><linearGradient id="h65"><stop offset="0.001" stop-color="#26215b"/><stop offset="0.500" stop-color="#26215b"/><stop offset="0.738" stop-color="#2e2a6a"/><stop offset="0.755" stop-color="#372d6d"/><stop offset="0.769" stop-color="#4a2f73"/><stop offset="0.777" stop-color="#5f2e78"/><stop offset="0.780" stop-color="#722c7c"/><stop offset="0.784" stop-color="#8e2e7c"/><stop offset="0.788" stop-color="#b83b78"/><stop offset="0.790" stop-color="#c94371"/><stop offset="0.794" stop-color="#e35e66"/><stop offset="0.796" stop-color="#ea6a62"/><stop offset="0.804" stop-color="#f1996d"/><stop offset="0.808" stop-color="#f3a875"/><stop offset="0.811" stop-color="#f4af7a"/><stop offset="0.815" stop-color="#f3aa77"/><stop offset="0.819" stop-color="#f19a6e"/><stop offset="0.821" stop-color="#f08f6a"/><stop offset="0.825" stop-color="#eb6f63"/><stop offset="0.827" stop-color="#e46066"/><stop offset="0.829" stop-color="#d44d6d"/><stop offset="0.831" stop-color="#be3e76"/><stop offset="0.833" stop-color="#a1347b"/><stop offset="0.835" stop-color="#852d7c"/><stop offset="0.838" stop-color="#622e79"/><stop offset="0.844" stop-color="#4a2f73"/><stop offset="0.850" stop-color="#412f71"/><stop offset="0.860" stop-color="#3f2f70"/><stop offset="0.945" stop-color="#4b2f73"/><stop offset="0.999" stop-color="#482f72"/></linearGradient><linearGradient id="h66"><stop offset="0.001" stop-color="#26225d"/><stop offset="0.500" stop-color="#26225d"/><stop offset="0.740" stop-color="#2f2a6a"/><stop offset="0.759" stop-color="#392d6e"/><stop offset="0.773" stop-color="#4c2f73"/><stop offset="0.780" stop-color="#622e79"/><stop offset="0.784" stop-color="#762c7c"/><stop offset="0.788" stop-color="#94307c"/><stop offset="0.794" stop-color="#cd466f"/><stop offset="0.798" stop-color="#e56265"/><stop offset="0.800" stop-color="#eb6e63"/><stop offset="0.804" stop-color="#ef8969"/><stop offset="0.809" stop-color="#f4aa77"/><stop offset="0.813" stop-color="#f6ba84"/><stop offset="0.817" stop-color="#f7c088"/><stop offset="0.819" stop-color="#f6be87"/><stop offset="0.823" stop-color="#f4b07b"/><stop offset="0.827" stop-color="#f1986d"/><stop offset="0.833" stop-color="#e86663"/><stop offset="0.835" stop-color="#db556a"/><stop offset="0.837" stop-color="#c64172"/><stop offset="0.838" stop-color="#aa377a"/><stop offset="0.840" stop-color="#8b2e7c"/><stop offset="0.842" stop-color="#762c7c"/><stop offset="0.846" stop-color="#5b2e77"/><stop offset="0.850" stop-color="#4d2f74"/><stop offset="0.856" stop-color="#432f71"/><stop offset="0.866" stop-color="#412f71"/><stop offset="0.945" stop-color="#4b2f73"/><stop offset="0.999" stop-color="#472f72"/></linearGradient><linearGradient id="h67"><stop offset="0.001" stop-color="#27235e"/><stop offset="0.500" stop-color="#27235e"/><stop offset="0.744" stop-color="#302b6b"/><stop offset="0.765" stop-color="#3b2e6f"/><stop offset="0.779" stop-color="#4e2f74"/><stop offset="0.786" stop-color="#642d79"/><stop offset="0.790" stop-color="#782c7c"/><stop offset="0.794" stop-color="#95307c"/><stop offset="0.800" stop-color="#cd4570"/><stop offset="0.804" stop-color="#e46066"/><stop offset="0.806" stop-color="#ea6c62"/><stop offset="0.811" stop-color="#f0926b"/><stop offset="0.815" stop-color="#f3a574"/><stop offset="0.819" stop-color="#f5b57f"/><stop offset="0.823" stop-color="#f6bb84"/><stop offset="0.827" stop-color="#f5b57f"/><stop offset="0.829" stop-color="#f4ae7a"/><stop offset="0.833" stop-color="#f1986d"/><stop offset="0.838" stop-color="#e96962"/><stop offset="0.840" stop-color="#df5968"/><stop offset="0.842" stop-color="#cc4470"/><stop offset="0.844" stop-color="#b33a79"/><stop offset="0.846" stop-color="#94307c"/><stop offset="0.850" stop-color="#6c2d7b"/><stop offset="0.854" stop-color="#572e76"/><stop offset="0.862" stop-color="#462f72"/><stop offset="0.871" stop-color="#432f71"/><stop offset="0.945" stop-color="#4b2f73"/><stop offset="0.999" stop-color="#472f72"/></linearGradient><linearGradient id="h68"><stop offset="0.001" stop-color="#28235f"/><stop offset="0.500" stop-color="#28235f"/><stop offset="0.707" stop-color="#2d2968"/><stop offset="0.767" stop-color="#342c6c"/><stop offset="0.784" stop-color="#3c2e6f"/><stop offset="0.796" stop-color="#4c2f74"/><stop offset="0.804" stop-color="#642d79"/><stop offset="0.809" stop-color="#8a2e7c"/><stop offset="0.813" stop-color="#b73b78"/><stop offset="0.815" stop-color="#cb4470"/><stop offset="0.819" stop-color="#e66464"/><stop offset="0.821" stop-color="#ec7164"/><stop offset="0.827" stop-color="#f29f6f"/><stop offset="0.831" stop-color="#f5b781"/><stop offset="0.835" stop-color="#f7c48d"/><stop offset="0.837" stop-color="#f8c58d"/><stop offset="0.838" stop-color="#f7c28a"/><stop offset="0.842" stop-color="#f4ad79"/><stop offset="0.846" stop-color="#f08d6a"/><stop offset="0.850" stop-color="#e66464"/><stop offset="0.852" stop-color="#d54e6c"/><stop offset="0.854" stop-color="#ba3c77"/><stop offset="0.856" stop-color="#97317b"/><stop offset="0.858" stop-color="#7c2d7c"/><stop offset="0.862" stop-color="#5c2e77"/><stop offset="0.866" stop-color="#4e2f74"/><stop offset="0.869" stop-color="#472f72"/><stop offset="0.945" stop-color="#4b2f73"/><stop offset="0.999" stop-color="#462f72"/></linearGradient><linearGradient id="h69"><stop offset="0.001" stop-color="#292460"/><stop offset="0.500" stop-color="#292460"/><stop offset="0.711" stop-color="#2d2969"/><stop offset="0.771" stop-color="#352c6d"/><stop offset="0.790" stop-color="#3e2f70"/><stop offset="0.802" stop-color="#4f2f74"/><stop offset="0.809" stop-color="#692d7a"/><stop offset="0.811" stop-color="#732c7c"/><stop offset="0.815" stop-color="#922f7c"/><stop offset="0.817" stop-color="#aa367a"/><stop offset="0.821" stop-color="#d14a6e"/><stop offset="0.823" stop-color="#e15b68"/><stop offset="0.825" stop-color="#e96962"/><stop offset="0.831" stop-color="#f1986d"/><stop offset="0.835" stop-color="#f5b57f"/><stop offset="0.838" stop-color="#f8cb92"/><stop offset="0.842" stop-color="#f7d49a"/><stop offset="0.846" stop-color="#f8c991"/><stop offset="0.850" stop-color="#f4ae7a"/><stop offset="0.852" stop-color="#f19c6e"/><stop offset="0.856" stop-color="#ec7264"/><stop offset="0.858" stop-color="#e35e66"/><stop offset="0.860" stop-color="#cd4570"/><stop offset="0.862" stop-color="#af387a"/><stop offset="0.864" stop-color="#8b2e7c"/><stop offset="0.866" stop-color="#742c7c"/><stop offset="0.869" stop-color="#592e77"/><stop offset="0.873" stop-color="#4f2f74"/><stop offset="0.879" stop-color="#482f73"/><stop offset="0.945" stop-color="#4a2f73"/><stop offset="0.999" stop-color="#452f72"/></linearGradient><linearGradient id="h70"><stop offset="0.001" stop-color="#292561"/><stop offset="0.500" stop-color="#292561"/><stop offset="0.713" stop-color="#2e2a6a"/><stop offset="0.775" stop-color="#362c6d"/><stop offset="0.794" stop-color="#3e2f70"/><stop offset="0.806" stop-color="#4b2f73"/><stop offset="0.813" stop-color="#5d2e78"/><stop offset="0.817" stop-color="#6f2c7b"/><stop offset="0.821" stop-color="#892e7c"/><stop offset="0.825" stop-color="#b43a79"/><stop offset="0.827" stop-color="#c64272"/><stop offset="0.831" stop-color="#e46066"/><stop offset="0.833" stop-color="#eb6d63"/><stop offset="0.838" stop-color="#f19c6e"/><stop offset="0.842" stop-color="#f6b882"/><stop offset="0.846" stop-color="#f8cd94"/><stop offset="0.850" stop-color="#f7d49a"/><stop offset="0.854" stop-color="#f8c890"/><stop offset="0.858" stop-color="#f4ac79"/><stop offset="0.860" stop-color="#f19a6e"/><stop offset="0.864" stop-color="#ec7064"/><stop offset="0.866" stop-color="#e25d67"/><stop offset="0.868" stop-color="#cc4470"/><stop offset="0.869" stop-color="#ad387a"/><stop offset="0.871" stop-color="#8c2e7c"/><stop offset="0.873" stop-color="#772c7c"/><stop offset="0.877" stop-color="#5d2e78"/><stop offset="0.881" stop-color="#522f75"/><stop offset="0.887" stop-color="#4a2f73"/><stop offset="0.999" stop-color="#432f71"/></linearGradient><linearGradient id="h71"><stop offset="0.001" stop-color="#2a2562"/><stop offset="0.500" stop-color="#2a2562"/><stop offset="0.639" stop-color="#2c2866"/><stop offset="0.717" stop-color="#2f2a6a"/><stop offset="0.796" stop-color="#3a2e6e"/><stop offset="0.813" stop-color="#412f71"/><stop offset="0.825" stop-color="#522f75"/><stop offset="0.831" stop-color="#672d7a"/><stop offset="0.835" stop-color="#812d7c"/><stop offset="0.837" stop-color="#95307c"/><stop offset="0.838" stop-color="#b1397a"/><stop offset="0.840" stop-color="#c74272"/><stop offset="0.842" stop-color="#db546a"/><stop offset="0.844" stop-color="#e76664"/><stop offset="0.850" stop-color="#f29e6f"/><stop offset="0.856" stop-color="#f8d097"/><stop offset="0.858" stop-color="#f7da9f"/><stop offset="0.860" stop-color="#f7dea3"/><stop offset="0.862" stop-color="#f7dba0"/><stop offset="0.864" stop-color="#f8cf96"/><stop offset="0.866" stop-color="#f7bf88"/><stop offset="0.869" stop-color="#f0936b"/><stop offset="0.871" stop-color="#ee7966"/><stop offset="0.873" stop-color="#e66464"/><stop offset="0.875" stop-color="#d54e6c"/><stop offset="0.877" stop-color="#bb3d77"/><stop offset="0.879" stop-color="#9a327b"/><stop offset="0.881" stop-color="#802d7c"/><stop offset="0.883" stop-color="#6f2c7b"/><stop offset="0.887" stop-color="#5a2e77"/><stop offset="0.891" stop-color="#502f75"/><stop offset="0.897" stop-color="#4a2f73"/><stop offset="0.999" stop-color="#422f71"/></linearGradient><linearGradient id="h72"><stop offset="0.001" stop-color="#2a2663"/><stop offset="0.500" stop-color="#2a2663"/><stop offset="0.649" stop-color="#2c2867"/><stop offset="0.724" stop-color="#302b6b"/><stop offset="0.802" stop-color="#3b2e6f"/><stop offset="0.819" stop-color="#422f71"/><stop offset="0.829" stop-color="#4d2f74"/><stop offset="0.837" stop-color="#622e79"/><stop offset="0.840" stop-color="#782c7c"/><stop offset="0.842" stop-color="#882e7c"/><stop offset="0.846" stop-color="#b93c77"/><stop offset="0.848" stop-color="#cf476f"/><stop offset="0.850" stop-color="#e15b68"/><stop offset="0.852" stop-color="#ea6b62"/><stop offset="0.856" stop-color="#f0936b"/><stop offset="0.858" stop-color="#f3a573"/><stop offset="0.862" stop-color="#f8c991"/><stop offset="0.864" stop-color="#f7d99e"/><stop offset="0.866" stop-color="#f6e2a6"/><stop offset="0.869" stop-color="#f6e2a6"/><stop offset="0.871" stop-color="#f7d79c"/><stop offset="0.877" stop-color="#f19b6e"/><stop offset="0.881" stop-color="#eb6d63"/><stop offset="0.883" stop-color="#df5968"/><stop offset="0.885" stop-color="#c74272"/><stop offset="0.887" stop-color="#a9367a"/><stop offset="0.889" stop-color="#8a2e7c"/><stop offset="0.891" stop-color="#762c7c"/><stop offset="0.895" stop-color="#5d2e78"/><stop offset="0.898" stop-color="#522f75"/><stop offset="0.904" stop-color="#4a2f73"/><stop offset="0.999" stop-color="#412f71"/></linearGradient><linearGradient id="h73"><stop offset="0.001" stop-color="#2a2664"/><stop offset="0.500" stop-color="#2a2664"/><stop offset="0.657" stop-color="#2d2968"/><stop offset="0.730" stop-color="#312b6b"/><stop offset="0.809" stop-color="#3d2f6f"/><stop offset="0.829" stop-color="#452f72"/><stop offset="0.840" stop-color="#552f76"/><stop offset="0.844" stop-color="#602e78"/><stop offset="0.848" stop-color="#742c7c"/><stop offset="0.852" stop-color="#96307c"/><stop offset="0.854" stop-color="#b0387a"/><stop offset="0.856" stop-color="#c64172"/><stop offset="0.858" stop-color="#da536b"/><stop offset="0.860" stop-color="#e76564"/><stop offset="0.866" stop-color="#f29d6f"/><stop offset="0.871" stop-color="#f7d69c"/><stop offset="0.873" stop-color="#f6e3a6"/><stop offset="0.877" stop-color="#f6e5a9"/><stop offset="0.879" stop-color="#f7dda2"/><stop offset="0.881" stop-color="#f8cd94"/><stop offset="0.885" stop-color="#f3a473"/><stop offset="0.889" stop-color="#ed7665"/><stop offset="0.891" stop-color="#e56165"/><stop offset="0.893" stop-color="#d14a6e"/><stop offset="0.895" stop-color="#b63b78"/><stop offset="0.897" stop-color="#95307c"/><stop offset="0.898" stop-color="#7d2d7c"/><stop offset="0.902" stop-color="#602e78"/><stop offset="0.904" stop-color="#592e77"/><stop offset="0.908" stop-color="#4f2f74"/><stop offset="0.914" stop-color="#492f73"/><stop offset="0.999" stop-color="#3f2f70"/></linearGradient><linearGradient id="h74"><stop offset="0.001" stop-color="#2b2664"/><stop offset="0.488" stop-color="#2b2664"/><stop offset="0.490" stop-color="#2e2a6a"/><stop offset="0.508" stop-color="#2b2764"/><stop offset="0.668" stop-color="#2d2969"/><stop offset="0.740" stop-color="#322b6c"/><stop offset="0.831" stop-color="#402f71"/><stop offset="0.844" stop-color="#462f72"/><stop offset="0.854" stop-color="#562e76"/><stop offset="0.856" stop-color="#5c2e78"/><stop offset="0.860" stop-color="#722c7c"/><stop offset="0.862" stop-color="#832d7c"/><stop offset="0.864" stop-color="#9c327b"/><stop offset="0.868" stop-color="#d44d6d"/><stop offset="0.869" stop-color="#e66364"/><stop offset="0.871" stop-color="#ed7865"/><stop offset="0.873" stop-color="#f0926b"/><stop offset="0.875" stop-color="#f3a775"/><stop offset="0.879" stop-color="#f8d097"/><stop offset="0.881" stop-color="#f7e0a4"/><stop offset="0.883" stop-color="#f5e6a9"/><stop offset="0.887" stop-color="#f6e2a6"/><stop offset="0.889" stop-color="#f7d59b"/><stop offset="0.895" stop-color="#f1986d"/><stop offset="0.898" stop-color="#ea6962"/><stop offset="0.900" stop-color="#da546a"/><stop offset="0.902" stop-color="#c13f74"/><stop offset="0.906" stop-color="#852d7c"/><stop offset="0.908" stop-color="#722c7c"/><stop offset="0.912" stop-color="#5b2e77"/><stop offset="0.916" stop-color="#502f75"/><stop offset="0.922" stop-color="#492f73"/><stop offset="0.999" stop-color="#3e2f70"/></linearGradient><linearGradient id="h75"><stop offset="0.001" stop-color="#2b2765"/><stop offset="0.670" stop-color="#2d2969"/><stop offset="0.742" stop-color="#332b6c"/><stop offset="0.840" stop-color="#422f71"/><stop offset="0.854" stop-color="#482f72"/><stop offset="0.862" stop-color="#532f75"/><stop offset="0.866" stop-color="#5f2e78"/><stop offset="0.868" stop-color="#692d7a"/><stop offset="0.869" stop-color="#762c7c"/><stop offset="0.871" stop-color="#8a2e7c"/><stop offset="0.873" stop-color="#ac377a"/><stop offset="0.875" stop-color="#ca4371"/><stop offset="0.877" stop-color="#e15c67"/><stop offset="0.879" stop-color="#eb7063"/><stop offset="0.883" stop-color="#f29e6f"/><stop offset="0.887" stop-color="#f8c890"/><stop offset="0.889" stop-color="#f7da9f"/><stop offset="0.891" stop-color="#f6e4a8"/><stop offset="0.895" stop-color="#f6e4a8"/><stop offset="0.897" stop-color="#f7dba0"/><stop offset="0.902" stop-color="#f29f70"/><stop offset="0.906" stop-color="#ec7164"/><stop offset="0.908" stop-color="#e25d67"/><stop offset="0.910" stop-color="#cb4470"/><stop offset="0.912" stop-color="#ae387a"/><stop offset="0.914" stop-color="#8d2e7c"/><stop offset="0.916" stop-color="#772c7c"/><stop offset="0.920" stop-color="#5d2e78"/><stop offset="0.924" stop-color="#512f75"/><stop offset="0.929" stop-color="#482f73"/><stop offset="0.999" stop-color="#3c2f6f"/></linearGradient><linearGradient id="h76"><stop offset="0.001" stop-color="#2b2765"/><stop offset="0.672" stop-color="#2e2a69"/><stop offset="0.852" stop-color="#432f71"/><stop offset="0.864" stop-color="#482f72"/><stop offset="0.871" stop-color="#522f75"/><stop offset="0.875" stop-color="#612e79"/><stop offset="0.877" stop-color="#6f2c7b"/><stop offset="0.879" stop-color="#822d7c"/><stop offset="0.881" stop-color="#9d337b"/><stop offset="0.883" stop-color="#be3e75"/><stop offset="0.885" stop-color="#d8516b"/><stop offset="0.887" stop-color="#e96863"/><stop offset="0.891" stop-color="#f1966c"/><stop offset="0.893" stop-color="#f4ac78"/><stop offset="0.897" stop-color="#f8d399"/><stop offset="0.898" stop-color="#f7e1a5"/><stop offset="0.900" stop-color="#f5e6a9"/><stop offset="0.904" stop-color="#f7dfa3"/><stop offset="0.906" stop-color="#f8d097"/><stop offset="0.910" stop-color="#f3a775"/><stop offset="0.912" stop-color="#f0926b"/><stop offset="0.916" stop-color="#e66464"/><stop offset="0.918" stop-color="#d44c6d"/><stop offset="0.920" stop-color="#b83c78"/><stop offset="0.922" stop-color="#96317c"/><stop offset="0.924" stop-color="#7d2d7c"/><stop offset="0.927" stop-color="#5f2e78"/><stop offset="0.929" stop-color="#572e76"/><stop offset="0.937" stop-color="#472f72"/><stop offset="0.999" stop-color="#3b2e6f"/></linearGradient><linearGradient id="h77"><stop offset="0.001" stop-color="#2c2866"/><stop offset="0.488" stop-color="#2c2866"/><stop offset="0.510" stop-color="#312b6b"/><stop offset="0.529" stop-color="#2c2867"/><stop offset="0.670" stop-color="#2e2a6a"/><stop offset="0.868" stop-color="#442f72"/><stop offset="0.875" stop-color="#492f73"/><stop offset="0.881" stop-color="#562f76"/><stop offset="0.885" stop-color="#692d7a"/><stop offset="0.887" stop-color="#792c7c"/><stop offset="0.889" stop-color="#8f2e7c"/><stop offset="0.891" stop-color="#b2397a"/><stop offset="0.893" stop-color="#ce476f"/><stop offset="0.895" stop-color="#e35f66"/><stop offset="0.897" stop-color="#ec7364"/><stop offset="0.900" stop-color="#f2a271"/><stop offset="0.904" stop-color="#f8cb92"/><stop offset="0.906" stop-color="#f7dba0"/><stop offset="0.908" stop-color="#f6e4a7"/><stop offset="0.912" stop-color="#f7e1a5"/><stop offset="0.914" stop-color="#f7d59b"/><stop offset="0.920" stop-color="#f1996d"/><stop offset="0.924" stop-color="#ea6a62"/><stop offset="0.926" stop-color="#db556a"/><stop offset="0.927" stop-color="#c14074"/><stop offset="0.931" stop-color="#842d7c"/><stop offset="0.933" stop-color="#702c7b"/><stop offset="0.937" stop-color="#582e77"/><stop offset="0.945" stop-color="#462f72"/><stop offset="0.956" stop-color="#402f70"/><stop offset="0.999" stop-color="#3a2e6f"/></linearGradient><linearGradient id="h78"><stop offset="0.001" stop-color="#2c2867"/><stop offset="0.496" stop-color="#2c2867"/><stop offset="0.517" stop-color="#312b6b"/><stop offset="0.535" stop-color="#2c2867"/><stop offset="0.666" stop-color="#2e2a6a"/><stop offset="0.875" stop-color="#442f71"/><stop offset="0.883" stop-color="#482f73"/><stop offset="0.889" stop-color="#532f75"/><stop offset="0.893" stop-color="#632e79"/><stop offset="0.897" stop-color="#852d7c"/><stop offset="0.900" stop-color="#c24074"/><stop offset="0.902" stop-color="#dc556a"/><stop offset="0.904" stop-color="#ea6a62"/><stop offset="0.908" stop-color="#f1996d"/><stop offset="0.912" stop-color="#f7c28b"/><stop offset="0.916" stop-color="#f7e1a4"/><stop offset="0.920" stop-color="#f6e3a6"/><stop offset="0.922" stop-color="#f7da9f"/><stop offset="0.924" stop-color="#f8c991"/><stop offset="0.927" stop-color="#f2a070"/><stop offset="0.931" stop-color="#ec7164"/><stop offset="0.933" stop-color="#e25d67"/><stop offset="0.935" stop-color="#cb4470"/><stop offset="0.937" stop-color="#ac377a"/><stop offset="0.939" stop-color="#8a2e7c"/><stop offset="0.941" stop-color="#742c7c"/><stop offset="0.945" stop-color="#592e77"/><stop offset="0.953" stop-color="#452f72"/><stop offset="0.964" stop-color="#3e2f70"/><stop offset="0.999" stop-color="#392d6e"/></linearGradient><linearGradient id="h79"><stop offset="0.001" stop-color="#2c2867"/><stop offset="0.502" stop-color="#2c2867"/><stop offset="0.525" stop-color="#332b6c"/><stop offset="0.543" stop-color="#2d2968"/><stop offset="0.662" stop-color="#2e2a6a"/><stop offset="0.885" stop-color="#432f71"/><stop offset="0.893" stop-color="#492f73"/><stop offset="0.898" stop-color="#562f76"/><stop offset="0.902" stop-color="#6a2d7a"/><stop offset="0.904" stop-color="#7a2c7c"/><stop offset="0.906" stop-color="#922f7c"/><stop offset="0.908" stop-color="#b53a79"/><stop offset="0.910" stop-color="#d1496e"/><stop offset="0.912" stop-color="#e56165"/><stop offset="0.914" stop-color="#ed7665"/><stop offset="0.916" stop-color="#f0906a"/><stop offset="0.918" stop-color="#f3a473"/><stop offset="0.922" stop-color="#f8cc93"/><stop offset="0.924" stop-color="#f7dba0"/><stop offset="0.926" stop-color="#f6e2a6"/><stop offset="0.927" stop-color="#f6e3a6"/><stop offset="0.929" stop-color="#f7dca1"/><stop offset="0.931" stop-color="#f8ce95"/><stop offset="0.935" stop-color="#f3a775"/><stop offset="0.937" stop-color="#f0926b"/><stop offset="0.941" stop-color="#e66365"/><stop offset="0.943" stop-color="#d24b6d"/><stop offset="0.945" stop-color="#b63b78"/><stop offset="0.947" stop-color="#922f7c"/><stop offset="0.949" stop-color="#792c7c"/><stop offset="0.953" stop-color="#5b2e77"/><stop offset="0.956" stop-color="#4c2f74"/><stop offset="0.960" stop-color="#442f71"/><stop offset="0.970" stop-color="#3c2e6f"/><stop offset="0.999" stop-color="#382d6e"/></linearGradient><linearGradient id="h80"><stop offset="0.001" stop-color="#2d2868"/><stop offset="0.510" stop-color="#2d2968"/><stop offset="0.533" stop-color="#342c6c"/><stop offset="0.548" stop-color="#2d2968"/><stop offset="0.655" stop-color="#2e2a6a"/><stop offset="0.831" stop-color="#402f70"/><stop offset="0.893" stop-color="#422f71"/><stop offset="0.902" stop-color="#492f73"/><stop offset="0.908" stop-color="#592e77"/><stop offset="0.912" stop-color="#712c7b"/><stop offset="0.914" stop-color="#852d7c"/><stop offset="0.916" stop-color="#a4357b"/><stop offset="0.918" stop-color="#c44173"/><stop offset="0.920" stop-color="#dd5769"/><stop offset="0.922" stop-color="#eb6c63"/><stop offset="0.926" stop-color="#f19a6e"/><stop offset="0.931" stop-color="#f8d39a"/><stop offset="0.933" stop-color="#f7dea3"/><stop offset="0.935" stop-color="#f7e1a5"/><stop offset="0.937" stop-color="#f7dea2"/><stop offset="0.939" stop-color="#f8d299"/><stop offset="0.945" stop-color="#f1996d"/><stop offset="0.949" stop-color="#ea6a62"/><stop offset="0.951" stop-color="#da536a"/><stop offset="0.953" stop-color="#be3e75"/><stop offset="0.955" stop-color="#9b327b"/><stop offset="0.956" stop-color="#7e2d7c"/><stop offset="0.960" stop-color="#5c2e78"/><stop offset="0.964" stop-color="#4c2f74"/><stop offset="0.968" stop-color="#432f71"/><stop offset="0.978" stop-color="#3a2e6f"/><stop offset="0.999" stop-color="#372d6d"/></linearGradient><linearGradient id="h81"><stop offset="0.001" stop-color="#2d2968"/><stop offset="0.517" stop-color="#2d2968"/><stop offset="0.539" stop-color="#352c6d"/><stop offset="0.556" stop-color="#2d2969"/><stop offset="0.651" stop-color="#2e2a6a"/><stop offset="0.829" stop-color="#402f70"/><stop offset="0.902" stop-color="#412f71"/><stop offset="0.910" stop-color="#472f72"/><stop offset="0.916" stop-color="#542f76"/><stop offset="0.920" stop-color="#682d7a"/><stop offset="0.922" stop-color="#7a2c7c"/><stop offset="0.924" stop-color="#922f7c"/><stop offset="0.926" stop-color="#b63b79"/><stop offset="0.927" stop-color="#d24a6e"/><stop offset="0.929" stop-color="#e56265"/><stop offset="0.931" stop-color="#ed7765"/><stop offset="0.933" stop-color="#f0916a"/><stop offset="0.935" stop-color="#f3a573"/><stop offset="0.939" stop-color="#f8cb92"/><stop offset="0.941" stop-color="#f7d99e"/><stop offset="0.943" stop-color="#f7dfa3"/><stop offset="0.945" stop-color="#f7dea2"/><stop offset="0.947" stop-color="#f7d59b"/><stop offset="0.951" stop-color="#f5b47e"/><stop offset="0.953" stop-color="#f29e6f"/><stop offset="0.956" stop-color="#eb7063"/><stop offset="0.958" stop-color="#e15b68"/><stop offset="0.960" stop-color="#c74272"/><stop offset="0.962" stop-color="#a6357b"/><stop offset="0.964" stop-color="#852d7c"/><stop offset="0.968" stop-color="#5e2e78"/><stop offset="0.972" stop-color="#4d2f74"/><stop offset="0.976" stop-color="#422f71"/><stop offset="0.984" stop-color="#392e6e"/><stop offset="0.999" stop-color="#362d6d"/></linearGradient><linearGradient id="h82"><stop offset="0.001" stop-color="#2d2968"/><stop offset="0.525" stop-color="#2d2968"/><stop offset="0.535" stop-color="#2e2a6a"/><stop offset="0.546" stop-color="#362d6d"/><stop offset="0.562" stop-color="#2e2a69"/><stop offset="0.643" stop-color="#2e2a6a"/><stop offset="0.829" stop-color="#402f70"/><stop offset="0.910" stop-color="#3f2f70"/><stop offset="0.918" stop-color="#442f71"/><stop offset="0.924" stop-color="#502f74"/><stop offset="0.927" stop-color="#602e78"/><stop offset="0.931" stop-color="#842d7c"/><stop offset="0.933" stop-color="#a4357b"/><stop offset="0.935" stop-color="#c54173"/><stop offset="0.937" stop-color="#de5869"/><stop offset="0.939" stop-color="#eb6d63"/><stop offset="0.943" stop-color="#f19b6e"/><stop offset="0.949" stop-color="#f8d298"/><stop offset="0.951" stop-color="#f7dba0"/><stop offset="0.953" stop-color="#f7dda1"/><stop offset="0.955" stop-color="#f7d79d"/><stop offset="0.956" stop-color="#f8ca92"/><stop offset="0.960" stop-color="#f3a573"/><stop offset="0.962" stop-color="#f0916a"/><stop offset="0.966" stop-color="#e56165"/><stop offset="0.968" stop-color="#d0486e"/><stop offset="0.970" stop-color="#b2397a"/><stop offset="0.972" stop-color="#8c2e7c"/><stop offset="0.974" stop-color="#732c7c"/><stop offset="0.976" stop-color="#622e79"/><stop offset="0.982" stop-color="#472f72"/><stop offset="0.989" stop-color="#392e6e"/><stop offset="0.999" stop-color="#362c6d"/></linearGradient><linearGradient id="h83"><stop offset="0.001" stop-color="#2d2969"/><stop offset="0.533" stop-color="#2d2969"/><stop offset="0.541" stop-color="#2e2a6a"/><stop offset="0.554" stop-color="#382d6e"/><stop offset="0.570" stop-color="#2e2a6a"/><stop offset="0.635" stop-color="#2e2a6a"/><stop offset="0.827" stop-color="#3f2f70"/><stop offset="0.920" stop-color="#3e2f70"/><stop offset="0.927" stop-color="#442f71"/><stop offset="0.933" stop-color="#522f75"/><stop offset="0.937" stop-color="#672d7a"/><stop offset="0.939" stop-color="#792c7c"/><stop offset="0.941" stop-color="#922f7c"/><stop offset="0.943" stop-color="#b63b78"/><stop offset="0.945" stop-color="#d34b6d"/><stop offset="0.947" stop-color="#e66365"/><stop offset="0.951" stop-color="#f0926b"/><stop offset="0.953" stop-color="#f3a574"/><stop offset="0.956" stop-color="#f8c991"/><stop offset="0.958" stop-color="#f7d69b"/><stop offset="0.960" stop-color="#f7dba0"/><stop offset="0.962" stop-color="#f7d89d"/><stop offset="0.964" stop-color="#f8ce95"/><stop offset="0.966" stop-color="#f7bf88"/><stop offset="0.970" stop-color="#f1976d"/><stop offset="0.974" stop-color="#e96863"/><stop offset="0.976" stop-color="#d8516b"/><stop offset="0.978" stop-color="#bb3d76"/><stop offset="0.980" stop-color="#96317c"/><stop offset="0.982" stop-color="#7a2c7c"/><stop offset="0.984" stop-color="#662d79"/><stop offset="0.985" stop-color="#582e77"/><stop offset="0.991" stop-color="#422f71"/><stop offset="0.999" stop-color="#372d6d"/></linearGradient><linearGradient id="h84"><stop offset="0.001" stop-color="#2e2969"/><stop offset="0.541" stop-color="#2e2a69"/><stop offset="0.562" stop-color="#3a2e6e"/><stop offset="0.577" stop-color="#2e2a6a"/><stop offset="0.620" stop-color="#2e2a6a"/><stop offset="0.827" stop-color="#3f2f70"/><stop offset="0.927" stop-color="#3c2e6f"/><stop offset="0.937" stop-color="#442f72"/><stop offset="0.943" stop-color="#552f76"/><stop offset="0.945" stop-color="#5f2e78"/><stop offset="0.947" stop-color="#6f2c7b"/><stop offset="0.949" stop-color="#842d7c"/><stop offset="0.951" stop-color="#a4357b"/><stop offset="0.953" stop-color="#c54173"/><stop offset="0.955" stop-color="#df5968"/><stop offset="0.956" stop-color="#eb6e63"/><stop offset="0.960" stop-color="#f19c6e"/><stop offset="0.964" stop-color="#f7c28a"/><stop offset="0.966" stop-color="#f8d096"/><stop offset="0.968" stop-color="#f7d89d"/><stop offset="0.970" stop-color="#f7d89e"/><stop offset="0.972" stop-color="#f8d198"/><stop offset="0.974" stop-color="#f7c38c"/><stop offset="0.978" stop-color="#f29d6f"/><stop offset="0.982" stop-color="#eb6f63"/><stop offset="0.984" stop-color="#e05a68"/><stop offset="0.985" stop-color="#c64172"/><stop offset="0.987" stop-color="#a3357b"/><stop offset="0.989" stop-color="#822d7c"/><stop offset="0.991" stop-color="#6c2d7a"/><stop offset="0.993" stop-color="#5c2e77"/><stop offset="0.999" stop-color="#432f71"/></linearGradient><linearGradient id="h85"><stop offset="0.001" stop-color="#2e2a6a"/><stop offset="0.546" stop-color="#2e2a6a"/><stop offset="0.556" stop-color="#302b6b"/><stop offset="0.568" stop-color="#3b2e6f"/><stop offset="0.583" stop-color="#2f2a6a"/><stop offset="0.612" stop-color="#2e2a6a"/><stop offset="0.823" stop-color="#3f2f70"/><stop offset="0.937" stop-color="#3b2e6f"/><stop offset="0.945" stop-color="#412f71"/><stop offset="0.951" stop-color="#512f75"/><stop offset="0.955" stop-color="#662d79"/><stop offset="0.956" stop-color="#782c7c"/><stop offset="0.958" stop-color="#922f7c"/><stop offset="0.960" stop-color="#b73b78"/><stop offset="0.962" stop-color="#d44d6d"/><stop offset="0.964" stop-color="#e76564"/><stop offset="0.968" stop-color="#f0936b"/><stop offset="0.972" stop-color="#f6ba83"/><stop offset="0.976" stop-color="#f7d49a"/><stop offset="0.978" stop-color="#f7d89d"/><stop offset="0.980" stop-color="#f8d39a"/><stop offset="0.984" stop-color="#f6b982"/><stop offset="0.985" stop-color="#f3a573"/><stop offset="0.987" stop-color="#f0916a"/><stop offset="0.991" stop-color="#e56265"/><stop offset="0.993" stop-color="#d0496e"/><stop offset="0.995" stop-color="#b2397a"/><stop offset="0.997" stop-color="#8b2e7c"/><stop offset="0.999" stop-color="#722c7c"/></linearGradient><linearGradient id="h86"><stop offset="0.001" stop-color="#2f2a6a"/><stop offset="0.554" stop-color="#2f2a6a"/><stop offset="0.564" stop-color="#322b6b"/><stop offset="0.575" stop-color="#3e2f70"/><stop offset="0.589" stop-color="#312b6b"/><stop offset="0.599" stop-color="#2f2a6b"/><stop offset="0.823" stop-color="#402f70"/><stop offset="0.945" stop-color="#3a2e6f"/><stop offset="0.953" stop-color="#3f2f70"/><stop offset="0.958" stop-color="#4d2f74"/><stop offset="0.962" stop-color="#5f2e78"/><stop offset="0.966" stop-color="#862d7c"/><stop offset="0.968" stop-color="#a8367b"/><stop offset="0.970" stop-color="#c94371"/><stop offset="0.972" stop-color="#e15c67"/><stop offset="0.974" stop-color="#ec7064"/><stop offset="0.976" stop-color="#ef8969"/><stop offset="0.978" stop-color="#f29e6f"/><stop offset="0.980" stop-color="#f5b27d"/><stop offset="0.984" stop-color="#f8d097"/><stop offset="0.985" stop-color="#f7d79c"/><stop offset="0.987" stop-color="#f7d69b"/><stop offset="0.991" stop-color="#f7bf88"/><stop offset="0.995" stop-color="#f1996d"/><stop offset="0.999" stop-color="#ea6a62"/></linearGradient><linearGradient id="h87"><stop offset="0.001" stop-color="#312b6b"/><stop offset="0.562" stop-color="#322b6b"/><stop offset="0.572" stop-color="#352c6d"/><stop offset="0.583" stop-color="#422f71"/><stop offset="0.595" stop-color="#352c6d"/><stop offset="0.604" stop-color="#322b6b"/><stop offset="0.819" stop-color="#422f71"/><stop offset="0.953" stop-color="#3b2e6f"/><stop offset="0.962" stop-color="#422f71"/><stop offset="0.968" stop-color="#522f75"/><stop offset="0.972" stop-color="#692d7a"/><stop offset="0.974" stop-color="#7d2d7c"/><stop offset="0.976" stop-color="#9a327b"/><stop offset="0.978" stop-color="#be3e76"/><stop offset="0.980" stop-color="#d9536b"/><stop offset="0.982" stop-color="#e96962"/><stop offset="0.985" stop-color="#f1976d"/><stop offset="0.989" stop-color="#f6be87"/><stop offset="0.991" stop-color="#f8cc94"/><stop offset="0.993" stop-color="#f7d69c"/><stop offset="0.995" stop-color="#f7d89d"/><stop offset="0.997" stop-color="#f8d299"/><stop offset="0.999" stop-color="#f8c68e"/></linearGradient><linearGradient id="h88"><stop offset="0.001" stop-color="#342c6c"/><stop offset="0.568" stop-color="#342c6c"/><stop offset="0.577" stop-color="#372d6d"/><stop offset="0.591" stop-color="#462f72"/><stop offset="0.603" stop-color="#382d6e"/><stop offset="0.612" stop-color="#352c6c"/><stop offset="0.817" stop-color="#442f71"/><stop offset="0.962" stop-color="#3c2e6f"/><stop offset="0.970" stop-color="#422f71"/><stop offset="0.976" stop-color="#502f75"/><stop offset="0.980" stop-color="#652d79"/><stop offset="0.982" stop-color="#762c7c"/><stop offset="0.984" stop-color="#8e2e7c"/><stop offset="0.985" stop-color="#b43a79"/><stop offset="0.987" stop-color="#d14a6e"/><stop offset="0.989" stop-color="#e56265"/><stop offset="0.993" stop-color="#f0916a"/><stop offset="0.995" stop-color="#f3a573"/><stop offset="0.999" stop-color="#f8c991"/></linearGradient><linearGradient id="h89"><stop offset="0.001" stop-color="#372d6d"/><stop offset="0.575" stop-color="#372d6d"/><stop offset="0.585" stop-color="#3a2e6e"/><stop offset="0.599" stop-color="#4a2f73"/><stop offset="0.610" stop-color="#3a2e6f"/><stop offset="0.618" stop-color="#382d6e"/><stop offset="0.813" stop-color="#462f72"/><stop offset="0.970" stop-color="#3d2f70"/><stop offset="0.980" stop-color="#452f72"/><stop offset="0.984" stop-color="#4f2f74"/><stop offset="0.987" stop-color="#612e78"/><stop offset="0.989" stop-color="#712c7b"/><stop offset="0.991" stop-color="#872d7c"/><stop offset="0.993" stop-color="#a8367b"/><stop offset="0.995" stop-color="#c94371"/><stop offset="0.997" stop-color="#e15c67"/><stop offset="0.999" stop-color="#ec7064"/></linearGradient><linearGradient id="h90"><stop offset="0.001" stop-color="#392d6e"/><stop offset="0.583" stop-color="#392d6e"/><stop offset="0.593" stop-color="#3d2f6f"/><stop offset="0.604" stop-color="#4e2f74"/><stop offset="0.618" stop-color="#3c2e6f"/><stop offset="0.626" stop-color="#3a2e6e"/><stop offset="0.811" stop-color="#472f72"/><stop offset="0.976" stop-color="#3e2f70"/><stop offset="0.985" stop-color="#422f71"/><stop offset="0.991" stop-color="#4e2f74"/><stop offset="0.995" stop-color="#5d2e78"/><stop offset="0.999" stop-color="#7f2d7c"/></linearGradient><linearGradient id="h91"><stop offset="0.001" stop-color="#3a2e6e"/><stop offset="0.591" stop-color="#3a2e6f"/><stop offset="0.601" stop-color="#3e2f70"/><stop offset="0.612" stop-color="#512f75"/><stop offset="0.624" stop-color="#3f2f70"/><stop offset="0.632" stop-color="#3b2e6f"/><stop offset="0.809" stop-color="#482f72"/><stop offset="0.982" stop-color="#3d2f70"/><stop offset="0.991" stop-color="#402f70"/><stop offset="0.999" stop-color="#4b2f73"/></linearGradient><linearGradient id="h92"><stop offset="0.001" stop-color="#3a2e6f"/><stop offset="0.599" stop-color="#3b2e6f"/><stop offset="0.606" stop-color="#3d2f70"/><stop offset="0.620" stop-color="#542f75"/><stop offset="0.632" stop-color="#402f70"/><stop offset="0.639" stop-color="#3c2e6f"/><stop offset="0.755" stop-color="#482f72"/><stop offset="0.999" stop-color="#3f2f70"/></linearGradient><linearGradient id="h93"><stop offset="0.001" stop-color="#3b2e6f"/><stop offset="0.604" stop-color="#3b2e6f"/><stop offset="0.614" stop-color="#3f2f70"/><stop offset="0.624" stop-color="#532f75"/><stop offset="0.628" stop-color="#562e76"/><stop offset="0.639" stop-color="#402f71"/><stop offset="0.647" stop-color="#3d2f70"/><stop offset="0.748" stop-color="#492f73"/><stop offset="0.999" stop-color="#3d2f70"/></linearGradient><linearGradient id="h94"><stop offset="0.001" stop-color="#3b2e6f"/><stop offset="0.612" stop-color="#3c2e6f"/><stop offset="0.622" stop-color="#402f71"/><stop offset="0.633" stop-color="#592e77"/><stop offset="0.637" stop-color="#562e76"/><stop offset="0.647" stop-color="#412f71"/><stop offset="0.653" stop-color="#3e2f70"/><stop offset="0.742" stop-color="#4a2f73"/><stop offset="0.999" stop-color="#3d2f70"/></linearGradient><linearGradient id="h95"><stop offset="0.001" stop-color="#3c2e6f"/><stop offset="0.616" stop-color="#3c2f6f"/><stop offset="0.628" stop-color="#402f70"/><stop offset="0.641" stop-color="#5c2e78"/><stop offset="0.645" stop-color="#592e77"/><stop offset="0.653" stop-color="#452f72"/><stop offset="0.661" stop-color="#402f70"/><stop offset="0.734" stop-color="#4c2f74"/><stop offset="0.751" stop-color="#482f72"/><stop offset="0.999" stop-color="#3d2f70"/></linearGradient><linearGradient id="h96"><stop offset="0.001" stop-color="#3e2f70"/><stop offset="0.622" stop-color="#3f2f70"/><stop offset="0.635" stop-color="#432f71"/><stop offset="0.649" stop-color="#632e79"/><stop offset="0.661" stop-color="#492f73"/><stop offset="0.666" stop-color="#442f72"/><stop offset="0.715" stop-color="#4a2f73"/><stop offset="0.728" stop-color="#502f75"/><stop offset="0.746" stop-color="#492f73"/><stop offset="0.999" stop-color="#3f2f70"/></linearGradient><linearGradient id="h97"><stop offset="0.001" stop-color="#432f71"/><stop offset="0.626" stop-color="#432f71"/><stop offset="0.643" stop-color="#492f73"/><stop offset="0.647" stop-color="#522f75"/><stop offset="0.655" stop-color="#6c2d7b"/><stop offset="0.657" stop-color="#6e2d7b"/><stop offset="0.666" stop-color="#532f75"/><stop offset="0.674" stop-color="#4b2f73"/><stop offset="0.709" stop-color="#502f74"/><stop offset="0.722" stop-color="#572e76"/><stop offset="0.740" stop-color="#4d2f74"/><stop offset="0.999" stop-color="#432f71"/></linearGradient><linearGradient id="h98"><stop offset="0.001" stop-color="#482f72"/><stop offset="0.626" stop-color="#492f73"/><stop offset="0.649" stop-color="#4f2f74"/><stop offset="0.655" stop-color="#5c2e77"/><stop offset="0.661" stop-color="#772c7c"/><stop offset="0.664" stop-color="#7f2d7c"/><stop offset="0.674" stop-color="#5c2e78"/><stop offset="0.682" stop-color="#552f76"/><stop offset="0.703" stop-color="#572e76"/><stop offset="0.715" stop-color="#602e78"/><stop offset="0.728" stop-color="#542f76"/><stop offset="0.736" stop-color="#522f75"/><stop offset="0.999" stop-color="#492f73"/></linearGradient><linearGradient id="h99"><stop offset="0.001" stop-color="#4d2f74"/><stop offset="0.624" stop-color="#4f2f74"/><stop offset="0.647" stop-color="#532f75"/><stop offset="0.657" stop-color="#5a2e77"/><stop offset="0.661" stop-color="#642d79"/><stop offset="0.670" stop-color="#96307c"/><stop offset="0.672" stop-color="#96307c"/><stop offset="0.682" stop-color="#692d7a"/><stop offset="0.690" stop-color="#5e2e78"/><stop offset="0.697" stop-color="#5f2e78"/><stop offset="0.709" stop-color="#6d2d7b"/><stop offset="0.721" stop-color="#5c2e77"/><stop offset="0.730" stop-color="#582e76"/><stop offset="0.999" stop-color="#4e2f74"/></linearGradient><linearGradient id="h100"><stop offset="0.001" stop-color="#532f75"/><stop offset="0.620" stop-color="#542f75"/><stop offset="0.651" stop-color="#5d2e78"/><stop offset="0.662" stop-color="#662d79"/><stop offset="0.668" stop-color="#772c7c"/><stop offset="0.672" stop-color="#8f2e7c"/><stop offset="0.676" stop-color="#ac377a"/><stop offset="0.678" stop-color="#b2397a"/><stop offset="0.680" stop-color="#ae387a"/><stop offset="0.686" stop-color="#862d7c"/><stop offset="0.690" stop-color="#742c7c"/><stop offset="0.693" stop-color="#6f2c7b"/><stop offset="0.703" stop-color="#7c2d7c"/><stop offset="0.715" stop-color="#632e79"/><stop offset="0.721" stop-color="#5e2e78"/><stop offset="0.999" stop-color="#532f75"/></linearGradient><linearGradient id="h101"><stop offset="0.001" stop-color="#582e77"/><stop offset="0.614" stop-color="#592e77"/><stop offset="0.632" stop-color="#5e2e78"/><stop offset="0.670" stop-color="#762c7c"/><stop offset="0.676" stop-color="#8a2e7c"/><stop offset="0.682" stop-color="#b83c78"/><stop offset="0.686" stop-color="#c64272"/><stop offset="0.690" stop-color="#c24074"/><stop offset="0.693" stop-color="#b3397a"/><stop offset="0.699" stop-color="#902f7c"/><stop offset="0.705" stop-color="#752c7c"/><stop offset="0.711" stop-color="#682d7a"/><stop offset="0.717" stop-color="#642d79"/><stop offset="0.999" stop-color="#592e77"/></linearGradient><linearGradient id="h102"><stop offset="0.001" stop-color="#5e2e78"/><stop offset="0.608" stop-color="#602e78"/><stop offset="0.626" stop-color="#672d7a"/><stop offset="0.657" stop-color="#7e2d7c"/><stop offset="0.676" stop-color="#832d7c"/><stop offset="0.680" stop-color="#8f2e7c"/><stop offset="0.682" stop-color="#a0337b"/><stop offset="0.686" stop-color="#c84271"/><stop offset="0.688" stop-color="#d8516b"/><stop offset="0.690" stop-color="#e15c67"/><stop offset="0.691" stop-color="#e35f66"/><stop offset="0.693" stop-color="#e25d67"/><stop offset="0.695" stop-color="#d9526b"/><stop offset="0.697" stop-color="#c94371"/><stop offset="0.699" stop-color="#b43a79"/><stop offset="0.701" stop-color="#99317b"/><stop offset="0.703" stop-color="#862d7c"/><stop offset="0.705" stop-color="#7a2c7c"/><stop offset="0.709" stop-color="#6f2c7b"/><stop offset="0.713" stop-color="#6c2d7b"/><stop offset="0.999" stop-color="#5f2e78"/></linearGradient><linearGradient id="h103"><stop offset="0.001" stop-color="#672d7a"/><stop offset="0.597" stop-color="#682d7a"/><stop offset="0.620" stop-color="#712c7b"/><stop offset="0.651" stop-color="#8d2e7c"/><stop offset="0.670" stop-color="#902e7c"/><stop offset="0.674" stop-color="#98317b"/><stop offset="0.682" stop-color="#b93c77"/><stop offset="0.686" stop-color="#be3e75"/><stop offset="0.691" stop-color="#be3e75"/><stop offset="0.699" stop-color="#cc4470"/><stop offset="0.703" stop-color="#c03f75"/><stop offset="0.705" stop-color="#b33a79"/><stop offset="0.709" stop-color="#8f2e7c"/><stop offset="0.711" stop-color="#842d7c"/><stop offset="0.715" stop-color="#782c7c"/><stop offset="0.719" stop-color="#742c7c"/><stop offset="0.999" stop-color="#672d7a"/></linearGradient><linearGradient id="h104"><stop offset="0.001" stop-color="#712c7b"/><stop offset="0.589" stop-color="#722c7c"/><stop offset="0.612" stop-color="#7c2d7c"/><stop offset="0.645" stop-color="#a4357b"/><stop offset="0.664" stop-color="#a6357b"/><stop offset="0.668" stop-color="#b0387a"/><stop offset="0.674" stop-color="#c74272"/><stop offset="0.678" stop-color="#cd4570"/><stop offset="0.682" stop-color="#c24074"/><stop offset="0.690" stop-color="#922f7c"/><stop offset="0.693" stop-color="#8d2e7c"/><stop offset="0.697" stop-color="#9c327b"/><stop offset="0.703" stop-color="#c54173"/><stop offset="0.707" stop-color="#d0486e"/><stop offset="0.711" stop-color="#c64172"/><stop offset="0.715" stop-color="#aa377a"/><stop offset="0.719" stop-color="#8d2e7c"/><stop offset="0.722" stop-color="#822d7c"/><stop offset="0.726" stop-color="#7e2d7c"/><stop offset="0.999" stop-color="#712c7b"/></linearGradient><linearGradient id="h105"><stop offset="0.001" stop-color="#7d2d7c"/><stop offset="0.579" stop-color="#7e2d7c"/><stop offset="0.595" stop-color="#832d7c"/><stop offset="0.608" stop-color="#8c2e7c"/><stop offset="0.635" stop-color="#b63b78"/><stop offset="0.659" stop-color="#ba3d77"/><stop offset="0.664" stop-color="#cb4370"/><stop offset="0.668" stop-color="#d8516b"/><stop offset="0.672" stop-color="#db556a"/><stop offset="0.676" stop-color="#d0486e"/><stop offset="0.682" stop-color="#ad377a"/><stop offset="0.686" stop-color="#99317b"/><stop offset="0.693" stop-color="#8e2e7c"/><stop offset="0.697" stop-color="#8e2e7c"/><stop offset="0.701" stop-color="#96307c"/><stop offset="0.705" stop-color="#ab377a"/><stop offset="0.711" stop-color="#d1496e"/><stop offset="0.715" stop-color="#d9526b"/><stop offset="0.719" stop-color="#cf476f"/><stop offset="0.722" stop-color="#b63b78"/><stop offset="0.726" stop-color="#9b327b"/><stop offset="0.728" stop-color="#93307c"/><stop offset="0.734" stop-color="#8b2e7c"/><stop offset="0.999" stop-color="#7e2d7c"/></linearGradient><linearGradient id="h106"><stop offset="0.001" stop-color="#892e7c"/><stop offset="0.572" stop-color="#8b2e7c"/><stop offset="0.595" stop-color="#96317c"/><stop offset="0.612" stop-color="#b0387a"/><stop offset="0.630" stop-color="#c64272"/><stop offset="0.653" stop-color="#cb4370"/><stop offset="0.657" stop-color="#d34c6d"/><stop offset="0.661" stop-color="#e05a68"/><stop offset="0.664" stop-color="#e46165"/><stop offset="0.668" stop-color="#e15c67"/><stop offset="0.674" stop-color="#c54173"/><stop offset="0.678" stop-color="#b2397a"/><stop offset="0.682" stop-color="#a6357b"/><stop offset="0.695" stop-color="#9c327b"/><stop offset="0.703" stop-color="#9c327b"/><stop offset="0.707" stop-color="#a1347b"/><stop offset="0.711" stop-color="#b2397a"/><stop offset="0.715" stop-color="#c84271"/><stop offset="0.719" stop-color="#dc566a"/><stop offset="0.722" stop-color="#e15c67"/><stop offset="0.726" stop-color="#d7506c"/><stop offset="0.730" stop-color="#c03f75"/><stop offset="0.736" stop-color="#a3357b"/><stop offset="0.742" stop-color="#9b327b"/><stop offset="0.885" stop-color="#8e2e7c"/><stop offset="0.999" stop-color="#8b2e7c"/></linearGradient><linearGradient id="h107"><stop offset="0.001" stop-color="#95307c"/><stop offset="0.558" stop-color="#99317b"/><stop offset="0.583" stop-color="#a3347b"/><stop offset="0.597" stop-color="#b3397a"/><stop offset="0.624" stop-color="#d34b6d"/><stop offset="0.645" stop-color="#d54e6d"/><stop offset="0.659" stop-color="#ea6b62"/><stop offset="0.664" stop-color="#e25c67"/><stop offset="0.668" stop-color="#cf476f"/><stop offset="0.672" stop-color="#be3e75"/><stop offset="0.678" stop-color="#b3397a"/><stop offset="0.691" stop-color="#ac377a"/><stop offset="0.713" stop-color="#af387a"/><stop offset="0.717" stop-color="#b83c78"/><stop offset="0.721" stop-color="#cb4371"/><stop offset="0.724" stop-color="#df5968"/><stop offset="0.728" stop-color="#e66365"/><stop offset="0.730" stop-color="#e66365"/><stop offset="0.734" stop-color="#de5869"/><stop offset="0.738" stop-color="#ca4371"/><stop offset="0.740" stop-color="#bf3f75"/><stop offset="0.744" stop-color="#b2397a"/><stop offset="0.750" stop-color="#ab377a"/><stop offset="0.893" stop-color="#9e337b"/><stop offset="0.999" stop-color="#9a327b"/></linearGradient><linearGradient id="h108"><stop offset="0.001" stop-color="#a3347b"/><stop offset="0.423" stop-color="#a4357b"/><stop offset="0.544" stop-color="#a9367b"/><stop offset="0.564" stop-color="#ad377a"/><stop offset="0.579" stop-color="#b63b79"/><stop offset="0.599" stop-color="#cb4470"/><stop offset="0.618" stop-color="#de5769"/><stop offset="0.639" stop-color="#e05a68"/><stop offset="0.647" stop-color="#ea6962"/><stop offset="0.653" stop-color="#ec7364"/><stop offset="0.659" stop-color="#e66365"/><stop offset="0.666" stop-color="#ca4371"/><stop offset="0.676" stop-color="#be3e75"/><stop offset="0.719" stop-color="#bb3d76"/><stop offset="0.722" stop-color="#c13f74"/><stop offset="0.726" stop-color="#ce466f"/><stop offset="0.730" stop-color="#e05b68"/><stop offset="0.736" stop-color="#ea6b62"/><stop offset="0.738" stop-color="#ea6a62"/><stop offset="0.742" stop-color="#e35e66"/><stop offset="0.748" stop-color="#c94371"/><stop offset="0.751" stop-color="#be3e75"/><stop offset="0.757" stop-color="#b93c77"/><stop offset="0.999" stop-color="#ac377a"/></linearGradient><linearGradient id="h109"><stop offset="0.001" stop-color="#b2397a"/><stop offset="0.423" stop-color="#b3397a"/><stop offset="0.554" stop-color="#bc3d76"/><stop offset="0.579" stop-color="#cb4470"/><stop offset="0.601" stop-color="#e05b68"/><stop offset="0.616" stop-color="#e66464"/><stop offset="0.633" stop-color="#e76564"/><stop offset="0.645" stop-color="#ee7e67"/><stop offset="0.647" stop-color="#ee7e67"/><stop offset="0.653" stop-color="#ea6c62"/><stop offset="0.659" stop-color="#dc566a"/><stop offset="0.662" stop-color="#d44d6d"/><stop offset="0.680" stop-color="#cc4470"/><stop offset="0.721" stop-color="#c94371"/><stop offset="0.728" stop-color="#cd4570"/><stop offset="0.732" stop-color="#d44d6d"/><stop offset="0.738" stop-color="#e76564"/><stop offset="0.744" stop-color="#ed7465"/><stop offset="0.746" stop-color="#ec7364"/><stop offset="0.750" stop-color="#e76664"/><stop offset="0.757" stop-color="#cf476f"/><stop offset="0.763" stop-color="#c84272"/><stop offset="0.881" stop-color="#bf3f75"/><stop offset="0.999" stop-color="#bd3e76"/></linearGradient><linearGradient id="h110"><stop offset="0.001" stop-color="#bf3e75"/><stop offset="0.423" stop-color="#c13f74"/><stop offset="0.539" stop-color="#cc4470"/><stop offset="0.564" stop-color="#d44d6d"/><stop offset="0.597" stop-color="#ea6a62"/><stop offset="0.608" stop-color="#ec7164"/><stop offset="0.628" stop-color="#ec7364"/><stop offset="0.632" stop-color="#ee7966"/><stop offset="0.639" stop-color="#f0906a"/><stop offset="0.643" stop-color="#ef8a69"/><stop offset="0.649" stop-color="#eb7063"/><stop offset="0.655" stop-color="#e46165"/><stop offset="0.676" stop-color="#de5769"/><stop offset="0.734" stop-color="#da536a"/><stop offset="0.740" stop-color="#e25d67"/><stop offset="0.744" stop-color="#ea6b62"/><stop offset="0.750" stop-color="#ef8067"/><stop offset="0.751" stop-color="#ef8267"/><stop offset="0.759" stop-color="#e86763"/><stop offset="0.765" stop-color="#dc566a"/><stop offset="0.773" stop-color="#d7506c"/><stop offset="0.999" stop-color="#d0486f"/></linearGradient><linearGradient id="h111"><stop offset="0.001" stop-color="#cd4570"/><stop offset="0.421" stop-color="#d0496e"/><stop offset="0.490" stop-color="#d64f6c"/><stop offset="0.531" stop-color="#dc5669"/><stop offset="0.560" stop-color="#e46165"/><stop offset="0.574" stop-color="#ea6b62"/><stop offset="0.601" stop-color="#ef8468"/><stop offset="0.620" stop-color="#ef8768"/><stop offset="0.633" stop-color="#f2a070"/><stop offset="0.637" stop-color="#f19a6e"/><stop offset="0.645" stop-color="#ee7a66"/><stop offset="0.649" stop-color="#ec7264"/><stop offset="0.676" stop-color="#e96863"/><stop offset="0.742" stop-color="#e66365"/><stop offset="0.748" stop-color="#ea6c62"/><stop offset="0.751" stop-color="#ee7a66"/><stop offset="0.755" stop-color="#f08e6a"/><stop offset="0.759" stop-color="#f0936b"/><stop offset="0.761" stop-color="#f08f6a"/><stop offset="0.769" stop-color="#eb6c63"/><stop offset="0.773" stop-color="#e66464"/><stop offset="0.779" stop-color="#e46066"/><stop offset="0.999" stop-color="#e15b68"/></linearGradient><linearGradient id="h112"><stop offset="0.001" stop-color="#d8516b"/><stop offset="0.223" stop-color="#d8516b"/><stop offset="0.423" stop-color="#dd5769"/><stop offset="0.490" stop-color="#e35f66"/><stop offset="0.529" stop-color="#e86763"/><stop offset="0.552" stop-color="#ec7164"/><stop offset="0.564" stop-color="#ee7a66"/><stop offset="0.589" stop-color="#f1986d"/><stop offset="0.616" stop-color="#f29f70"/><stop offset="0.624" stop-color="#f5b27d"/><stop offset="0.628" stop-color="#f5b780"/><stop offset="0.632" stop-color="#f4ae7a"/><stop offset="0.635" stop-color="#f29e6f"/><stop offset="0.645" stop-color="#ef8969"/><stop offset="0.666" stop-color="#ee7c66"/><stop offset="0.690" stop-color="#ed7665"/><stop offset="0.750" stop-color="#ec7164"/><stop offset="0.755" stop-color="#ee7b66"/><stop offset="0.761" stop-color="#f1976d"/><stop offset="0.765" stop-color="#f2a171"/><stop offset="0.769" stop-color="#f29c6f"/><stop offset="0.777" stop-color="#ee7966"/><stop offset="0.780" stop-color="#ec7164"/><stop offset="0.786" stop-color="#eb6e63"/><stop offset="0.999" stop-color="#ea6a62"/></linearGradient><linearGradient id="h113"><stop offset="0.001" stop-color="#e05a68"/><stop offset="0.223" stop-color="#e05a68"/><stop offset="0.423" stop-color="#e56265"/><stop offset="0.477" stop-color="#e96962"/><stop offset="0.533" stop-color="#ee7a66"/><stop offset="0.570" stop-color="#f29f70"/><stop offset="0.587" stop-color="#f5b47e"/><stop offset="0.608" stop-color="#f6b982"/><stop offset="0.620" stop-color="#f8cf96"/><stop offset="0.624" stop-color="#f8cb92"/><stop offset="0.632" stop-color="#f4af7a"/><stop offset="0.639" stop-color="#f29f70"/><stop offset="0.705" stop-color="#ef8267"/><stop offset="0.755" stop-color="#ee7e67"/><stop offset="0.761" stop-color="#ef8768"/><stop offset="0.767" stop-color="#f29e6f"/><stop offset="0.771" stop-color="#f4ae7a"/><stop offset="0.773" stop-color="#f5b17c"/><stop offset="0.777" stop-color="#f3a976"/><stop offset="0.780" stop-color="#f1986d"/><stop offset="0.786" stop-color="#ef8267"/><stop offset="0.794" stop-color="#ee7a66"/><stop offset="0.999" stop-color="#ed7765"/></linearGradient><linearGradient id="h114"><stop offset="0.001" stop-color="#e46165"/><stop offset="0.223" stop-color="#e46165"/><stop offset="0.423" stop-color="#ea6c62"/><stop offset="0.467" stop-color="#ec7364"/><stop offset="0.508" stop-color="#ef8368"/><stop offset="0.544" stop-color="#f29f70"/><stop offset="0.581" stop-color="#f8d198"/><stop offset="0.589" stop-color="#f7d79c"/><stop offset="0.603" stop-color="#f7d99e"/><stop offset="0.614" stop-color="#f4e9ac"/><stop offset="0.620" stop-color="#f7dfa3"/><stop offset="0.628" stop-color="#f7c28b"/><stop offset="0.635" stop-color="#f5b781"/><stop offset="0.662" stop-color="#f2a070"/><stop offset="0.693" stop-color="#f0946b"/><stop offset="0.763" stop-color="#f08d69"/><stop offset="0.771" stop-color="#f19b6e"/><stop offset="0.777" stop-color="#f5b680"/><stop offset="0.780" stop-color="#f7bf88"/><stop offset="0.784" stop-color="#f5b57f"/><stop offset="0.788" stop-color="#f2a171"/><stop offset="0.792" stop-color="#f1946c"/><stop offset="0.800" stop-color="#ef8a69"/><stop offset="0.999" stop-color="#ef8668"/></linearGradient><linearGradient id="h115"><stop offset="0.001" stop-color="#e86763"/><stop offset="0.221" stop-color="#e86763"/><stop offset="0.444" stop-color="#ee7a66"/><stop offset="0.479" stop-color="#ef8768"/><stop offset="0.519" stop-color="#f2a070"/><stop offset="0.537" stop-color="#f5b57f"/><stop offset="0.564" stop-color="#f6e2a6"/><stop offset="0.583" stop-color="#f2f2b4"/><stop offset="0.614" stop-color="#f2f2b4"/><stop offset="0.626" stop-color="#f7d59b"/><stop offset="0.645" stop-color="#f6bc86"/><stop offset="0.672" stop-color="#f3a574"/><stop offset="0.697" stop-color="#f19b6e"/><stop offset="0.771" stop-color="#f1976d"/><stop offset="0.777" stop-color="#f29f70"/><stop offset="0.784" stop-color="#f7c38c"/><stop offset="0.788" stop-color="#f8ca92"/><stop offset="0.790" stop-color="#f8c68e"/><stop offset="0.796" stop-color="#f4ab77"/><stop offset="0.800" stop-color="#f29c6f"/><stop offset="0.808" stop-color="#f1956c"/><stop offset="0.999" stop-color="#f0926b"/></linearGradient><linearGradient id="h116"><stop offset="0.001" stop-color="#ea6b62"/><stop offset="0.221" stop-color="#ea6b62"/><stop offset="0.423" stop-color="#ef8167"/><stop offset="0.473" stop-color="#f0936b"/><stop offset="0.496" stop-color="#f2a171"/><stop offset="0.517" stop-color="#f6b882"/><stop offset="0.529" stop-color="#f8c890"/><stop offset="0.541" stop-color="#f7dfa3"/><stop offset="0.554" stop-color="#f2f2b4"/><stop offset="0.614" stop-color="#f2f1b3"/><stop offset="0.639" stop-color="#f8c991"/><stop offset="0.655" stop-color="#f6b882"/><stop offset="0.674" stop-color="#f3a976"/><stop offset="0.697" stop-color="#f2a070"/><stop offset="0.779" stop-color="#f29c6f"/><stop offset="0.784" stop-color="#f3a775"/><stop offset="0.792" stop-color="#f8cc93"/><stop offset="0.796" stop-color="#f8d298"/><stop offset="0.806" stop-color="#f3a775"/><stop offset="0.809" stop-color="#f29d6f"/><stop offset="0.813" stop-color="#f19a6e"/><stop offset="0.999" stop-color="#f1986d"/></linearGradient><linearGradient id="h117"><stop offset="0.001" stop-color="#eb6d63"/><stop offset="0.221" stop-color="#eb6d63"/><stop offset="0.423" stop-color="#ef8969"/><stop offset="0.461" stop-color="#f1976c"/><stop offset="0.483" stop-color="#f2a372"/><stop offset="0.506" stop-color="#f6be87"/><stop offset="0.525" stop-color="#f7dfa3"/><stop offset="0.539" stop-color="#f2f2b4"/><stop offset="0.610" stop-color="#f2f2b4"/><stop offset="0.624" stop-color="#f7dea2"/><stop offset="0.637" stop-color="#f8c78f"/><stop offset="0.651" stop-color="#f5b781"/><stop offset="0.670" stop-color="#f3a876"/><stop offset="0.691" stop-color="#f2a070"/><stop offset="0.784" stop-color="#f19b6e"/><stop offset="0.790" stop-color="#f2a272"/><stop offset="0.794" stop-color="#f5b17c"/><stop offset="0.800" stop-color="#f8cd94"/><stop offset="0.802" stop-color="#f8d298"/><stop offset="0.806" stop-color="#f8ca92"/><stop offset="0.813" stop-color="#f3a574"/><stop offset="0.821" stop-color="#f19a6e"/><stop offset="0.999" stop-color="#f1986d"/></linearGradient><linearGradient id="h118"><stop offset="0.001" stop-color="#eb6d63"/><stop offset="0.221" stop-color="#eb6d63"/><stop offset="0.421" stop-color="#f08d6a"/><stop offset="0.456" stop-color="#f1996d"/><stop offset="0.477" stop-color="#f3a775"/><stop offset="0.492" stop-color="#f6b983"/><stop offset="0.514" stop-color="#f7dda2"/><stop offset="0.527" stop-color="#f2f2b4"/><stop offset="0.603" stop-color="#f2f2b4"/><stop offset="0.628" stop-color="#f8c78f"/><stop offset="0.643" stop-color="#f5b37d"/><stop offset="0.662" stop-color="#f2a372"/><stop offset="0.684" stop-color="#f19c6e"/><stop offset="0.792" stop-color="#f1976d"/><stop offset="0.796" stop-color="#f19b6e"/><stop offset="0.800" stop-color="#f3a573"/><stop offset="0.806" stop-color="#f7c18a"/><stop offset="0.809" stop-color="#f8cc93"/><stop offset="0.813" stop-color="#f7c38b"/><stop offset="0.821" stop-color="#f29f70"/><stop offset="0.829" stop-color="#f1966c"/><stop offset="0.999" stop-color="#f1946c"/></linearGradient><linearGradient id="h119"><stop offset="0.001" stop-color="#eb6d63"/><stop offset="0.221" stop-color="#eb6d63"/><stop offset="0.413" stop-color="#f08e6a"/><stop offset="0.450" stop-color="#f1996d"/><stop offset="0.471" stop-color="#f3a775"/><stop offset="0.483" stop-color="#f5b57f"/><stop offset="0.496" stop-color="#f8c991"/><stop offset="0.508" stop-color="#f7dfa3"/><stop offset="0.521" stop-color="#f2f2b4"/><stop offset="0.591" stop-color="#f2f2b4"/><stop offset="0.612" stop-color="#f8ca92"/><stop offset="0.628" stop-color="#f5b47e"/><stop offset="0.649" stop-color="#f29f70"/><stop offset="0.674" stop-color="#f1966c"/><stop offset="0.798" stop-color="#f0916a"/><stop offset="0.806" stop-color="#f19a6e"/><stop offset="0.808" stop-color="#f29f70"/><stop offset="0.813" stop-color="#f6bc85"/><stop offset="0.817" stop-color="#f7c48c"/><stop offset="0.821" stop-color="#f6ba83"/><stop offset="0.825" stop-color="#f3a674"/><stop offset="0.829" stop-color="#f1986d"/><stop offset="0.837" stop-color="#f0906a"/><stop offset="0.999" stop-color="#f08e6a"/></linearGradient><linearGradient id="h120"><stop offset="0.001" stop-color="#eb6d63"/><stop offset="0.221" stop-color="#eb6d63"/><stop offset="0.405" stop-color="#f08b69"/><stop offset="0.442" stop-color="#f1966c"/><stop offset="0.463" stop-color="#f2a372"/><stop offset="0.479" stop-color="#f5b47e"/><stop offset="0.494" stop-color="#f8cb92"/><stop offset="0.506" stop-color="#f7e0a4"/><stop offset="0.521" stop-color="#f2f2b4"/><stop offset="0.577" stop-color="#f2f2b4"/><stop offset="0.599" stop-color="#f8c68e"/><stop offset="0.620" stop-color="#f3a876"/><stop offset="0.639" stop-color="#f1986d"/><stop offset="0.668" stop-color="#f08f6a"/><stop offset="0.806" stop-color="#ef8969"/><stop offset="0.809" stop-color="#f08c69"/><stop offset="0.815" stop-color="#f19a6e"/><stop offset="0.821" stop-color="#f5b57f"/><stop offset="0.825" stop-color="#f6bc85"/><stop offset="0.827" stop-color="#f6b881"/><stop offset="0.835" stop-color="#f1966c"/><stop offset="0.838" stop-color="#f08c69"/><stop offset="0.844" stop-color="#ef8768"/><stop offset="0.999" stop-color="#ef8668"/></linearGradient><linearGradient id="h121"><stop offset="0.001" stop-color="#eb6d63"/><stop offset="0.221" stop-color="#eb6d63"/><stop offset="0.401" stop-color="#ef8868"/><stop offset="0.440" stop-color="#f1946c"/><stop offset="0.461" stop-color="#f2a070"/><stop offset="0.479" stop-color="#f5b37e"/><stop offset="0.510" stop-color="#f7e0a4"/><stop offset="0.525" stop-color="#f3edaf"/><stop offset="0.539" stop-color="#f2f1b3"/><stop offset="0.568" stop-color="#f7e0a4"/><stop offset="0.589" stop-color="#f6b982"/><stop offset="0.606" stop-color="#f2a171"/><stop offset="0.624" stop-color="#f1946c"/><stop offset="0.653" stop-color="#ef8768"/><stop offset="0.811" stop-color="#ef8067"/><stop offset="0.819" stop-color="#ef8869"/><stop offset="0.825" stop-color="#f29e6f"/><stop offset="0.831" stop-color="#f5b47e"/><stop offset="0.835" stop-color="#f4af7a"/><stop offset="0.838" stop-color="#f29d6f"/><stop offset="0.844" stop-color="#ef8768"/><stop offset="0.852" stop-color="#ee7f67"/><stop offset="0.999" stop-color="#ee7e67"/></linearGradient><linearGradient id="h122"><stop offset="0.001" stop-color="#eb6d63"/><stop offset="0.221" stop-color="#eb6d63"/><stop offset="0.392" stop-color="#ef8167"/><stop offset="0.430" stop-color="#f08d6a"/><stop offset="0.465" stop-color="#f2a070"/><stop offset="0.510" stop-color="#f8ce95"/><stop offset="0.529" stop-color="#f7d79d"/><stop offset="0.543" stop-color="#f8d399"/><stop offset="0.562" stop-color="#f7c38b"/><stop offset="0.587" stop-color="#f2a070"/><stop offset="0.618" stop-color="#ef8869"/><stop offset="0.643" stop-color="#ee7f67"/><stop offset="0.819" stop-color="#ee7966"/><stop offset="0.827" stop-color="#ef8268"/><stop offset="0.833" stop-color="#f19a6e"/><stop offset="0.837" stop-color="#f4aa77"/><stop offset="0.838" stop-color="#f4ae7a"/><stop offset="0.842" stop-color="#f3a775"/><stop offset="0.852" stop-color="#ee7f67"/><stop offset="0.858" stop-color="#ee7966"/><stop offset="0.999" stop-color="#ed7865"/></linearGradient><linearGradient id="h123"><stop offset="0.001" stop-color="#e96863"/><stop offset="0.221" stop-color="#e96863"/><stop offset="0.396" stop-color="#ed7865"/><stop offset="0.430" stop-color="#ef8267"/><stop offset="0.456" stop-color="#f0906a"/><stop offset="0.481" stop-color="#f2a070"/><stop offset="0.500" stop-color="#f4af7a"/><stop offset="0.519" stop-color="#f5b57f"/><stop offset="0.535" stop-color="#f5b17c"/><stop offset="0.554" stop-color="#f3a574"/><stop offset="0.577" stop-color="#f0916a"/><stop offset="0.604" stop-color="#ee7a66"/><stop offset="0.628" stop-color="#ed7465"/><stop offset="0.827" stop-color="#ec7064"/><stop offset="0.835" stop-color="#ee7866"/><stop offset="0.842" stop-color="#f19b6e"/><stop offset="0.846" stop-color="#f2a372"/><stop offset="0.850" stop-color="#f19b6e"/><stop offset="0.858" stop-color="#ee7866"/><stop offset="0.866" stop-color="#eb7063"/><stop offset="0.999" stop-color="#eb6f63"/></linearGradient><linearGradient id="h124"><stop offset="0.001" stop-color="#e25e67"/><stop offset="0.221" stop-color="#e25e67"/><stop offset="0.386" stop-color="#e96963"/><stop offset="0.440" stop-color="#ec7464"/><stop offset="0.492" stop-color="#f0906a"/><stop offset="0.512" stop-color="#f0936b"/><stop offset="0.531" stop-color="#f0906a"/><stop offset="0.575" stop-color="#ec7364"/><stop offset="0.612" stop-color="#e86663"/><stop offset="0.833" stop-color="#e56365"/><stop offset="0.838" stop-color="#e76564"/><stop offset="0.842" stop-color="#eb6c63"/><stop offset="0.846" stop-color="#ee7966"/><stop offset="0.850" stop-color="#f08e6a"/><stop offset="0.854" stop-color="#f1956c"/><stop offset="0.858" stop-color="#f08b69"/><stop offset="0.864" stop-color="#eb7063"/><stop offset="0.871" stop-color="#e66365"/><stop offset="0.999" stop-color="#e56265"/></linearGradient><linearGradient id="h125"><stop offset="0.001" stop-color="#d8516b"/><stop offset="0.221" stop-color="#d8516b"/><stop offset="0.353" stop-color="#df5968"/><stop offset="0.411" stop-color="#e35f66"/><stop offset="0.457" stop-color="#ea6a62"/><stop offset="0.502" stop-color="#ec7464"/><stop offset="0.546" stop-color="#ea6a62"/><stop offset="0.610" stop-color="#de5869"/><stop offset="0.838" stop-color="#dc556a"/><stop offset="0.848" stop-color="#e25d67"/><stop offset="0.852" stop-color="#e86863"/><stop offset="0.858" stop-color="#ef8067"/><stop offset="0.862" stop-color="#ef8668"/><stop offset="0.869" stop-color="#e96962"/><stop offset="0.871" stop-color="#e56265"/><stop offset="0.879" stop-color="#dc5669"/><stop offset="0.999" stop-color="#db556a"/></linearGradient><linearGradient id="h126"><stop offset="0.001" stop-color="#ce466f"/><stop offset="0.221" stop-color="#ce466f"/><stop offset="0.355" stop-color="#d34c6d"/><stop offset="0.494" stop-color="#e46066"/><stop offset="0.539" stop-color="#e05a68"/><stop offset="0.574" stop-color="#d64f6c"/><stop offset="0.608" stop-color="#d24a6e"/><stop offset="0.846" stop-color="#d1496e"/><stop offset="0.854" stop-color="#d54e6c"/><stop offset="0.862" stop-color="#e96863"/><stop offset="0.868" stop-color="#ee7a66"/><stop offset="0.871" stop-color="#ed7665"/><stop offset="0.875" stop-color="#e86763"/><stop offset="0.881" stop-color="#d8526b"/><stop offset="0.887" stop-color="#d14a6e"/><stop offset="0.999" stop-color="#d0496e"/></linearGradient><linearGradient id="h127"><stop offset="0.001" stop-color="#c13f74"/><stop offset="0.336" stop-color="#c54173"/><stop offset="0.413" stop-color="#cc4470"/><stop offset="0.486" stop-color="#d44d6d"/><stop offset="0.603" stop-color="#c54173"/><stop offset="0.854" stop-color="#c54173"/><stop offset="0.862" stop-color="#cc4470"/><stop offset="0.871" stop-color="#ea6a62"/><stop offset="0.875" stop-color="#ec7264"/><stop offset="0.877" stop-color="#ec7164"/><stop offset="0.881" stop-color="#e76564"/><stop offset="0.889" stop-color="#cd456f"/><stop offset="0.893" stop-color="#c74272"/><stop offset="0.999" stop-color="#c54173"/></linearGradient><linearGradient id="h128"><stop offset="0.001" stop-color="#b2397a"/><stop offset="0.320" stop-color="#b53a79"/><stop offset="0.479" stop-color="#c03f75"/><stop offset="0.591" stop-color="#b73b78"/><stop offset="0.860" stop-color="#b63b78"/><stop offset="0.868" stop-color="#ba3d77"/><stop offset="0.871" stop-color="#c54173"/><stop offset="0.873" stop-color="#ce466f"/><stop offset="0.877" stop-color="#e05b68"/><stop offset="0.881" stop-color="#e86863"/><stop offset="0.883" stop-color="#ea6962"/><stop offset="0.889" stop-color="#e05a68"/><stop offset="0.893" stop-color="#cd4570"/><stop offset="0.897" stop-color="#be3e75"/><stop offset="0.902" stop-color="#b73b78"/><stop offset="0.999" stop-color="#b63b78"/></linearGradient><linearGradient id="h129"><stop offset="0.001" stop-color="#96307c"/><stop offset="0.223" stop-color="#96307c"/><stop offset="0.475" stop-color="#a4357b"/><stop offset="0.589" stop-color="#9e337b"/><stop offset="0.678" stop-color="#a1347b"/><stop offset="0.868" stop-color="#9e337b"/><stop offset="0.875" stop-color="#a4357b"/><stop offset="0.879" stop-color="#b43a79"/><stop offset="0.883" stop-color="#ca4371"/><stop offset="0.887" stop-color="#dd5769"/><stop offset="0.891" stop-color="#e25e67"/><stop offset="0.895" stop-color="#d9536b"/><stop offset="0.897" stop-color="#cf486f"/><stop offset="0.900" stop-color="#b83c78"/><stop offset="0.904" stop-color="#a7367b"/><stop offset="0.910" stop-color="#9e337b"/><stop offset="0.999" stop-color="#9e337b"/></linearGradient><linearGradient id="h130"><stop offset="0.001" stop-color="#7c2d7c"/><stop offset="0.223" stop-color="#7c2d7c"/><stop offset="0.479" stop-color="#852d7c"/><stop offset="0.875" stop-color="#842d7c"/><stop offset="0.881" stop-color="#862d7c"/><stop offset="0.885" stop-color="#8e2e7c"/><stop offset="0.887" stop-color="#98317b"/><stop offset="0.891" stop-color="#b73b78"/><stop offset="0.895" stop-color="#ce466f"/><stop offset="0.898" stop-color="#d34c6d"/><stop offset="0.902" stop-color="#c54173"/><stop offset="0.906" stop-color="#a8367b"/><stop offset="0.910" stop-color="#8f2e7c"/><stop offset="0.916" stop-color="#852d7c"/><stop offset="0.999" stop-color="#832d7c"/></linearGradient><linearGradient id="h131"><stop offset="0.001" stop-color="#672d7a"/><stop offset="0.221" stop-color="#672d7a"/><stop offset="0.500" stop-color="#702c7b"/><stop offset="0.883" stop-color="#702c7b"/><stop offset="0.889" stop-color="#722c7c"/><stop offset="0.893" stop-color="#7a2c7c"/><stop offset="0.897" stop-color="#8e2e7c"/><stop offset="0.900" stop-color="#b1397a"/><stop offset="0.904" stop-color="#c13f74"/><stop offset="0.906" stop-color="#c03f75"/><stop offset="0.908" stop-color="#b93c77"/><stop offset="0.914" stop-color="#8a2e7c"/><stop offset="0.916" stop-color="#802d7c"/><stop offset="0.922" stop-color="#712c7c"/><stop offset="0.999" stop-color="#6f2c7b"/></linearGradient><linearGradient id="h132"><stop offset="0.001" stop-color="#572e76"/><stop offset="0.221" stop-color="#572e76"/><stop offset="0.500" stop-color="#602e78"/><stop offset="0.891" stop-color="#602e78"/><stop offset="0.897" stop-color="#632e79"/><stop offset="0.900" stop-color="#6b2d7a"/><stop offset="0.904" stop-color="#7e2d7c"/><stop offset="0.910" stop-color="#a8367b"/><stop offset="0.912" stop-color="#ad387a"/><stop offset="0.914" stop-color="#aa377a"/><stop offset="0.918" stop-color="#8e2e7c"/><stop offset="0.922" stop-color="#752c7c"/><stop offset="0.926" stop-color="#672d7a"/><stop offset="0.929" stop-color="#612e79"/><stop offset="0.999" stop-color="#602e78"/></linearGradient><linearGradient id="h133"><stop offset="0.001" stop-color="#4a2f73"/><stop offset="0.221" stop-color="#4a2f73"/><stop offset="0.500" stop-color="#542f76"/><stop offset="0.898" stop-color="#542f76"/><stop offset="0.908" stop-color="#5d2e78"/><stop offset="0.918" stop-color="#912f7c"/><stop offset="0.920" stop-color="#95307c"/><stop offset="0.924" stop-color="#862d7c"/><stop offset="0.929" stop-color="#632e79"/><stop offset="0.935" stop-color="#562e76"/><stop offset="0.999" stop-color="#542f76"/></linearGradient><linearGradient id="h134"><stop offset="0.001" stop-color="#3e2f70"/><stop offset="0.221" stop-color="#3e2f70"/><stop offset="0.500" stop-color="#4a2f73"/><stop offset="0.904" stop-color="#4a2f73"/><stop offset="0.912" stop-color="#4d2f74"/><stop offset="0.916" stop-color="#542f76"/><stop offset="0.920" stop-color="#642d79"/><stop offset="0.924" stop-color="#7a2c7c"/><stop offset="0.926" stop-color="#812d7c"/><stop offset="0.927" stop-color="#822d7c"/><stop offset="0.929" stop-color="#7d2d7c"/><stop offset="0.937" stop-color="#572e76"/><stop offset="0.943" stop-color="#4c2f74"/><stop offset="0.999" stop-color="#4a2f73"/></linearGradient><linearGradient id="h135"><stop offset="0.001" stop-color="#322b6c"/><stop offset="0.221" stop-color="#322b6c"/><stop offset="0.500" stop-color="#402f71"/><stop offset="0.912" stop-color="#412f71"/><stop offset="0.922" stop-color="#472f72"/><stop offset="0.926" stop-color="#532f75"/><stop offset="0.933" stop-color="#722c7c"/><stop offset="0.937" stop-color="#6d2d7b"/><stop offset="0.945" stop-color="#4c2f73"/><stop offset="0.951" stop-color="#422f71"/><stop offset="0.999" stop-color="#402f71"/></linearGradient><linearGradient id="h136"><stop offset="0.001" stop-color="#2a2663"/><stop offset="0.223" stop-color="#2a2663"/><stop offset="0.500" stop-color="#372d6d"/><stop offset="0.920" stop-color="#372d6d"/><stop offset="0.929" stop-color="#3e2f70"/><stop offset="0.941" stop-color="#662d79"/><stop offset="0.943" stop-color="#642d79"/><stop offset="0.953" stop-color="#412f71"/><stop offset="0.958" stop-color="#382d6e"/><stop offset="0.999" stop-color="#372d6d"/></linearGradient><linearGradient id="h137"><stop offset="0.001" stop-color="#241f59"/><stop offset="0.221" stop-color="#241f59"/><stop offset="0.500" stop-color="#2f2a6a"/><stop offset="0.926" stop-color="#2f2a6a"/><stop offset="0.935" stop-color="#332c6c"/><stop offset="0.939" stop-color="#3d2f6f"/><stop offset="0.945" stop-color="#542f75"/><stop offset="0.949" stop-color="#5b2e77"/><stop offset="0.953" stop-color="#542f76"/><stop offset="0.960" stop-color="#382d6e"/><stop offset="0.964" stop-color="#312b6b"/><stop offset="0.999" stop-color="#2f2a6a"/></linearGradient><linearGradient id="h138"><stop offset="0.001" stop-color="#201b50"/><stop offset="0.221" stop-color="#201b50"/><stop offset="0.500" stop-color="#2b2765"/><stop offset="0.935" stop-color="#2b2765"/><stop offset="0.943" stop-color="#2e2a6a"/><stop offset="0.947" stop-color="#382d6e"/><stop offset="0.953" stop-color="#4f2f74"/><stop offset="0.956" stop-color="#552f76"/><stop offset="0.960" stop-color="#4d2f74"/><stop offset="0.964" stop-color="#3d2f70"/><stop offset="0.970" stop-color="#2d2969"/><stop offset="0.976" stop-color="#2b2765"/><stop offset="0.999" stop-color="#2b2765"/></linearGradient><linearGradient id="h139"><stop offset="0.001" stop-color="#1c1748"/><stop offset="0.221" stop-color="#1c1748"/><stop offset="0.500" stop-color="#282460"/><stop offset="0.943" stop-color="#282460"/><stop offset="0.949" stop-color="#2a2663"/><stop offset="0.953" stop-color="#2e2a6a"/><stop offset="0.960" stop-color="#4b2f73"/><stop offset="0.964" stop-color="#502f75"/><stop offset="0.970" stop-color="#3e2f70"/><stop offset="0.976" stop-color="#2c2867"/><stop offset="0.982" stop-color="#292460"/><stop offset="0.999" stop-color="#282460"/></linearGradient><linearGradient id="h140"><stop offset="0.001" stop-color="#181442"/><stop offset="0.221" stop-color="#181442"/><stop offset="0.500" stop-color="#25215b"/><stop offset="0.949" stop-color="#26215b"/><stop offset="0.956" stop-color="#28235f"/><stop offset="0.960" stop-color="#2c2867"/><stop offset="0.970" stop-color="#4b2f73"/><stop offset="0.974" stop-color="#472f72"/><stop offset="0.980" stop-color="#302b6b"/><stop offset="0.984" stop-color="#292461"/><stop offset="0.989" stop-color="#26215c"/><stop offset="0.999" stop-color="#25215b"/></linearGradient><linearGradient id="h141"><stop offset="0.001" stop-color="#16123d"/><stop offset="0.221" stop-color="#16123d"/><stop offset="0.500" stop-color="#221d55"/><stop offset="0.956" stop-color="#221d55"/><stop offset="0.962" stop-color="#241f58"/><stop offset="0.968" stop-color="#2a2663"/><stop offset="0.972" stop-color="#362d6d"/><stop offset="0.978" stop-color="#472f72"/><stop offset="0.982" stop-color="#412f71"/><stop offset="0.985" stop-color="#312b6b"/><stop offset="0.989" stop-color="#282460"/><stop offset="0.999" stop-color="#231e55"/></linearGradient><linearGradient id="h142"><stop offset="0.001" stop-color="#131138"/><stop offset="0.221" stop-color="#131138"/><stop offset="0.500" stop-color="#1f1a4f"/><stop offset="0.964" stop-color="#1f1a4f"/><stop offset="0.970" stop-color="#211c52"/><stop offset="0.974" stop-color="#25205a"/><stop offset="0.980" stop-color="#342c6c"/><stop offset="0.984" stop-color="#402f71"/><stop offset="0.985" stop-color="#422f71"/><stop offset="0.991" stop-color="#332c6c"/><stop offset="0.999" stop-color="#231e55"/></linearGradient><linearGradient id="h143"><stop offset="0.001" stop-color="#110f34"/><stop offset="0.221" stop-color="#110f34"/><stop offset="0.500" stop-color="#1c1749"/><stop offset="0.970" stop-color="#1c1749"/><stop offset="0.978" stop-color="#1e194d"/><stop offset="0.982" stop-color="#231e56"/><stop offset="0.987" stop-color="#312b6b"/><stop offset="0.991" stop-color="#3d2f70"/><stop offset="0.995" stop-color="#3b2e6f"/><stop offset="0.999" stop-color="#2d2969"/></linearGradient><linearGradient id="h144"><stop offset="0.001" stop-color="#100e31"/><stop offset="0.221" stop-color="#100e31"/><stop offset="0.500" stop-color="#191544"/><stop offset="0.978" stop-color="#191544"/><stop offset="0.985" stop-color="#1c1748"/><stop offset="0.989" stop-color="#211c52"/><stop offset="0.995" stop-color="#2e2a6a"/><stop offset="0.999" stop-color="#392d6e"/></linearGradient><linearGradient id="h145"><stop offset="0.001" stop-color="#0e0d2d"/><stop offset="0.221" stop-color="#0e0d2d"/><stop offset="0.500" stop-color="#16133e"/><stop offset="0.984" stop-color="#16133e"/><stop offset="0.993" stop-color="#191443"/><stop offset="0.999" stop-color="#241f57"/></linearGradient><linearGradient id="h146"><stop offset="0.001" stop-color="#0d0c28"/><stop offset="0.221" stop-color="#0d0c28"/><stop offset="0.500" stop-color="#141139"/><stop offset="0.999" stop-color="#15123c"/></linearGradient><linearGradient id="h147"><stop offset="0.001" stop-color="#0c0b24"/><stop offset="0.221" stop-color="#0c0b24"/><stop offset="0.500" stop-color="#110f34"/><stop offset="0.999" stop-color="#110f34"/></linearGradient><linearGradient id="h148"><stop offset="0.001" stop-color="#0b0a20"/><stop offset="0.221" stop-color="#0b0a20"/><stop offset="0.500" stop-color="#0f0e30"/><stop offset="0.999" stop-color="#0f0e30"/></linearGradient><linearGradient id="h149"><stop offset="0.001" stop-color="#0a091d"/><stop offset="0.221" stop-color="#0a091d"/><stop offset="0.500" stop-color="#0d0c29"/><stop offset="0.999" stop-color="#0d0c29"/></linearGradient><linearGradient id="h150"><stop offset="0.001" stop-color="#09081b"/><stop offset="0.221" stop-color="#09081b"/><stop offset="0.500" stop-color="#0b0b23"/><stop offset="0.999" stop-color="#0b0b23"/></linearGradient><linearGradient id="h151"><stop offset="0.001" stop-color="#080818"/><stop offset="0.999" stop-color="#0a091e"/></linearGradient><linearGradient id="h152"><stop offset="0.001" stop-color="#080716"/><stop offset="0.999" stop-color="#09081a"/></linearGradient><linearGradient id="h153"><stop offset="0.001" stop-color="#070714"/><stop offset="0.999" stop-color="#080717"/></linearGradient><linearGradient id="h154"><stop offset="0.001" stop-color="#070612"/><stop offset="0.999" stop-color="#070714"/></linearGradient><linearGradient id="h155"><stop offset="0.001" stop-color="#060611"/><stop offset="0.999" stop-color="#060612"/></linearGradient><linearGradient id="h156"><stop offset="0.001" stop-color="#060610"/><stop offset="0.999" stop-color="#060610"/></linearGradient></defs><rect x="381.3" y="314.70" width="258.7" height="1.35" fill="url(#h0)"/><rect x="381.3" y="315.70" width="258.7" height="1.35" fill="url(#h1)"/><rect x="381.3" y="316.70" width="258.7" height="1.35" fill="url(#h2)"/><rect x="381.3" y="317.70" width="258.7" height="1.35" fill="url(#h3)"/><rect x="381.3" y="318.69" width="258.7" height="1.35" fill="url(#h4)"/><rect x="381.3" y="319.69" width="258.7" height="1.35" fill="url(#h5)"/><rect x="381.3" y="320.69" width="258.7" height="1.35" fill="url(#h6)"/><rect x="381.3" y="321.69" width="258.7" height="1.35" fill="url(#h7)"/><rect x="381.3" y="322.69" width="258.7" height="1.35" fill="url(#h8)"/><rect x="381.3" y="323.69" width="258.7" height="1.35" fill="url(#h9)"/><rect x="381.3" y="324.69" width="258.7" height="1.35" fill="url(#h10)"/><rect x="381.3" y="325.69" width="258.7" height="1.35" fill="url(#h11)"/><rect x="381.3" y="326.68" width="258.7" height="1.35" fill="url(#h12)"/><rect x="381.3" y="327.68" width="258.7" height="1.35" fill="url(#h13)"/><rect x="381.3" y="328.68" width="258.7" height="1.35" fill="url(#h14)"/><rect x="381.3" y="329.68" width="258.7" height="1.35" fill="url(#h15)"/><rect x="381.3" y="330.68" width="258.7" height="1.35" fill="url(#h16)"/><rect x="381.3" y="331.68" width="258.7" height="1.35" fill="url(#h17)"/><rect x="381.3" y="332.68" width="258.7" height="1.35" fill="url(#h18)"/><rect x="381.3" y="333.68" width="258.7" height="1.35" fill="url(#h19)"/><rect x="381.3" y="334.67" width="258.7" height="1.35" fill="url(#h20)"/><rect x="381.3" y="335.67" width="258.7" height="1.35" fill="url(#h21)"/><rect x="381.3" y="336.67" width="258.7" height="1.35" fill="url(#h22)"/><rect x="381.3" y="337.67" width="258.7" height="1.35" fill="url(#h23)"/><rect x="381.3" y="338.67" width="258.7" height="1.35" fill="url(#h24)"/><rect x="381.3" y="339.67" width="258.7" height="1.35" fill="url(#h25)"/><rect x="381.3" y="340.67" width="258.7" height="1.35" fill="url(#h26)"/><rect x="381.3" y="341.67" width="258.7" height="1.35" fill="url(#h27)"/><rect x="381.3" y="342.66" width="258.7" height="1.35" fill="url(#h28)"/><rect x="381.3" y="343.66" width="258.7" height="1.35" fill="url(#h29)"/><rect x="381.3" y="344.66" width="258.7" height="1.35" fill="url(#h30)"/><rect x="381.3" y="345.66" width="258.7" height="1.35" fill="url(#h31)"/><rect x="381.3" y="346.66" width="258.7" height="1.35" fill="url(#h32)"/><rect x="381.3" y="347.66" width="258.7" height="1.35" fill="url(#h33)"/><rect x="381.3" y="348.66" width="258.7" height="1.35" fill="url(#h34)"/><rect x="381.3" y="349.66" width="258.7" height="1.35" fill="url(#h35)"/><rect x="381.3" y="350.65" width="258.7" height="1.35" fill="url(#h36)"/><rect x="381.3" y="351.65" width="258.7" height="1.35" fill="url(#h37)"/><rect x="381.3" y="352.65" width="258.7" height="1.35" fill="url(#h38)"/><rect x="381.3" y="353.65" width="258.7" height="1.35" fill="url(#h39)"/><rect x="381.3" y="354.65" width="258.7" height="1.35" fill="url(#h40)"/><rect x="381.3" y="355.65" width="258.7" height="1.35" fill="url(#h41)"/><rect x="381.3" y="356.65" width="258.7" height="1.35" fill="url(#h42)"/><rect x="381.3" y="357.65" width="258.7" height="1.35" fill="url(#h43)"/><rect x="381.3" y="358.64" width="258.7" height="1.35" fill="url(#h44)"/><rect x="381.3" y="359.64" width="258.7" height="1.35" fill="url(#h45)"/><rect x="381.3" y="360.64" width="258.7" height="1.35" fill="url(#h46)"/><rect x="381.3" y="361.64" width="258.7" height="1.35" fill="url(#h47)"/><rect x="381.3" y="362.64" width="258.7" height="1.35" fill="url(#h48)"/><rect x="381.3" y="363.64" width="258.7" height="1.35" fill="url(#h49)"/><rect x="381.3" y="364.64" width="258.7" height="1.35" fill="url(#h50)"/><rect x="381.3" y="365.64" width="258.7" height="1.35" fill="url(#h51)"/><rect x="381.3" y="366.63" width="258.7" height="1.35" fill="url(#h52)"/><rect x="381.3" y="367.63" width="258.7" height="1.35" fill="url(#h53)"/><rect x="381.3" y="368.63" width="258.7" height="1.35" fill="url(#h54)"/><rect x="381.3" y="369.63" width="258.7" height="1.35" fill="url(#h55)"/><rect x="381.3" y="370.63" width="258.7" height="1.35" fill="url(#h56)"/><rect x="381.3" y="371.63" width="258.7" height="1.35" fill="url(#h57)"/><rect x="381.3" y="372.63" width="258.7" height="1.35" fill="url(#h58)"/><rect x="381.3" y="373.62" width="258.7" height="1.35" fill="url(#h59)"/><rect x="381.3" y="374.62" width="258.7" height="1.35" fill="url(#h60)"/><rect x="381.3" y="375.62" width="258.7" height="1.35" fill="url(#h61)"/><rect x="381.3" y="376.62" width="258.7" height="1.35" fill="url(#h62)"/><rect x="381.3" y="377.62" width="258.7" height="1.35" fill="url(#h63)"/><rect x="381.3" y="378.62" width="258.7" height="1.35" fill="url(#h64)"/><rect x="381.3" y="379.62" width="258.7" height="1.35" fill="url(#h65)"/><rect x="381.3" y="380.62" width="258.7" height="1.35" fill="url(#h66)"/><rect x="381.3" y="381.61" width="258.7" height="1.35" fill="url(#h67)"/><rect x="381.3" y="382.61" width="258.7" height="1.35" fill="url(#h68)"/><rect x="381.3" y="383.61" width="258.7" height="1.35" fill="url(#h69)"/><rect x="381.3" y="384.61" width="258.7" height="1.35" fill="url(#h70)"/><rect x="381.3" y="385.61" width="258.7" height="1.35" fill="url(#h71)"/><rect x="381.3" y="386.61" width="258.7" height="1.35" fill="url(#h72)"/><rect x="381.3" y="387.61" width="258.7" height="1.35" fill="url(#h73)"/><rect x="381.3" y="388.61" width="258.7" height="1.35" fill="url(#h74)"/><rect x="381.3" y="389.60" width="258.7" height="1.35" fill="url(#h75)"/><rect x="381.3" y="390.60" width="258.7" height="1.35" fill="url(#h76)"/><rect x="381.3" y="391.60" width="258.7" height="1.35" fill="url(#h77)"/><rect x="381.3" y="392.60" width="258.7" height="1.35" fill="url(#h78)"/><rect x="381.3" y="393.60" width="258.7" height="1.35" fill="url(#h79)"/><rect x="381.3" y="394.60" width="258.7" height="1.35" fill="url(#h80)"/><rect x="381.3" y="395.60" width="258.7" height="1.35" fill="url(#h81)"/><rect x="381.3" y="396.60" width="258.7" height="1.35" fill="url(#h82)"/><rect x="381.3" y="397.59" width="258.7" height="1.35" fill="url(#h83)"/><rect x="381.3" y="398.59" width="258.7" height="1.35" fill="url(#h84)"/><rect x="381.3" y="399.59" width="258.7" height="1.35" fill="url(#h85)"/><rect x="381.3" y="400.59" width="258.7" height="1.35" fill="url(#h86)"/><rect x="381.3" y="401.59" width="258.7" height="1.35" fill="url(#h87)"/><rect x="381.3" y="402.59" width="258.7" height="1.35" fill="url(#h88)"/><rect x="381.3" y="403.59" width="258.7" height="1.35" fill="url(#h89)"/><rect x="381.3" y="404.59" width="258.7" height="1.35" fill="url(#h90)"/><rect x="381.3" y="405.58" width="258.7" height="1.35" fill="url(#h91)"/><rect x="381.3" y="406.58" width="258.7" height="1.35" fill="url(#h92)"/><rect x="381.3" y="407.58" width="258.7" height="1.35" fill="url(#h93)"/><rect x="381.3" y="408.58" width="258.7" height="1.35" fill="url(#h94)"/><rect x="381.3" y="409.58" width="258.7" height="1.35" fill="url(#h95)"/><rect x="381.3" y="410.58" width="258.7" height="1.35" fill="url(#h96)"/><rect x="381.3" y="411.58" width="258.7" height="1.35" fill="url(#h97)"/><rect x="381.3" y="412.58" width="258.7" height="1.35" fill="url(#h98)"/><rect x="381.3" y="413.57" width="258.7" height="1.35" fill="url(#h99)"/><rect x="381.3" y="414.57" width="258.7" height="1.35" fill="url(#h100)"/><rect x="381.3" y="415.57" width="258.7" height="1.35" fill="url(#h101)"/><rect x="381.3" y="416.57" width="258.7" height="1.35" fill="url(#h102)"/><rect x="381.3" y="417.57" width="258.7" height="1.35" fill="url(#h103)"/><rect x="381.3" y="418.57" width="258.7" height="1.35" fill="url(#h104)"/><rect x="381.3" y="419.57" width="258.7" height="1.35" fill="url(#h105)"/><rect x="381.3" y="420.56" width="258.7" height="1.35" fill="url(#h106)"/><rect x="381.3" y="421.56" width="258.7" height="1.35" fill="url(#h107)"/><rect x="381.3" y="422.56" width="258.7" height="1.35" fill="url(#h108)"/><rect x="381.3" y="423.56" width="258.7" height="1.35" fill="url(#h109)"/><rect x="381.3" y="424.56" width="258.7" height="1.35" fill="url(#h110)"/><rect x="381.3" y="425.56" width="258.7" height="1.35" fill="url(#h111)"/><rect x="381.3" y="426.56" width="258.7" height="1.35" fill="url(#h112)"/><rect x="381.3" y="427.56" width="258.7" height="1.35" fill="url(#h113)"/><rect x="381.3" y="428.55" width="258.7" height="1.35" fill="url(#h114)"/><rect x="381.3" y="429.55" width="258.7" height="1.35" fill="url(#h115)"/><rect x="381.3" y="430.55" width="258.7" height="1.35" fill="url(#h116)"/><rect x="381.3" y="431.55" width="258.7" height="1.35" fill="url(#h117)"/><rect x="381.3" y="432.55" width="258.7" height="1.35" fill="url(#h118)"/><rect x="381.3" y="433.55" width="258.7" height="1.35" fill="url(#h119)"/><rect x="381.3" y="434.55" width="258.7" height="1.35" fill="url(#h120)"/><rect x="381.3" y="435.55" width="258.7" height="1.35" fill="url(#h121)"/><rect x="381.3" y="436.54" width="258.7" height="1.35" fill="url(#h122)"/><rect x="381.3" y="437.54" width="258.7" height="1.35" fill="url(#h123)"/><rect x="381.3" y="438.54" width="258.7" height="1.35" fill="url(#h124)"/><rect x="381.3" y="439.54" width="258.7" height="1.35" fill="url(#h125)"/><rect x="381.3" y="440.54" width="258.7" height="1.35" fill="url(#h126)"/><rect x="381.3" y="441.54" width="258.7" height="1.35" fill="url(#h127)"/><rect x="381.3" y="442.54" width="258.7" height="1.35" fill="url(#h128)"/><rect x="381.3" y="443.54" width="258.7" height="1.35" fill="url(#h129)"/><rect x="381.3" y="444.53" width="258.7" height="1.35" fill="url(#h130)"/><rect x="381.3" y="445.53" width="258.7" height="1.35" fill="url(#h131)"/><rect x="381.3" y="446.53" width="258.7" height="1.35" fill="url(#h132)"/><rect x="381.3" y="447.53" width="258.7" height="1.35" fill="url(#h133)"/><rect x="381.3" y="448.53" width="258.7" height="1.35" fill="url(#h134)"/><rect x="381.3" y="449.53" width="258.7" height="1.35" fill="url(#h135)"/><rect x="381.3" y="450.53" width="258.7" height="1.35" fill="url(#h136)"/><rect x="381.3" y="451.53" width="258.7" height="1.35" fill="url(#h137)"/><rect x="381.3" y="452.52" width="258.7" height="1.35" fill="url(#h138)"/><rect x="381.3" y="453.52" width="258.7" height="1.35" fill="url(#h139)"/><rect x="381.3" y="454.52" width="258.7" height="1.35" fill="url(#h140)"/><rect x="381.3" y="455.52" width="258.7" height="1.35" fill="url(#h141)"/><rect x="381.3" y="456.52" width="258.7" height="1.35" fill="url(#h142)"/><rect x="381.3" y="457.52" width="258.7" height="1.35" fill="url(#h143)"/><rect x="381.3" y="458.52" width="258.7" height="1.35" fill="url(#h144)"/><rect x="381.3" y="459.52" width="258.7" height="1.35" fill="url(#h145)"/><rect x="381.3" y="460.51" width="258.7" height="1.35" fill="url(#h146)"/><rect x="381.3" y="461.51" width="258.7" height="1.35" fill="url(#h147)"/><rect x="381.3" y="462.51" width="258.7" height="1.35" fill="url(#h148)"/><rect x="381.3" y="463.51" width="258.7" height="1.35" fill="url(#h149)"/><rect x="381.3" y="464.51" width="258.7" height="1.35" fill="url(#h150)"/><rect x="381.3" y="465.51" width="258.7" height="1.35" fill="url(#h151)"/><rect x="381.3" y="466.51" width="258.7" height="1.35" fill="url(#h152)"/><rect x="381.3" y="467.51" width="258.7" height="1.35" fill="url(#h153)"/><rect x="381.3" y="468.50" width="258.7" height="1.35" fill="url(#h154)"/><rect x="381.3" y="469.50" width="258.7" height="1.35" fill="url(#h155)"/><rect x="381.3" y="470.50" width="258.7" height="1.35" fill="url(#h156)"/>
<path d="M471.60,472.00 L640.50,367.80 L640.50,472.00 Z" fill="#fff"/>
<line x1="404.67" y1="471.50" x2="470.58" y2="314.70" stroke="#e8343c" stroke-width="1.8" stroke-dasharray="6.5 3.6"/>
<line x1="419.46" y1="471.50" x2="527.08" y2="314.70" stroke="#22a84c" stroke-width="1.8" stroke-dasharray="6.5 3.6"/>
<line x1="433.10" y1="471.50" x2="579.15" y2="314.70" stroke="#f28c2c" stroke-width="1.8" stroke-dasharray="6.5 3.6"/>
<line x1="445.15" y1="471.50" x2="625.20" y2="314.70" stroke="#1e84c6" stroke-width="1.8" stroke-dasharray="6.5 3.6"/>
<text x="473.60" y="327.76" font-size="9.6" text-anchor="start" fill="#e8343c" font-weight="normal" transform="translate(0 -32.43) scale(1 1.1)" >15°</text>
<text x="527.60" y="327.76" font-size="9.6" text-anchor="start" fill="#22a84c" font-weight="normal" transform="translate(0 -32.43) scale(1 1.1)" >25°</text>
<text x="579.40" y="327.76" font-size="9.6" text-anchor="start" fill="#f28c2c" font-weight="normal" transform="translate(0 -32.43) scale(1 1.1)" >35°</text>
<text x="621.80" y="327.76" font-size="9.6" text-anchor="start" fill="#1e84c6" font-weight="normal" transform="translate(0 -32.43) scale(1 1.1)" >45°</text>
<line x1="637.50" y1="341.75" x2="640.00" y2="341.75" stroke="#888" stroke-width="0.8" />
<text x="644.60" y="345.24" font-size="9.7" text-anchor="start" fill="#4a4a4a" font-weight="normal" transform="translate(0 -34.17) scale(1 1.1)" >600</text>
<line x1="637.50" y1="388.09" x2="640.00" y2="388.09" stroke="#888" stroke-width="0.8" />
<text x="644.60" y="391.58" font-size="9.7" text-anchor="start" fill="#4a4a4a" font-weight="normal" transform="translate(0 -38.81) scale(1 1.1)" >800</text>
<line x1="637.50" y1="426.00" x2="640.00" y2="426.00" stroke="#888" stroke-width="0.8" />
<text x="644.60" y="429.49" font-size="9.7" text-anchor="start" fill="#4a4a4a" font-weight="normal" transform="translate(0 -42.60) scale(1 1.1)" >1,100</text>
<line x1="637.50" y1="452.96" x2="640.00" y2="452.96" stroke="#888" stroke-width="0.8" />
<text x="644.60" y="456.46" font-size="9.7" text-anchor="start" fill="#4a4a4a" font-weight="normal" transform="translate(0 -45.30) scale(1 1.1)" >1,500</text>
<text x="644.60" y="474.99" font-size="9.7" text-anchor="start" fill="#4a4a4a" font-weight="normal" transform="translate(0 -47.15) scale(1 1.1)" >2,000</text>
<line x1="640.00" y1="367.80" x2="640.00" y2="471.50" stroke="#777" stroke-width="0.8" />
<line x1="381.30" y1="314.70" x2="381.30" y2="471.50" stroke="#444" stroke-width="0.9" />
<line x1="381.30" y1="471.50" x2="640.40" y2="471.50" stroke="#777" stroke-width="0.9" />
<line x1="381.30" y1="314.40" x2="640.00" y2="314.40" stroke="#aaa" stroke-width="0.7" />
<line x1="381.30" y1="456.31" x2="383.80" y2="456.31" stroke="#666" stroke-width="0.8" />
<text x="377.30" y="459.80" font-size="9.7" text-anchor="end" fill="#4a4a4a" font-weight="normal" transform="translate(0 -45.63) scale(1 1.1)" >4</text>
<line x1="381.30" y1="420.90" x2="383.80" y2="420.90" stroke="#666" stroke-width="0.8" />
<text x="377.30" y="424.40" font-size="9.7" text-anchor="end" fill="#4a4a4a" font-weight="normal" transform="translate(0 -42.09) scale(1 1.1)" >6</text>
<line x1="381.30" y1="385.50" x2="383.80" y2="385.50" stroke="#666" stroke-width="0.8" />
<text x="377.30" y="388.99" font-size="9.7" text-anchor="end" fill="#4a4a4a" font-weight="normal" transform="translate(0 -38.55) scale(1 1.1)" >8</text>
<line x1="381.30" y1="350.10" x2="383.80" y2="350.10" stroke="#666" stroke-width="0.8" />
<text x="377.30" y="353.59" font-size="9.7" text-anchor="end" fill="#4a4a4a" font-weight="normal" transform="translate(0 -35.01) scale(1 1.1)" >10</text>
<text x="377.30" y="318.19" font-size="9.7" text-anchor="end" fill="#4a4a4a" font-weight="normal" transform="translate(0 -31.47) scale(1 1.1)" >12</text>
<text x="381.30" y="484.39" font-size="9.7" text-anchor="middle" fill="#4a4a4a" font-weight="normal" transform="translate(0 -48.09) scale(1 1.1)" >0</text>
<line x1="438.79" y1="471.50" x2="438.79" y2="468.30" stroke="#777" stroke-width="0.8" />
<text x="438.79" y="484.39" font-size="9.7" text-anchor="middle" fill="#4a4a4a" font-weight="normal" transform="translate(0 -48.09) scale(1 1.1)" >2</text>
<line x1="496.28" y1="471.50" x2="496.28" y2="468.30" stroke="#777" stroke-width="0.8" />
<text x="496.28" y="484.39" font-size="9.7" text-anchor="middle" fill="#4a4a4a" font-weight="normal" transform="translate(0 -48.09) scale(1 1.1)" >4</text>
<line x1="553.77" y1="471.50" x2="553.77" y2="468.30" stroke="#777" stroke-width="0.8" />
<text x="553.77" y="484.39" font-size="9.7" text-anchor="middle" fill="#4a4a4a" font-weight="normal" transform="translate(0 -48.09) scale(1 1.1)" >6</text>
<line x1="611.26" y1="471.50" x2="611.26" y2="468.30" stroke="#777" stroke-width="0.8" />
<text x="611.26" y="484.39" font-size="9.7" text-anchor="middle" fill="#4a4a4a" font-weight="normal" transform="translate(0 -48.09) scale(1 1.1)" >8</text>
<text transform="translate(361.8 393.7) rotate(-90)" font-size="11" fill="#444444" text-anchor="middle"><tspan font-style="italic">k</tspan><tspan font-size="7.5" dy="2">0</tspan><tspan dy="-2">, μm</tspan><tspan font-size="7.5" dy="-4">−1</tspan></text>
<text x="510.5" y="497.8" font-size="11" fill="#444444" text-anchor="middle"><tspan font-style="italic">k</tspan><tspan font-size="7.5" dy="2">x</tspan><tspan dy="-2">, μm</tspan><tspan font-size="7.5" dy="-4">−1</tspan></text>
<text x="680.60" y="401.03" font-size="11.2" text-anchor="middle" fill="#444444" font-weight="normal" transform="rotate(90 680.60 397.00)" >Wavelength, nm</text>
<text x="619.30" y="409.89" font-size="10.8" text-anchor="middle" fill="#333" font-weight="normal" >Lattice</text>
<text x="619.50" y="421.09" font-size="10.8" text-anchor="middle" fill="#333" font-weight="normal" >mode</text>
<text x="562.30" y="449.69" font-size="10.8" text-anchor="middle" fill="#333" font-weight="normal" >Gap</text>
<text x="562.50" y="459.39" font-size="10.8" text-anchor="middle" fill="#333" font-weight="normal" >mode</text>
<line x1="614.5" y1="397.5" x2="609.11" y2="392.46" stroke="#222" stroke-width="1.6"/>
<path d="M606.80,390.30 L612.36,391.67 L608.54,395.76 Z" fill="#222"/>
<line x1="547.2" y1="438.8" x2="542.02" y2="434.04" stroke="#222" stroke-width="1.6"/>
<path d="M539.80,432.00 L545.38,433.32 L541.59,437.44 Z" fill="#222"/>
<linearGradient id="cbar"><stop offset="0.0" stop-color="#040409"/><stop offset="0.05" stop-color="#0f0e30"/><stop offset="0.1" stop-color="#1a1545"/><stop offset="0.15" stop-color="#25205a"/><stop offset="0.2" stop-color="#2e2a6a"/><stop offset="0.25" stop-color="#3e2f70"/><stop offset="0.3" stop-color="#4e2f74"/><stop offset="0.35" stop-color="#5e2e78"/><stop offset="0.4" stop-color="#742c7c"/><stop offset="0.45" stop-color="#8e2e7c"/><stop offset="0.5" stop-color="#b2397a"/><stop offset="0.55" stop-color="#cc4470"/><stop offset="0.6" stop-color="#e05a68"/><stop offset="0.65" stop-color="#ea6a62"/><stop offset="0.7" stop-color="#ee7a66"/><stop offset="0.75" stop-color="#f0906a"/><stop offset="0.8" stop-color="#f2a070"/><stop offset="0.85" stop-color="#f5b47e"/><stop offset="0.9" stop-color="#f8c890"/><stop offset="0.95" stop-color="#f7e0a4"/><stop offset="1.0" stop-color="#f2f2b4"/></linearGradient>
<rect x="381.5" y="292.3" width="258.5" height="12.8" fill="url(#cbar)" stroke="#999" stroke-width="0.6"/>
<line x1="381.50" y1="287.80" x2="381.50" y2="292.30" stroke="#888" stroke-width="0.8" />
<text x="381.50" y="284.69" font-size="9.7" text-anchor="middle" fill="#4a4a4a" font-weight="normal" transform="translate(0 -28.12) scale(1 1.1)" >0</text>
<line x1="433.20" y1="287.80" x2="433.20" y2="292.30" stroke="#888" stroke-width="0.8" />
<text x="433.20" y="284.69" font-size="9.7" text-anchor="middle" fill="#4a4a4a" font-weight="normal" transform="translate(0 -28.12) scale(1 1.1)" >0.2</text>
<line x1="484.90" y1="287.80" x2="484.90" y2="292.30" stroke="#888" stroke-width="0.8" />
<text x="484.90" y="284.69" font-size="9.7" text-anchor="middle" fill="#4a4a4a" font-weight="normal" transform="translate(0 -28.12) scale(1 1.1)" >0.4</text>
<line x1="536.60" y1="287.80" x2="536.60" y2="292.30" stroke="#888" stroke-width="0.8" />
<text x="536.60" y="284.69" font-size="9.7" text-anchor="middle" fill="#4a4a4a" font-weight="normal" transform="translate(0 -28.12) scale(1 1.1)" >0.6</text>
<line x1="588.30" y1="287.80" x2="588.30" y2="292.30" stroke="#888" stroke-width="0.8" />
<text x="588.30" y="284.69" font-size="9.7" text-anchor="middle" fill="#4a4a4a" font-weight="normal" transform="translate(0 -28.12) scale(1 1.1)" >0.8</text>
<line x1="640.00" y1="287.80" x2="640.00" y2="292.30" stroke="#888" stroke-width="0.8" />
<text x="640.00" y="284.69" font-size="9.7" text-anchor="middle" fill="#4a4a4a" font-weight="normal" transform="translate(0 -28.12) scale(1 1.1)" >1.0</text>
<text x="511.00" y="270.13" font-size="11.2" text-anchor="middle" fill="#444444" font-weight="normal" >EL intensity, a.u.</text>
<text x="348.5" y="268.8" font-size="15.5" font-weight="bold" fill="#111" stroke="#111" stroke-width="0.5">f</text>
</svg></body></html>
